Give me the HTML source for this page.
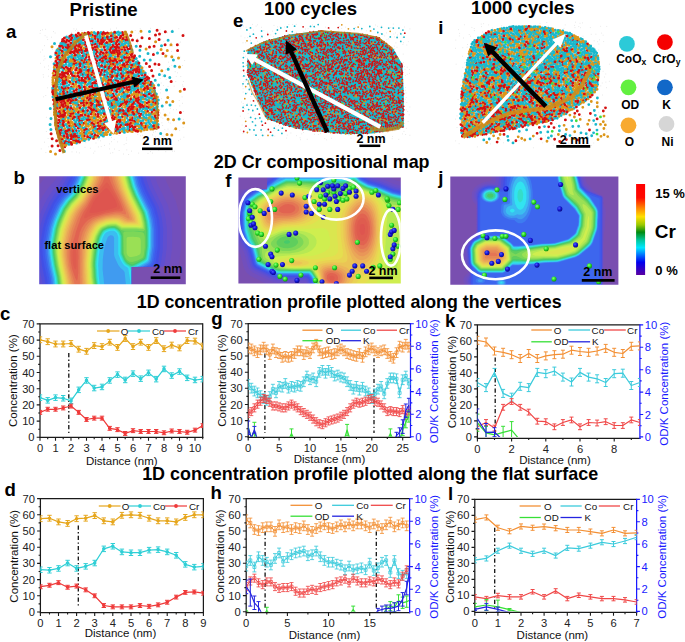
<!DOCTYPE html>
<html><head><meta charset="utf-8"><style>
*{margin:0;padding:0}
html,body{width:685px;height:642px;overflow:hidden;background:#fff}
svg{display:block}
text{font-family:"Liberation Sans",sans-serif}
.tk{font-size:11.2px;fill:#222}
.lg{font-size:9.8px;fill:#111}
.at{font-size:11.5px;fill:#111}
.tt{font-size:18.6px;font-weight:bold;fill:#000}
.t2{font-size:17.8px;font-weight:bold;fill:#000}
.pl{font-size:18.6px;font-weight:bold;fill:#000}
.sb{font-size:12.5px;font-weight:bold;fill:#000}
.lgd{font-size:12px;font-weight:bold;fill:#000}
.hl{font-size:11.2px;font-weight:bold;fill:#000}
.cb{font-size:13px;font-weight:bold;fill:#000}
.cb2{font-size:19px;font-weight:bold;fill:#000}
</style></head>
<body><svg width="685" height="642" viewBox="0 0 685 642">
<path d="M40 323.9H202.7M40 323.3V438M39.4 437.4H203.3" stroke="#1a1a1a" stroke-width="1.25" fill="none"/>
<path d="M202.7 323.3V438" stroke="#1a1a1a" stroke-width="1.25" fill="none"/>
<path d="M40 437.4v3.3M55.5 437.4v3.3M71 437.4v3.3M86.5 437.4v3.3M102 437.4v3.3M117.5 437.4v3.3M133 437.4v3.3M148.5 437.4v3.3M164 437.4v3.3M179.5 437.4v3.3M195 437.4v3.3M47.7 437.4v1.8M63.2 437.4v1.8M78.7 437.4v1.8M94.2 437.4v1.8M109.7 437.4v1.8M125.2 437.4v1.8M140.7 437.4v1.8M156.2 437.4v1.8M171.7 437.4v1.8M187.2 437.4v1.8M202.7 437.4v1.8M40 437.3h-3.3M40 421.1h-3.3M40 404.9h-3.3M40 388.7h-3.3M40 372.5h-3.3M40 356.3h-3.3M40 340.1h-3.3M40 323.9h-3.3M40 429.2h-1.8M40 413h-1.8M40 396.8h-1.8M40 380.6h-1.8M40 364.4h-1.8M40 348.2h-1.8M40 332h-1.8" stroke="#1a1a1a" stroke-width="1.1" fill="none"/>
<text x="40" y="451.7" text-anchor="middle" class="tk">0</text>
<text x="55.5" y="451.7" text-anchor="middle" class="tk">1</text>
<text x="71" y="451.7" text-anchor="middle" class="tk">2</text>
<text x="86.5" y="451.7" text-anchor="middle" class="tk">3</text>
<text x="102" y="451.7" text-anchor="middle" class="tk">4</text>
<text x="117.5" y="451.7" text-anchor="middle" class="tk">5</text>
<text x="133" y="451.7" text-anchor="middle" class="tk">6</text>
<text x="148.5" y="451.7" text-anchor="middle" class="tk">7</text>
<text x="164" y="451.7" text-anchor="middle" class="tk">8</text>
<text x="179.5" y="451.7" text-anchor="middle" class="tk">9</text>
<text x="195" y="451.7" text-anchor="middle" class="tk">10</text>
<text x="34.6" y="441.3" text-anchor="end" class="tk">0</text>
<text x="34.6" y="425.1" text-anchor="end" class="tk">10</text>
<text x="34.6" y="408.9" text-anchor="end" class="tk">20</text>
<text x="34.6" y="392.7" text-anchor="end" class="tk">30</text>
<text x="34.6" y="376.5" text-anchor="end" class="tk">40</text>
<text x="34.6" y="360.3" text-anchor="end" class="tk">50</text>
<text x="34.6" y="344.1" text-anchor="end" class="tk">60</text>
<text x="34.6" y="327.9" text-anchor="end" class="tk">70</text>
<clipPath id="cl723"><rect x="40" y="323.9" width="162.7" height="113.4"/></clipPath>
<path d="M68.8 353V433.5" stroke="#111" stroke-width="1.3" stroke-dasharray="4.2 2.4 1.3 2.4" fill="none"/>
<g clip-path="url(#cl723)">
<polyline points="40,339.8 47.7,341.7 55.5,344 63.2,344 71,343.5 78.7,349.2 86.5,351.3 94.2,345.6 102,346.6 109.7,342.2 117.5,347.4 125.2,338.5 133,346.6 140.7,342.2 148.5,347.4 156.2,340.6 164,348.7 171.7,345.1 179.5,347.9 187.2,340.6 195,341.1 202.7,346.1" fill="none" stroke="#e6a61c" stroke-width="1.2" stroke-linejoin="round"/>
<path d="M40 336.9V342.7M37.8 336.9h4.4M37.8 342.7h4.4M47.7 338.8V344.6M45.5 338.8h4.4M45.5 344.6h4.4M55.5 341.1V346.9M53.3 341.1h4.4M53.3 346.9h4.4M63.2 341.1V346.9M61 341.1h4.4M61 346.9h4.4M71 340.6V346.4M68.8 340.6h4.4M68.8 346.4h4.4M78.7 346.3V352.1M76.5 346.3h4.4M76.5 352.1h4.4M86.5 348.4V354.2M84.3 348.4h4.4M84.3 354.2h4.4M94.2 342.7V348.5M92 342.7h4.4M92 348.5h4.4M102 343.7V349.5M99.8 343.7h4.4M99.8 349.5h4.4M109.7 339.3V345.1M107.5 339.3h4.4M107.5 345.1h4.4M117.5 344.5V350.3M115.3 344.5h4.4M115.3 350.3h4.4M125.2 335.6V341.4M123 335.6h4.4M123 341.4h4.4M133 343.7V349.5M130.8 343.7h4.4M130.8 349.5h4.4M140.7 339.3V345.1M138.5 339.3h4.4M138.5 345.1h4.4M148.5 344.5V350.3M146.3 344.5h4.4M146.3 350.3h4.4M156.2 337.7V343.5M154 337.7h4.4M154 343.5h4.4M164 345.8V351.6M161.8 345.8h4.4M161.8 351.6h4.4M171.7 342.2V348M169.5 342.2h4.4M169.5 348h4.4M179.5 345V350.8M177.3 345h4.4M177.3 350.8h4.4M187.2 337.7V343.5M185 337.7h4.4M185 343.5h4.4M195 338.2V344M192.8 338.2h4.4M192.8 344h4.4M202.7 343.2V349M200.5 343.2h4.4M200.5 349h4.4" fill="none" stroke="#e6a61c" stroke-width="1.0"/>
<path d="M40 339.8h0M47.7 341.7h0M55.5 344h0M63.2 344h0M71 343.5h0M78.7 349.2h0M86.5 351.3h0M94.2 345.6h0M102 346.6h0M109.7 342.2h0M117.5 347.4h0M125.2 338.5h0M133 346.6h0M140.7 342.2h0M148.5 347.4h0M156.2 340.6h0M164 348.7h0M171.7 345.1h0M179.5 347.9h0M187.2 340.6h0M195 341.1h0M202.7 346.1h0" stroke="#e6a61c" stroke-width="3.6" stroke-linecap="round"/>
<polyline points="40,397.6 47.7,400.4 55.5,397.6 63.2,398.3 71,400.9 78.7,389.8 86.5,380.4 94.2,388.1 102,386.9 109.7,380.4 117.5,374.6 125.2,380 133,373.6 140.7,378.7 148.5,372.8 156.2,379.1 164,368.9 171.7,375.6 179.5,371.5 187.2,377.8 195,380 202.7,379.1" fill="none" stroke="#2fcfd6" stroke-width="1.2" stroke-linejoin="round"/>
<path d="M40 394.9V400.4M37.8 394.9h4.4M37.8 400.4h4.4M47.7 397.6V403.1M45.5 397.6h4.4M45.5 403.1h4.4M55.5 394.9V400.4M53.3 394.9h4.4M53.3 400.4h4.4M63.2 395.5V401M61 395.5h4.4M61 401h4.4M71 398.1V403.6M68.8 398.1h4.4M68.8 403.6h4.4M78.7 387.1V392.6M76.5 387.1h4.4M76.5 392.6h4.4M86.5 377.7V383.2M84.3 377.7h4.4M84.3 383.2h4.4M94.2 385.3V390.8M92 385.3h4.4M92 390.8h4.4M102 384.2V389.7M99.8 384.2h4.4M99.8 389.7h4.4M109.7 377.7V383.2M107.5 377.7h4.4M107.5 383.2h4.4M117.5 371.9V377.4M115.3 371.9h4.4M115.3 377.4h4.4M125.2 377.2V382.7M123 377.2h4.4M123 382.7h4.4M133 370.9V376.4M130.8 370.9h4.4M130.8 376.4h4.4M140.7 375.9V381.4M138.5 375.9h4.4M138.5 381.4h4.4M148.5 370.1V375.6M146.3 370.1h4.4M146.3 375.6h4.4M156.2 376.4V381.9M154 376.4h4.4M154 381.9h4.4M164 366.2V371.7M161.8 366.2h4.4M161.8 371.7h4.4M171.7 372.8V378.3M169.5 372.8h4.4M169.5 378.3h4.4M179.5 368.8V374.3M177.3 368.8h4.4M177.3 374.3h4.4M187.2 375.1V380.6M185 375.1h4.4M185 380.6h4.4M195 377.2V382.7M192.8 377.2h4.4M192.8 382.7h4.4M202.7 376.4V381.9M200.5 376.4h4.4M200.5 381.9h4.4" fill="none" stroke="#2fcfd6" stroke-width="1.0"/>
<path d="M40 397.6h0M47.7 400.4h0M55.5 397.6h0M63.2 398.3h0M71 400.9h0M78.7 389.8h0M86.5 380.4h0M94.2 388.1h0M102 386.9h0M109.7 380.4h0M117.5 374.6h0M125.2 380h0M133 373.6h0M140.7 378.7h0M148.5 372.8h0M156.2 379.1h0M164 368.9h0M171.7 375.6h0M179.5 371.5h0M187.2 377.8h0M195 380h0M202.7 379.1h0" stroke="#2fcfd6" stroke-width="3.6" stroke-linecap="round"/>
<polyline points="40,412.4 47.7,409.3 55.5,409.3 63.2,408 71,406 78.7,412.4 86.5,419.5 94.2,418.2 102,418.2 109.7,428.4 117.5,429.7 125.2,433.4 133,430.7 140.7,431.5 148.5,431.5 156.2,431.5 164,432.8 171.7,431 179.5,431.5 187.2,432.3 195,430.2 202.7,425.6" fill="none" stroke="#ef3a3a" stroke-width="1.2" stroke-linejoin="round"/>
<path d="M40 410.4V414.3M37.8 410.4h4.4M37.8 414.3h4.4M47.7 407.3V411.2M45.5 407.3h4.4M45.5 411.2h4.4M55.5 407.3V411.2M53.3 407.3h4.4M53.3 411.2h4.4M63.2 406V409.9M61 406h4.4M61 409.9h4.4M71 404.1V408M68.8 404.1h4.4M68.8 408h4.4M78.7 410.4V414.3M76.5 410.4h4.4M76.5 414.3h4.4M86.5 417.5V421.4M84.3 417.5h4.4M84.3 421.4h4.4M94.2 416.2V420.1M92 416.2h4.4M92 420.1h4.4M102 416.2V420.1M99.8 416.2h4.4M99.8 420.1h4.4M109.7 426.4V430.3M107.5 426.4h4.4M107.5 430.3h4.4M117.5 427.7V431.6M115.3 427.7h4.4M115.3 431.6h4.4M125.2 431.5V435.4M123 431.5h4.4M123 435.4h4.4M133 428.7V432.6M130.8 428.7h4.4M130.8 432.6h4.4M140.7 429.5V433.4M138.5 429.5h4.4M138.5 433.4h4.4M148.5 429.5V433.4M146.3 429.5h4.4M146.3 433.4h4.4M156.2 429.5V433.4M154 429.5h4.4M154 433.4h4.4M164 430.8V434.7M161.8 430.8h4.4M161.8 434.7h4.4M171.7 429V432.9M169.5 429h4.4M169.5 432.9h4.4M179.5 429.5V433.4M177.3 429.5h4.4M177.3 433.4h4.4M187.2 430.3V434.2M185 430.3h4.4M185 434.2h4.4M195 428.2V432.1M192.8 428.2h4.4M192.8 432.1h4.4M202.7 423.7V427.6M200.5 423.7h4.4M200.5 427.6h4.4" fill="none" stroke="#ef3a3a" stroke-width="1.0"/>
<path d="M40 412.4h0M47.7 409.3h0M55.5 409.3h0M63.2 408h0M71 406h0M78.7 412.4h0M86.5 419.5h0M94.2 418.2h0M102 418.2h0M109.7 428.4h0M117.5 429.7h0M125.2 433.4h0M133 430.7h0M140.7 431.5h0M148.5 431.5h0M156.2 431.5h0M164 432.8h0M171.7 431h0M179.5 431.5h0M187.2 432.3h0M195 430.2h0M202.7 425.6h0" stroke="#ef3a3a" stroke-width="3.6" stroke-linecap="round"/>
</g>
<path d="M97 331H119.5" stroke="#e6a61c" stroke-width="1.2"/><circle cx="108.2" cy="331" r="1.9" fill="#e6a61c"/>
<text x="120.7" y="334.6" class="lg">O</text>
<path d="M128 331H150" stroke="#2fcfd6" stroke-width="1.2"/><circle cx="139" cy="331" r="1.9" fill="#2fcfd6"/>
<text x="152" y="334.6" class="lg">Co</text>
<path d="M164 331H186" stroke="#ef3a3a" stroke-width="1.2"/><circle cx="175" cy="331" r="1.9" fill="#ef3a3a"/>
<text x="188" y="334.6" class="lg">Cr</text>
<path d="M40.4 498.6H203.4M40.4 498V613.2M39.8 612.6H204" stroke="#1a1a1a" stroke-width="1.25" fill="none"/>
<path d="M203.4 498V613.2" stroke="#1a1a1a" stroke-width="1.25" fill="none"/>
<path d="M40.4 612.6v3.3M58.5 612.6v3.3M76.6 612.6v3.3M94.7 612.6v3.3M112.8 612.6v3.3M131 612.6v3.3M149.1 612.6v3.3M167.2 612.6v3.3M185.3 612.6v3.3M203.4 612.6v3.3M49.5 612.6v1.8M67.6 612.6v1.8M85.7 612.6v1.8M103.8 612.6v1.8M121.9 612.6v1.8M140 612.6v1.8M158.1 612.6v1.8M176.2 612.6v1.8M194.3 612.6v1.8M40.4 612h-3.3M40.4 595.8h-3.3M40.4 579.6h-3.3M40.4 563.4h-3.3M40.4 547.2h-3.3M40.4 531h-3.3M40.4 514.8h-3.3M40.4 498.6h-3.3M40.4 603.9h-1.8M40.4 587.7h-1.8M40.4 571.5h-1.8M40.4 555.3h-1.8M40.4 539.1h-1.8M40.4 522.9h-1.8M40.4 506.7h-1.8" stroke="#1a1a1a" stroke-width="1.1" fill="none"/>
<text x="40.4" y="626.9" text-anchor="middle" class="tk">0</text>
<text x="58.5" y="626.9" text-anchor="middle" class="tk">1</text>
<text x="76.6" y="626.9" text-anchor="middle" class="tk">2</text>
<text x="94.7" y="626.9" text-anchor="middle" class="tk">3</text>
<text x="112.8" y="626.9" text-anchor="middle" class="tk">4</text>
<text x="131" y="626.9" text-anchor="middle" class="tk">5</text>
<text x="149.1" y="626.9" text-anchor="middle" class="tk">6</text>
<text x="167.2" y="626.9" text-anchor="middle" class="tk">7</text>
<text x="185.3" y="626.9" text-anchor="middle" class="tk">8</text>
<text x="203.4" y="626.9" text-anchor="middle" class="tk">9</text>
<text x="35" y="616" text-anchor="end" class="tk">0</text>
<text x="35" y="599.8" text-anchor="end" class="tk">10</text>
<text x="35" y="583.6" text-anchor="end" class="tk">20</text>
<text x="35" y="567.4" text-anchor="end" class="tk">30</text>
<text x="35" y="551.2" text-anchor="end" class="tk">40</text>
<text x="35" y="535" text-anchor="end" class="tk">50</text>
<text x="35" y="518.8" text-anchor="end" class="tk">60</text>
<text x="35" y="502.6" text-anchor="end" class="tk">70</text>
<clipPath id="cl902"><rect x="40.4" y="498.6" width="163" height="113.4"/></clipPath>
<path d="M78.3 525.5V607" stroke="#111" stroke-width="1.3" stroke-dasharray="4.2 2.4 1.3 2.4" fill="none"/>
<g clip-path="url(#cl902)">
<polyline points="40.4,518.7 49.5,518.2 58.5,521.9 67.6,523.4 76.6,518.7 85.7,518.2 94.7,515.6 103.8,520.8 112.8,521.9 121.9,515.3 131,514.8 140,515.3 149.1,518.2 158.1,520.8 167.2,520.8 176.2,521.9 185.3,517.4 194.3,514.8 203.4,514.8" fill="none" stroke="#e6a61c" stroke-width="1.2" stroke-linejoin="round"/>
<path d="M40.4 515.8V521.6M38.2 515.8h4.4M38.2 521.6h4.4M49.5 515.3V521.1M47.3 515.3h4.4M47.3 521.1h4.4M58.5 519V524.8M56.3 519h4.4M56.3 524.8h4.4M67.6 520.5V526.3M65.4 520.5h4.4M65.4 526.3h4.4M76.6 515.8V521.6M74.4 515.8h4.4M74.4 521.6h4.4M85.7 515.3V521.1M83.5 515.3h4.4M83.5 521.1h4.4M94.7 512.7V518.5M92.5 512.7h4.4M92.5 518.5h4.4M103.8 517.9V523.7M101.6 517.9h4.4M101.6 523.7h4.4M112.8 519V524.8M110.6 519h4.4M110.6 524.8h4.4M121.9 512.4V518.2M119.7 512.4h4.4M119.7 518.2h4.4M131 511.9V517.7M128.8 511.9h4.4M128.8 517.7h4.4M140 512.4V518.2M137.8 512.4h4.4M137.8 518.2h4.4M149.1 515.3V521.1M146.9 515.3h4.4M146.9 521.1h4.4M158.1 517.9V523.7M155.9 517.9h4.4M155.9 523.7h4.4M167.2 517.9V523.7M165 517.9h4.4M165 523.7h4.4M176.2 519V524.8M174 519h4.4M174 524.8h4.4M185.3 514.5V520.3M183.1 514.5h4.4M183.1 520.3h4.4M194.3 511.9V517.7M192.1 511.9h4.4M192.1 517.7h4.4M203.4 511.9V517.7M201.2 511.9h4.4M201.2 517.7h4.4" fill="none" stroke="#e6a61c" stroke-width="1.0"/>
<path d="M40.4 518.7h0M49.5 518.2h0M58.5 521.9h0M67.6 523.4h0M76.6 518.7h0M85.7 518.2h0M94.7 515.6h0M103.8 520.8h0M112.8 521.9h0M121.9 515.3h0M131 514.8h0M140 515.3h0M149.1 518.2h0M158.1 520.8h0M167.2 520.8h0M176.2 521.9h0M185.3 517.4h0M194.3 514.8h0M203.4 514.8h0" stroke="#e6a61c" stroke-width="3.6" stroke-linecap="round"/>
<polyline points="40.4,569.7 49.5,570.2 58.5,568.4 67.6,563.1 76.6,568.4 85.7,566.3 94.7,563.1 103.8,548.8 112.8,546.2 121.9,551.9 131,552.7 140,552.7 149.1,550.1 158.1,549.6 167.2,551.9 176.2,555.3 185.3,564.4 194.3,567.1 203.4,566.3" fill="none" stroke="#2fcfd6" stroke-width="1.2" stroke-linejoin="round"/>
<path d="M40.4 567V572.5M38.2 567h4.4M38.2 572.5h4.4M49.5 567.5V573M47.3 567.5h4.4M47.3 573h4.4M58.5 565.7V571.2M56.3 565.7h4.4M56.3 571.2h4.4M67.6 560.3V565.8M65.4 560.3h4.4M65.4 565.8h4.4M76.6 565.7V571.2M74.4 565.7h4.4M74.4 571.2h4.4M85.7 563.6V569.1M83.5 563.6h4.4M83.5 569.1h4.4M94.7 560.3V565.8M92.5 560.3h4.4M92.5 565.8h4.4M103.8 546.1V551.6M101.6 546.1h4.4M101.6 551.6h4.4M112.8 543.5V549M110.6 543.5h4.4M110.6 549h4.4M121.9 549.1V554.7M119.7 549.1h4.4M119.7 554.7h4.4M131 550V555.5M128.8 550h4.4M128.8 555.5h4.4M140 550V555.5M137.8 550h4.4M137.8 555.5h4.4M149.1 547.4V552.9M146.9 547.4h4.4M146.9 552.9h4.4M158.1 546.9V552.4M155.9 546.9h4.4M155.9 552.4h4.4M167.2 549.1V554.7M165 549.1h4.4M165 554.7h4.4M176.2 552.5V558.1M174 552.5h4.4M174 558.1h4.4M185.3 561.6V567.1M183.1 561.6h4.4M183.1 567.1h4.4M194.3 564.4V569.9M192.1 564.4h4.4M192.1 569.9h4.4M203.4 563.6V569.1M201.2 563.6h4.4M201.2 569.1h4.4" fill="none" stroke="#2fcfd6" stroke-width="1.0"/>
<path d="M40.4 569.7h0M49.5 570.2h0M58.5 568.4h0M67.6 563.1h0M76.6 568.4h0M85.7 566.3h0M94.7 563.1h0M103.8 548.8h0M112.8 546.2h0M121.9 551.9h0M131 552.7h0M140 552.7h0M149.1 550.1h0M158.1 549.6h0M167.2 551.9h0M176.2 555.3h0M185.3 564.4h0M194.3 567.1h0M203.4 566.3h0" stroke="#2fcfd6" stroke-width="3.6" stroke-linecap="round"/>
<polyline points="40.4,586.7 49.5,585.3 58.5,582.7 67.6,587.2 76.6,586.1 85.7,589.8 94.7,595.8 103.8,605.5 112.8,606.8 121.9,606.8 131,606.8 140,605.5 149.1,606.3 158.1,604.9 167.2,602.3 176.2,597.1 185.3,592.4 194.3,591.9 203.4,593.2" fill="none" stroke="#ef3a3a" stroke-width="1.2" stroke-linejoin="round"/>
<path d="M40.4 584.8V588.7M38.2 584.8h4.4M38.2 588.7h4.4M49.5 583.3V587.2M47.3 583.3h4.4M47.3 587.2h4.4M58.5 580.7V584.6M56.3 580.7h4.4M56.3 584.6h4.4M67.6 585.3V589.2M65.4 585.3h4.4M65.4 589.2h4.4M76.6 584.1V588M74.4 584.1h4.4M74.4 588h4.4M85.7 587.9V591.8M83.5 587.9h4.4M83.5 591.8h4.4M94.7 593.9V597.7M92.5 593.9h4.4M92.5 597.7h4.4M103.8 603.6V607.5M101.6 603.6h4.4M101.6 607.5h4.4M112.8 604.9V608.8M110.6 604.9h4.4M110.6 608.8h4.4M121.9 604.9V608.8M119.7 604.9h4.4M119.7 608.8h4.4M131 604.9V608.8M128.8 604.9h4.4M128.8 608.8h4.4M140 603.6V607.5M137.8 603.6h4.4M137.8 607.5h4.4M149.1 604.4V608.3M146.9 604.4h4.4M146.9 608.3h4.4M158.1 602.9V606.8M155.9 602.9h4.4M155.9 606.8h4.4M167.2 600.3V604.2M165 600.3h4.4M165 604.2h4.4M176.2 595.2V599M174 595.2h4.4M174 599h4.4M185.3 590.5V594.3M183.1 590.5h4.4M183.1 594.3h4.4M194.3 590V593.9M192.1 590h4.4M192.1 593.9h4.4M203.4 591.3V595.2M201.2 591.3h4.4M201.2 595.2h4.4" fill="none" stroke="#ef3a3a" stroke-width="1.0"/>
<path d="M40.4 586.7h0M49.5 585.3h0M58.5 582.7h0M67.6 587.2h0M76.6 586.1h0M85.7 589.8h0M94.7 595.8h0M103.8 605.5h0M112.8 606.8h0M121.9 606.8h0M131 606.8h0M140 605.5h0M149.1 606.3h0M158.1 604.9h0M167.2 602.3h0M176.2 597.1h0M185.3 592.4h0M194.3 591.9h0M203.4 593.2h0" stroke="#ef3a3a" stroke-width="3.6" stroke-linecap="round"/>
</g>
<path d="M98.8 506H120.6" stroke="#e6a61c" stroke-width="1.2"/><circle cx="109.7" cy="506" r="1.9" fill="#e6a61c"/>
<text x="121.8" y="509.6" class="lg">O</text>
<path d="M129 506H151" stroke="#2fcfd6" stroke-width="1.2"/><circle cx="140" cy="506" r="1.9" fill="#2fcfd6"/>
<text x="153" y="509.6" class="lg">Co</text>
<path d="M165 506H187" stroke="#ef3a3a" stroke-width="1.2"/><circle cx="176" cy="506" r="1.9" fill="#ef3a3a"/>
<text x="189" y="509.6" class="lg">Cr</text>
<path d="M248.2 323.7H410.5M248.2 323.1V437.9M247.6 437.3H411.1" stroke="#1a1a1a" stroke-width="1.25" fill="none"/>
<path d="M410.5 323.1V437.9" stroke="#1a1aff" stroke-width="1.25" fill="none"/>
<path d="M248.2 437.3v3.3M279.1 437.3v3.3M310 437.3v3.3M340.9 437.3v3.3M371.8 437.3v3.3M402.7 437.3v3.3M263.7 437.3v1.8M294.6 437.3v1.8M325.5 437.3v1.8M356.4 437.3v1.8M387.3 437.3v1.8M248.2 436.8h-3.3M248.2 420.6h-3.3M248.2 404.5h-3.3M248.2 388.3h-3.3M248.2 372.2h-3.3M248.2 356h-3.3M248.2 339.9h-3.3M248.2 323.7h-3.3M248.2 428.7h-1.8M248.2 412.6h-1.8M248.2 396.4h-1.8M248.2 380.2h-1.8M248.2 364.1h-1.8M248.2 347.9h-1.8M248.2 331.8h-1.8" stroke="#1a1a1a" stroke-width="1.1" fill="none"/>
<text x="248.2" y="451.6" text-anchor="middle" class="tk">0</text>
<text x="279.1" y="451.6" text-anchor="middle" class="tk">5</text>
<text x="310" y="451.6" text-anchor="middle" class="tk">10</text>
<text x="340.9" y="451.6" text-anchor="middle" class="tk">15</text>
<text x="371.8" y="451.6" text-anchor="middle" class="tk">20</text>
<text x="402.7" y="451.6" text-anchor="middle" class="tk">25</text>
<text x="242.8" y="440.8" text-anchor="end" class="tk">0</text>
<text x="242.8" y="424.6" text-anchor="end" class="tk">10</text>
<text x="242.8" y="408.5" text-anchor="end" class="tk">20</text>
<text x="242.8" y="392.3" text-anchor="end" class="tk">30</text>
<text x="242.8" y="376.2" text-anchor="end" class="tk">40</text>
<text x="242.8" y="360" text-anchor="end" class="tk">50</text>
<text x="242.8" y="343.9" text-anchor="end" class="tk">60</text>
<text x="242.8" y="327.7" text-anchor="end" class="tk">70</text>
<path d="M410.5 436.8h3.3M410.5 414.2h3.3M410.5 391.6h3.3M410.5 368.9h3.3M410.5 346.3h3.3M410.5 323.7h3.3M410.5 425.5h1.8M410.5 402.9h1.8M410.5 380.2h1.8M410.5 357.6h1.8M410.5 335h1.8" stroke="#1a1aff" stroke-width="1.1" fill="none"/>
<text x="415.3" y="440.8" class="tk" style="fill:#1a1aff">0</text>
<text x="415.3" y="418.2" class="tk" style="fill:#1a1aff">2</text>
<text x="415.3" y="395.6" class="tk" style="fill:#1a1aff">4</text>
<text x="415.3" y="372.9" class="tk" style="fill:#1a1aff">6</text>
<text x="415.3" y="350.3" class="tk" style="fill:#1a1aff">8</text>
<text x="415.3" y="327.7" class="tk" style="fill:#1a1aff">10</text>
<clipPath id="cl2805"><rect x="248.2" y="323.7" width="162.3" height="113.1"/></clipPath>
<path d="M264.9 353.6V433" stroke="#111" stroke-width="1.3" stroke-dasharray="4.2 2.4 1.3 2.4" fill="none"/>
<path d="M374 358.3V433" stroke="#111" stroke-width="1.3" stroke-dasharray="4.2 2.4 1.3 2.4" fill="none"/>
<g clip-path="url(#cl2805)">
<polyline points="248.2,347.9 251.3,348.9 254.4,350.8 257.5,352.6 260.6,349.9 263.7,347.1 266.7,349.9 269.8,354.6 272.9,348.9 276,352.6 279.1,353.6 282.2,357.3 285.3,356.3 288.4,357.3 291.5,356.3 294.6,353.6 297.6,350.8 300.7,350.8 303.8,354.6 306.9,351.8 310,353.6 313.1,347.9 316.2,344.2 319.3,350.8 322.4,353.6 325.5,352.6 328.5,351.8 331.6,354.6 334.7,353.6 337.8,350.8 340.9,348.9 344,350.8 347.1,353.6 350.2,354.6 353.3,355.5 356.4,356.3 359.4,353.6 362.5,357.3 365.6,351.8 368.7,349.9 371.8,347.9 374.9,350.8 378,352.6 381.1,350.8 384.2,349.9 387.3,353.6 390.4,356.3 393.4,358.3 396.5,352.6 399.6,346.2 402.7,347.1 405.8,344.2 408.9,347.1" fill="none" stroke="#f39035" stroke-width="1.0" stroke-linejoin="round"/>
<path d="M248.2 343.1V352.8M246.2 343.1h4M246.2 352.8h4M251.3 344.1V353.8M249.3 344.1h4M249.3 353.8h4M254.4 346V355.7M252.4 346h4M252.4 355.7h4M257.5 347.8V357.5M255.5 347.8h4M255.5 357.5h4M260.6 345V354.7M258.6 345h4M258.6 354.7h4M263.7 342.3V352M261.7 342.3h4M261.7 352h4M266.7 345V354.7M264.7 345h4M264.7 354.7h4M269.8 349.7V359.4M267.8 349.7h4M267.8 359.4h4M272.9 344.1V353.8M270.9 344.1h4M270.9 353.8h4M276 347.8V357.5M274 347.8h4M274 357.5h4M279.1 348.7V358.4M277.1 348.7h4M277.1 358.4h4M282.2 352.5V362.2M280.2 352.5h4M280.2 362.2h4M285.3 351.5V361.2M283.3 351.5h4M283.3 361.2h4M288.4 352.5V362.2M286.4 352.5h4M286.4 362.2h4M291.5 351.5V361.2M289.5 351.5h4M289.5 361.2h4M294.6 348.7V358.4M292.6 348.7h4M292.6 358.4h4M297.6 346V355.7M295.6 346h4M295.6 355.7h4M300.7 346V355.7M298.7 346h4M298.7 355.7h4M303.8 349.7V359.4M301.8 349.7h4M301.8 359.4h4M306.9 347V356.7M304.9 347h4M304.9 356.7h4M310 348.7V358.4M308 348.7h4M308 358.4h4M313.1 343.1V352.8M311.1 343.1h4M311.1 352.8h4M316.2 339.4V349.1M314.2 339.4h4M314.2 349.1h4M319.3 346V355.7M317.3 346h4M317.3 355.7h4M322.4 348.7V358.4M320.4 348.7h4M320.4 358.4h4M325.5 347.8V357.5M323.5 347.8h4M323.5 357.5h4M328.5 347V356.7M326.5 347h4M326.5 356.7h4M331.6 349.7V359.4M329.6 349.7h4M329.6 359.4h4M334.7 348.7V358.4M332.7 348.7h4M332.7 358.4h4M337.8 346V355.7M335.8 346h4M335.8 355.7h4M340.9 344.1V353.8M338.9 344.1h4M338.9 353.8h4M344 346V355.7M342 346h4M342 355.7h4M347.1 348.7V358.4M345.1 348.7h4M345.1 358.4h4M350.2 349.7V359.4M348.2 349.7h4M348.2 359.4h4M353.3 350.7V360.4M351.3 350.7h4M351.3 360.4h4M356.4 351.5V361.2M354.4 351.5h4M354.4 361.2h4M359.4 348.7V358.4M357.4 348.7h4M357.4 358.4h4M362.5 352.5V362.2M360.5 352.5h4M360.5 362.2h4M365.6 347V356.7M363.6 347h4M363.6 356.7h4M368.7 345V354.7M366.7 345h4M366.7 354.7h4M371.8 343.1V352.8M369.8 343.1h4M369.8 352.8h4M374.9 346V355.7M372.9 346h4M372.9 355.7h4M378 347.8V357.5M376 347.8h4M376 357.5h4M381.1 346V355.7M379.1 346h4M379.1 355.7h4M384.2 345V354.7M382.2 345h4M382.2 354.7h4M387.3 348.7V358.4M385.3 348.7h4M385.3 358.4h4M390.4 351.5V361.2M388.4 351.5h4M388.4 361.2h4M393.4 353.4V363.1M391.4 353.4h4M391.4 363.1h4M396.5 347.8V357.5M394.5 347.8h4M394.5 357.5h4M399.6 341.3V351M397.6 341.3h4M397.6 351h4M402.7 342.3V352M400.7 342.3h4M400.7 352h4M405.8 339.4V349.1M403.8 339.4h4M403.8 349.1h4M408.9 342.3V352M406.9 342.3h4M406.9 352h4" fill="none" stroke="#f39035" stroke-width="0.85"/>
<path d="M246.7 346.4h3v3h-3zM249.8 347.4h3v3h-3zM252.9 349.3h3v3h-3zM256 351.1h3v3h-3zM259.1 348.4h3v3h-3zM262.2 345.6h3v3h-3zM265.2 348.4h3v3h-3zM268.3 353.1h3v3h-3zM271.4 347.4h3v3h-3zM274.5 351.1h3v3h-3zM277.6 352.1h3v3h-3zM280.7 355.8h3v3h-3zM283.8 354.8h3v3h-3zM286.9 355.8h3v3h-3zM290 354.8h3v3h-3zM293.1 352.1h3v3h-3zM296.1 349.3h3v3h-3zM299.2 349.3h3v3h-3zM302.3 353.1h3v3h-3zM305.4 350.3h3v3h-3zM308.5 352.1h3v3h-3zM311.6 346.4h3v3h-3zM314.7 342.7h3v3h-3zM317.8 349.3h3v3h-3zM320.9 352.1h3v3h-3zM324 351.1h3v3h-3zM327 350.3h3v3h-3zM330.1 353.1h3v3h-3zM333.2 352.1h3v3h-3zM336.3 349.3h3v3h-3zM339.4 347.4h3v3h-3zM342.5 349.3h3v3h-3zM345.6 352.1h3v3h-3zM348.7 353.1h3v3h-3zM351.8 354h3v3h-3zM354.9 354.8h3v3h-3zM357.9 352.1h3v3h-3zM361 355.8h3v3h-3zM364.1 350.3h3v3h-3zM367.2 348.4h3v3h-3zM370.3 346.4h3v3h-3zM373.4 349.3h3v3h-3zM376.5 351.1h3v3h-3zM379.6 349.3h3v3h-3zM382.7 348.4h3v3h-3zM385.8 352.1h3v3h-3zM388.9 354.8h3v3h-3zM391.9 356.8h3v3h-3zM395 351.1h3v3h-3zM398.1 344.7h3v3h-3zM401.2 345.6h3v3h-3zM404.3 342.7h3v3h-3zM407.4 345.6h3v3h-3z" fill="none" stroke="#f39035" stroke-width="0.8"/>
<polyline points="248.2,384.5 251.3,388.2 254.4,391.1 257.5,392.9 260.6,395.6 263.7,398.5 266.7,400.3 269.8,396.6 272.9,389.1 276,392.9 279.1,386.4 282.2,387.2 285.3,383.5 288.4,388.2 291.5,386.4 294.6,387.2 297.6,385.4 300.7,386.4 303.8,381.7 306.9,376 310,379.8 313.1,378 316.2,381.7 319.3,372.3 322.4,370.4 325.5,373.3 328.5,370.4 331.6,372.3 334.7,376 337.8,375.1 340.9,377 344,378 347.1,381.7 350.2,385.4 353.3,389.1 356.4,386.4 359.4,390.1 362.5,387.2 365.6,391.1 368.7,392.9 371.8,398.5 374.9,393.8 378,389.1 381.1,386.4 384.2,393.8 387.3,383.5 390.4,378 393.4,378 396.5,378.8 399.6,392.9 402.7,379.8 405.8,376 408.9,383.5" fill="none" stroke="#3ccbdc" stroke-width="1.0" stroke-linejoin="round"/>
<path d="M248.2 379.6V389.3M246.2 379.6h4M246.2 389.3h4M251.3 383.3V393M249.3 383.3h4M249.3 393h4M254.4 386.2V395.9M252.4 386.2h4M252.4 395.9h4M257.5 388V397.7M255.5 388h4M255.5 397.7h4M260.6 390.8V400.4M258.6 390.8h4M258.6 400.4h4M263.7 393.7V403.4M261.7 393.7h4M261.7 403.4h4M266.7 395.4V405.1M264.7 395.4h4M264.7 405.1h4M269.8 391.7V401.4M267.8 391.7h4M267.8 401.4h4M272.9 384.3V394M270.9 384.3h4M270.9 394h4M276 388V397.7M274 388h4M274 397.7h4M279.1 381.5V391.2M277.1 381.5h4M277.1 391.2h4M282.2 382.4V392M280.2 382.4h4M280.2 392h4M285.3 378.6V388.3M283.3 378.6h4M283.3 388.3h4M288.4 383.3V393M286.4 383.3h4M286.4 393h4M291.5 381.5V391.2M289.5 381.5h4M289.5 391.2h4M294.6 382.4V392M292.6 382.4h4M292.6 392h4M297.6 380.6V390.3M295.6 380.6h4M295.6 390.3h4M300.7 381.5V391.2M298.7 381.5h4M298.7 391.2h4M303.8 376.9V386.6M301.8 376.9h4M301.8 386.6h4M306.9 371.2V380.9M304.9 371.2h4M304.9 380.9h4M310 374.9V384.6M308 374.9h4M308 384.6h4M313.1 373.1V382.8M311.1 373.1h4M311.1 382.8h4M316.2 376.9V386.6M314.2 376.9h4M314.2 386.6h4M319.3 367.5V377.2M317.3 367.5h4M317.3 377.2h4M322.4 365.5V375.2M320.4 365.5h4M320.4 375.2h4M325.5 368.5V378.1M323.5 368.5h4M323.5 378.1h4M328.5 365.5V375.2M326.5 365.5h4M326.5 375.2h4M331.6 367.5V377.2M329.6 367.5h4M329.6 377.2h4M334.7 371.2V380.9M332.7 371.2h4M332.7 380.9h4M337.8 370.2V379.9M335.8 370.2h4M335.8 379.9h4M340.9 372.2V381.9M338.9 372.2h4M338.9 381.9h4M344 373.1V382.8M342 373.1h4M342 382.8h4M347.1 376.9V386.6M345.1 376.9h4M345.1 386.6h4M350.2 380.6V390.3M348.2 380.6h4M348.2 390.3h4M353.3 384.3V394M351.3 384.3h4M351.3 394h4M356.4 381.5V391.2M354.4 381.5h4M354.4 391.2h4M359.4 385.3V395M357.4 385.3h4M357.4 395h4M362.5 382.4V392M360.5 382.4h4M360.5 392h4M365.6 386.2V395.9M363.6 386.2h4M363.6 395.9h4M368.7 388V397.7M366.7 388h4M366.7 397.7h4M371.8 393.7V403.4M369.8 393.7h4M369.8 403.4h4M374.9 389V398.7M372.9 389h4M372.9 398.7h4M378 384.3V394M376 384.3h4M376 394h4M381.1 381.5V391.2M379.1 381.5h4M379.1 391.2h4M384.2 389V398.7M382.2 389h4M382.2 398.7h4M387.3 378.6V388.3M385.3 378.6h4M385.3 388.3h4M390.4 373.1V382.8M388.4 373.1h4M388.4 382.8h4M393.4 373.1V382.8M391.4 373.1h4M391.4 382.8h4M396.5 373.9V383.6M394.5 373.9h4M394.5 383.6h4M399.6 388V397.7M397.6 388h4M397.6 397.7h4M402.7 374.9V384.6M400.7 374.9h4M400.7 384.6h4M405.8 371.2V380.9M403.8 371.2h4M403.8 380.9h4M408.9 378.6V388.3M406.9 378.6h4M406.9 388.3h4" fill="none" stroke="#3ccbdc" stroke-width="0.85"/>
<path d="M246.7 383h3v3h-3zM249.8 386.7h3v3h-3zM252.9 389.6h3v3h-3zM256 391.4h3v3h-3zM259.1 394.1h3v3h-3zM262.2 397h3v3h-3zM265.2 398.8h3v3h-3zM268.3 395.1h3v3h-3zM271.4 387.6h3v3h-3zM274.5 391.4h3v3h-3zM277.6 384.9h3v3h-3zM280.7 385.7h3v3h-3zM283.8 382h3v3h-3zM286.9 386.7h3v3h-3zM290 384.9h3v3h-3zM293.1 385.7h3v3h-3zM296.1 383.9h3v3h-3zM299.2 384.9h3v3h-3zM302.3 380.2h3v3h-3zM305.4 374.5h3v3h-3zM308.5 378.3h3v3h-3zM311.6 376.5h3v3h-3zM314.7 380.2h3v3h-3zM317.8 370.8h3v3h-3zM320.9 368.9h3v3h-3zM324 371.8h3v3h-3zM327 368.9h3v3h-3zM330.1 370.8h3v3h-3zM333.2 374.5h3v3h-3zM336.3 373.6h3v3h-3zM339.4 375.5h3v3h-3zM342.5 376.5h3v3h-3zM345.6 380.2h3v3h-3zM348.7 383.9h3v3h-3zM351.8 387.6h3v3h-3zM354.9 384.9h3v3h-3zM357.9 388.6h3v3h-3zM361 385.7h3v3h-3zM364.1 389.6h3v3h-3zM367.2 391.4h3v3h-3zM370.3 397h3v3h-3zM373.4 392.3h3v3h-3zM376.5 387.6h3v3h-3zM379.6 384.9h3v3h-3zM382.7 392.3h3v3h-3zM385.8 382h3v3h-3zM388.9 376.5h3v3h-3zM391.9 376.5h3v3h-3zM395 377.3h3v3h-3zM398.1 391.4h3v3h-3zM401.2 378.3h3v3h-3zM404.3 374.5h3v3h-3zM407.4 382h3v3h-3z" fill="none" stroke="#3ccbdc" stroke-width="0.8"/>
<polyline points="248.2,413.4 251.3,411.6 254.4,407.9 257.5,404.2 260.6,401.3 263.7,398.5 266.7,399.5 269.8,402.2 272.9,405.9 276,405.9 279.1,406.9 282.2,407.9 285.3,407.9 288.4,405.9 291.5,404.2 294.6,405.9 297.6,407.9 300.7,410.6 303.8,412.6 306.9,414.3 310,416.3 313.1,419 316.2,421.8 319.3,423.7 322.4,424.7 325.5,422.7 328.5,421 331.6,420 334.7,419 337.8,418.1 340.9,416.3 344,414.3 347.1,411.6 350.2,407.9 353.3,404.2 356.4,402.2 359.4,403.2 362.5,402.2 365.6,401.3 368.7,399.5 371.8,398.5 374.9,401.3 378,402.2 381.1,405 384.2,407.9 387.3,411.6 390.4,410.6 393.4,411.6 396.5,411.6 399.6,412.6 402.7,409.7 405.8,415.3 408.9,410.9" fill="none" stroke="#f04848" stroke-width="1.0" stroke-linejoin="round"/>
<path d="M248.2 409.3V417.4M246.2 409.3h4M246.2 417.4h4M251.3 407.6V415.6M249.3 407.6h4M249.3 415.6h4M254.4 403.8V411.9M252.4 403.8h4M252.4 411.9h4M257.5 400.1V408.2M255.5 400.1h4M255.5 408.2h4M260.6 397.2V405.3M258.6 397.2h4M258.6 405.3h4M263.7 394.5V402.5M261.7 394.5h4M261.7 402.5h4M266.7 395.4V403.5M264.7 395.4h4M264.7 403.5h4M269.8 398.2V406.3M267.8 398.2h4M267.8 406.3h4M272.9 401.9V410M270.9 401.9h4M270.9 410h4M276 401.9V410M274 401.9h4M274 410h4M279.1 402.9V410.9M277.1 402.9h4M277.1 410.9h4M282.2 403.8V411.9M280.2 403.8h4M280.2 411.9h4M285.3 403.8V411.9M283.3 403.8h4M283.3 411.9h4M288.4 401.9V410M286.4 401.9h4M286.4 410h4M291.5 400.1V408.2M289.5 400.1h4M289.5 408.2h4M294.6 401.9V410M292.6 401.9h4M292.6 410h4M297.6 403.8V411.9M295.6 403.8h4M295.6 411.9h4M300.7 406.6V414.7M298.7 406.6h4M298.7 414.7h4M303.8 408.5V416.6M301.8 408.5h4M301.8 416.6h4M306.9 410.3V418.4M304.9 410.3h4M304.9 418.4h4M310 412.2V420.3M308 412.2h4M308 420.3h4M313.1 415V423.1M311.1 415h4M311.1 423.1h4M316.2 417.7V425.8M314.2 417.7h4M314.2 425.8h4M319.3 419.7V427.8M317.3 419.7h4M317.3 427.8h4M322.4 420.6V428.7M320.4 420.6h4M320.4 428.7h4M325.5 418.7V426.8M323.5 418.7h4M323.5 426.8h4M328.5 416.9V425M326.5 416.9h4M326.5 425h4M331.6 416V424M329.6 416h4M329.6 424h4M334.7 415V423.1M332.7 415h4M332.7 423.1h4M337.8 414V422.1M335.8 414h4M335.8 422.1h4M340.9 412.2V420.3M338.9 412.2h4M338.9 420.3h4M344 410.3V418.4M342 410.3h4M342 418.4h4M347.1 407.6V415.6M345.1 407.6h4M345.1 415.6h4M350.2 403.8V411.9M348.2 403.8h4M348.2 411.9h4M353.3 400.1V408.2M351.3 400.1h4M351.3 408.2h4M356.4 398.2V406.3M354.4 398.2h4M354.4 406.3h4M359.4 399.2V407.2M357.4 399.2h4M357.4 407.2h4M362.5 398.2V406.3M360.5 398.2h4M360.5 406.3h4M365.6 397.2V405.3M363.6 397.2h4M363.6 405.3h4M368.7 395.4V403.5M366.7 395.4h4M366.7 403.5h4M371.8 394.5V402.5M369.8 394.5h4M369.8 402.5h4M374.9 397.2V405.3M372.9 397.2h4M372.9 405.3h4M378 398.2V406.3M376 398.2h4M376 406.3h4M381.1 400.9V409M379.1 400.9h4M379.1 409h4M384.2 403.8V411.9M382.2 403.8h4M382.2 411.9h4M387.3 407.6V415.6M385.3 407.6h4M385.3 415.6h4M390.4 406.6V414.7M388.4 406.6h4M388.4 414.7h4M393.4 407.6V415.6M391.4 407.6h4M391.4 415.6h4M396.5 407.6V415.6M394.5 407.6h4M394.5 415.6h4M399.6 408.5V416.6M397.6 408.5h4M397.6 416.6h4M402.7 405.6V413.7M400.7 405.6h4M400.7 413.7h4M405.8 411.3V419.4M403.8 411.3h4M403.8 419.4h4M408.9 406.9V415M406.9 406.9h4M406.9 415h4" fill="none" stroke="#f04848" stroke-width="0.85"/>
<path d="M246.7 411.9h3v3h-3zM249.8 410.1h3v3h-3zM252.9 406.4h3v3h-3zM256 402.7h3v3h-3zM259.1 399.8h3v3h-3zM262.2 397h3v3h-3zM265.2 398h3v3h-3zM268.3 400.7h3v3h-3zM271.4 404.4h3v3h-3zM274.5 404.4h3v3h-3zM277.6 405.4h3v3h-3zM280.7 406.4h3v3h-3zM283.8 406.4h3v3h-3zM286.9 404.4h3v3h-3zM290 402.7h3v3h-3zM293.1 404.4h3v3h-3zM296.1 406.4h3v3h-3zM299.2 409.1h3v3h-3zM302.3 411.1h3v3h-3zM305.4 412.8h3v3h-3zM308.5 414.8h3v3h-3zM311.6 417.5h3v3h-3zM314.7 420.3h3v3h-3zM317.8 422.2h3v3h-3zM320.9 423.2h3v3h-3zM324 421.2h3v3h-3zM327 419.5h3v3h-3zM330.1 418.5h3v3h-3zM333.2 417.5h3v3h-3zM336.3 416.6h3v3h-3zM339.4 414.8h3v3h-3zM342.5 412.8h3v3h-3zM345.6 410.1h3v3h-3zM348.7 406.4h3v3h-3zM351.8 402.7h3v3h-3zM354.9 400.7h3v3h-3zM357.9 401.7h3v3h-3zM361 400.7h3v3h-3zM364.1 399.8h3v3h-3zM367.2 398h3v3h-3zM370.3 397h3v3h-3zM373.4 399.8h3v3h-3zM376.5 400.7h3v3h-3zM379.6 403.5h3v3h-3zM382.7 406.4h3v3h-3zM385.8 410.1h3v3h-3zM388.9 409.1h3v3h-3zM391.9 410.1h3v3h-3zM395 410.1h3v3h-3zM398.1 411.1h3v3h-3zM401.2 408.2h3v3h-3zM404.3 413.8h3v3h-3zM407.4 409.4h3v3h-3z" fill="none" stroke="#f04848" stroke-width="0.8"/>
<polyline points="248.2,426.6 251.3,437.9 254.4,430.8 257.5,440.2 288.4,440.2 291.5,433.4 294.6,440.2 344,440.2 347.1,430 350.2,440.2 387.3,440.2 390.4,433.4 393.4,440.2 399.6,440.2 402.7,430 405.8,422.1 408.9,416.4" fill="none" stroke="#36e036" stroke-width="1.2" stroke-linejoin="round"/>
<path d="M254.4 422.3V439.3M252.4 422.3h4M252.4 439.3h4M291.5 428.9V437.9M289.5 428.9h4M289.5 437.9h4M347.1 424.4V435.7M345.1 424.4h4M345.1 435.7h4M390.4 428.9V437.9M388.4 428.9h4M388.4 437.9h4M402.7 424.4V435.7M400.7 424.4h4M400.7 435.7h4M405.8 416.4V427.8M403.8 416.4h4M403.8 427.8h4M408.9 410.8V422.1M406.9 410.8h4M406.9 422.1h4" fill="none" stroke="#36e036" stroke-width="1.0"/>
<polyline points="248.2,427.8 251.3,437.9 254.4,429.8 257.5,440.2 393.4,440.2 396.5,435.7 399.6,432.3 402.7,426.6 405.8,410.8 408.9,405.1" fill="none" stroke="#2424e0" stroke-width="1.2" stroke-linejoin="round"/>
<path d="M248.2 421V434.5M246.2 421h4M246.2 434.5h4M254.4 426.4V433.2M252.4 426.4h4M252.4 433.2h4M396.5 432.3V439.1M394.5 432.3h4M394.5 439.1h4M399.6 427.8V436.8M397.6 427.8h4M397.6 436.8h4M402.7 419.8V433.4M400.7 419.8h4M400.7 433.4h4M405.8 404V417.6M403.8 404h4M403.8 417.6h4M408.9 398.3V411.9M406.9 398.3h4M406.9 411.9h4" fill="none" stroke="#2424e0" stroke-width="1.0"/>
</g>
<path d="M302.4 330.2H322.5" stroke="#f39035" stroke-width="1.3"/>
<text x="325.7" y="333.8" class="lg">O</text>
<path d="M341 330.2H361" stroke="#3ccbdc" stroke-width="1.3"/>
<text x="363" y="333.8" class="lg">Co</text>
<path d="M376.7 330.2H397" stroke="#f04848" stroke-width="1.3"/>
<text x="399" y="333.8" class="lg">Cr</text>
<path d="M302.4 340.7H322.5" stroke="#36e036" stroke-width="1.3"/>
<text x="325.7" y="344.3" class="lg">OD</text>
<path d="M341 340.7H361" stroke="#2424e0" stroke-width="1.3"/>
<text x="363" y="344.3" class="lg">K</text>
<path d="M246.2 498.7H409.6M246.2 498.1V613.2M245.6 612.6H410.2" stroke="#1a1a1a" stroke-width="1.25" fill="none"/>
<path d="M409.6 498.1V613.2" stroke="#1a1aff" stroke-width="1.25" fill="none"/>
<path d="M246.2 612.6v3.3M287.4 612.6v3.3M328.5 612.6v3.3M369.7 612.6v3.3M266.8 612.6v1.8M307.9 612.6v1.8M349.1 612.6v1.8M390.3 612.6v1.8M246.2 611.8h-3.3M246.2 595.6h-3.3M246.2 579.5h-3.3M246.2 563.3h-3.3M246.2 547.2h-3.3M246.2 531h-3.3M246.2 514.9h-3.3M246.2 498.7h-3.3M246.2 603.7h-1.8M246.2 587.6h-1.8M246.2 571.4h-1.8M246.2 555.2h-1.8M246.2 539.1h-1.8M246.2 522.9h-1.8M246.2 506.8h-1.8" stroke="#1a1a1a" stroke-width="1.1" fill="none"/>
<text x="246.2" y="626.9" text-anchor="middle" class="tk">0</text>
<text x="287.4" y="626.9" text-anchor="middle" class="tk">5</text>
<text x="328.5" y="626.9" text-anchor="middle" class="tk">10</text>
<text x="369.7" y="626.9" text-anchor="middle" class="tk">15</text>
<text x="240.8" y="615.8" text-anchor="end" class="tk">0</text>
<text x="240.8" y="599.6" text-anchor="end" class="tk">10</text>
<text x="240.8" y="583.5" text-anchor="end" class="tk">20</text>
<text x="240.8" y="567.3" text-anchor="end" class="tk">30</text>
<text x="240.8" y="551.2" text-anchor="end" class="tk">40</text>
<text x="240.8" y="535" text-anchor="end" class="tk">50</text>
<text x="240.8" y="518.9" text-anchor="end" class="tk">60</text>
<text x="240.8" y="502.7" text-anchor="end" class="tk">70</text>
<path d="M409.6 611.8h3.3M409.6 589.2h3.3M409.6 566.6h3.3M409.6 543.9h3.3M409.6 521.3h3.3M409.6 498.7h3.3M409.6 600.5h1.8M409.6 577.9h1.8M409.6 555.2h1.8M409.6 532.6h1.8M409.6 510h1.8" stroke="#1a1aff" stroke-width="1.1" fill="none"/>
<text x="414.4" y="615.8" class="tk" style="fill:#1a1aff">0</text>
<text x="414.4" y="593.2" class="tk" style="fill:#1a1aff">2</text>
<text x="414.4" y="570.6" class="tk" style="fill:#1a1aff">4</text>
<text x="414.4" y="547.9" class="tk" style="fill:#1a1aff">6</text>
<text x="414.4" y="525.3" class="tk" style="fill:#1a1aff">8</text>
<text x="414.4" y="502.7" class="tk" style="fill:#1a1aff">10</text>
<clipPath id="cl2960"><rect x="246.2" y="498.7" width="163.4" height="113.1"/></clipPath>
<path d="M265.1 531.4V608" stroke="#111" stroke-width="1.3" stroke-dasharray="4.2 2.4 1.3 2.4" fill="none"/>
<path d="M376.3 531.4V608" stroke="#111" stroke-width="1.3" stroke-dasharray="4.2 2.4 1.3 2.4" fill="none"/>
<g clip-path="url(#cl2960)">
<polyline points="246.2,519.7 250.3,522.9 254.4,529.6 258.5,530.5 262.7,527.6 266.8,526.8 270.9,526.8 275,531.3 279.1,524.9 283.2,527.6 287.4,526.8 291.5,529.6 295.6,527.6 299.7,528.6 303.8,525.8 307.9,529.6 312.1,531.3 316.2,528.6 320.3,526.8 324.4,524.9 328.5,527.6 332.6,528.6 336.7,526.8 340.9,524.9 345,526.8 349.1,523.9 353.2,525.8 357.3,523.9 361.4,523.9 365.6,525.8 369.7,527.6 373.8,523.9 377.9,525.8 382,528.6 386.1,524.9 390.3,522.1 394.4,526.8 398.5,524.9 402.6,522.9 406.7,525.8" fill="none" stroke="#f39035" stroke-width="1.0" stroke-linejoin="round"/>
<path d="M246.2 514.9V524.6M244.2 514.9h4M244.2 524.6h4M250.3 518.1V527.8M248.3 518.1h4M248.3 527.8h4M254.4 524.7V534.4M252.4 524.7h4M252.4 534.4h4M258.5 525.7V535.4M256.5 525.7h4M256.5 535.4h4M262.7 522.8V532.5M260.7 522.8h4M260.7 532.5h4M266.8 522V531.7M264.8 522h4M264.8 531.7h4M270.9 522V531.7M268.9 522h4M268.9 531.7h4M275 526.5V536.2M273 526.5h4M273 536.2h4M279.1 520V529.7M277.1 520h4M277.1 529.7h4M283.2 522.8V532.5M281.2 522.8h4M281.2 532.5h4M287.4 522V531.7M285.4 522h4M285.4 531.7h4M291.5 524.7V534.4M289.5 524.7h4M289.5 534.4h4M295.6 522.8V532.5M293.6 522.8h4M293.6 532.5h4M299.7 523.7V533.4M297.7 523.7h4M297.7 533.4h4M303.8 521V530.7M301.8 521h4M301.8 530.7h4M307.9 524.7V534.4M305.9 524.7h4M305.9 534.4h4M312.1 526.5V536.2M310.1 526.5h4M310.1 536.2h4M316.2 523.7V533.4M314.2 523.7h4M314.2 533.4h4M320.3 522V531.7M318.3 522h4M318.3 531.7h4M324.4 520V529.7M322.4 520h4M322.4 529.7h4M328.5 522.8V532.5M326.5 522.8h4M326.5 532.5h4M332.6 523.7V533.4M330.6 523.7h4M330.6 533.4h4M336.7 522V531.7M334.7 522h4M334.7 531.7h4M340.9 520V529.7M338.9 520h4M338.9 529.7h4M345 522V531.7M343 522h4M343 531.7h4M349.1 519.1V528.8M347.1 519.1h4M347.1 528.8h4M353.2 521V530.7M351.2 521h4M351.2 530.7h4M357.3 519.1V528.8M355.3 519.1h4M355.3 528.8h4M361.4 519.1V528.8M359.4 519.1h4M359.4 528.8h4M365.6 521V530.7M363.6 521h4M363.6 530.7h4M369.7 522.8V532.5M367.7 522.8h4M367.7 532.5h4M373.8 519.1V528.8M371.8 519.1h4M371.8 528.8h4M377.9 521V530.7M375.9 521h4M375.9 530.7h4M382 523.7V533.4M380 523.7h4M380 533.4h4M386.1 520V529.7M384.1 520h4M384.1 529.7h4M390.3 517.3V527M388.3 517.3h4M388.3 527h4M394.4 522V531.7M392.4 522h4M392.4 531.7h4M398.5 520V529.7M396.5 520h4M396.5 529.7h4M402.6 518.1V527.8M400.6 518.1h4M400.6 527.8h4M406.7 521V530.7M404.7 521h4M404.7 530.7h4" fill="none" stroke="#f39035" stroke-width="0.85"/>
<path d="M244.7 518.2h3v3h-3zM248.8 521.4h3v3h-3zM252.9 528.1h3v3h-3zM257 529h3v3h-3zM261.2 526.1h3v3h-3zM265.3 525.3h3v3h-3zM269.4 525.3h3v3h-3zM273.5 529.8h3v3h-3zM277.6 523.4h3v3h-3zM281.7 526.1h3v3h-3zM285.9 525.3h3v3h-3zM290 528.1h3v3h-3zM294.1 526.1h3v3h-3zM298.2 527.1h3v3h-3zM302.3 524.3h3v3h-3zM306.4 528.1h3v3h-3zM310.6 529.8h3v3h-3zM314.7 527.1h3v3h-3zM318.8 525.3h3v3h-3zM322.9 523.4h3v3h-3zM327 526.1h3v3h-3zM331.1 527.1h3v3h-3zM335.2 525.3h3v3h-3zM339.4 523.4h3v3h-3zM343.5 525.3h3v3h-3zM347.6 522.4h3v3h-3zM351.7 524.3h3v3h-3zM355.8 522.4h3v3h-3zM359.9 522.4h3v3h-3zM364.1 524.3h3v3h-3zM368.2 526.1h3v3h-3zM372.3 522.4h3v3h-3zM376.4 524.3h3v3h-3zM380.5 527.1h3v3h-3zM384.6 523.4h3v3h-3zM388.8 520.6h3v3h-3zM392.9 525.3h3v3h-3zM397 523.4h3v3h-3zM401.1 521.4h3v3h-3zM405.2 524.3h3v3h-3z" fill="none" stroke="#f39035" stroke-width="0.8"/>
<polyline points="246.2,566.1 250.3,560.4 254.4,567 258.5,556.7 262.7,560.4 266.8,562.2 270.9,564.9 275,558.5 279.1,553 283.2,561.4 287.4,557.5 291.5,554.8 295.6,553 299.7,552 303.8,551 307.9,555.7 312.1,554.8 316.2,551 320.3,556.7 324.4,560.4 328.5,562.2 332.6,562.2 336.7,564.1 340.9,565.1 345,569.8 349.1,566.1 353.2,569.8 357.3,568.8 361.4,567.9 365.6,569.8 369.7,563.2 373.8,570.6 377.9,567.9 382,562.2 386.1,560.4 390.3,572.5 394.4,560.4 398.5,573.5 402.6,575.3 406.7,573.5" fill="none" stroke="#3ccbdc" stroke-width="1.0" stroke-linejoin="round"/>
<path d="M246.2 561.2V570.9M244.2 561.2h4M244.2 570.9h4M250.3 555.6V565.3M248.3 555.6h4M248.3 565.3h4M254.4 562.2V571.9M252.4 562.2h4M252.4 571.9h4M258.5 551.9V561.6M256.5 551.9h4M256.5 561.6h4M262.7 555.6V565.3M260.7 555.6h4M260.7 565.3h4M266.8 557.4V567M264.8 557.4h4M264.8 567h4M270.9 560.1V569.8M268.9 560.1h4M268.9 569.8h4M275 553.6V563.3M273 553.6h4M273 563.3h4M279.1 548.1V557.8M277.1 548.1h4M277.1 557.8h4M283.2 556.5V566.2M281.2 556.5h4M281.2 566.2h4M287.4 552.7V562.4M285.4 552.7h4M285.4 562.4h4M291.5 549.9V559.6M289.5 549.9h4M289.5 559.6h4M295.6 548.1V557.8M293.6 548.1h4M293.6 557.8h4M299.7 547.2V556.9M297.7 547.2h4M297.7 556.9h4M303.8 546.2V555.9M301.8 546.2h4M301.8 555.9h4M307.9 550.9V560.6M305.9 550.9h4M305.9 560.6h4M312.1 549.9V559.6M310.1 549.9h4M310.1 559.6h4M316.2 546.2V555.9M314.2 546.2h4M314.2 555.9h4M320.3 551.9V561.6M318.3 551.9h4M318.3 561.6h4M324.4 555.6V565.3M322.4 555.6h4M322.4 565.3h4M328.5 557.4V567M326.5 557.4h4M326.5 567h4M332.6 557.4V567M330.6 557.4h4M330.6 567h4M336.7 559.3V569M334.7 559.3h4M334.7 569h4M340.9 560.3V570M338.9 560.3h4M338.9 570h4M345 564.9V574.6M343 564.9h4M343 574.6h4M349.1 561.2V570.9M347.1 561.2h4M347.1 570.9h4M353.2 564.9V574.6M351.2 564.9h4M351.2 574.6h4M357.3 564V573.7M355.3 564h4M355.3 573.7h4M361.4 563V572.7M359.4 563h4M359.4 572.7h4M365.6 564.9V574.6M363.6 564.9h4M363.6 574.6h4M369.7 558.3V568M367.7 558.3h4M367.7 568h4M373.8 565.8V575.4M371.8 565.8h4M371.8 575.4h4M377.9 563V572.7M375.9 563h4M375.9 572.7h4M382 557.4V567M380 557.4h4M380 567h4M386.1 555.6V565.3M384.1 555.6h4M384.1 565.3h4M390.3 567.7V577.4M388.3 567.7h4M388.3 577.4h4M394.4 555.6V565.3M392.4 555.6h4M392.4 565.3h4M398.5 568.7V578.4M396.5 568.7h4M396.5 578.4h4M402.6 570.4V580.1M400.6 570.4h4M400.6 580.1h4M406.7 568.7V578.4M404.7 568.7h4M404.7 578.4h4" fill="none" stroke="#3ccbdc" stroke-width="0.85"/>
<path d="M244.7 564.6h3v3h-3zM248.8 558.9h3v3h-3zM252.9 565.5h3v3h-3zM257 555.2h3v3h-3zM261.2 558.9h3v3h-3zM265.3 560.7h3v3h-3zM269.4 563.4h3v3h-3zM273.5 557h3v3h-3zM277.6 551.5h3v3h-3zM281.7 559.9h3v3h-3zM285.9 556h3v3h-3zM290 553.3h3v3h-3zM294.1 551.5h3v3h-3zM298.2 550.5h3v3h-3zM302.3 549.5h3v3h-3zM306.4 554.2h3v3h-3zM310.6 553.3h3v3h-3zM314.7 549.5h3v3h-3zM318.8 555.2h3v3h-3zM322.9 558.9h3v3h-3zM327 560.7h3v3h-3zM331.1 560.7h3v3h-3zM335.2 562.6h3v3h-3zM339.4 563.6h3v3h-3zM343.5 568.3h3v3h-3zM347.6 564.6h3v3h-3zM351.7 568.3h3v3h-3zM355.8 567.3h3v3h-3zM359.9 566.4h3v3h-3zM364.1 568.3h3v3h-3zM368.2 561.7h3v3h-3zM372.3 569.1h3v3h-3zM376.4 566.4h3v3h-3zM380.5 560.7h3v3h-3zM384.6 558.9h3v3h-3zM388.8 571h3v3h-3zM392.9 558.9h3v3h-3zM397 572h3v3h-3zM401.1 573.8h3v3h-3zM405.2 572h3v3h-3z" fill="none" stroke="#3ccbdc" stroke-width="0.8"/>
<polyline points="246.2,586.6 250.3,580.9 254.4,578.2 258.5,582.9 262.7,584.7 266.8,581.9 270.9,581.9 275,586.6 279.1,588.4 283.2,587.6 287.4,587.6 291.5,586.6 295.6,591.3 299.7,593.1 303.8,593.1 307.9,590.3 312.1,589.3 316.2,590.3 320.3,587.6 324.4,586.6 328.5,585.6 332.6,584.7 336.7,581.9 340.9,580.9 345,579.2 349.1,582.9 353.2,578.2 357.3,580.9 361.4,582.9 365.6,582.9 369.7,580.9 373.8,581.9 377.9,579.2 382,580 386.1,582.9 390.3,584.7 394.4,581.9 398.5,583.8 402.6,576.3 406.7,569.8" fill="none" stroke="#f04848" stroke-width="1.0" stroke-linejoin="round"/>
<path d="M246.2 582.6V590.6M244.2 582.6h4M244.2 590.6h4M250.3 576.9V585M248.3 576.9h4M248.3 585h4M254.4 574.2V582.2M252.4 574.2h4M252.4 582.2h4M258.5 578.8V586.9M256.5 578.8h4M256.5 586.9h4M262.7 580.6V588.7M260.7 580.6h4M260.7 588.7h4M266.8 577.9V585.9M264.8 577.9h4M264.8 585.9h4M270.9 577.9V585.9M268.9 577.9h4M268.9 585.9h4M275 582.6V590.6M273 582.6h4M273 590.6h4M279.1 584.3V592.4M277.1 584.3h4M277.1 592.4h4M283.2 583.5V591.6M281.2 583.5h4M281.2 591.6h4M287.4 583.5V591.6M285.4 583.5h4M285.4 591.6h4M291.5 582.6V590.6M289.5 582.6h4M289.5 590.6h4M295.6 587.2V595.3M293.6 587.2h4M293.6 595.3h4M299.7 589V597.1M297.7 589h4M297.7 597.1h4M303.8 589V597.1M301.8 589h4M301.8 597.1h4M307.9 586.3V594.4M305.9 586.3h4M305.9 594.4h4M312.1 585.3V593.4M310.1 585.3h4M310.1 593.4h4M316.2 586.3V594.4M314.2 586.3h4M314.2 594.4h4M320.3 583.5V591.6M318.3 583.5h4M318.3 591.6h4M324.4 582.6V590.6M322.4 582.6h4M322.4 590.6h4M328.5 581.6V589.7M326.5 581.6h4M326.5 589.7h4M332.6 580.6V588.7M330.6 580.6h4M330.6 588.7h4M336.7 577.9V585.9M334.7 577.9h4M334.7 585.9h4M340.9 576.9V585M338.9 576.9h4M338.9 585h4M345 575.1V583.2M343 575.1h4M343 583.2h4M349.1 578.8V586.9M347.1 578.8h4M347.1 586.9h4M353.2 574.2V582.2M351.2 574.2h4M351.2 582.2h4M357.3 576.9V585M355.3 576.9h4M355.3 585h4M361.4 578.8V586.9M359.4 578.8h4M359.4 586.9h4M365.6 578.8V586.9M363.6 578.8h4M363.6 586.9h4M369.7 576.9V585M367.7 576.9h4M367.7 585h4M373.8 577.9V585.9M371.8 577.9h4M371.8 585.9h4M377.9 575.1V583.2M375.9 575.1h4M375.9 583.2h4M382 575.9V584M380 575.9h4M380 584h4M386.1 578.8V586.9M384.1 578.8h4M384.1 586.9h4M390.3 580.6V588.7M388.3 580.6h4M388.3 588.7h4M394.4 577.9V585.9M392.4 577.9h4M392.4 585.9h4M398.5 579.8V587.9M396.5 579.8h4M396.5 587.9h4M402.6 572.2V580.3M400.6 572.2h4M400.6 580.3h4M406.7 565.8V573.8M404.7 565.8h4M404.7 573.8h4" fill="none" stroke="#f04848" stroke-width="0.85"/>
<path d="M244.7 585.1h3v3h-3zM248.8 579.4h3v3h-3zM252.9 576.7h3v3h-3zM257 581.4h3v3h-3zM261.2 583.2h3v3h-3zM265.3 580.4h3v3h-3zM269.4 580.4h3v3h-3zM273.5 585.1h3v3h-3zM277.6 586.9h3v3h-3zM281.7 586.1h3v3h-3zM285.9 586.1h3v3h-3zM290 585.1h3v3h-3zM294.1 589.8h3v3h-3zM298.2 591.6h3v3h-3zM302.3 591.6h3v3h-3zM306.4 588.8h3v3h-3zM310.6 587.8h3v3h-3zM314.7 588.8h3v3h-3zM318.8 586.1h3v3h-3zM322.9 585.1h3v3h-3zM327 584.1h3v3h-3zM331.1 583.2h3v3h-3zM335.2 580.4h3v3h-3zM339.4 579.4h3v3h-3zM343.5 577.7h3v3h-3zM347.6 581.4h3v3h-3zM351.7 576.7h3v3h-3zM355.8 579.4h3v3h-3zM359.9 581.4h3v3h-3zM364.1 581.4h3v3h-3zM368.2 579.4h3v3h-3zM372.3 580.4h3v3h-3zM376.4 577.7h3v3h-3zM380.5 578.5h3v3h-3zM384.6 581.4h3v3h-3zM388.8 583.2h3v3h-3zM392.9 580.4h3v3h-3zM397 582.3h3v3h-3zM401.1 574.8h3v3h-3zM405.2 568.3h3v3h-3z" fill="none" stroke="#f04848" stroke-width="0.8"/>
<polyline points="246.2,609.5 250.3,615.2 262.7,615.2 266.8,610.7 270.9,615.2 349.1,615.2 353.2,609.5 357.3,615.2 382,615.2 386.1,609.5 390.3,606.1 394.4,607.3 398.5,600.5 402.6,602.8 406.7,601.6 409.2,600.5" fill="none" stroke="#36e036" stroke-width="1.2" stroke-linejoin="round"/>
<path d="M266.8 607.3V614.1M264.8 607.3h4M264.8 614.1h4M353.2 606.1V612.9M351.2 606.1h4M351.2 612.9h4M386.1 606.1V612.9M384.1 606.1h4M384.1 612.9h4M390.3 601.6V610.7M388.3 601.6h4M388.3 610.7h4M394.4 602.8V611.8M392.4 602.8h4M392.4 611.8h4M398.5 594.8V606.1M396.5 594.8h4M396.5 606.1h4M402.6 597.1V608.4M400.6 597.1h4M400.6 608.4h4M406.7 596V607.3M404.7 596h4M404.7 607.3h4" fill="none" stroke="#36e036" stroke-width="1.0"/>
<polyline points="246.2,586.9 250.3,592.6 254.4,602.8 258.5,607.3 262.7,615.2 373.8,615.2 377.9,610.7 382,609.5 386.1,608.4 390.3,608.4 394.4,607.3 398.5,606.1 402.6,599.4 406.7,588 409.2,573.3" fill="none" stroke="#2424e0" stroke-width="1.2" stroke-linejoin="round"/>
<path d="M246.2 580.1V593.7M244.2 580.1h4M244.2 593.7h4M250.3 579V606.1M248.3 579h4M248.3 606.1h4M254.4 596V609.5M252.4 596h4M252.4 609.5h4M258.5 601.6V612.9M256.5 601.6h4M256.5 612.9h4M377.9 608.4V612.9M375.9 608.4h4M375.9 612.9h4M382 606.1V612.9M380 606.1h4M380 612.9h4M386.1 605V611.8M384.1 605h4M384.1 611.8h4M390.3 605V611.8M388.3 605h4M388.3 611.8h4M394.4 602.8V611.8M392.4 602.8h4M392.4 611.8h4M398.5 601.6V610.7M396.5 601.6h4M396.5 610.7h4M402.6 592.6V606.1M400.6 592.6h4M400.6 606.1h4M406.7 581.3V594.8M404.7 581.3h4M404.7 594.8h4M409.2 566.6V580.1M407.2 566.6h4M407.2 580.1h4" fill="none" stroke="#2424e0" stroke-width="1.0"/>
</g>
<path d="M290.5 505.3H312.4" stroke="#f39035" stroke-width="1.3"/>
<text x="314.7" y="508.9" class="lg">O</text>
<path d="M332.1 505.3H354" stroke="#3ccbdc" stroke-width="1.3"/>
<text x="356.2" y="508.9" class="lg">Co</text>
<path d="M370.8 505.3H392.7" stroke="#f04848" stroke-width="1.3"/>
<text x="395.4" y="508.9" class="lg">Cr</text>
<path d="M290.5 516.2H312.4" stroke="#36e036" stroke-width="1.3"/>
<text x="314.7" y="519.8" class="lg">OD</text>
<path d="M332.1 516.2H354" stroke="#2424e0" stroke-width="1.3"/>
<text x="356.2" y="519.8" class="lg">K</text>
<path d="M477.4 324.9H639.9M477.4 324.3V438.9M476.8 438.3H640.5" stroke="#1a1a1a" stroke-width="1.25" fill="none"/>
<path d="M639.9 324.3V438.9" stroke="#1a1aff" stroke-width="1.25" fill="none"/>
<path d="M477.4 438.3v3.3M511.6 438.3v3.3M545.8 438.3v3.3M580 438.3v3.3M614.2 438.3v3.3M494.5 438.3v1.8M528.7 438.3v1.8M562.9 438.3v1.8M597.1 438.3v1.8M631.3 438.3v1.8M477.4 436.9h-3.3M477.4 420.9h-3.3M477.4 404.9h-3.3M477.4 388.9h-3.3M477.4 372.9h-3.3M477.4 356.9h-3.3M477.4 340.9h-3.3M477.4 324.9h-3.3M477.4 428.9h-1.8M477.4 412.9h-1.8M477.4 396.9h-1.8M477.4 380.9h-1.8M477.4 364.9h-1.8M477.4 348.9h-1.8M477.4 332.9h-1.8" stroke="#1a1a1a" stroke-width="1.1" fill="none"/>
<text x="477.4" y="452.6" text-anchor="middle" class="tk">0</text>
<text x="511.6" y="452.6" text-anchor="middle" class="tk">2</text>
<text x="545.8" y="452.6" text-anchor="middle" class="tk">4</text>
<text x="580" y="452.6" text-anchor="middle" class="tk">6</text>
<text x="614.2" y="452.6" text-anchor="middle" class="tk">8</text>
<text x="472" y="440.9" text-anchor="end" class="tk">0</text>
<text x="472" y="424.9" text-anchor="end" class="tk">10</text>
<text x="472" y="408.9" text-anchor="end" class="tk">20</text>
<text x="472" y="392.9" text-anchor="end" class="tk">30</text>
<text x="472" y="376.9" text-anchor="end" class="tk">40</text>
<text x="472" y="360.9" text-anchor="end" class="tk">50</text>
<text x="472" y="344.9" text-anchor="end" class="tk">60</text>
<text x="472" y="328.9" text-anchor="end" class="tk">70</text>
<path d="M639.9 436.9h3.3M639.9 414.5h3.3M639.9 392.1h3.3M639.9 369.7h3.3M639.9 347.3h3.3M639.9 324.9h3.3M639.9 425.7h1.8M639.9 403.3h1.8M639.9 380.9h1.8M639.9 358.5h1.8M639.9 336.1h1.8" stroke="#1a1aff" stroke-width="1.1" fill="none"/>
<text x="644.7" y="440.9" class="tk" style="fill:#1a1aff">0</text>
<text x="644.7" y="418.5" class="tk" style="fill:#1a1aff">2</text>
<text x="644.7" y="396.1" class="tk" style="fill:#1a1aff">4</text>
<text x="644.7" y="373.7" class="tk" style="fill:#1a1aff">6</text>
<text x="644.7" y="351.3" class="tk" style="fill:#1a1aff">8</text>
<text x="644.7" y="328.9" class="tk" style="fill:#1a1aff">10</text>
<clipPath id="cl5098"><rect x="477.4" y="324.9" width="162.5" height="112"/></clipPath>
<path d="M495.2 357.6V434" stroke="#111" stroke-width="1.3" stroke-dasharray="4.2 2.4 1.3 2.4" fill="none"/>
<g clip-path="url(#cl5098)">
<polyline points="477.4,340.3 486,342 494.5,351 503.1,352.3 511.6,354.7 520.2,358.5 528.7,353.5 537.3,358.5 545.8,355.9 554.4,354.7 562.9,354.2 571.5,350.2 580,351.5 588.6,352.3 597.1,351 605.7,348.4 614.2,352.3 622.8,353.5 631.3,346.3 639.9,345.9" fill="none" stroke="#f39035" stroke-width="1.2" stroke-linejoin="round"/>
<path d="M477.4 336.3V344.3M475.4 336.3h4M475.4 344.3h4M486 338V346M484 338h4M484 346h4M494.5 347V355M492.5 347h4M492.5 355h4M503.1 348.3V356.3M501.1 348.3h4M501.1 356.3h4M511.6 350.7V358.7M509.6 350.7h4M509.6 358.7h4M520.2 354.5V362.5M518.2 354.5h4M518.2 362.5h4M528.7 349.5V357.5M526.7 349.5h4M526.7 357.5h4M537.3 354.5V362.5M535.3 354.5h4M535.3 362.5h4M545.8 351.9V359.9M543.8 351.9h4M543.8 359.9h4M554.4 350.7V358.7M552.4 350.7h4M552.4 358.7h4M562.9 350.2V358.2M560.9 350.2h4M560.9 358.2h4M571.5 346.2V354.2M569.5 346.2h4M569.5 354.2h4M580 347.5V355.5M578 347.5h4M578 355.5h4M588.6 348.3V356.3M586.6 348.3h4M586.6 356.3h4M597.1 347V355M595.1 347h4M595.1 355h4M605.7 344.4V352.4M603.7 344.4h4M603.7 352.4h4M614.2 348.3V356.3M612.2 348.3h4M612.2 356.3h4M622.8 349.5V357.5M620.8 349.5h4M620.8 357.5h4M631.3 342.3V350.3M629.3 342.3h4M629.3 350.3h4M639.9 341.9V349.9M637.9 341.9h4M637.9 349.9h4" fill="none" stroke="#f39035" stroke-width="1.0"/>
<polyline points="477.4,382.5 486,387.6 494.5,372.4 503.1,393.4 511.6,397.2 520.2,386.3 528.7,387.6 537.3,372.4 545.8,373.7 554.4,371.1 562.9,377.1 571.5,382 580,372.4 588.6,377.1 597.1,378.8 605.7,382.5 614.2,373.7 622.8,373.2 631.3,385.5 639.9,382.5" fill="none" stroke="#3ccbdc" stroke-width="1.2" stroke-linejoin="round"/>
<path d="M477.4 378.5V386.5M475.4 378.5h4M475.4 386.5h4M486 383.6V391.6M484 383.6h4M484 391.6h4M494.5 368.4V376.4M492.5 368.4h4M492.5 376.4h4M503.1 389.4V397.4M501.1 389.4h4M501.1 397.4h4M511.6 393.2V401.2M509.6 393.2h4M509.6 401.2h4M520.2 382.3V390.3M518.2 382.3h4M518.2 390.3h4M528.7 383.6V391.6M526.7 383.6h4M526.7 391.6h4M537.3 368.4V376.4M535.3 368.4h4M535.3 376.4h4M545.8 369.7V377.7M543.8 369.7h4M543.8 377.7h4M554.4 367.1V375.1M552.4 367.1h4M552.4 375.1h4M562.9 373.1V381.1M560.9 373.1h4M560.9 381.1h4M571.5 378V386M569.5 378h4M569.5 386h4M580 368.4V376.4M578 368.4h4M578 376.4h4M588.6 373.1V381.1M586.6 373.1h4M586.6 381.1h4M597.1 374.8V382.8M595.1 374.8h4M595.1 382.8h4M605.7 378.5V386.5M603.7 378.5h4M603.7 386.5h4M614.2 369.7V377.7M612.2 369.7h4M612.2 377.7h4M622.8 369.2V377.2M620.8 369.2h4M620.8 377.2h4M631.3 381.5V389.5M629.3 381.5h4M629.3 389.5h4M639.9 378.5V386.5M637.9 378.5h4M637.9 386.5h4" fill="none" stroke="#3ccbdc" stroke-width="1.0"/>
<polyline points="477.4,426.8 486,422.5 494.5,428.1 503.1,407.3 511.6,401.5 520.2,407.3 528.7,412.1 537.3,421.2 545.8,421.7 554.4,426.8 562.9,422.5 571.5,419.9 580,426.8 588.6,422.5 597.1,423 605.7,421.7 614.2,425.5 622.8,425.5 631.3,419.9 639.9,422.5" fill="none" stroke="#f04848" stroke-width="1.2" stroke-linejoin="round"/>
<path d="M477.4 423.9V429.7M475.4 423.9h4M475.4 429.7h4M486 419.6V425.4M484 419.6h4M484 425.4h4M494.5 425.2V431M492.5 425.2h4M492.5 431h4M503.1 404.4V410.2M501.1 404.4h4M501.1 410.2h4M511.6 398.7V404.4M509.6 398.7h4M509.6 404.4h4M520.2 404.4V410.2M518.2 404.4h4M518.2 410.2h4M528.7 409.2V415M526.7 409.2h4M526.7 415h4M537.3 418.3V424.1M535.3 418.3h4M535.3 424.1h4M545.8 418.8V424.6M543.8 418.8h4M543.8 424.6h4M554.4 423.9V429.7M552.4 423.9h4M552.4 429.7h4M562.9 419.6V425.4M560.9 419.6h4M560.9 425.4h4M571.5 417.1V422.8M569.5 417.1h4M569.5 422.8h4M580 423.9V429.7M578 423.9h4M578 429.7h4M588.6 419.6V425.4M586.6 419.6h4M586.6 425.4h4M597.1 420.1V425.9M595.1 420.1h4M595.1 425.9h4M605.7 418.8V424.6M603.7 418.8h4M603.7 424.6h4M614.2 422.7V428.4M612.2 422.7h4M612.2 428.4h4M622.8 422.7V428.4M620.8 422.7h4M620.8 428.4h4M631.3 417.1V422.8M629.3 417.1h4M629.3 422.8h4M639.9 419.6V425.4M637.9 419.6h4M637.9 425.4h4" fill="none" stroke="#f04848" stroke-width="1.0"/>
<polyline points="477.4,422.7 486,432.8 494.5,434.8 503.1,432.4 511.6,430.2 520.2,440.3" fill="none" stroke="#36e036" stroke-width="1.2" stroke-linejoin="round"/>
<path d="M477.4 414.1V431.3M475.4 414.1h4M475.4 431.3h4M486 426.4V439.1M484 426.4h4M484 439.1h4M503.1 426.3V438.6M501.1 426.3h4M501.1 438.6h4M511.6 421.6V438.8M509.6 421.6h4M509.6 438.8h4" fill="none" stroke="#36e036" stroke-width="1.0"/>
<polyline points="477.4,418.6 486,432.4 494.5,432.2 503.1,440.3" fill="none" stroke="#2424e0" stroke-width="1.2" stroke-linejoin="round"/>
<path d="M477.4 408.9V428.4M475.4 408.9h4M475.4 428.4h4M486 423.5V441.4M484 423.5h4M484 441.4h4M494.5 427.7V436.7M492.5 427.7h4M492.5 436.7h4" fill="none" stroke="#2424e0" stroke-width="1.0"/>
</g>
<path d="M531.3 330H551.8" stroke="#f39035" stroke-width="1.3"/>
<text x="553.8" y="333.6" class="lg">O</text>
<path d="M568.4 330H590.1" stroke="#3ccbdc" stroke-width="1.3"/>
<text x="591.6" y="333.6" class="lg">Co</text>
<path d="M604.1 330H625.8" stroke="#f04848" stroke-width="1.3"/>
<text x="627.1" y="333.6" class="lg">Cr</text>
<path d="M531.3 341.8H551.8" stroke="#36e036" stroke-width="1.3"/>
<text x="553.8" y="345.4" class="lg">OD</text>
<path d="M568.4 341.8H590.1" stroke="#2424e0" stroke-width="1.3"/>
<text x="592.1" y="345.4" class="lg">K</text>
<path d="M474.8 499.4H636.6M474.8 498.8V613M474.2 612.4H637.2" stroke="#1a1a1a" stroke-width="1.25" fill="none"/>
<path d="M636.6 498.8V613" stroke="#1a1aff" stroke-width="1.25" fill="none"/>
<path d="M474.8 612.4v3.3M497.9 612.4v3.3M521 612.4v3.3M544.1 612.4v3.3M567.3 612.4v3.3M590.4 612.4v3.3M613.5 612.4v3.3M636.6 612.4v3.3M486.4 612.4v1.8M509.5 612.4v1.8M532.6 612.4v1.8M555.7 612.4v1.8M578.8 612.4v1.8M601.9 612.4v1.8M625 612.4v1.8M474.8 611.4h-3.3M474.8 595.4h-3.3M474.8 579.4h-3.3M474.8 563.4h-3.3M474.8 547.4h-3.3M474.8 531.4h-3.3M474.8 515.4h-3.3M474.8 499.4h-3.3M474.8 603.4h-1.8M474.8 587.4h-1.8M474.8 571.4h-1.8M474.8 555.4h-1.8M474.8 539.4h-1.8M474.8 523.4h-1.8M474.8 507.4h-1.8" stroke="#1a1a1a" stroke-width="1.1" fill="none"/>
<text x="474.8" y="626.7" text-anchor="middle" class="tk">0</text>
<text x="497.9" y="626.7" text-anchor="middle" class="tk">1</text>
<text x="521" y="626.7" text-anchor="middle" class="tk">2</text>
<text x="544.1" y="626.7" text-anchor="middle" class="tk">3</text>
<text x="567.3" y="626.7" text-anchor="middle" class="tk">4</text>
<text x="590.4" y="626.7" text-anchor="middle" class="tk">5</text>
<text x="613.5" y="626.7" text-anchor="middle" class="tk">6</text>
<text x="636.6" y="626.7" text-anchor="middle" class="tk">7</text>
<text x="469.4" y="615.4" text-anchor="end" class="tk">0</text>
<text x="469.4" y="599.4" text-anchor="end" class="tk">10</text>
<text x="469.4" y="583.4" text-anchor="end" class="tk">20</text>
<text x="469.4" y="567.4" text-anchor="end" class="tk">30</text>
<text x="469.4" y="551.4" text-anchor="end" class="tk">40</text>
<text x="469.4" y="535.4" text-anchor="end" class="tk">50</text>
<text x="469.4" y="519.4" text-anchor="end" class="tk">60</text>
<text x="469.4" y="503.4" text-anchor="end" class="tk">70</text>
<path d="M636.6 611.4h3.3M636.6 589h3.3M636.6 566.6h3.3M636.6 544.2h3.3M636.6 521.8h3.3M636.6 499.4h3.3M636.6 600.2h1.8M636.6 577.8h1.8M636.6 555.4h1.8M636.6 533h1.8M636.6 510.6h1.8" stroke="#1a1aff" stroke-width="1.1" fill="none"/>
<text x="641.4" y="615.4" class="tk" style="fill:#1a1aff">0</text>
<text x="641.4" y="593" class="tk" style="fill:#1a1aff">2</text>
<text x="641.4" y="570.6" class="tk" style="fill:#1a1aff">4</text>
<text x="641.4" y="548.2" class="tk" style="fill:#1a1aff">6</text>
<text x="641.4" y="525.8" class="tk" style="fill:#1a1aff">8</text>
<text x="641.4" y="503.4" class="tk" style="fill:#1a1aff">10</text>
<clipPath id="cl5247"><rect x="474.8" y="499.4" width="161.8" height="112"/></clipPath>
<path d="M494.7 527.7V608" stroke="#111" stroke-width="1.3" stroke-dasharray="4.2 2.4 1.3 2.4" fill="none"/>
<g clip-path="url(#cl5247)">
<polyline points="474.8,519.7 486.4,517.5 497.9,527.7 509.5,531.2 521,526.4 532.6,527.7 544.1,526.6 555.7,528.2 567.3,530 578.8,530 590.4,531.6 601.9,533.3 613.5,530 625,533.3 636.6,532.8" fill="none" stroke="#f39035" stroke-width="1.2" stroke-linejoin="round"/>
<path d="M474.8 517.2V522.3M472.8 517.2h4M472.8 522.3h4M486.4 514.9V520M484.4 514.9h4M484.4 520h4M497.9 525.2V530.3M495.9 525.2h4M495.9 530.3h4M509.5 528.7V533.8M507.5 528.7h4M507.5 533.8h4M521 523.9V529M519 523.9h4M519 529h4M532.6 525.2V530.3M530.6 525.2h4M530.6 530.3h4M544.1 524V529.2M542.1 524h4M542.1 529.2h4M555.7 525.6V530.8M553.7 525.6h4M553.7 530.8h4M567.3 527.4V532.5M565.3 527.4h4M565.3 532.5h4M578.8 527.4V532.5M576.8 527.4h4M576.8 532.5h4M590.4 529V534.1M588.4 529h4M588.4 534.1h4M601.9 530.8V535.9M599.9 530.8h4M599.9 535.9h4M613.5 527.4V532.5M611.5 527.4h4M611.5 532.5h4M625 530.8V535.9M623 530.8h4M623 535.9h4M636.6 530.3V535.4M634.6 530.3h4M634.6 535.4h4" fill="none" stroke="#f39035" stroke-width="1.0"/>
<polyline points="474.8,560.2 486.4,558.4 497.9,550.8 509.5,545.6 521,550.8 532.6,553.8 544.1,550.8 555.7,555.6 567.3,547.9 578.8,548.7 590.4,545.6 601.9,542.3 613.5,544 625,541 636.6,537.2" fill="none" stroke="#3ccbdc" stroke-width="1.2" stroke-linejoin="round"/>
<path d="M474.8 557.6V562.8M472.8 557.6h4M472.8 562.8h4M486.4 555.9V561M484.4 555.9h4M484.4 561h4M497.9 548.2V553.3M495.9 548.2h4M495.9 553.3h4M509.5 543.1V548.2M507.5 543.1h4M507.5 548.2h4M521 548.2V553.3M519 548.2h4M519 553.3h4M532.6 551.2V556.4M530.6 551.2h4M530.6 556.4h4M544.1 548.2V553.3M542.1 548.2h4M542.1 553.3h4M555.7 553V558.1M553.7 553h4M553.7 558.1h4M567.3 545.3V550.4M565.3 545.3h4M565.3 550.4h4M578.8 546.1V551.2M576.8 546.1h4M576.8 551.2h4M590.4 543.1V548.2M588.4 543.1h4M588.4 548.2h4M601.9 539.7V544.8M599.9 539.7h4M599.9 544.8h4M613.5 541.5V546.6M611.5 541.5h4M611.5 546.6h4M625 538.4V543.6M623 538.4h4M623 543.6h4M636.6 534.6V539.7M634.6 534.6h4M634.6 539.7h4" fill="none" stroke="#3ccbdc" stroke-width="1.0"/>
<polyline points="474.8,596.8 486.4,598.6 497.9,595.6 509.5,596.8 521,596.8 532.6,591.7 544.1,596.8 555.7,590.9 567.3,598.6 578.8,595.2 590.4,596.8 601.9,598.6 613.5,598.6 625,599.9 636.6,602" fill="none" stroke="#f04848" stroke-width="1.2" stroke-linejoin="round"/>
<path d="M474.8 594.6V599.1M472.8 594.6h4M472.8 599.1h4M486.4 596.4V600.8M484.4 596.4h4M484.4 600.8h4M497.9 593.3V597.8M495.9 593.3h4M495.9 597.8h4M509.5 594.6V599.1M507.5 594.6h4M507.5 599.1h4M521 594.6V599.1M519 594.6h4M519 599.1h4M532.6 589.5V594M530.6 589.5h4M530.6 594h4M544.1 594.6V599.1M542.1 594.6h4M542.1 599.1h4M555.7 588.7V593.2M553.7 588.7h4M553.7 593.2h4M567.3 596.4V600.8M565.3 596.4h4M565.3 600.8h4M578.8 593V597.5M576.8 593h4M576.8 597.5h4M590.4 594.6V599.1M588.4 594.6h4M588.4 599.1h4M601.9 596.4V600.8M599.9 596.4h4M599.9 600.8h4M613.5 596.4V600.8M611.5 596.4h4M611.5 600.8h4M625 597.6V602.1M623 597.6h4M623 602.1h4M636.6 599.7V604.2M634.6 599.7h4M634.6 604.2h4" fill="none" stroke="#f04848" stroke-width="1.0"/>
<polyline points="474.8,606.8 486.4,605 497.9,606.8 509.5,609.6 521,612.5" fill="none" stroke="#36e036" stroke-width="1.2" stroke-linejoin="round"/>
<path d="M474.8 603.4V610.2M472.8 603.4h4M472.8 610.2h4M486.4 599.4V610.6M484.4 599.4h4M484.4 610.6h4M497.9 600.1V613.5M495.9 600.1h4M495.9 613.5h4M509.5 608.5V610.7M507.5 608.5h4M507.5 610.7h4" fill="none" stroke="#36e036" stroke-width="1.0"/>
<polyline points="474.8,609.4 486.4,606.8 497.9,609.4 509.5,612.5" fill="none" stroke="#2424e0" stroke-width="1.2" stroke-linejoin="round"/>
<path d="M474.8 608.3V610.5M472.8 608.3h4M472.8 610.5h4M486.4 603.4V610.2M484.4 603.4h4M484.4 610.2h4M497.9 607.1V611.6M495.9 607.1h4M495.9 611.6h4" fill="none" stroke="#2424e0" stroke-width="1.0"/>
</g>
<path d="M519.6 506H540.8" stroke="#f39035" stroke-width="1.3"/>
<text x="544.1" y="509.6" class="lg">O</text>
<path d="M560.5 506H581.7" stroke="#3ccbdc" stroke-width="1.3"/>
<text x="584.6" y="509.6" class="lg">Co</text>
<path d="M598.8 506H620" stroke="#f04848" stroke-width="1.3"/>
<text x="623.1" y="509.6" class="lg">Cr</text>
<path d="M519.6 517.5H540.8" stroke="#36e036" stroke-width="1.3"/>
<text x="544.1" y="521.1" class="lg">OD</text>
<path d="M560.5 517.5H581.7" stroke="#2424e0" stroke-width="1.3"/>
<text x="584.6" y="521.1" class="lg">K</text>
<text transform="translate(17.2 380.6) rotate(-90)" text-anchor="middle" class="at">Concentration (%)</text>
<text transform="translate(18 556.3) rotate(-90)" text-anchor="middle" class="at">Concentration (%)</text>
<text transform="translate(226 380.4) rotate(-90)" text-anchor="middle" class="at">Concentration (%)</text>
<text transform="translate(224 555.8) rotate(-90)" text-anchor="middle" class="at">Concentration (%)</text>
<text transform="translate(456 381.9) rotate(-90)" text-anchor="middle" class="at">Concentration (%)</text>
<text transform="translate(454 556.7) rotate(-90)" text-anchor="middle" class="at">Concentration (%)</text>
<text transform="translate(438.2 381.2) rotate(-90)" text-anchor="middle" class="at" style="fill:#1a1aff">OD/K Concentration (%)</text>
<text transform="translate(437.5 556.8) rotate(-90)" text-anchor="middle" class="at" style="fill:#1a1aff">OD/K Concentration (%)</text>
<text transform="translate(667.5 383.7) rotate(-90)" text-anchor="middle" class="at" style="fill:#1a1aff">OD/K Concentration (%)</text>
<text transform="translate(665.5 556.7) rotate(-90)" text-anchor="middle" class="at" style="fill:#1a1aff">OD/K Concentration (%)</text>
<text x="121.8" y="465" text-anchor="middle" class="at">Distance (nm)</text>
<text x="329.5" y="462.7" text-anchor="middle" class="at">Distance (nm)</text>
<text x="555" y="463.8" text-anchor="middle" class="at">Distance (nm)</text>
<text x="120.5" y="637.3" text-anchor="middle" class="at">Distance (nm)</text>
<text x="324.5" y="639.2" text-anchor="middle" class="at">Distance (nm)</text>
<text x="552.4" y="639.2" text-anchor="middle" class="at">Distance (nm)</text>
<text x="103.6" y="15.8" text-anchor="middle" class="tt">Pristine</text>
<text x="310.6" y="14.7" text-anchor="middle" class="tt">100 cycles</text>
<text x="522.8" y="13.7" text-anchor="middle" class="tt">1000 cycles</text>
<text x="321.7" y="167.8" text-anchor="middle" class="tt" style="font-size:17.9px">2D Cr compositional map</text>
<text x="349.2" y="308.2" text-anchor="middle" class="t2">1D concentration profile plotted along the vertices</text>
<text x="370.2" y="479.8" text-anchor="middle" class="t2" style="font-size:17.93px">1D concentration profile plotted along the flat surface</text>
<text x="5.9" y="38" class="pl">a</text>
<text x="233" y="27.4" class="pl">e</text>
<text x="438.3" y="34.3" class="pl">i</text>
<text x="13.6" y="184.1" class="pl">b</text>
<text x="225.3" y="186.5" class="pl">f</text>
<text x="438.3" y="183.5" class="pl">j</text>
<text x="0" y="319.8" class="pl">c</text>
<text x="211.3" y="324.9" class="pl">g</text>
<text x="444.9" y="326.6" class="pl">k</text>
<text x="4.6" y="495.5" class="pl">d</text>
<text x="210.5" y="498.5" class="pl">h</text>
<text x="447.9" y="499.8" class="pl">l</text>
<defs><radialGradient id="gB" cx="0.38" cy="0.35" r="0.65"><stop offset="0" stop-color="#4a5cff"/><stop offset="0.55" stop-color="#1414d8"/><stop offset="1" stop-color="#0a0a8a"/></radialGradient>
<radialGradient id="gG" cx="0.38" cy="0.35" r="0.65"><stop offset="0" stop-color="#8cff7a"/><stop offset="0.55" stop-color="#28e028"/><stop offset="1" stop-color="#149014"/></radialGradient>
<linearGradient id="cbar" x1="0" y1="0" x2="0" y2="1">
<stop offset="0" stop-color="#ff0000"/><stop offset="0.15" stop-color="#ff0a00"/><stop offset="0.26" stop-color="#ff8000"/><stop offset="0.36" stop-color="#ffe000"/>
<stop offset="0.45" stop-color="#98c800"/><stop offset="0.53" stop-color="#008a10"/><stop offset="0.62" stop-color="#00c8a0"/><stop offset="0.70" stop-color="#00e8ff"/>
<stop offset="0.78" stop-color="#0070ff"/><stop offset="0.86" stop-color="#0000f0"/><stop offset="1" stop-color="#5a00a0"/></linearGradient></defs>
<clipPath id="hb"><rect x="39.2" y="176.2" width="146.6" height="108.0"/></clipPath>
<filter id="hbf" x="-5%" y="-5%" width="110%" height="110%"><feGaussianBlur stdDeviation="0.55"/></filter>
<g clip-path="url(#hb)"><g filter="url(#hbf)">
<rect x="35.2" y="172.2" width="154.6" height="116.0" fill="#7950b0"/>
<path fill-rule="evenodd" fill="#7250bc" d="M35.3 189.6L35.3 288.1L131.1 288.1L131.1 266.8L131.3 266.6L178.3 266.6L178.6 266.3L181.1 248.8L181.1 227.3L179.8 216.3L175.8 200.8L166.6 182.3L163.6 174.3L163.3 172.3L49.1 172.3L47.8 175.1L42.3 180.8L37.6 187.6Z"/>
<path fill-rule="evenodd" fill="#6a50c7" d="M35.3 210.1L35.3 288.1L131.1 288.1L131.1 266.8L131.3 266.6L169.1 266.6L170.3 261.3L172.1 248.3L172.1 227.8L171.1 218.8L170.3 214.8L167.6 204.6L157.8 184.8L155.1 177.6L154.1 172.3L59.1 172.3L58.6 174.6L55.1 180.6L49.1 186.8L42.6 196.1L40.3 200.3L36.6 208.8Z"/>
<path fill-rule="evenodd" fill="#5e50d1" d="M64.6 172.3L64.6 173.6L63.6 176.3L59.3 183.8L52.8 190.6L47.1 198.8L42.8 207.6L39.6 215.6L36.1 227.3L35.3 228.3L35.3 270.8L36.3 272.3L37.8 278.1L38.8 284.8L38.8 288.1L131.1 288.1L131.1 266.8L131.3 266.6L163.6 266.6L164.8 262.3L166.8 247.6L166.8 228.6L165.8 219.3L163.3 208.6L162.3 205.6L153.1 187.1L149.8 178.3L148.8 174.1L148.8 172.3Z"/>
<path fill-rule="evenodd" fill="#5150db" d="M68.6 172.3L68.3 174.3L67.3 177.1L62.3 186.1L55.8 192.8L49.8 201.6L43.6 215.6L40.6 225.1L38.3 237.1L37.1 247.3L37.1 252.1L39.6 269.1L42.1 280.6L42.8 288.1L131.1 288.1L131.1 266.8L131.3 266.6L159.6 266.6L160.3 264.8L161.3 260.6L162.8 250.1L163.1 228.6L161.6 217.1L158.6 206.3L149.8 189.1L147.1 182.1L145.3 175.8L145.1 172.3Z"/>
<path fill-rule="evenodd" fill="#4350e5" d="M71.6 172.3L71.3 174.6L70.1 178.1L65.1 187.3L58.3 194.3L52.6 202.6L48.3 211.6L45.8 217.8L43.3 226.1L40.8 240.3L40.1 247.1L40.1 252.6L42.1 266.6L44.8 279.3L45.6 285.3L45.6 288.1L131.1 288.1L131.1 266.8L131.3 266.6L156.1 266.6L157.6 263.8L158.1 262.1L160.1 248.6L160.1 227.3L158.8 218.1L155.8 207.3L147.3 190.6L144.1 182.3L142.6 176.8L142.1 172.3Z"/>
<path fill-rule="evenodd" fill="#3f59eb" d="M73.8 172.3L73.8 174.6L72.3 178.8L66.6 189.3L59.6 196.6L54.3 204.3L48.1 218.6L45.6 226.8L43.3 239.6L42.3 250.6L42.6 250.8L42.8 256.3L44.6 267.1L47.1 278.3L48.1 288.1L131.1 288.1L131.1 266.8L131.3 266.6L152.8 266.6L154.6 264.6L155.8 261.3L157.8 246.8L157.8 229.3L156.6 218.8L153.6 208.1L145.1 191.3L141.8 183.1L139.8 175.3L139.8 172.3Z"/>
<path fill-rule="evenodd" fill="#3d66ee" d="M75.8 172.3L75.8 174.8L74.6 178.6L72.6 183.1L69.3 188.8L67.1 191.8L61.6 197.3L56.1 205.3L49.8 219.6L47.6 227.1L45.3 239.8L44.3 250.3L44.6 250.6L44.8 256.1L46.6 266.8L49.1 278.1L50.1 288.1L131.1 288.1L131.1 266.8L131.3 266.6L149.6 266.6L151.1 265.6L152.3 264.3L153.6 261.8L155.8 246.6L155.8 229.6L154.6 219.1L151.8 209.1L143.1 191.8L140.3 184.8L138.1 176.8L137.8 172.3Z"/>
<path fill-rule="evenodd" fill="#3d7cf0" d="M77.6 172.3L77.6 175.1L75.3 181.3L70.3 190.6L62.6 198.8L58.1 205.3L53.8 214.3L51.3 220.6L49.3 227.3L47.1 239.8L46.1 250.6L46.8 257.8L48.1 265.3L50.8 278.1L51.8 288.1L131.1 288.1L131.1 266.8L131.3 266.6L146.1 266.6L149.8 264.3L151.1 263.1L152.1 260.8L154.1 246.8L154.1 229.3L152.8 219.3L150.3 210.1L142.1 193.8L138.6 185.1L136.1 175.8L136.1 172.3Z"/>
<path fill-rule="evenodd" fill="#3f9bf0" d="M79.1 172.3L78.8 176.6L75.1 185.3L70.6 192.8L64.6 198.8L59.6 205.8L55.1 215.3L53.1 220.3L50.8 227.6L48.3 242.3L47.8 246.8L47.8 253.1L49.8 266.3L52.3 277.6L53.3 288.1L131.1 288.1L131.1 266.8L131.3 266.6L143.1 266.6L148.6 263.3L149.8 262.1L150.6 260.3L152.6 245.8L152.6 230.3L151.3 219.6L148.6 209.8L140.1 193.1L136.8 184.8L134.6 176.1L134.6 172.3Z"/>
<path fill-rule="evenodd" fill="#3abef0" d="M80.6 172.3L80.3 176.3L78.1 182.3L76.3 185.8L72.1 193.1L65.1 200.3L59.6 208.6L54.3 220.8L52.1 228.3L50.1 239.3L49.1 247.8L49.1 251.8L51.3 267.1L53.8 278.6L54.8 288.1L104.6 288.1L102.6 269.3L102.8 259.3L103.8 251.1L105.1 244.6L107.6 237.6L108.6 236.3L110.3 235.3L112.6 235.6L113.6 236.6L114.1 238.3L114.1 255.1L114.8 257.6L118.3 265.1L120.6 268.1L123.8 270.8L124.6 272.3L126.3 288.1L131.1 288.1L131.1 266.8L131.3 266.6L140.1 266.6L147.6 262.3L148.6 261.3L149.3 259.6L151.1 247.8L151.1 228.1L149.8 219.1L147.8 211.6L138.6 193.1L135.6 185.3L133.3 176.8L133.1 172.3Z"/>
<path fill-rule="evenodd" fill="#30e3f0" d="M81.6 172.3L81.3 177.1L77.3 186.3L73.3 193.3L66.3 200.6L61.3 207.8L55.6 220.8L53.3 228.1L50.8 242.6L50.3 247.1L50.3 253.1L52.3 266.1L54.8 277.6L55.8 288.1L100.3 288.1L98.8 276.8L98.3 266.3L98.1 266.1L98.8 256.1L100.3 245.8L102.8 237.6L104.6 234.1L106.1 232.6L108.1 231.6L110.8 230.8L113.6 230.8L115.1 231.6L117.1 233.6L118.3 237.1L118.3 254.1L120.6 260.1L122.6 263.6L124.8 266.1L127.1 267.3L128.3 268.6L131.1 286.6L131.1 266.8L131.3 266.6L137.6 266.6L145.8 262.1L147.6 260.6L148.3 258.6L150.1 246.1L150.1 230.1L149.3 222.8L148.3 217.8L146.6 211.6L138.8 196.3L134.8 186.6L132.1 176.3L132.1 172.3Z"/>
<path fill-rule="evenodd" fill="#35ddc9" d="M131.1 172.3L82.6 172.3L82.3 177.1L78.8 185.6L74.1 193.8L66.6 201.8L62.3 208.1L57.8 217.8L54.3 228.1L52.3 238.6L51.1 250.3L51.3 250.6L51.6 255.6L53.3 266.3L55.8 277.8L56.8 288.1L98.8 288.1L97.3 276.3L96.8 265.3L96.6 265.1L97.6 254.1L98.6 247.3L100.8 238.8L102.8 234.3L105.1 231.6L109.1 229.8L114.3 229.6L116.1 230.6L118.3 232.8L119.6 235.8L119.8 237.6L119.8 254.1L120.1 255.1L123.3 262.1L125.1 264.3L128.3 266.3L129.8 267.8L131.1 271.1L131.1 266.8L131.3 266.6L135.3 266.6L143.8 262.1L146.8 259.8L147.3 258.6L149.1 246.3L149.1 229.6L148.1 221.3L145.6 211.8L136.8 194.3L133.6 186.1L131.3 177.8Z"/>
<path fill-rule="evenodd" fill="#3cd49d" d="M130.1 172.3L83.6 172.3L83.3 176.8L80.1 185.1L74.6 194.6L68.3 201.1L63.1 208.6L57.3 221.6L54.8 230.1L52.8 241.6L52.6 245.8L52.1 248.1L52.1 251.6L54.1 265.6L56.6 277.1L57.6 284.8L57.6 288.1L97.8 288.1L96.3 276.3L96.1 269.1L95.8 268.8L95.8 261.6L97.8 245.8L100.3 237.3L102.6 232.8L103.8 231.3L105.3 230.3L108.3 229.1L111.1 228.6L114.1 228.6L117.3 230.3L119.3 232.6L120.6 235.8L120.6 238.3L120.8 238.6L120.8 253.8L123.6 260.6L126.3 264.1L131.1 267.1L131.3 266.6L133.3 266.6L144.8 260.3L146.1 259.1L146.6 257.6L148.1 247.1L148.1 228.8L147.1 220.8L144.8 212.3L136.1 194.8L132.8 186.6L130.3 177.3Z"/>
<path fill-rule="evenodd" fill="#46ca6b" d="M129.3 172.3L84.3 172.3L84.1 177.6L81.8 183.3L79.8 187.3L75.3 195.1L68.8 201.8L64.1 208.6L60.1 217.1L57.8 222.8L56.1 228.6L53.6 242.8L53.1 247.3L53.1 253.1L54.8 264.8L57.6 277.8L58.6 288.1L96.8 288.1L96.6 284.1L95.6 277.8L95.1 267.3L94.8 267.1L95.1 260.1L96.8 246.3L99.6 236.8L101.6 232.8L103.3 230.6L107.3 228.6L110.6 227.8L114.6 227.8L117.8 229.6L119.8 231.6L121.6 236.1L121.6 252.8L121.8 254.1L124.1 259.6L125.3 261.6L127.3 263.6L131.3 265.8L132.3 265.8L138.3 263.1L143.6 260.1L145.1 258.8L145.8 256.6L147.3 245.6L147.3 231.1L146.3 221.8L144.1 212.8L135.6 195.8L132.1 187.1L129.3 176.8Z"/>
<path fill-rule="evenodd" fill="#5fce5d" d="M128.3 172.3L85.3 172.3L85.1 177.3L82.3 184.3L75.8 195.8L69.3 202.6L64.8 209.1L61.8 215.3L58.6 223.3L56.8 229.3L54.8 240.1L53.8 248.6L53.8 251.6L55.8 265.6L58.3 277.1L59.3 285.1L59.3 288.1L95.8 288.1L95.8 285.3L94.6 276.8L94.3 269.6L94.1 269.3L94.1 261.3L95.8 246.8L98.3 237.6L101.3 231.6L102.6 230.1L104.1 229.1L107.6 227.6L112.6 226.8L115.1 227.1L117.6 228.3L121.1 231.6L122.1 234.1L122.6 236.6L122.6 253.1L125.3 259.8L127.3 262.3L131.1 264.3L132.8 264.3L140.3 260.8L144.1 258.3L144.8 256.6L146.3 245.6L146.1 226.8L145.6 222.6L143.8 215.1L142.6 211.6L135.6 197.8L131.3 187.6L128.6 177.8Z"/>
<path fill-rule="evenodd" fill="#7cd759" d="M124.6 231.6L123.3 232.8L123.8 253.3L125.3 257.3L126.8 259.8L129.3 261.8L132.3 262.1L137.6 260.6L142.3 258.1L143.1 257.3L143.8 255.3L144.8 247.3L144.8 237.1L144.3 234.6L143.6 233.1L142.3 232.3L133.6 231.3ZM127.6 172.3L86.1 172.3L86.1 176.8L83.1 184.8L76.3 196.6L70.1 203.1L65.6 209.6L59.8 222.6L57.8 229.1L55.6 241.3L55.3 245.3L54.8 247.6L54.8 252.8L56.6 264.8L59.1 276.3L60.1 283.6L60.3 288.1L95.1 288.1L93.8 278.3L93.3 267.6L93.1 267.3L93.1 262.3L94.1 252.3L95.3 244.6L97.8 236.3L100.6 231.1L102.8 228.8L108.1 226.6L111.6 226.1L114.8 226.1L116.8 226.8L121.3 230.1L124.1 230.8L137.8 230.8L140.6 231.3L143.1 231.3L143.8 231.1L145.1 229.6L144.8 223.8L142.8 214.8L141.6 211.6L133.6 195.6L130.1 186.8L127.6 177.3Z"/>
<path fill-rule="evenodd" fill="#9ae055" d="M127.6 237.1L126.6 238.3L126.6 253.1L127.6 255.6L129.6 257.1L131.8 257.1L136.6 256.1L139.8 254.6L140.6 253.3L140.8 251.6L140.8 241.1L140.3 238.6L139.3 237.6L136.8 237.1L134.1 237.1L133.8 236.8ZM126.6 172.3L87.1 172.3L86.8 177.8L83.8 185.3L77.1 197.1L70.8 203.6L66.3 210.1L62.8 217.6L58.8 228.8L56.8 239.1L55.6 250.1L57.1 262.3L60.1 277.1L61.1 284.6L61.1 288.1L94.1 288.1L92.8 277.6L92.3 266.3L92.1 266.1L93.1 253.1L94.6 243.6L96.8 236.3L99.1 231.8L101.3 228.8L103.8 227.3L108.6 225.6L115.6 225.3L117.3 226.1L121.6 228.8L136.6 228.8L139.6 229.3L143.6 229.1L144.1 228.1L144.1 225.6L143.6 221.8L142.1 215.6L140.1 210.6L132.6 195.6L129.3 187.3L126.8 178.3Z"/>
<path fill-rule="evenodd" fill="#b7e952" d="M125.6 172.3L88.1 172.3L87.8 177.8L84.8 185.3L77.8 197.6L71.8 203.8L66.6 211.6L61.6 223.3L59.6 229.8L57.3 242.3L56.6 248.6L56.6 251.8L58.3 264.6L60.8 276.1L62.1 285.3L62.1 288.1L93.1 288.1L93.1 285.8L91.8 276.8L91.6 268.8L91.3 268.6L91.3 261.6L92.3 251.3L93.6 243.8L95.8 236.3L99.1 230.1L100.8 228.1L102.8 226.8L107.1 225.1L112.1 224.3L115.1 224.3L116.8 224.8L121.8 227.8L136.6 227.8L141.6 228.3L142.8 227.6L143.1 226.8L142.8 223.3L141.1 215.6L140.3 213.3L131.8 196.1L128.3 187.3L125.8 178.1Z"/>
<path fill-rule="evenodd" fill="#cfee50" d="M124.6 172.3L89.1 172.3L88.8 177.8L86.1 184.8L84.1 188.8L78.6 198.1L71.8 205.3L67.8 211.3L64.8 217.8L60.8 228.8L59.1 237.3L57.6 248.3L57.8 254.8L59.3 265.1L61.8 276.6L63.1 285.8L63.1 288.1L92.1 288.1L92.1 285.8L90.8 276.6L90.6 268.1L90.3 267.8L90.3 262.1L90.6 261.8L91.3 251.6L92.8 242.6L95.1 235.6L98.1 229.8L100.6 227.1L106.6 224.3L110.8 223.6L116.1 223.6L122.1 226.8L138.8 227.1L139.1 227.3L141.6 226.8L141.8 223.3L140.1 215.6L138.3 211.3L131.3 197.3L127.6 188.1L124.8 178.1Z"/>
<path fill-rule="evenodd" fill="#dae650" d="M123.6 172.3L90.1 172.3L90.1 175.8L89.6 178.8L85.6 188.1L79.6 198.3L73.1 205.3L68.6 212.1L63.3 224.3L61.8 229.1L59.8 238.8L58.6 248.1L58.6 252.8L60.3 265.3L63.1 278.6L64.1 288.1L91.1 288.1L90.6 281.6L90.1 279.3L89.6 267.6L89.3 267.3L89.3 262.3L90.6 249.6L91.6 243.6L94.1 235.3L97.1 229.6L99.1 227.1L100.8 225.8L106.1 223.6L111.8 222.6L116.8 222.8L123.3 226.1L139.8 226.1L140.6 225.6L140.8 224.8L140.6 222.1L138.6 214.3L130.1 196.8L125.6 185.1L123.8 178.3Z"/>
<path fill-rule="evenodd" fill="#e5de50" d="M122.6 172.3L91.1 172.3L90.8 178.3L86.8 187.8L80.6 198.6L73.8 206.1L69.1 213.3L64.6 224.1L63.1 228.6L60.8 239.3L59.6 248.3L59.6 252.6L60.6 260.8L63.8 277.1L65.1 285.8L65.1 288.1L90.1 288.1L88.8 276.8L88.8 272.3L88.3 267.3L88.3 262.3L89.8 247.6L91.1 241.1L93.3 234.3L96.3 228.8L99.1 225.8L101.8 224.3L107.1 222.3L112.8 221.6L116.8 221.8L123.3 225.1L138.6 225.1L139.6 224.1L139.6 222.6L137.8 215.3L129.1 197.1L124.6 185.3L122.6 177.3Z"/>
<path fill-rule="evenodd" fill="#e9d252" d="M121.3 172.3L92.3 172.3L91.8 178.8L87.6 188.6L81.1 199.6L74.6 206.8L70.1 213.8L65.6 224.6L63.8 230.1L62.1 238.6L60.6 249.1L60.8 255.1L61.6 259.1L61.6 260.8L65.6 281.6L66.1 288.1L88.8 288.1L88.8 285.6L87.8 277.8L87.6 268.3L87.3 268.1L87.3 261.8L88.8 246.8L90.1 240.6L92.3 233.8L96.1 227.3L98.1 225.3L101.1 223.6L106.3 221.6L113.6 220.6L117.1 220.8L123.6 224.1L125.1 224.3L135.8 224.3L137.3 224.1L138.1 223.6L138.1 221.1L136.3 214.6L128.8 199.1L123.6 185.8L121.6 178.3Z"/>
<path fill-rule="evenodd" fill="#ebc455" d="M120.1 172.3L93.3 172.3L93.1 178.8L89.1 188.1L81.8 200.3L75.1 208.1L70.6 215.6L67.1 224.1L65.1 230.1L63.1 239.6L61.8 247.8L61.8 254.3L63.3 265.6L66.3 279.6L67.3 288.1L87.8 288.1L86.8 279.6L86.6 270.1L86.3 269.8L86.3 260.8L87.8 245.6L89.1 239.6L91.3 233.1L94.8 227.1L97.6 224.3L100.3 222.8L106.3 220.6L113.8 219.6L117.6 219.8L120.3 220.8L122.6 222.3L125.1 223.3L135.1 223.3L136.3 222.8L136.8 222.1L136.1 217.6L134.8 214.1L128.6 201.1L123.6 189.3L120.6 179.3Z"/>
<path fill-rule="evenodd" fill="#ecb558" d="M118.8 172.3L94.8 172.3L94.3 179.1L89.8 189.1L82.8 200.8L75.8 209.1L72.1 215.3L66.6 229.6L64.1 241.1L62.8 249.6L63.1 255.6L64.1 263.6L65.3 270.3L66.8 276.1L68.3 284.6L68.6 288.1L86.3 288.1L86.3 285.1L85.6 279.3L85.6 274.6L85.3 274.3L85.3 267.3L85.1 267.1L85.1 262.8L85.3 262.6L86.1 249.3L87.1 242.3L89.8 233.3L94.1 226.1L96.3 223.8L99.3 222.1L106.1 219.6L113.1 218.6L118.3 218.8L124.8 222.1L128.1 222.6L133.8 222.3L134.6 222.1L135.3 221.1L134.8 217.8L134.1 215.6L127.1 200.6L121.8 188.1L119.1 178.6Z"/>
<path fill-rule="evenodd" fill="#eaa658" d="M117.3 172.3L96.1 172.3L96.1 177.6L95.6 179.8L91.1 189.3L85.6 198.1L84.1 201.1L76.6 210.3L74.6 213.6L71.1 221.3L67.3 232.3L65.3 241.6L64.1 249.6L64.1 253.1L65.1 262.8L69.3 282.8L69.8 288.1L85.1 288.1L84.6 280.1L84.3 279.8L84.3 273.1L84.1 272.8L84.1 259.8L84.3 259.6L85.1 246.6L86.1 240.3L87.8 234.6L89.6 230.6L92.6 225.8L95.3 223.1L98.8 221.1L105.8 218.6L112.1 217.6L119.3 217.8L125.8 221.1L127.8 221.6L131.3 221.6L132.6 221.3L133.6 220.6L133.6 218.8L132.1 214.3L120.8 189.1L117.8 179.3Z"/>
<path fill-rule="evenodd" fill="#e99658" d="M115.8 172.3L97.8 172.3L97.6 178.1L96.3 182.1L92.6 189.3L88.3 195.8L85.3 201.3L78.8 209.6L75.6 214.8L70.8 226.3L68.6 233.8L65.6 248.6L65.6 256.1L66.6 264.8L70.6 281.8L71.3 286.1L71.3 288.1L83.6 288.1L83.3 283.1L83.1 282.8L83.1 278.1L82.8 277.8L82.8 259.6L83.1 259.3L83.3 249.8L83.6 249.6L83.8 244.6L84.6 240.1L86.6 233.3L88.3 229.6L91.3 225.1L94.1 222.3L98.1 220.1L105.3 217.6L111.1 216.6L118.8 216.3L122.1 217.3L127.8 220.3L130.8 220.3L131.8 219.6L131.8 218.1L130.6 214.6L119.3 189.1L116.3 179.8L115.8 176.8Z"/>
<path fill-rule="evenodd" fill="#e68656" d="M114.1 172.3L99.6 172.3L99.6 176.8L98.6 181.1L94.8 188.3L89.1 197.1L85.8 203.1L79.8 210.8L76.6 216.6L72.6 226.8L70.6 233.1L70.6 234.1L68.3 242.3L67.1 248.6L66.8 254.1L68.1 265.8L72.6 283.6L73.1 288.1L81.8 288.1L81.6 277.6L81.3 277.3L81.6 275.3L81.3 262.8L81.6 262.6L81.8 249.1L82.1 248.8L82.3 243.1L82.8 239.8L84.8 232.8L86.6 229.1L89.6 224.6L92.6 221.6L97.1 219.1L105.3 216.3L115.1 214.8L118.6 214.8L122.1 215.6L128.3 218.6L129.1 218.6L129.6 218.1L128.6 214.1L125.3 205.8L116.8 186.8L114.3 179.1Z"/>
<path fill-rule="evenodd" fill="#e47554" d="M111.8 172.3L101.8 172.3L101.6 177.8L100.6 181.3L96.6 188.6L90.6 197.3L86.6 204.6L80.8 212.6L77.6 219.3L72.8 232.8L68.6 249.8L68.6 257.8L69.8 267.1L73.8 280.8L75.1 286.1L75.1 288.1L79.8 288.1L80.1 255.1L80.3 254.8L80.1 250.1L80.3 249.8L80.6 241.1L81.3 237.1L82.8 232.1L85.8 226.3L88.1 223.3L92.1 219.8L95.6 218.1L103.3 215.6L115.6 213.3L120.1 213.3L125.1 214.6L125.8 214.3L126.1 213.8L125.8 212.1L123.8 206.3L119.1 195.3L115.8 189.1L112.8 181.3L111.8 176.6Z"/>
<path fill-rule="evenodd" fill="#e16451" d="M109.1 172.3L104.6 172.3L104.6 175.3L104.1 178.6L103.3 181.1L102.1 183.6L96.6 191.8L92.1 197.8L87.1 206.8L83.3 212.3L80.1 219.3L80.1 220.1L76.3 230.6L74.6 237.1L72.6 242.6L70.6 249.8L70.3 251.8L70.6 261.3L72.1 269.1L75.1 277.8L76.6 280.6L77.1 280.6L77.6 279.1L78.3 272.3L78.3 259.6L78.6 259.3L78.3 248.8L78.1 248.6L78.3 239.3L79.8 232.6L82.1 227.3L85.1 223.1L87.8 220.3L92.8 217.3L105.3 213.6L116.3 211.6L121.3 211.6L122.8 210.8L122.8 209.1L120.3 202.3L113.3 188.3L110.6 182.1L109.3 177.8Z"/>
<path fill-rule="evenodd" fill="#df5b50" d="M74.8 247.6L73.6 249.1L72.8 251.8L72.6 259.3L73.1 263.6L73.8 266.6L75.1 269.3L75.6 269.3L76.1 268.6L76.3 266.6L76.3 254.6L75.6 249.1ZM107.1 182.6L105.6 183.3L92.8 199.8L84.8 214.8L84.3 216.3L84.3 218.3L85.6 218.3L88.8 216.6L93.1 215.1L100.1 213.6L104.8 212.1L118.6 209.3L119.8 208.6L119.8 206.3L116.3 197.8L108.6 184.3Z"/>
<path fill-rule="evenodd" fill="#de5450" d="M107.3 188.8L105.8 188.6L103.6 190.3L98.1 196.1L95.3 199.6L93.3 202.8L89.6 211.3L89.6 212.3L90.1 212.8L93.1 212.8L97.8 212.1L104.1 210.3L107.3 209.8L115.1 207.6L116.8 206.3L116.8 204.6L114.3 198.6L110.1 192.1Z"/>
</g></g>
<text x="56.3" y="192.7" class="hl">vertices</text>
<text x="44.4" y="248.5" class="hl">flat surface</text>
<text x="167.8" y="273" text-anchor="middle" class="sb">2 nm</text>
<path d="M150.7 277.7H180.3" stroke="#000" stroke-width="2.6"/>
<clipPath id="hf"><rect x="238.4" y="177.4" width="162.4" height="106.1"/></clipPath>
<filter id="hff" x="-5%" y="-5%" width="110%" height="110%"><feGaussianBlur stdDeviation="0.55"/></filter>
<g clip-path="url(#hf)"><g filter="url(#hff)">
<rect x="234.4" y="173.4" width="170.4" height="114.1" fill="#7950b0"/>
<path fill-rule="evenodd" fill="#7250bc" d="M234.5 194.5L234.5 245.5L235.8 246.8L240.3 254.0L243.8 267.3L245.5 271.0L247.0 273.0L250.3 275.8L265.3 283.3L271.0 285.5L274.0 287.3L404.5 287.3L404.5 182.0L402.0 182.0L396.0 180.5L384.8 175.8L380.8 174.5L379.8 173.5L267.0 173.5L267.0 189.5L266.8 189.8L238.5 189.8Z"/>
<path fill-rule="evenodd" fill="#6a50c7" d="M239.3 195.5L237.8 199.3L235.8 206.5L234.5 208.3L234.5 231.5L235.8 233.8L238.5 243.0L239.8 245.5L244.0 252.0L248.0 266.8L249.8 269.8L253.0 272.5L267.0 279.5L273.8 282.3L276.3 282.8L303.5 282.8L305.0 284.0L305.8 286.0L305.8 287.3L404.5 287.3L404.5 186.3L400.8 186.0L393.5 184.0L383.5 179.8L371.8 176.3L369.0 174.8L368.0 173.5L269.5 173.5L267.0 176.0L267.0 189.5L266.8 189.8L245.3 189.8L242.5 191.8L240.3 194.0Z"/>
<path fill-rule="evenodd" fill="#5e50d1" d="M241.5 196.5L240.0 200.3L237.0 211.0L237.5 231.0L240.8 242.0L242.0 244.5L246.3 251.0L250.3 265.8L251.5 268.0L254.0 270.3L268.0 277.3L274.0 279.8L276.0 280.3L304.8 280.3L305.5 280.5L306.8 281.8L308.0 285.0L308.3 287.3L404.5 287.3L404.5 188.8L400.8 188.5L394.8 187.0L381.3 181.5L370.3 178.3L364.5 175.0L363.5 174.0L363.5 173.5L273.5 173.5L271.8 175.5L267.0 179.0L267.0 189.5L266.8 189.8L249.3 189.8L244.3 193.5Z"/>
<path fill-rule="evenodd" fill="#5150db" d="M242.8 197.8L238.8 211.0L239.3 230.8L242.5 241.8L247.8 250.0L252.3 266.0L255.3 269.0L268.3 275.5L276.0 278.5L305.3 278.5L306.3 278.8L307.8 280.0L309.0 282.3L310.0 285.8L310.0 287.3L404.5 287.3L404.5 190.5L400.8 190.3L393.8 188.5L381.0 183.3L369.3 179.8L362.8 176.0L361.8 175.0L361.0 173.5L276.3 173.5L276.3 174.0L275.0 175.3L267.0 181.3L267.0 189.5L266.8 189.8L252.3 189.8L244.3 195.8Z"/>
<path fill-rule="evenodd" fill="#4350e5" d="M244.5 197.5L242.8 201.8L240.0 212.0L240.5 230.0L243.8 241.3L248.8 249.0L249.5 250.8L253.0 264.3L254.3 266.5L255.8 267.8L268.8 274.3L274.8 276.8L276.8 277.3L306.5 277.3L307.5 277.8L309.3 279.8L310.5 282.5L311.5 287.3L404.5 287.3L404.5 191.8L401.3 191.8L394.0 190.0L380.5 184.5L368.8 181.0L362.5 177.5L360.0 175.0L359.3 173.5L278.8 173.5L277.3 175.3L267.0 183.0L267.0 189.5L266.8 189.8L254.8 189.8L246.0 196.0Z"/>
<path fill-rule="evenodd" fill="#3f59eb" d="M244.8 199.3L241.3 211.0L241.8 231.0L244.8 240.8L249.3 247.8L250.5 250.3L254.3 264.5L256.3 266.8L269.3 273.3L276.0 276.0L305.3 276.0L307.3 276.3L308.8 277.3L311.3 281.3L312.5 285.8L312.5 287.3L404.5 287.3L404.5 193.0L400.8 192.8L393.5 191.0L380.8 185.8L367.8 181.8L361.0 177.8L358.8 175.3L357.8 173.5L280.5 173.5L280.5 174.0L279.5 175.0L269.5 182.3L267.0 184.5L267.0 189.5L266.8 189.8L257.3 189.8L253.5 191.8L245.8 197.8Z"/>
<path fill-rule="evenodd" fill="#3d66ee" d="M246.0 199.0L244.5 203.0L242.0 212.3L242.5 229.8L245.8 240.8L251.0 249.0L255.0 263.8L255.5 264.8L257.3 266.3L269.3 272.3L275.3 274.8L277.3 275.3L307.5 275.3L308.3 275.5L309.8 277.0L311.8 280.0L313.3 284.8L313.5 287.3L404.5 287.3L404.5 193.8L401.0 193.8L392.8 191.8L380.8 186.8L368.3 183.0L360.8 178.8L357.5 175.3L356.5 173.5L282.3 173.5L280.5 175.5L269.8 183.3L267.0 185.8L267.0 189.5L266.8 189.8L259.5 189.8L253.8 192.8L247.8 197.3Z"/>
<path fill-rule="evenodd" fill="#3d7cf0" d="M246.5 199.8L243.3 210.3L242.8 213.3L243.5 230.8L246.0 239.3L252.0 249.3L255.8 263.5L258.0 265.8L269.0 271.3L276.3 274.3L278.0 274.5L308.3 274.5L310.3 276.3L312.8 280.3L314.3 285.5L314.3 287.3L404.5 287.3L404.5 194.5L400.5 194.5L392.5 192.5L380.5 187.5L368.0 183.8L360.0 179.3L357.5 176.3L354.5 173.5L284.5 173.5L276.8 179.0L267.0 186.8L267.0 189.5L266.8 189.8L261.3 189.8L258.0 191.3L253.8 193.8L247.8 198.3Z"/>
<path fill-rule="evenodd" fill="#3f9bf0" d="M404.5 195.3L400.5 195.3L392.5 193.3L379.8 188.0L368.0 184.5L359.8 180.0L356.0 175.8L353.8 174.8L348.0 175.0L345.5 175.5L336.5 175.5L346.3 175.8L347.0 176.5L347.0 177.0L345.3 177.8L285.8 177.5L283.3 178.0L283.0 177.3L284.3 176.0L286.5 175.5L332.0 175.5L284.0 175.5L277.3 179.8L269.3 185.8L267.0 187.8L266.8 189.8L263.3 189.8L256.3 193.0L249.0 198.3L247.3 200.0L246.3 202.5L243.5 212.8L243.8 224.8L244.0 225.0L244.3 230.8L247.0 239.8L252.5 248.5L256.0 262.0L256.8 263.8L257.8 264.8L270.8 271.3L277.5 273.8L308.5 273.8L310.8 275.8L313.0 279.0L314.8 284.5L315.0 287.3L404.5 287.3Z"/>
<path fill-rule="evenodd" fill="#3abef0" d="M404.5 196.0L401.0 196.0L391.8 193.8L380.5 189.0L368.0 185.3L359.0 180.3L355.0 176.0L354.3 175.8L351.5 176.0L347.5 178.3L344.8 178.8L285.5 178.5L277.8 181.5L274.8 183.0L267.5 188.3L266.8 189.8L265.0 189.8L256.0 194.0L249.5 198.8L247.8 200.5L244.3 212.3L244.5 225.5L244.8 225.8L245.0 231.0L247.8 239.8L253.3 248.5L256.5 261.3L257.3 263.3L258.3 264.3L271.3 270.8L277.0 273.0L307.8 273.0L309.0 273.3L311.0 275.0L314.0 279.8L315.5 285.0L315.8 287.3L404.5 287.3Z"/>
<path fill-rule="evenodd" fill="#30e3f0" d="M404.5 196.5L400.0 196.5L392.0 194.5L380.0 189.5L367.0 185.5L359.0 181.0L355.0 177.0L353.0 176.8L348.5 178.8L345.3 179.5L285.5 179.3L274.8 184.5L270.0 187.5L267.5 189.5L257.0 194.3L250.0 199.3L248.5 200.8L247.3 204.0L245.0 212.0L245.3 226.0L245.8 231.0L248.3 239.0L253.8 248.0L257.8 262.8L258.8 263.8L270.0 269.5L277.8 272.5L308.8 272.5L309.5 272.8L310.8 273.8L312.3 275.8L314.5 279.5L316.0 284.8L316.3 287.3L404.5 287.3Z"/>
<path fill-rule="evenodd" fill="#35ddc9" d="M404.5 197.3L400.3 197.3L392.0 195.3L379.5 190.0L367.3 186.3L359.3 182.0L355.3 178.3L354.0 177.8L352.3 178.0L346.0 180.3L342.3 180.3L342.0 180.5L327.0 180.5L326.8 180.3L317.3 180.3L317.0 180.0L291.8 180.0L291.5 179.8L285.5 180.0L274.8 185.5L267.0 190.8L257.3 195.0L249.3 201.0L248.3 203.3L245.8 212.0L246.3 229.3L249.0 238.8L254.5 247.8L257.8 260.8L258.5 262.5L259.3 263.3L270.5 269.0L277.3 271.8L309.0 272.0L309.8 272.3L311.3 273.5L314.8 278.8L316.5 284.5L316.8 287.3L404.5 287.3Z"/>
<path fill-rule="evenodd" fill="#3cd49d" d="M404.5 198.0L400.0 198.0L391.5 196.0L379.5 190.8L366.8 186.8L358.8 182.5L356.0 180.0L353.8 178.8L351.8 179.0L345.8 181.3L337.5 181.5L337.3 181.8L320.8 181.3L320.5 181.0L312.8 181.0L312.5 180.8L290.8 180.8L290.5 180.5L285.8 180.8L276.3 185.5L267.3 191.5L257.5 195.8L251.3 200.3L250.0 201.5L248.8 204.5L246.5 213.0L247.5 229.5L250.3 238.8L255.3 247.0L258.5 260.5L259.0 261.8L260.0 262.8L272.3 269.0L278.3 271.3L309.5 271.5L310.3 271.8L311.8 273.3L315.0 278.0L317.0 284.5L317.3 287.3L404.5 287.3Z"/>
<path fill-rule="evenodd" fill="#46ca6b" d="M404.5 199.0L399.0 198.8L390.0 196.5L378.0 191.0L366.8 187.5L358.5 183.3L355.0 180.5L353.3 179.8L350.8 180.3L347.8 181.8L345.3 182.5L338.3 183.3L333.0 183.3L332.8 183.0L329.3 183.0L326.0 182.5L314.3 182.0L314.0 181.8L286.3 181.5L278.3 185.3L274.8 187.3L268.3 191.8L258.3 196.3L252.0 200.8L250.8 202.0L249.8 204.3L247.8 212.0L247.8 216.3L248.3 218.8L248.3 222.0L249.0 226.8L249.0 229.0L251.5 238.0L256.3 246.5L259.3 259.8L260.5 262.0L273.0 268.5L278.0 270.5L292.8 270.8L293.0 271.0L310.0 271.0L311.5 272.0L315.8 278.5L317.5 284.3L317.8 287.3L404.5 287.3Z"/>
<path fill-rule="evenodd" fill="#5fce5d" d="M404.5 200.0L400.0 200.0L389.5 197.5L378.3 192.0L365.5 187.8L353.0 181.0L351.0 181.3L345.0 184.3L337.5 186.0L334.0 186.0L324.3 184.0L315.5 183.0L306.0 182.8L305.8 182.5L287.8 182.3L286.3 182.5L282.5 184.0L276.8 187.0L269.3 192.0L257.8 197.5L252.3 201.8L251.3 203.0L249.0 211.5L248.8 214.3L249.5 217.8L249.8 221.5L251.0 229.5L252.0 232.3L253.3 237.8L257.8 246.8L260.3 259.5L262.0 261.8L271.3 266.8L277.3 269.5L280.8 270.0L309.3 270.3L310.5 270.5L312.3 272.0L316.0 277.8L318.0 284.3L318.3 287.3L404.5 287.3ZM284.0 241.8L285.3 240.5L288.3 240.3L290.0 241.5L290.0 242.3L288.5 243.5L286.0 243.8L284.8 243.3L284.0 242.5Z"/>
<path fill-rule="evenodd" fill="#7cd759" d="M404.5 201.0L401.0 201.0L400.8 201.3L398.3 201.0L389.8 199.0L377.3 192.5L365.3 188.5L359.0 185.3L352.8 182.5L351.5 182.5L350.3 183.0L341.3 190.0L339.3 191.3L336.8 192.0L334.8 192.0L332.8 191.5L324.8 186.8L317.3 184.8L307.3 183.8L288.8 183.3L285.0 184.0L279.5 186.5L274.5 189.3L269.5 192.8L259.0 197.8L253.5 202.0L252.0 204.0L250.3 211.8L250.3 215.0L251.0 217.8L252.8 228.5L253.8 231.3L254.5 235.0L259.3 245.8L260.0 251.8L261.5 259.3L263.5 261.3L277.0 268.5L280.5 269.3L288.3 269.5L288.5 269.8L310.0 269.8L312.0 270.8L313.0 272.0L316.8 278.3L318.8 285.3L318.8 287.3L404.5 287.3ZM276.5 242.0L277.3 240.5L279.8 238.3L281.8 237.3L285.3 236.3L290.3 236.3L293.3 237.0L295.8 238.3L297.5 240.0L298.0 241.3L298.0 242.5L297.5 243.8L295.3 246.0L292.0 247.5L287.8 248.3L283.3 248.0L279.0 246.5L276.8 244.3Z"/>
<path fill-rule="evenodd" fill="#9ae055" d="M253.5 203.8L252.8 205.5L252.0 209.3L251.8 215.0L252.5 217.3L254.8 228.5L256.8 234.8L261.8 244.5L262.0 252.5L263.0 258.8L264.3 260.0L275.0 266.5L279.0 268.3L286.3 269.0L290.5 269.0L290.8 269.3L309.5 269.0L311.8 269.8L313.3 271.3L317.0 277.5L319.3 285.0L319.3 287.3L404.5 287.3L404.5 202.5L399.5 202.8L394.3 202.0L390.3 201.0L377.3 193.5L365.5 189.5L357.5 185.8L352.8 184.5L350.3 185.3L348.5 187.0L346.5 190.0L342.8 193.5L340.3 195.0L336.8 196.0L333.5 196.0L330.0 195.0L327.0 193.3L320.8 188.5L315.5 186.5L305.0 185.0L295.8 184.8L295.5 184.5L287.5 184.5L281.3 186.8L276.3 189.3L269.8 193.5L260.8 197.8L257.8 199.8ZM303.5 241.5L303.3 243.5L302.5 245.0L300.0 247.5L295.5 249.8L289.3 251.0L282.8 251.0L277.3 249.8L273.5 247.8L271.8 246.0L271.0 244.5L271.0 243.0L271.5 241.8L274.3 238.8L276.8 237.0L280.3 235.3L285.0 234.0L287.5 234.0L287.8 233.8L292.0 234.0L297.8 235.5L300.5 237.0L302.5 239.0Z"/>
<path fill-rule="evenodd" fill="#b7e952" d="M254.5 204.5L253.5 208.5L253.3 214.3L256.3 227.3L259.5 235.0L261.0 237.0L263.5 239.0L265.0 239.5L267.8 239.3L278.3 234.0L282.8 232.5L285.5 232.0L293.0 232.0L299.8 233.3L303.8 234.8L305.8 236.0L307.8 238.0L308.8 239.8L309.0 243.3L308.3 245.3L307.0 247.0L303.8 249.8L298.3 252.0L289.3 253.5L279.0 253.5L275.8 253.0L269.0 251.0L267.5 251.0L266.5 251.5L265.5 252.8L265.0 254.5L265.3 257.5L272.5 263.5L276.3 266.0L279.8 267.5L288.3 268.5L292.8 268.5L293.0 268.8L310.8 268.5L311.5 268.8L313.8 270.8L317.5 277.3L319.8 284.8L320.0 287.3L404.5 287.3L404.5 204.5L402.0 204.5L399.8 205.0L394.3 205.0L391.5 204.5L387.5 202.3L383.8 199.0L378.3 195.3L372.3 192.5L365.0 190.3L357.0 187.0L353.3 187.0L351.5 187.8L349.8 189.5L347.5 192.8L345.3 195.0L341.5 197.5L337.3 199.0L333.0 199.3L329.8 198.5L326.5 197.0L317.0 190.0L312.0 188.0L304.0 186.5L298.5 186.3L298.3 186.0L292.5 186.0L292.3 185.8L286.8 186.0L280.0 188.5L275.5 190.8L269.8 194.5L260.5 199.0L256.0 202.8Z"/>
<path fill-rule="evenodd" fill="#cfee50" d="M256.0 205.0L255.0 208.5L255.0 215.0L256.3 221.0L258.0 227.3L260.3 232.0L263.5 235.3L265.5 236.0L268.5 236.0L272.5 234.8L279.3 231.8L285.5 230.3L295.5 230.3L304.5 231.5L310.0 233.3L313.3 235.3L314.8 236.8L316.0 238.8L316.5 240.3L316.5 243.3L315.3 246.5L311.8 250.3L307.8 252.5L303.5 253.8L299.3 254.5L279.8 256.3L276.5 256.8L273.8 257.8L273.0 258.8L273.0 260.0L273.5 261.3L277.8 265.5L281.0 266.8L290.3 268.0L311.3 267.8L312.3 268.3L313.8 269.5L317.8 276.5L320.3 284.5L320.5 287.3L404.5 287.3L404.5 208.0L402.5 208.5L401.3 209.3L399.8 210.8L398.8 213.0L398.8 219.3L399.3 222.3L399.8 233.5L400.0 233.8L400.0 243.5L399.8 243.8L399.8 248.8L399.5 249.0L399.3 254.5L397.5 265.3L395.5 272.3L393.5 276.5L391.3 279.0L390.3 279.5L389.0 279.5L387.3 278.0L386.3 276.0L385.3 272.3L384.8 268.0L384.8 254.5L385.0 254.3L385.3 245.3L385.5 245.0L386.3 229.3L386.5 229.0L386.5 225.5L387.3 217.8L387.3 209.8L386.3 206.0L384.3 202.5L380.5 198.5L376.8 195.8L370.8 193.0L364.8 191.3L359.8 189.3L357.8 188.8L355.5 188.8L353.3 189.8L345.8 197.5L342.5 199.8L339.8 201.3L337.0 202.3L333.0 202.8L329.3 202.0L326.5 200.8L323.0 198.5L316.8 193.5L311.0 190.3L306.0 188.8L301.8 188.0L293.3 187.5L293.0 187.3L288.3 187.3L283.3 188.5L275.8 191.8L270.3 195.3L263.5 198.5L260.3 200.5Z"/>
<path fill-rule="evenodd" fill="#dae650" d="M258.3 204.5L257.0 206.8L256.5 209.8L256.5 214.3L258.0 222.0L259.8 227.3L261.3 230.0L263.0 232.0L265.8 233.5L267.3 233.8L270.0 233.5L272.8 232.8L281.0 229.5L286.5 228.5L311.8 228.8L312.0 228.5L317.8 228.5L318.0 228.3L324.5 228.3L326.8 229.5L328.5 232.3L330.0 238.5L330.0 245.0L328.8 248.3L325.8 251.0L319.3 254.0L313.0 255.8L308.0 256.3L301.0 256.3L300.8 256.5L292.8 256.8L288.3 257.3L280.8 258.8L278.8 259.8L277.8 261.0L277.8 262.8L278.8 264.3L281.8 265.8L289.5 267.3L300.3 267.5L307.8 266.8L311.3 266.8L312.5 267.3L314.3 268.8L317.8 275.0L320.8 284.3L321.3 287.3L376.0 287.3L376.0 286.3L377.0 283.5L379.3 273.3L381.3 260.8L383.0 245.3L383.5 235.3L383.8 235.0L383.8 230.0L384.0 229.8L384.0 212.3L383.3 207.3L382.5 204.8L380.5 201.3L376.5 197.3L371.5 194.5L365.8 192.5L359.5 190.8L356.5 190.8L353.8 192.3L345.8 200.3L338.5 205.5L334.5 207.5L330.8 207.8L328.0 206.5L325.5 204.8L314.8 195.5L308.8 192.0L304.3 190.5L300.8 189.8L295.0 189.0L289.3 188.8L283.0 190.0L275.3 193.3L271.8 195.5L262.8 200.3L261.0 201.5Z"/>
<path fill-rule="evenodd" fill="#e5de50" d="M378.5 202.0L375.8 198.8L370.5 195.5L362.5 193.0L357.8 192.8L356.3 193.3L352.5 196.3L341.3 207.8L338.5 212.3L337.0 218.0L336.8 232.8L338.0 244.8L338.0 251.3L337.5 252.8L335.5 255.0L332.5 256.3L316.3 259.3L310.5 259.3L304.3 258.3L299.3 258.3L299.0 258.0L290.8 258.5L286.8 259.3L282.8 260.8L281.5 262.0L281.5 263.3L282.5 264.3L285.3 265.5L292.5 266.8L300.5 266.8L309.3 265.5L311.8 265.5L313.0 266.0L315.3 268.3L318.8 275.8L320.3 281.5L321.3 283.8L322.0 287.3L360.8 287.3L363.0 284.8L367.0 281.8L370.5 278.3L373.0 274.8L376.0 268.5L378.8 259.0L380.3 251.0L381.5 240.5L381.8 233.5L382.0 233.3L382.0 216.8L381.0 208.5L380.0 205.0ZM320.8 206.0L318.3 202.5L312.8 197.3L308.5 194.5L304.5 192.8L298.8 191.3L292.8 190.5L287.8 190.5L283.8 191.3L278.5 193.0L266.3 199.5L262.0 202.5L260.3 204.5L258.5 207.8L258.3 215.8L259.5 222.0L260.5 225.0L262.3 228.3L263.5 229.8L266.0 231.3L270.8 231.5L282.5 227.5L288.8 226.8L295.3 226.8L295.5 226.5L302.5 226.3L307.3 225.5L312.8 223.8L317.3 221.0L321.0 216.8L321.8 215.3L322.5 212.3L322.3 209.5Z"/>
<path fill-rule="evenodd" fill="#e9d252" d="M285.5 262.8L285.8 263.5L287.5 264.8L291.5 265.8L294.0 265.8L294.3 266.0L301.3 265.8L305.3 265.0L308.0 264.0L309.0 263.0L308.3 261.8L306.8 261.0L301.3 259.8L291.3 260.0L287.0 261.3ZM371.0 197.5L367.8 196.0L362.8 194.8L359.0 194.8L356.8 195.5L353.8 197.8L349.0 202.5L344.3 208.8L342.3 213.3L341.5 216.3L340.5 224.5L340.8 236.8L343.0 252.3L342.8 255.8L342.0 257.3L341.0 258.3L337.8 259.5L327.0 260.3L319.3 261.8L316.5 262.8L315.3 264.0L317.3 270.5L319.8 276.8L320.0 278.5L322.8 287.3L353.3 287.3L353.5 286.3L358.5 280.3L363.0 276.0L367.3 273.0L370.8 269.5L373.3 265.8L376.3 258.8L378.5 249.8L380.3 235.5L380.5 223.3L380.3 223.0L380.3 218.3L379.5 211.8L377.8 205.3L375.5 201.3L373.3 199.0ZM316.5 206.0L314.8 203.0L311.0 199.0L307.5 196.5L302.8 194.3L297.0 192.8L290.0 192.0L282.8 193.0L276.5 195.3L266.3 201.0L262.5 204.3L260.5 207.5L259.8 210.8L259.8 215.5L260.8 221.0L261.8 224.0L263.5 227.0L265.0 228.5L268.3 229.8L272.8 229.3L280.3 226.5L283.5 225.8L297.8 224.8L304.3 223.5L309.8 221.3L312.0 219.8L315.0 216.8L316.3 214.8L317.3 211.8L317.3 208.5Z"/>
<path fill-rule="evenodd" fill="#ebc455" d="M290.5 263.5L291.8 264.3L294.0 264.8L298.3 264.8L301.5 264.0L302.5 263.0L301.8 262.3L299.5 261.5L295.3 261.3L291.5 262.0L290.5 262.8ZM370.0 199.0L367.5 197.8L363.5 196.8L360.5 196.8L358.5 197.3L354.8 199.5L350.8 203.5L347.5 208.0L345.0 213.8L344.0 218.0L343.3 224.0L343.5 237.5L345.3 247.8L347.3 255.8L347.5 258.0L347.0 260.8L345.8 262.0L343.3 262.8L333.5 262.5L333.3 262.3L327.8 262.5L321.8 263.8L320.5 264.3L318.8 265.8L318.3 267.0L318.5 270.5L320.0 275.0L321.0 279.8L322.5 283.5L323.5 287.3L348.8 287.3L349.0 286.5L352.3 282.3L354.5 277.8L355.3 275.5L356.8 273.0L358.8 271.3L365.3 268.3L367.5 266.8L370.5 263.8L372.3 261.3L374.8 256.0L376.3 251.3L377.5 245.5L378.8 235.5L379.0 225.0L378.8 224.8L378.8 220.3L378.3 215.5L377.3 210.3L376.3 207.0L375.3 204.8L373.3 201.8ZM313.0 206.0L311.0 202.5L308.0 199.5L305.5 197.8L302.0 196.0L299.0 195.0L292.3 193.8L287.0 193.8L280.0 195.3L273.5 198.3L268.8 201.0L265.8 203.3L263.5 205.8L261.8 209.5L261.3 212.8L261.5 217.3L262.3 220.8L264.0 224.8L266.0 226.8L268.3 227.8L271.8 227.8L279.8 225.0L283.0 224.3L295.5 223.3L301.5 222.0L306.8 219.8L309.3 218.0L311.8 215.3L313.0 213.0L313.5 211.3L313.5 207.8Z"/>
<path fill-rule="evenodd" fill="#ecb558" d="M321.0 267.0L320.0 269.0L320.0 272.0L321.8 280.0L324.0 285.3L324.5 287.3L345.5 287.3L346.3 285.8L347.5 284.5L349.3 281.8L350.8 277.0L350.8 273.5L350.0 271.0L349.3 269.8L346.5 267.5L340.0 265.3L332.5 264.3L326.0 264.8L322.8 265.8ZM364.3 199.0L360.8 199.0L357.0 200.5L355.3 201.8L351.5 205.8L349.5 208.8L348.0 212.0L346.5 217.0L345.5 223.8L345.3 230.0L345.5 230.3L345.8 237.5L346.8 243.5L349.8 253.5L352.8 260.0L354.0 261.8L355.8 263.3L359.3 264.5L361.5 264.5L365.5 263.3L367.8 261.8L369.8 259.8L371.5 257.3L373.5 253.3L375.3 248.0L376.3 243.5L377.3 236.0L377.3 232.5L377.5 232.3L377.3 220.8L376.0 212.8L374.5 208.0L373.0 205.0L370.5 202.0L367.0 199.8ZM309.8 205.5L308.3 203.0L305.5 200.3L303.3 198.8L298.0 196.5L291.3 195.3L285.3 195.5L280.8 196.5L277.5 197.8L271.0 201.3L268.3 203.3L265.5 206.0L264.0 208.5L263.0 212.3L263.0 216.5L263.8 220.3L265.3 223.3L267.0 225.0L268.8 225.8L272.5 225.8L278.3 223.8L282.5 222.8L294.3 221.8L299.8 220.5L304.3 218.5L305.8 217.5L308.8 214.5L309.8 212.8L310.5 210.0L310.5 208.3Z"/>
<path fill-rule="evenodd" fill="#eaa658" d="M322.0 269.3L321.5 270.5L321.5 274.8L322.3 279.0L323.3 282.0L325.8 287.3L342.5 287.3L342.8 286.5L346.0 282.8L347.5 279.0L347.8 277.3L347.5 274.8L346.8 272.8L345.5 271.0L343.0 269.0L337.5 266.8L330.3 266.0L325.0 267.0L323.5 267.8ZM363.0 201.3L359.0 202.0L356.5 203.5L353.5 206.5L351.8 209.0L350.0 212.5L349.0 215.5L348.0 219.8L347.3 226.5L347.3 232.3L348.0 239.3L349.3 244.8L350.5 248.5L352.3 252.5L354.5 256.0L357.0 258.5L358.8 259.5L360.5 260.0L362.8 260.0L365.3 259.3L366.5 258.5L369.0 256.3L371.3 253.0L372.8 249.8L374.8 243.0L376.0 233.8L375.8 221.0L374.8 215.0L373.5 210.8L371.3 206.3L368.8 203.5L366.3 202.0ZM307.0 205.8L305.3 203.0L302.8 200.8L300.3 199.3L296.3 197.8L290.0 196.8L285.5 197.0L281.8 197.8L278.3 199.0L273.5 201.5L270.3 203.8L267.3 206.8L265.8 209.3L264.8 213.0L265.0 218.0L266.5 221.5L268.0 223.0L270.0 223.8L273.8 223.5L278.3 222.0L283.3 221.0L291.5 220.5L296.8 219.5L301.8 217.5L304.5 215.5L306.0 213.8L307.5 210.5L307.5 207.3Z"/>
<path fill-rule="evenodd" fill="#e99658" d="M324.8 269.3L323.5 270.5L322.8 272.3L322.8 277.0L323.8 281.0L325.3 284.0L327.3 286.8L327.3 287.3L339.3 287.3L343.0 283.5L344.5 281.0L345.3 277.3L344.8 274.8L344.0 273.3L341.3 270.5L337.8 268.8L333.3 267.8L327.8 268.0ZM361.3 204.0L359.5 204.5L357.0 206.0L354.3 209.0L351.8 213.5L350.5 217.3L349.5 222.0L349.0 231.3L349.3 231.5L349.5 236.8L350.8 242.8L352.3 247.0L354.0 250.5L355.3 252.3L358.5 255.3L360.3 256.0L362.8 256.3L364.0 256.0L366.8 254.5L368.8 252.5L371.3 248.3L372.5 245.0L373.8 240.0L374.5 234.8L374.8 227.3L374.5 227.0L374.3 221.0L373.5 217.0L372.3 212.8L370.8 209.5L368.8 206.8L367.0 205.3L364.0 204.0ZM304.3 205.8L303.5 204.5L301.0 202.0L297.5 200.0L294.5 199.0L291.8 198.5L285.8 198.5L281.3 199.5L273.8 203.3L271.5 205.0L269.0 207.8L267.0 212.0L266.8 215.8L267.3 218.0L268.3 219.8L270.5 221.3L274.0 221.3L280.0 219.8L290.5 219.0L295.5 218.0L299.8 216.3L301.3 215.3L303.5 213.0L304.8 210.3L304.8 207.3Z"/>
<path fill-rule="evenodd" fill="#e68656" d="M327.3 270.0L325.0 271.5L324.0 273.5L323.8 276.8L324.5 280.3L325.8 282.8L327.3 284.8L329.8 286.5L330.3 287.3L335.0 287.3L336.5 286.0L339.0 284.8L341.5 282.3L342.8 279.5L342.5 275.5L341.8 274.0L339.5 271.8L336.8 270.3L334.0 269.5L329.0 269.5ZM362.0 206.8L360.0 207.3L357.5 208.8L355.5 211.0L353.5 214.5L352.3 218.0L351.3 222.5L350.8 227.3L350.8 231.5L351.3 236.3L352.3 241.0L355.0 247.5L356.0 249.0L359.0 251.8L360.8 252.5L363.8 252.5L366.5 251.0L367.8 249.8L370.8 244.5L372.8 236.8L373.3 231.8L373.3 226.5L372.3 219.0L370.0 212.5L367.8 209.3L366.3 208.0L364.3 207.0ZM301.5 206.0L300.5 204.5L298.5 202.8L294.3 200.8L290.0 200.0L287.3 200.0L282.0 201.0L277.5 203.0L274.3 205.3L272.0 207.5L270.8 209.3L269.8 211.5L269.5 215.5L270.3 217.0L271.3 218.0L272.8 218.5L275.5 218.5L280.3 217.8L288.8 217.5L294.3 216.5L297.8 215.0L300.8 212.5L302.0 210.0L302.0 207.5Z"/>
<path fill-rule="evenodd" fill="#e47554" d="M327.8 271.8L326.0 273.3L325.3 275.0L325.3 278.8L326.3 281.3L327.5 283.0L329.0 284.3L330.8 285.0L334.3 285.0L336.8 284.0L338.5 282.8L340.0 280.8L340.5 279.3L340.5 276.8L339.3 274.3L337.5 272.8L334.0 271.3L330.5 271.0ZM361.5 210.0L358.8 211.3L356.8 213.3L355.0 216.3L353.0 223.0L352.5 227.5L352.5 231.3L353.5 238.3L354.8 242.0L356.3 245.0L359.8 248.5L361.0 249.0L363.5 249.0L365.5 248.0L367.5 246.0L370.0 241.0L371.5 234.0L371.8 227.8L371.0 221.3L368.8 214.8L367.3 212.5L365.3 210.8L363.3 210.0ZM299.0 207.5L298.5 206.3L297.0 204.5L293.3 202.5L291.0 202.0L284.5 202.3L280.8 203.5L277.3 205.8L274.5 208.8L273.5 211.0L273.5 213.3L274.8 214.8L277.5 215.5L287.3 215.8L291.3 215.3L294.5 214.3L297.3 212.5L298.8 210.5Z"/>
<path fill-rule="evenodd" fill="#e16451" d="M328.5 273.8L327.0 275.5L326.8 278.5L327.8 280.8L329.3 282.3L332.0 283.3L334.0 283.0L335.8 282.3L337.5 280.5L338.0 279.3L338.0 277.0L337.3 275.5L336.3 274.5L334.5 273.5L332.8 273.0L330.5 273.0ZM361.8 213.5L359.5 214.5L357.8 216.3L355.8 220.3L354.5 226.0L354.5 232.8L355.5 237.8L357.8 242.5L359.0 244.0L360.5 245.0L363.5 245.3L366.3 243.3L368.3 239.8L369.8 233.8L370.0 227.0L369.3 222.0L367.3 217.0L366.0 215.3L364.8 214.3L363.0 213.5ZM295.5 208.3L294.5 206.3L292.3 204.8L288.5 204.0L285.8 204.3L284.0 204.8L280.3 207.0L279.0 208.8L278.8 210.5L279.5 211.8L281.5 212.8L283.8 213.3L289.5 213.3L291.5 212.8L293.5 211.8L295.0 210.3Z"/>
<path fill-rule="evenodd" fill="#df5b50" d="M329.8 276.5L329.3 277.8L329.8 279.3L330.5 280.0L332.5 280.5L334.3 279.5L334.8 278.0L334.0 276.5L332.5 275.8L331.0 275.8ZM361.5 217.8L360.5 218.3L359.0 219.8L357.8 222.0L356.8 225.8L356.5 230.8L357.3 235.3L358.5 238.3L360.5 240.5L361.5 241.0L363.0 241.0L365.0 239.8L366.8 236.8L367.8 233.0L368.0 227.8L367.3 223.5L365.8 220.0L363.8 218.0Z"/>
<path fill-rule="evenodd" fill="#de5450" d="M361.8 224.0L360.5 225.3L360.0 226.5L359.8 231.3L360.8 233.8L361.8 234.8L362.8 234.8L363.8 234.0L364.5 232.5L365.0 228.8L364.8 227.0L363.8 224.8L362.8 224.0Z"/>
</g></g>
<clipPath id="cf"><rect x="238.4" y="177.4" width="162.4" height="106.1"/></clipPath><g clip-path="url(#cf)">
<circle cx="252.3" cy="204.2" r="2.55" fill="url(#gG)"/><circle cx="255" cy="206.8" r="2.55" fill="url(#gG)"/><circle cx="249.7" cy="213.4" r="2.55" fill="url(#gG)"/><circle cx="248.4" cy="218.6" r="2.55" fill="url(#gG)"/><circle cx="251" cy="222.5" r="2.55" fill="url(#gG)"/><circle cx="260.2" cy="210.7" r="2.55" fill="url(#gG)"/><circle cx="257.6" cy="233.1" r="2.55" fill="url(#gG)"/><circle cx="261.5" cy="234.4" r="2.55" fill="url(#gG)"/><circle cx="333.8" cy="180" r="2.55" fill="url(#gG)"/><circle cx="316.7" cy="187.1" r="2.55" fill="url(#gG)"/><circle cx="320.6" cy="196.3" r="2.55" fill="url(#gG)"/><circle cx="327.7" cy="192.3" r="2.55" fill="url(#gG)"/><circle cx="349.5" cy="188.4" r="2.55" fill="url(#gG)"/><circle cx="314.1" cy="201.5" r="2.55" fill="url(#gG)"/><circle cx="324.6" cy="198.9" r="2.55" fill="url(#gG)"/><circle cx="333.8" cy="192.3" r="2.55" fill="url(#gG)"/><circle cx="345.6" cy="193.6" r="2.55" fill="url(#gG)"/><circle cx="339" cy="198.9" r="2.55" fill="url(#gG)"/><circle cx="343" cy="200.2" r="2.55" fill="url(#gG)"/><circle cx="346.9" cy="198.9" r="2.55" fill="url(#gG)"/><circle cx="353.5" cy="187.1" r="2.55" fill="url(#gG)"/><circle cx="319.3" cy="209.4" r="2.55" fill="url(#gG)"/><circle cx="329.8" cy="209.4" r="2.55" fill="url(#gG)"/><circle cx="387.6" cy="200.2" r="2.55" fill="url(#gG)"/><circle cx="389" cy="205.5" r="2.55" fill="url(#gG)"/><circle cx="391.6" cy="225.2" r="2.55" fill="url(#gG)"/><circle cx="395.5" cy="239.6" r="2.55" fill="url(#gG)"/><circle cx="398.2" cy="246.2" r="2.55" fill="url(#gG)"/><circle cx="392.9" cy="254.1" r="2.55" fill="url(#gG)"/><circle cx="390.3" cy="259.3" r="2.55" fill="url(#gG)"/><circle cx="398.2" cy="209.4" r="2.55" fill="url(#gG)"/><circle cx="399.5" cy="202.8" r="2.55" fill="url(#gG)"/><circle cx="297" cy="177.9" r="2.55" fill="url(#gG)"/><circle cx="299.6" cy="183.1" r="2.55" fill="url(#gG)"/><circle cx="272" cy="188.9" r="2.55" fill="url(#gG)"/><circle cx="304.9" cy="197.6" r="2.55" fill="url(#gG)"/><circle cx="270.7" cy="201.5" r="2.55" fill="url(#gG)"/><circle cx="274.7" cy="209.4" r="2.55" fill="url(#gG)"/><circle cx="277.3" cy="250.1" r="2.55" fill="url(#gG)"/><circle cx="258.9" cy="259.3" r="2.55" fill="url(#gG)"/><circle cx="291.7" cy="260.6" r="2.55" fill="url(#gG)"/><circle cx="276" cy="265.1" r="2.55" fill="url(#gG)"/><circle cx="279.9" cy="276.4" r="2.55" fill="url(#gG)"/><circle cx="285.2" cy="279" r="2.55" fill="url(#gG)"/><circle cx="300.9" cy="275.1" r="2.55" fill="url(#gG)"/><circle cx="315.4" cy="267.7" r="2.55" fill="url(#gG)"/><circle cx="315.4" cy="280.4" r="2.55" fill="url(#gG)"/><circle cx="334.6" cy="267.7" r="2.55" fill="url(#gG)"/><circle cx="357.4" cy="242.3" r="2.55" fill="url(#gG)"/><circle cx="371.9" cy="192.3" r="2.55" fill="url(#gG)"/><circle cx="375.8" cy="190.5" r="2.55" fill="url(#gG)"/><circle cx="387.1" cy="198.9" r="2.55" fill="url(#gG)"/><circle cx="358.2" cy="276.4" r="2.55" fill="url(#gG)"/><circle cx="373.2" cy="267.2" r="2.55" fill="url(#gG)"/><circle cx="379.8" cy="265.9" r="2.55" fill="url(#gG)"/>
<circle cx="247.9" cy="202.8" r="2.55" fill="url(#gB)"/><circle cx="249.7" cy="210.7" r="2.55" fill="url(#gB)"/><circle cx="252.3" cy="217.3" r="2.55" fill="url(#gB)"/><circle cx="251" cy="225.2" r="2.55" fill="url(#gB)"/><circle cx="255" cy="227.8" r="2.55" fill="url(#gB)"/><circle cx="253.6" cy="223.9" r="2.55" fill="url(#gB)"/><circle cx="264.2" cy="213.4" r="2.55" fill="url(#gB)"/><circle cx="269.4" cy="209.4" r="2.55" fill="url(#gB)"/><circle cx="320.6" cy="182.6" r="2.55" fill="url(#gB)"/><circle cx="316.7" cy="189.7" r="2.55" fill="url(#gB)"/><circle cx="323.3" cy="189.7" r="2.55" fill="url(#gB)"/><circle cx="327.7" cy="186.3" r="2.55" fill="url(#gB)"/><circle cx="333.8" cy="188.9" r="2.55" fill="url(#gB)"/><circle cx="325.9" cy="195" r="2.55" fill="url(#gB)"/><circle cx="345.6" cy="185.8" r="2.55" fill="url(#gB)"/><circle cx="349.5" cy="192.3" r="2.55" fill="url(#gB)"/><circle cx="332.5" cy="185.8" r="2.55" fill="url(#gB)"/><circle cx="337.7" cy="185.8" r="2.55" fill="url(#gB)"/><circle cx="343" cy="188.4" r="2.55" fill="url(#gB)"/><circle cx="340.4" cy="193.6" r="2.55" fill="url(#gB)"/><circle cx="335.1" cy="196.3" r="2.55" fill="url(#gB)"/><circle cx="329.8" cy="198.9" r="2.55" fill="url(#gB)"/><circle cx="336.4" cy="201.5" r="2.55" fill="url(#gB)"/><circle cx="319.3" cy="204.2" r="2.55" fill="url(#gB)"/><circle cx="324.6" cy="204.2" r="2.55" fill="url(#gB)"/><circle cx="356.1" cy="191" r="2.55" fill="url(#gB)"/><circle cx="356.1" cy="196.3" r="2.55" fill="url(#gB)"/><circle cx="337.7" cy="209.4" r="2.55" fill="url(#gB)"/><circle cx="308.8" cy="196.3" r="2.55" fill="url(#gB)"/><circle cx="306.2" cy="212" r="2.55" fill="url(#gB)"/><circle cx="311.5" cy="213.4" r="2.55" fill="url(#gB)"/><circle cx="323.3" cy="217.3" r="2.55" fill="url(#gB)"/><circle cx="392.9" cy="209.4" r="2.55" fill="url(#gB)"/><circle cx="390.3" cy="234.4" r="2.55" fill="url(#gB)"/><circle cx="391.6" cy="231.7" r="2.55" fill="url(#gB)"/><circle cx="394.2" cy="230.4" r="2.55" fill="url(#gB)"/><circle cx="392.9" cy="248.8" r="2.55" fill="url(#gB)"/><circle cx="390.3" cy="256.7" r="2.55" fill="url(#gB)"/><circle cx="394.2" cy="244.9" r="2.55" fill="url(#gB)"/><circle cx="281.2" cy="193.1" r="2.55" fill="url(#gB)"/><circle cx="292.3" cy="195" r="2.55" fill="url(#gB)"/><circle cx="306.2" cy="206.3" r="2.55" fill="url(#gB)"/><circle cx="289.1" cy="234.4" r="2.55" fill="url(#gB)"/><circle cx="295.7" cy="233.1" r="2.55" fill="url(#gB)"/><circle cx="265.5" cy="246.2" r="2.55" fill="url(#gB)"/><circle cx="270.7" cy="254.1" r="2.55" fill="url(#gB)"/><circle cx="272" cy="256.7" r="2.55" fill="url(#gB)"/><circle cx="268.1" cy="264.6" r="2.55" fill="url(#gB)"/><circle cx="272" cy="271.2" r="2.55" fill="url(#gB)"/><circle cx="273.4" cy="272.5" r="2.55" fill="url(#gB)"/><circle cx="282.5" cy="264.6" r="2.55" fill="url(#gB)"/><circle cx="297" cy="280.4" r="2.55" fill="url(#gB)"/><circle cx="322" cy="281.7" r="2.55" fill="url(#gB)"/><circle cx="336.4" cy="283.5" r="2.55" fill="url(#gB)"/><circle cx="354.8" cy="265.9" r="2.55" fill="url(#gB)"/><circle cx="362.7" cy="265.9" r="2.55" fill="url(#gB)"/><circle cx="352.2" cy="271.2" r="2.55" fill="url(#gB)"/><circle cx="349.5" cy="275.1" r="2.55" fill="url(#gB)"/><circle cx="366.6" cy="271.2" r="2.55" fill="url(#gB)"/><circle cx="378.4" cy="195" r="2.55" fill="url(#gB)"/>
<g fill="none" stroke="#fff" stroke-width="2.6">
<ellipse cx="255.3" cy="218" rx="16.7" ry="28.9"/>
<ellipse cx="336.4" cy="198.6" rx="27.2" ry="21"/>
<ellipse cx="391" cy="237.6" rx="10" ry="28"/>
</g></g>
<text x="383" y="275" text-anchor="middle" class="sb">2 nm</text>
<path d="M369.3 277.9H393" stroke="#000" stroke-width="2.6"/>
<clipPath id="hj"><rect x="450.3" y="176.6" width="168.1" height="108.2"/></clipPath>
<filter id="hjf" x="-5%" y="-5%" width="110%" height="110%"><feGaussianBlur stdDeviation="0.55"/></filter>
<g clip-path="url(#hj)"><g filter="url(#hjf)">
<rect x="446.3" y="172.6" width="176.1" height="116.2" fill="#7950b0"/>
<path fill-rule="evenodd" fill="#7250bc" d="M474.2 188.2L471.9 192.5L471.7 197.7L473.2 201.5L475.4 204.2L476.2 206.2L476.2 231.2L475.2 233.2L471.7 235.0L468.4 237.7L465.2 243.2L463.7 247.7L463.7 253.5L463.9 253.7L463.9 257.7L464.7 265.0L466.2 268.5L468.4 271.2L468.7 272.5L465.2 275.7L464.2 277.2L463.4 279.2L463.4 282.0L465.2 285.5L468.2 288.5L603.7 288.5L603.7 236.7L603.9 236.5L603.9 233.7L604.9 229.0L605.4 217.2L605.7 217.0L605.7 211.2L605.2 208.5L603.9 204.7L603.7 198.0L603.2 196.5L601.9 195.2L599.2 194.2L594.9 191.7L586.7 183.2L584.2 174.2L584.2 172.7L491.9 172.7L491.2 180.0L490.4 181.2L486.4 181.7L481.7 183.0L477.4 185.2Z"/>
<path fill-rule="evenodd" fill="#6a50c7" d="M476.2 189.5L474.4 192.7L474.2 197.5L476.7 203.5L476.7 207.7L476.9 208.0L476.7 233.7L476.4 234.5L475.4 235.5L471.7 237.5L469.7 239.5L466.4 245.5L465.7 248.5L465.9 256.7L466.7 264.5L469.7 270.5L469.7 273.7L469.2 275.0L466.7 278.2L466.2 281.2L466.9 283.5L469.4 286.7L469.7 288.5L602.9 288.5L602.9 241.5L603.2 241.2L603.2 227.0L603.4 226.7L603.4 208.5L603.2 208.2L602.9 197.2L601.9 196.0L593.4 192.5L590.9 191.0L584.7 184.7L581.9 175.5L581.7 172.7L496.9 172.7L496.2 176.2L495.7 181.5L494.9 183.5L493.9 183.7L493.7 183.5L487.7 183.5L484.2 184.2L480.2 186.0L478.7 187.0Z"/>
<path fill-rule="evenodd" fill="#5e50d1" d="M477.9 189.7L476.2 192.7L475.7 195.2L475.9 197.7L476.7 199.5L477.2 202.2L477.2 234.5L476.9 235.5L475.7 236.7L473.4 237.7L470.4 240.5L467.7 245.7L466.9 248.2L467.7 263.2L468.4 265.7L469.9 268.2L470.2 269.5L470.2 274.7L469.7 276.7L468.2 280.0L468.4 282.2L469.9 285.2L470.2 288.5L602.7 288.5L602.7 198.2L602.4 197.2L601.2 196.0L593.2 193.0L588.7 190.7L583.4 185.5L580.4 175.2L580.4 172.7L500.2 172.7L498.9 179.2L498.4 184.7L497.7 185.7L496.4 185.7L492.4 184.7L486.4 185.0L481.7 186.7L479.4 188.2Z"/>
<path fill-rule="evenodd" fill="#5150db" d="M478.7 190.7L477.2 194.0L477.2 199.0L477.7 202.7L477.7 234.2L477.4 236.0L476.2 237.5L473.2 239.0L470.7 241.5L468.2 246.7L467.7 250.0L468.7 263.7L470.2 267.0L470.7 269.7L470.4 277.2L469.7 280.5L470.4 284.0L470.7 288.5L602.2 288.5L602.2 217.2L602.4 217.0L602.2 197.7L601.2 196.5L596.4 194.7L587.7 191.0L582.7 186.2L579.4 175.5L579.4 172.7L502.9 172.7L501.4 179.7L500.7 187.0L499.9 188.0L498.9 188.0L497.7 187.2L493.9 186.0L488.2 185.7L484.2 186.7L481.7 188.0Z"/>
<path fill-rule="evenodd" fill="#4350e5" d="M480.4 190.2L478.7 193.0L477.9 196.5L477.9 236.5L476.9 237.7L473.7 239.5L471.2 241.7L470.4 244.0L468.9 246.7L468.4 248.7L469.2 262.7L469.7 264.7L470.9 267.2L470.9 278.5L470.7 278.7L470.9 288.5L601.9 288.5L601.9 198.7L601.2 197.0L586.4 191.0L581.7 186.2L578.7 175.7L578.4 172.7L504.7 172.7L504.2 178.0L502.9 184.7L502.7 188.0L501.9 188.7L498.9 189.0L494.4 187.0L489.2 186.5L484.7 187.5L482.7 188.5Z"/>
<path fill-rule="evenodd" fill="#3f59eb" d="M480.4 191.7L479.4 193.7L479.2 196.2L478.4 198.0L478.4 237.0L477.2 238.2L473.9 240.0L471.7 242.0L470.9 244.2L469.4 247.0L468.9 249.2L469.7 262.2L470.2 264.5L471.4 266.7L471.4 288.5L601.4 288.5L601.4 199.2L601.2 198.0L600.2 197.0L586.4 191.7L581.4 187.0L580.4 184.5L577.9 175.2L577.9 172.7L505.4 172.7L504.7 188.0L503.7 189.2L502.4 189.7L498.7 189.7L494.2 187.7L489.4 187.2L484.9 188.2L482.7 189.5Z"/>
<path fill-rule="evenodd" fill="#3d66ee" d="M481.7 191.5L480.2 194.5L480.2 197.0L479.9 197.2L480.2 199.7L480.2 235.2L479.7 236.5L478.2 238.2L474.7 240.0L472.4 242.0L469.9 247.0L469.4 249.0L470.2 262.5L470.7 264.5L472.4 267.5L473.2 269.7L473.2 279.5L472.9 279.7L473.2 288.5L599.7 288.5L599.7 224.7L599.9 224.5L599.7 199.0L599.4 198.5L591.4 195.5L585.7 192.0L580.9 187.2L579.9 184.7L577.4 175.5L577.4 172.7L507.2 172.7L507.2 179.0L506.9 179.2L506.7 186.2L506.2 189.2L505.2 190.7L502.9 191.5L500.7 191.5L498.4 190.7L494.2 188.5L491.7 188.0L488.9 188.0L485.7 188.7L483.7 189.7Z"/>
<path fill-rule="evenodd" fill="#3d7cf0" d="M496.4 281.7L496.7 284.0L497.7 285.0L500.2 286.0L503.4 285.7L504.9 285.0L506.2 283.5L505.9 281.2L504.9 280.2L502.4 279.2L499.2 279.5L497.7 280.2ZM475.7 280.2L475.7 281.0L476.4 282.2L479.2 283.5L482.4 283.2L484.2 282.2L484.9 281.0L484.9 280.2L484.2 279.0L481.4 277.7L478.2 278.0L476.4 279.0ZM481.2 194.0L480.9 195.5L481.2 197.2L482.4 199.5L483.4 200.5L486.2 202.0L489.7 202.7L493.7 202.2L496.4 201.0L498.9 198.5L499.7 196.2L499.4 194.0L498.2 191.7L495.9 190.0L492.2 188.7L488.4 188.7L485.7 189.5L483.9 190.5L481.9 192.5ZM576.9 172.7L557.4 172.7L557.4 179.0L562.2 196.0L563.7 198.5L574.2 209.0L578.4 215.5L578.7 217.2L578.4 217.5L578.4 221.7L577.9 225.5L575.2 233.0L573.7 234.5L568.4 238.7L554.9 242.7L550.2 243.2L540.7 243.5L531.4 244.7L518.7 245.5L518.4 245.7L513.9 245.5L511.2 242.7L504.2 237.5L500.9 235.7L499.9 235.5L484.7 235.5L483.7 235.7L474.7 240.5L472.4 242.7L470.2 247.5L469.9 252.7L470.2 253.0L470.4 261.0L470.9 264.0L472.2 266.2L477.9 272.0L480.9 273.2L502.4 273.2L505.4 272.0L511.7 266.0L512.7 265.5L523.4 265.2L523.7 265.0L533.7 264.5L545.7 263.0L558.2 262.5L575.7 257.5L580.2 255.0L589.2 247.5L591.4 245.2L592.9 242.7L597.4 230.0L597.9 226.7L597.9 222.5L598.4 217.7L598.4 211.0L597.2 207.7L589.7 196.5L580.4 187.5L576.9 175.5ZM512.9 172.7L510.9 177.2L508.7 185.5L507.9 192.0L508.2 201.2L506.9 202.5L504.4 202.7L502.9 203.5L501.4 205.0L500.9 212.2L502.7 215.7L504.9 217.7L509.2 219.5L514.2 220.0L516.7 222.2L518.7 223.2L521.9 223.2L524.9 221.5L527.4 218.5L529.7 214.0L530.9 210.2L531.9 205.7L532.7 199.2L532.7 192.0L531.9 185.5L530.9 181.0L527.7 172.7Z"/>
<path fill-rule="evenodd" fill="#3f9bf0" d="M497.4 282.0L497.7 283.7L498.4 284.5L500.2 285.2L503.2 285.0L504.2 284.5L505.2 283.2L504.9 281.5L504.2 280.7L502.4 280.0L499.4 280.2L498.4 280.7ZM477.9 280.2L478.2 281.5L479.2 282.0L481.4 282.0L482.4 281.5L482.7 281.0L482.4 279.7L481.4 279.2L479.2 279.2L478.2 279.7ZM482.7 192.7L481.9 194.5L482.2 197.5L482.7 198.5L484.4 200.2L486.9 201.5L491.2 202.0L494.4 201.2L496.2 200.2L497.9 198.5L498.7 196.7L498.7 194.5L497.9 192.7L496.2 191.0L493.7 189.7L491.2 189.2L486.9 189.7L484.4 191.0ZM576.4 172.7L557.9 172.7L557.9 178.7L562.7 195.7L564.4 198.5L574.9 209.0L578.9 215.2L579.2 217.7L578.9 218.0L578.9 222.2L578.4 225.7L577.9 226.5L575.7 233.2L573.9 235.0L569.7 238.5L567.9 239.5L555.2 243.2L550.7 243.7L540.9 244.0L529.4 245.5L519.4 246.0L519.2 246.2L514.2 246.2L513.2 245.7L510.7 243.0L503.7 237.7L500.9 236.2L499.7 236.0L484.9 236.0L483.7 236.2L474.7 241.0L472.9 242.7L470.7 247.2L470.2 249.5L470.7 259.7L471.2 263.5L472.2 265.5L478.4 271.7L479.9 272.5L481.2 272.7L502.2 272.7L504.9 271.7L512.2 265.0L518.7 265.0L522.7 264.5L526.4 264.5L526.7 264.2L535.7 263.7L544.9 262.5L557.9 262.0L574.7 257.2L578.9 255.2L588.9 247.0L590.9 245.0L592.4 242.5L596.9 229.7L597.4 226.2L597.7 217.5L597.9 217.2L597.9 211.2L596.7 208.0L589.9 197.7L579.9 187.5L576.4 175.2ZM516.9 172.7L514.7 175.5L513.2 178.0L510.9 184.5L510.2 188.5L509.9 194.2L509.7 194.5L510.2 202.7L509.2 203.7L507.9 204.2L505.2 204.5L503.7 205.5L503.2 212.0L504.4 214.5L505.9 216.0L508.2 217.2L511.2 218.0L516.4 217.7L518.4 219.0L521.2 219.2L523.4 218.2L525.9 215.7L527.4 213.2L528.9 209.5L530.7 200.7L530.7 197.0L530.9 196.7L530.7 190.5L528.9 181.7L527.4 178.0L525.9 175.5L523.7 172.7Z"/>
<path fill-rule="evenodd" fill="#3abef0" d="M498.4 282.2L498.7 283.5L500.4 284.5L502.9 284.2L504.2 283.0L503.9 281.7L502.2 280.7L499.7 281.0ZM483.2 193.5L482.7 196.2L483.7 198.5L485.7 200.2L488.7 201.2L491.9 201.2L494.9 200.2L496.9 198.5L497.9 196.2L497.7 194.0L496.9 192.7L494.9 191.0L491.9 190.0L488.7 190.0L486.2 190.7L484.9 191.5ZM521.4 176.5L518.4 176.7L515.9 179.0L514.2 182.0L512.9 185.5L512.2 189.0L511.7 194.0L511.7 197.2L512.4 204.7L511.4 205.5L509.7 205.7L507.4 207.0L506.4 208.2L505.7 210.2L505.9 212.0L506.9 213.7L509.7 215.5L513.9 215.7L517.4 214.2L519.2 214.7L522.2 214.5L524.7 212.2L525.7 210.7L527.7 205.7L528.4 202.2L528.9 197.2L528.7 190.7L527.9 186.5L525.7 180.5L522.9 177.2ZM575.9 172.7L558.4 172.7L558.4 179.0L563.2 195.7L564.4 197.7L575.2 208.5L579.4 215.2L579.7 217.2L579.4 217.5L579.4 221.2L578.9 225.5L576.4 232.7L574.9 234.7L569.4 239.2L567.9 240.0L554.7 243.7L542.4 244.2L528.9 246.0L519.7 246.5L519.4 246.7L513.9 246.7L513.4 246.5L510.7 243.5L503.7 238.2L500.2 236.5L484.4 236.5L474.9 241.2L472.9 243.5L471.2 247.0L470.7 248.5L471.4 263.0L472.4 265.2L478.4 271.2L480.7 272.2L502.7 272.2L504.9 271.2L511.4 265.0L512.9 264.2L517.7 264.5L522.2 264.0L526.4 264.0L526.7 263.7L533.7 263.5L543.2 262.2L556.4 261.7L560.2 261.0L575.7 256.5L578.2 255.2L587.7 247.5L590.9 244.2L592.2 242.0L596.4 229.7L596.9 226.7L597.2 218.7L597.4 218.5L597.4 211.2L596.2 208.0L589.7 198.2L579.4 187.7L576.2 176.0Z"/>
<path fill-rule="evenodd" fill="#30e3f0" d="M500.2 282.2L500.4 283.2L501.4 283.5L502.4 283.0L502.2 282.0L501.2 281.7ZM511.7 208.7L510.2 209.7L509.9 211.0L510.7 212.0L511.7 212.5L512.9 212.5L514.4 211.5L514.7 210.2L513.9 209.2L512.9 208.7ZM485.2 192.2L483.9 193.7L483.7 196.7L485.2 199.0L487.4 200.2L489.7 200.7L492.4 200.5L495.4 199.0L496.7 197.5L496.9 196.7L496.7 193.7L495.4 192.2L493.2 191.0L489.7 190.5L487.4 191.0ZM519.7 181.5L517.4 183.0L515.2 187.2L514.2 192.0L514.2 199.2L515.2 204.0L516.7 207.2L518.2 209.0L519.7 209.7L520.9 209.7L523.2 208.2L525.4 204.0L526.4 199.2L526.4 192.0L525.4 187.2L523.9 184.0L522.4 182.2L520.9 181.5ZM575.7 172.7L558.7 172.7L558.9 179.0L563.2 194.5L564.4 197.0L575.7 208.2L579.9 215.2L579.4 225.5L576.4 233.7L574.7 235.5L568.4 240.2L555.2 244.0L550.9 244.5L541.7 244.7L532.9 246.0L517.2 247.2L516.9 247.5L513.4 247.2L510.9 244.2L502.9 238.2L500.4 237.0L498.7 236.7L484.2 237.0L474.9 241.7L473.4 243.5L471.4 247.5L470.9 250.0L471.4 259.2L471.9 263.2L472.9 265.2L478.4 270.7L480.4 271.7L482.2 272.0L501.2 272.0L502.9 271.7L504.9 270.7L511.7 264.2L513.2 263.5L531.2 263.2L543.9 261.7L557.4 261.2L574.4 256.5L578.9 254.2L588.2 246.5L590.2 244.5L591.7 242.0L596.2 229.0L596.7 224.7L596.9 216.0L597.2 215.7L596.9 211.0L595.9 208.5L588.9 198.2L578.9 188.2L575.7 176.0Z"/>
<path fill-rule="evenodd" fill="#35ddc9" d="M484.9 193.7L484.4 195.0L484.4 196.2L484.9 197.5L486.4 199.0L489.2 200.0L491.4 200.0L494.2 199.0L495.7 197.5L496.2 196.2L496.2 195.0L495.7 193.7L494.2 192.2L491.4 191.2L489.2 191.2L486.4 192.2ZM519.9 189.0L518.4 190.5L517.7 192.5L517.4 197.2L518.4 200.7L519.4 202.0L520.7 202.2L522.2 200.7L522.9 198.7L523.2 194.0L522.2 190.5L521.2 189.2ZM575.2 172.7L559.2 172.7L559.4 179.0L564.2 195.5L564.9 196.7L576.2 207.7L580.4 215.0L580.7 217.2L580.2 220.0L579.9 225.5L577.2 233.5L575.2 235.7L568.9 240.5L554.9 244.5L540.9 245.2L526.7 247.2L524.2 247.2L518.4 248.2L513.7 248.2L513.2 248.0L510.2 244.2L502.2 238.2L499.4 237.2L485.2 237.2L484.2 237.5L475.4 242.0L473.7 244.0L471.9 247.5L471.4 249.2L471.9 260.0L472.4 263.2L473.2 264.7L478.9 270.5L481.4 271.5L501.9 271.5L504.4 270.5L511.4 263.7L513.2 262.5L529.9 262.7L544.2 261.2L554.7 261.0L558.9 260.5L575.4 255.7L578.9 253.7L587.2 246.7L590.2 243.7L591.2 242.0L595.7 229.0L596.2 224.7L596.7 212.7L595.4 208.7L588.2 198.5L584.4 195.2L578.2 188.5L575.2 176.2Z"/>
<path fill-rule="evenodd" fill="#3cd49d" d="M485.4 194.7L485.4 196.5L486.2 197.7L489.2 199.2L492.4 199.0L494.2 198.0L495.2 196.5L495.2 194.7L494.4 193.5L491.4 192.0L488.2 192.2L486.4 193.2ZM574.4 172.7L559.9 172.7L559.9 178.5L563.9 193.0L564.9 195.5L576.7 207.2L581.2 215.0L580.9 222.5L580.4 226.0L577.4 234.2L575.2 236.5L569.2 241.0L554.4 245.0L541.2 245.7L516.9 249.2L514.7 249.2L512.7 248.7L511.9 248.0L510.9 245.7L509.9 244.7L500.9 238.2L498.4 237.7L484.4 238.0L475.9 242.2L474.4 243.7L472.4 247.7L471.9 250.2L472.4 259.0L472.9 263.0L473.7 264.5L479.2 270.0L480.7 270.7L482.4 271.0L500.9 271.0L502.7 270.7L504.2 270.0L512.2 262.2L513.4 261.5L532.4 262.0L543.7 260.7L554.7 260.5L558.9 260.0L575.4 255.2L578.2 253.7L586.9 246.2L589.4 243.7L590.9 241.0L594.9 229.5L595.4 226.2L595.9 211.7L594.7 208.7L588.4 200.0L577.9 189.5L577.2 188.0L576.9 185.7L574.7 176.7Z"/>
<path fill-rule="evenodd" fill="#46ca6b" d="M487.2 195.0L487.4 196.7L489.2 197.7L492.2 197.5L493.4 196.2L493.2 194.5L491.4 193.5L488.4 193.7ZM573.9 172.7L560.4 172.7L560.4 177.2L563.9 190.5L565.9 195.7L576.4 205.7L579.4 210.2L581.9 215.0L581.2 225.7L577.9 234.7L575.9 236.7L571.2 240.5L569.4 241.5L558.4 244.2L555.7 245.2L541.7 246.2L515.9 250.2L513.4 250.0L512.2 249.5L511.4 248.7L510.7 246.5L508.9 244.7L501.9 239.5L499.7 238.5L484.9 238.5L476.4 242.7L474.9 244.2L473.2 247.5L472.7 249.0L473.2 260.5L473.7 263.2L474.7 264.7L478.9 269.0L481.2 270.2L502.2 270.2L504.4 269.0L512.4 261.0L513.4 260.5L515.9 260.5L516.2 260.7L519.2 260.5L525.4 261.2L533.2 261.2L544.9 260.0L557.2 259.7L575.2 254.7L578.2 253.0L585.9 246.2L589.2 243.0L589.9 241.7L594.4 228.7L594.9 224.7L595.2 215.5L595.4 215.2L595.2 211.5L593.9 208.7L587.7 200.2L578.9 191.7L576.9 189.2L573.7 174.7Z"/>
<path fill-rule="evenodd" fill="#5fce5d" d="M573.2 172.7L561.2 172.7L561.2 177.7L563.4 186.2L566.2 194.7L569.4 198.2L572.4 200.7L577.7 206.0L582.7 215.0L581.9 225.7L579.2 233.7L578.4 235.2L576.7 237.0L570.9 241.5L569.4 242.2L554.9 246.0L542.9 246.7L539.2 247.5L537.4 247.5L529.2 249.0L524.4 249.5L516.9 251.2L514.2 251.2L511.7 250.5L510.9 249.7L509.9 246.5L500.7 239.5L499.9 239.2L484.7 239.2L476.4 243.5L475.2 245.0L473.4 248.7L473.7 257.5L473.9 257.7L473.9 261.2L474.7 263.7L479.9 269.0L480.9 269.5L502.4 269.5L503.4 269.0L511.4 261.2L512.9 259.2L518.9 259.2L520.4 259.7L526.9 260.5L534.2 260.5L543.2 259.5L557.9 259.0L569.9 255.7L575.9 253.7L578.4 252.0L587.2 244.2L588.7 242.5L589.7 240.5L593.7 229.0L594.2 225.2L594.7 212.7L593.7 209.7L586.9 200.5L580.4 194.5L576.2 189.5L574.4 180.7L573.2 176.2Z"/>
<path fill-rule="evenodd" fill="#7cd759" d="M572.4 172.7L561.9 172.7L561.9 177.7L564.4 187.0L566.9 194.5L568.4 196.2L575.9 202.7L578.4 205.5L583.4 214.7L582.7 225.7L579.4 235.0L577.2 237.5L572.4 241.2L569.2 243.0L554.2 246.7L542.2 247.5L525.4 250.2L521.2 251.5L515.9 254.2L515.2 254.2L511.2 252.0L510.2 250.2L510.2 249.0L509.4 247.0L500.2 240.0L499.2 239.7L485.4 239.7L484.4 240.0L477.2 243.7L475.9 245.0L474.2 248.5L473.9 251.7L474.2 252.0L474.4 260.0L475.2 263.2L480.4 268.5L481.7 269.0L501.7 269.0L502.9 268.5L510.9 260.7L511.4 259.7L511.7 257.5L512.7 256.5L513.9 256.0L516.2 256.0L521.9 258.5L527.9 259.7L534.4 259.7L543.9 258.7L557.2 258.5L574.9 253.5L577.7 251.7L584.7 245.5L588.2 242.0L592.9 229.0L593.4 225.2L593.9 212.7L592.7 209.5L587.2 202.2L577.9 193.2L575.9 190.7L575.2 189.2L574.4 184.2L572.4 176.2Z"/>
<path fill-rule="evenodd" fill="#9ae055" d="M476.4 245.5L474.7 249.2L475.4 262.2L476.2 263.5L480.2 267.5L481.4 268.2L501.9 268.2L503.2 267.5L509.9 261.0L510.7 259.7L510.4 254.2L508.9 247.5L500.2 240.7L499.4 240.5L485.2 240.5L477.7 244.2ZM571.4 172.7L562.7 172.7L562.7 176.7L564.2 183.0L567.7 193.7L568.9 195.2L575.4 200.2L579.4 204.5L584.2 213.7L584.4 214.7L584.2 215.0L584.2 218.5L583.4 226.2L579.9 236.0L575.7 239.7L571.2 243.0L569.9 243.5L558.2 246.2L555.2 247.2L542.2 248.2L531.7 250.0L525.7 251.5L522.7 253.2L521.9 254.5L522.7 256.2L524.4 257.5L529.2 258.7L536.7 258.7L543.7 258.0L557.4 257.7L560.7 257.0L574.9 252.7L577.2 251.2L585.7 243.5L587.4 241.5L592.2 228.5L592.7 224.2L592.9 212.2L591.7 209.7L588.2 205.2L583.9 200.7L581.7 199.2L577.9 195.5L574.9 191.5L574.2 189.7L573.4 184.2L571.7 177.0Z"/>
<path fill-rule="evenodd" fill="#b7e952" d="M477.4 245.2L475.2 250.0L475.9 261.5L476.4 262.7L481.4 267.5L482.2 267.7L501.2 267.7L502.4 267.2L509.9 259.7L509.7 255.0L508.9 251.2L508.9 249.5L508.4 248.0L507.2 246.7L499.7 241.2L498.7 241.0L485.9 241.0ZM590.9 211.0L586.2 205.7L583.9 204.2L583.2 204.0L582.7 204.2L582.4 204.7L582.7 206.5L583.9 210.2L585.7 213.7L584.7 226.2L580.7 237.0L573.7 242.5L570.4 244.2L564.2 245.5L555.2 248.0L543.4 249.0L531.9 251.2L528.7 252.2L527.4 253.0L526.2 254.5L526.7 255.7L528.2 256.7L531.2 257.5L539.4 257.5L544.2 257.0L545.7 257.2L557.2 257.0L568.7 254.0L575.4 251.5L586.4 241.0L591.2 227.2L591.4 220.0L591.7 219.7L591.7 212.7ZM563.9 172.7L564.2 178.2L568.7 192.0L569.9 193.7L572.2 195.0L573.4 195.2L573.9 194.2L572.7 191.2L572.2 185.2L570.4 177.0L570.4 172.7Z"/>
<path fill-rule="evenodd" fill="#cfee50" d="M477.7 246.0L475.9 249.5L476.7 261.7L481.9 267.0L501.4 267.0L509.2 259.7L509.4 258.5L507.9 248.5L506.4 247.0L499.2 241.7L485.4 241.7L479.4 244.7ZM588.7 215.7L587.9 217.2L587.9 218.5L587.4 219.7L586.7 227.2L582.7 237.7L580.9 239.5L575.2 243.2L571.4 245.2L561.9 247.0L555.2 249.0L546.9 249.7L540.2 251.0L534.2 252.7L532.4 254.0L532.4 254.7L535.2 255.7L556.9 256.0L566.9 253.5L574.4 250.7L577.4 248.0L584.9 239.5L588.9 227.5L589.2 218.0ZM566.2 172.7L566.4 177.5L568.2 181.0L568.4 180.5L567.9 176.5L568.2 172.7Z"/>
<path fill-rule="evenodd" fill="#dae650" d="M573.9 247.5L573.7 247.2L568.9 247.2L561.4 248.5L555.9 250.2L553.2 250.5L547.4 251.7L546.4 252.2L545.9 253.2L547.2 253.7L552.2 254.5L558.7 254.2L568.9 251.2L573.2 249.0ZM478.4 246.2L476.7 249.5L477.2 260.5L477.7 262.0L482.2 266.2L483.4 266.5L499.9 266.5L501.2 266.2L508.4 259.5L508.7 258.0L507.2 248.7L505.9 247.5L498.9 242.5L497.4 242.2L485.4 242.5Z"/>
<path fill-rule="evenodd" fill="#e5de50" d="M477.4 250.0L478.2 261.2L482.4 265.5L500.9 265.5L504.9 262.0L507.7 259.0L507.7 256.5L506.4 249.2L504.9 247.7L498.7 243.2L485.9 243.2L479.2 246.7Z"/>
<path fill-rule="evenodd" fill="#e9d252" d="M478.4 249.7L478.4 255.0L478.7 255.2L478.9 260.5L479.4 261.5L482.2 264.2L483.2 264.7L500.2 264.7L501.2 264.2L506.4 259.2L506.9 258.0L505.7 249.7L499.4 244.7L497.9 244.0L486.4 244.0L479.7 247.5Z"/>
<path fill-rule="evenodd" fill="#ebc455" d="M479.7 249.2L479.4 255.2L479.9 260.2L480.7 261.5L483.4 263.7L499.9 263.7L501.2 263.0L505.7 258.5L505.9 257.2L504.7 250.0L497.9 245.0L486.4 245.0L481.4 247.5Z"/>
<path fill-rule="evenodd" fill="#ecb558" d="M480.4 250.2L480.4 255.0L480.9 260.0L482.9 262.2L483.9 262.7L499.4 262.7L500.4 262.2L504.7 258.0L504.7 255.7L503.9 251.0L502.2 249.2L497.4 246.0L486.7 246.0L481.4 248.7Z"/>
<path fill-rule="evenodd" fill="#eaa658" d="M481.7 250.5L481.4 253.2L481.7 253.5L481.9 259.2L484.2 261.5L485.4 261.7L497.9 261.7L499.7 261.2L503.4 257.7L503.2 253.0L502.4 251.0L497.4 247.2L495.9 247.0L486.7 247.2L482.4 249.5Z"/>
<path fill-rule="evenodd" fill="#e99658" d="M482.9 251.2L483.2 258.5L483.9 259.7L484.9 260.2L498.4 260.2L499.4 259.7L502.2 256.7L501.9 253.7L501.2 251.7L496.7 248.5L487.4 248.5L483.4 250.5Z"/>
<path fill-rule="evenodd" fill="#e68656" d="M484.7 252.2L484.9 257.7L485.7 258.5L497.9 258.5L500.2 256.5L500.2 254.0L499.7 252.7L496.2 250.2L487.7 250.2L485.2 251.5Z"/>
<path fill-rule="evenodd" fill="#e47554" d="M487.2 253.7L487.2 254.7L487.9 256.0L496.9 256.0L497.4 255.5L497.4 254.2L495.4 252.7L488.2 252.7Z"/>
</g></g>
<clipPath id="cj"><rect x="450.3" y="176.6" width="168.1" height="108.2"/></clipPath><g clip-path="url(#cj)">
<circle cx="497" cy="189.7" r="2.55" fill="url(#gG)"/><circle cx="504.9" cy="199.4" r="2.55" fill="url(#gG)"/><circle cx="533.8" cy="202.1" r="2.55" fill="url(#gG)"/><circle cx="537.5" cy="206.8" r="2.55" fill="url(#gG)"/><circle cx="523.8" cy="234.4" r="2.55" fill="url(#gG)"/><circle cx="546.2" cy="248.8" r="2.55" fill="url(#gG)"/><circle cx="483.1" cy="235.7" r="2.55" fill="url(#gG)"/><circle cx="494.9" cy="238.3" r="2.55" fill="url(#gG)"/><circle cx="502.3" cy="236.2" r="2.55" fill="url(#gG)"/><circle cx="506" cy="236.2" r="2.55" fill="url(#gG)"/><circle cx="589.5" cy="265.9" r="2.55" fill="url(#gG)"/><circle cx="554" cy="279" r="2.55" fill="url(#gG)"/><circle cx="484.4" cy="275.1" r="2.55" fill="url(#gG)"/><circle cx="598.7" cy="281.7" r="2.55" fill="url(#gG)"/>
<circle cx="506" cy="188.9" r="2.55" fill="url(#gB)"/><circle cx="560.6" cy="184.5" r="2.55" fill="url(#gB)"/><circle cx="559.8" cy="208.9" r="2.55" fill="url(#gB)"/><circle cx="530.4" cy="240.4" r="2.55" fill="url(#gB)"/><circle cx="487" cy="237.8" r="2.55" fill="url(#gB)"/><circle cx="487" cy="252.8" r="2.55" fill="url(#gB)"/><circle cx="501.5" cy="254.6" r="2.55" fill="url(#gB)"/><circle cx="491.8" cy="263.3" r="2.55" fill="url(#gB)"/><circle cx="498.3" cy="261.4" r="2.55" fill="url(#gB)"/><circle cx="507.5" cy="269.1" r="2.55" fill="url(#gB)"/><circle cx="537" cy="265.1" r="2.55" fill="url(#gB)"/><circle cx="575.6" cy="244.9" r="2.55" fill="url(#gB)"/>
<ellipse cx="495.6" cy="254.8" rx="33.6" ry="24.4" fill="none" stroke="#fff" stroke-width="2.6"/>
</g>
<text x="597.8" y="276.1" text-anchor="middle" class="sb">2 nm</text>
<path d="M581.8 280.4H614.6" stroke="#000" stroke-width="2.6"/>
<rect x="636.1" y="184" width="9" height="91" fill="url(#cbar)"/>
<text x="655.2" y="197.8" class="cb">15 %</text>
<text x="654.7" y="237.7" class="cb2">Cr</text>
<text x="655.3" y="275.3" class="cb">0 %</text>
<path d="M59.5 135.6h0M150.7 60.4h0M111.8 85.1h0M134.5 128.2h0M53.6 31.6h0M161.2 83h0M150.5 28.3h0M104.6 119.6h0M73.2 148h0M170.7 31.9h0M43.7 96.8h0M176.2 76.4h0M71.4 81.6h0M44.2 56.2h0M103.5 91h0M73.8 57.3h0M71.7 86.4h0M82 30.7h0M161.4 98.7h0M133.1 51.6h0M183.9 137.2h0M57.5 70.3h0M144.6 118.3h0M175.8 81.6h0M160.4 113.1h0M84 102.6h0M168 135.5h0M113.3 102.8h0M45 58.8h0M155.6 80.6h0M65.1 97.7h0M141.9 113.7h0M94.3 83.7h0M113.7 126.9h0M115.5 77.9h0M111 31.8h0M46.3 117.3h0M182.6 103.3h0M97.1 49.6h0M112.8 152.7h0M151.7 96.5h0M164.7 57.5h0M114.5 149h0M123.8 86.3h0M79 97.6h0M178.8 28.7h0M153.6 132.2h0M168.5 122h0M157.3 93.9h0M121.4 82.1h0M48.1 138.5h0M122.6 53.4h0M113.2 89.6h0M91.7 72h0M118.1 107.2h0M128.8 86.2h0M65.7 102.2h0M164.8 129.4h0M155.6 131.7h0M77 134.9h0M137.6 38.6h0M42.4 29.8h0M55.9 107.3h0M89.9 36.8h0M63.1 95h0M64.4 62.7h0M143.2 85.7h0M86.7 88.2h0M43.4 77.1h0M101 51.9h0M55.8 142.3h0M114 54.6h0M127.8 131.8h0M61.2 119.3h0M63.2 117.5h0M138.3 97.2h0M72 151.9h0M72.4 110.4h0M97.3 101.1h0M86.6 108.1h0M48.5 65.9h0M180.3 139.2h0M84.4 137h0M85 147.3h0M147.9 80.9h0M76.6 29.1h0M167.4 32.8h0M158.8 150.2h0M122.7 49.8h0M165.8 151.7h0M142.1 92.6h0M94.8 72.1h0M69.8 113.6h0M102.8 52.7h0M55.1 112.6h0M82.9 91.5h0M87.2 138.7h0M69.1 69.6h0M183.1 127.4h0M89.2 55.1h0M137.8 134.4h0M175.2 71.7h0M167.9 115.3h0M110.3 153.2h0M74 120.1h0M52.3 49.6h0M172.1 55h0M150.1 104.2h0M162 74.7h0M89.3 65h0M165.8 104.7h0M178.4 140.7h0M59.6 98h0M55.1 33h0M50.6 138h0M89.4 106.1h0M153.4 76h0M122.8 56.4h0M51.9 61.9h0M169.2 99.7h0M174.1 86.1h0M80.2 128h0M160 29.6h0M56.7 140.4h0M183.3 81.5h0M56.8 49.3h0M75 122.5h0M94.9 151.2h0M171.8 65.3h0M76.7 88.6h0M54.5 110.8h0M45.7 29.3h0M182.5 65.5h0M126.5 85.1h0M85.4 36h0M172.4 151.2h0M180.6 42.1h0M71.2 106.5h0M182.1 96.9h0M139.8 112.1h0M84.6 59.3h0M182.6 84.9h0M134.5 109.7h0M84.5 69.6h0M85.9 135.6h0M169.6 66.5h0M88.5 97.1h0M124 103.7h0M75.5 30.6h0M75.3 37.2h0M119.9 37h0M50.9 108.7h0M82.2 128.6h0M111.5 137.6h0M62.4 91.7h0M155.3 37.8h0M177.6 50h0M152.6 153.1h0M159.1 68.6h0M55.5 93.3h0M169.6 46h0M85.8 142.7h0M156.6 143.2h0M161.9 122.8h0M140 50.6h0M102.7 48.1h0M143.6 112.8h0M179.7 130.6h0M119.6 96.8h0M163.4 85.6h0M97.4 71h0M77.4 31.1h0M133.7 80.9h0M122.7 35.9h0M91.5 45.6h0M58.1 60.9h0M160.2 78.5h0M98.2 105.8h0M73.9 28.9h0M116.7 91.6h0M134.1 83.7h0M139.5 120.9h0M74.6 90.9h0M109.4 56.6h0M99.8 99.2h0M171.5 144.5h0M79.9 110.1h0M47 37.1h0M114.2 139.4h0M63.1 125.3h0M168 67.6h0M140.4 135.8h0M93.9 117.1h0M146.8 103.5h0M164.2 141.9h0M179.2 100.5h0M65.6 59.8h0M71.6 100.3h0M149.9 34.6h0M138.8 119.1h0M90.5 93.4h0M63.9 120.7h0M45.9 152.6h0M157.2 107.8h0M78.8 143.9h0M179.1 45.7h0M152.5 134.9h0M135.7 117h0M104.5 145.4h0M180.8 76.6h0M156.4 83h0M63.9 69.3h0M58.3 143.4h0M179.1 43.1h0M127.1 79.8h0M57.1 65.5h0M40.6 52.1h0M103.6 30.7h0M131 104.9h0M161.1 54.2h0M81.3 96.9h0M79.6 102.4h0M76.4 114.8h0M151.5 100.5h0M95.6 64.1h0M55.7 130.6h0M57.1 122.9h0M119.1 150.5h0M150.4 151.6h0M59.8 91.5h0M123 67.5h0M112.9 73.3h0M116.6 28.1h0M104.1 85.1h0M84.2 78.7h0M153.5 114.8h0M111.4 110.3h0M94.7 53.9h0M40.6 63.3h0M126.7 140h0M160.3 92.9h0M183.1 86.6h0M148 153.4h0M84.3 49.6h0M129.9 95.4h0M92.1 28.4h0M96.4 82.1h0M98.8 137.4h0M124.7 121.2h0M170.2 123.1h0M111.4 122.7h0M132.9 110.4h0M131.3 79.7h0M131.2 108.5h0M175.9 127.4h0M162.7 125.5h0M158.2 104.9h0M90.7 61.6h0M142.7 139h0M118.9 47.3h0M160.8 89.5h0M107.7 33.8h0M114 122.6h0M101.3 73.1h0M135.2 30.5h0M140.1 79h0M139.9 104.8h0M70.3 54.4h0M168.5 62.2h0M50.9 133.5h0M115.9 74.8h0M64.4 110.9h0M143.4 131.5h0M79.1 105.4h0M73.7 99.3h0M65 128.3h0M165.7 69.9h0M142.5 135.2h0M44.4 142.2h0M130.3 68.2h0M102.6 124.7h0M153.9 52.1h0M130.8 49h0M172.4 120.5h0M127.9 61.3h0M116.4 45.6h0M92.4 123.4h0M144.2 66.8h0M55.4 78.4h0M111.4 40.7h0M67.1 35h0M71.4 32.4h0M179.8 105.9h0M89.7 134.4h0M57.1 116h0M111.8 76h0M64.4 57.4h0M158.9 86.7h0M124.1 54.9h0M143.7 69.9h0M126.1 143.5h0M184.2 33.9h0M155.6 136.9h0M86.3 76.7h0M124.1 144.7h0M98 139.8h0M150 47.3h0M172.5 29.9h0M61.1 112.4h0M48.3 76.2h0M58.8 86.8h0M161.8 143.1h0M45.1 35.7h0M161.9 33.4h0M79.7 42.9h0M132.4 122.6h0M136.1 77.5h0M131.5 151.1h0M133 58.9h0M48.7 146.8h0M125.6 72.4h0M127.8 99.2h0M115.7 35.7h0M91.2 80.4h0M68.9 139.8h0M101.5 112.1h0M143.5 122.4h0M76.5 152h0M61.9 144.7h0M163.9 136.2h0M47.7 39.6h0M93.7 153.1h0M45.8 95.5h0M104.3 44.3h0M97.3 117.9h0M116.1 39.5h0M146.2 67.8h0M58.9 128.9h0M84 82h0M75.6 98.8h0M87.9 71h0M153.6 149.4h0M124.7 41.3h0M183.3 119.4h0M161 117.1h0M117.7 141.9h0M160.6 65h0M62.8 75h0M90.1 101h0M46.3 131.5h0M134.4 67.8h0M83.3 72.8h0M87.2 123.1h0M112.7 94.8h0M50 152.4h0M109.6 143.9h0M174.5 151.2h0M158.3 145.5h0M173.7 129.8h0M59.5 94.5h0M123.5 154h0M153.7 117.3h0M148.3 73.9h0M176.6 109.7h0M98.4 87h0M64.3 46.8h0M139.7 99.5h0M171.5 51.4h0M99.6 120.5h0M119.1 61.7h0M55.5 61.2h0M131.7 94.8h0M51.4 37.2h0M163.3 109.7h0M65.1 137.5h0M43.2 74.7h0M162.9 118.2h0M81.1 141.2h0M126.7 137.9h0M169.5 82h0M177 129.4h0M184.7 60.6h0M69.2 122.8h0M151.7 93.3h0M110.6 79.3h0M168 129.1h0M124.8 33.1h0M67.5 66h0M140.2 28.7h0M122.9 98h0M116.2 96.8h0M99.2 108h0M84.6 66.3h0M63.6 108.9h0M184.2 121.5h0M122.1 74.8h0M98.3 146.9h0M169.8 113h0M162.7 76.7h0M107.3 129.1h0M109.8 70.7h0M106.1 42.8h0M42.6 49.9h0M77.7 137h0M125.5 64.5h0M140.2 83.1h0M152.7 89.7h0M143.7 90.4h0M180.9 119h0M53.2 44.4h0M180.1 57.1h0M43.8 60.2h0M109.6 148.9h0M97.9 119.9h0M161 39.3h0M128.7 154.5h0M90.3 148.2h0M137.4 43.1h0M78.5 63.4h0M109.6 128.7h0M96.5 112.9h0M171.2 42.8h0M163.8 41.4h0M96 143h0M69.2 94.1h0M100.4 140.8h0M111.4 141.7h0M119 55.3h0M150.2 70.8h0M110.5 29.1h0M183.4 111.5h0M162.1 57h0M79.8 117.7h0M99.7 44.5h0M68.3 99.2h0M126.8 149.9h0M117.3 105.3h0M61.6 80.6h0M78.7 55.2h0M93.3 87.8h0M66.3 139.7h0M140.7 95.9h0M48.4 69.4h0M140.1 109.9h0M157.7 141.2h0M85.7 90.7h0M87.9 44.2h0M60.3 60.6h0M52.8 96.4h0M141.9 99.5h0M139.3 56.7h0M40.6 30.5h0M84.3 106.2h0M52.3 56.5h0M138.7 153.1h0M115.2 30.9h0M76.4 125.8h0M138.8 33.2h0M51.2 120.1h0M55 68.3h0M79.1 34.3h0M44.5 45.7h0M138.5 62.8h0M114.7 68.9h0M177.6 72.8h0M162.3 105h0M166.2 79.5h0M138.5 106.8h0M116.5 99.7h0M117.7 78h0M170.3 108.4h0M119.6 34.9h0M113.7 50.2h0M119.2 59.8h0M79.3 95.3h0M108.6 79.2h0M55 75.4h0M134.9 97.1h0M119 135.2h0M144.9 114.9h0M44.4 67.1h0M138.9 47.8h0M172.5 46h0M167.5 55.5h0M162 135.7h0M88.6 140.9h0M63.2 135.8h0M57.1 104.3h0M79.1 112.7h0M155.9 104.7h0M41.2 148.9h0M173.4 109.7h0M95 99.4h0M168 86.4h0M153 104h0M101.2 146.6h0M47.7 87.8h0M40.1 33.3h0M56.1 45.7h0M79.3 152.9h0" stroke="#e2e2e2" stroke-width="1.0" stroke-linecap="round"/>
<path d="M98.6 75.5h0M70.3 77.7h0M65.3 55.3h0M82.8 37h0M110.8 98.3h0M116.9 58.9h0M82.8 61.1h0M57.7 73.6h0M122.7 67.1h0M82.2 33.6h0M71 59.1h0M121.8 42.1h0M147.1 127.5h0M128.2 122.3h0M99.8 41.6h0M138.2 86.5h0M74.5 100.8h0M125.3 107.2h0M89.3 132.6h0M128 92.1h0M117 88.1h0M152.9 128.9h0M106.4 81.4h0M61.1 118.3h0M104.2 36.3h0M91.8 53.3h0M61.2 140.5h0M146.2 83h0M101.2 119.2h0M146.3 120.3h0M79.4 110.8h0M88.5 80.8h0M102.3 36.4h0M138.6 106.5h0M56.2 113.4h0M79.9 117.5h0M136.3 67.1h0M91.5 46.3h0M72.2 116.5h0M108.6 78h0M93.6 120.7h0M111.4 109.1h0M144.8 102.3h0M154.9 124.6h0M102.5 125.6h0M81.7 140.3h0M76 84.2h0M66.6 101.6h0M109.2 33.6h0M78.8 53.8h0M78.3 70.5h0M57.9 80.7h0M103.3 58.9h0M58.4 108.7h0M56.1 70.2h0M119.7 89.9h0M65.3 57.2h0M135.3 65h0M145.6 113.2h0M61.3 125.7h0M92.2 117.2h0M62.7 143.9h0M137.1 125.6h0M103.5 102.8h0M58 49h0M85.9 116.3h0M151.2 121.2h0M87.3 134.5h0M68.8 102.6h0M113.6 133.1h0M153.5 97.2h0M106.8 50.1h0M75.8 77.1h0M111.5 114.3h0M84.3 107.2h0M129.6 64.7h0M95.5 120.7h0M113.9 104.5h0M141 31.3h0M131.8 31.9h0M172.8 101.4h0M167.8 97.4h0M55.5 154h0" stroke="#dc961a" stroke-width="3.0" stroke-linecap="round"/>
<path d="M148.9 107.6h0M68.3 47h0M119.2 43.9h0M94.3 136.6h0M63.9 68.6h0M104.5 74.9h0M126.3 104.3h0M73.6 140.3h0M110.6 63.9h0M57.1 65.1h0M127.9 49.3h0M76.7 68h0M78.2 116.4h0M117.9 67.6h0M101.1 94.2h0M126.4 36.9h0M120.3 82.4h0M84.6 44.3h0M137.1 111.6h0M57.3 67.4h0M107.7 93.6h0M120 121.8h0M94.9 88.5h0M117.4 127.2h0M137 109.2h0M88.9 100h0M86.1 92.4h0M60.2 122.1h0M65.5 132.9h0M71.5 97.5h0M61.6 77.5h0M76.1 130.4h0M78.8 86.1h0M78.5 137.5h0M63.2 84.3h0M115.2 85.1h0M130.9 123h0M103.4 41.4h0M141.8 104.7h0M98.7 82.9h0M92.4 35.3h0M104.6 91.4h0M141.1 114.3h0M54 104.2h0M138.6 75.9h0M103.1 85h0M116.2 130.7h0M73 109.4h0M128.3 75.6h0M97 66.1h0M68.3 71.2h0M102 43.8h0M70.4 52.9h0M62.7 82.4h0M130.1 48.6h0M112.9 75.7h0M90.8 48.3h0M62.4 138.9h0M114.3 99.5h0M83.5 100h0M68.8 40.9h0M158 115h0M95.3 114.5h0M78.4 105h0M134.6 55.7h0M95.2 38.5h0M127.5 115.4h0M121.2 73.4h0M94.8 47.1h0M97.3 129.3h0M66.1 76.9h0M96.6 68.3h0M89.5 86.8h0M61.3 105.2h0M68.5 141.8h0M129.7 101.6h0M111.5 39.1h0M121.1 70h0M145.8 126h0M108.4 82.9h0M87.2 50.8h0M85.2 114.4h0M139.5 103.4h0M69.5 125.8h0M119.5 54.6h0M111.4 103.2h0M91.7 110.1h0M98 90.9h0M147.6 111.2h0M124.1 88.1h0M88.4 71.9h0M147.3 76.9h0M114.3 124.8h0M62.2 100.3h0M55.7 122.8h0M131.2 67.8h0M113.1 44.9h0M62.1 45.6h0M123.3 103h0M63.7 101.2h0M76.5 45.3h0M58.6 98.2h0M81.5 59.9h0M144.6 127.5h0M106.9 61.8h0M99.8 59.8h0M154.6 128.1h0M84.6 67h0M129.8 80.5h0M151.1 82.2h0M60.3 94h0M126.5 61.9h0M101.4 39.8h0M112.2 97h0M100.2 126h0M129.4 106.7h0M59.2 77h0M57.3 115.4h0M92.1 111.9h0M110.5 74.5h0M73 118.8h0M117.8 53.8h0M84.2 91.2h0M52.9 90h0M114.5 58.5h0M107.9 128.7h0M149.4 38.4h0M149.5 47h0M155.5 35.1h0M180.4 112.6h0M146.3 63.4h0M52.1 146h0" stroke="#d41010" stroke-width="3.0" stroke-linecap="round"/>
<path d="M112.1 73.3h0M155.3 107.8h0M122.7 71.6h0M73.8 126.4h0M61.9 127.6h0M66.2 96.6h0M81.9 87.5h0M140.7 97.1h0M66.3 138.6h0M123 45.8h0M154.5 90.6h0M149.7 123.8h0M99.5 53h0M126.6 109.4h0M74.3 39.5h0M125.8 97.3h0M136.2 58.5h0M86.7 66.9h0M109.7 54.5h0M151.9 109.8h0M133.3 68.5h0M63.8 141.3h0M137.2 63.9h0M83.2 51.1h0M142.8 108.8h0M75.8 43.1h0M75.2 128.7h0M82 63.5h0M121.4 96.5h0M81.5 138.2h0M59.3 127.1h0M73.4 48.2h0M125.1 115.5h0M104.2 69.3h0M154.8 92.4h0M102.4 123.7h0M77.2 106.6h0M131.5 114.7h0M68.8 135.4h0M66.5 37.1h0M107.6 66.9h0M105.5 84h0M110.3 101.2h0M117.4 102.8h0M70.7 65.7h0M136.3 75.5h0M139.3 80.6h0M105 101.1h0M104.7 64.7h0M125 54.2h0M140.3 66.6h0M66.1 94.7h0M118.3 32.1h0M63.5 52.8h0M75.4 37.4h0M103.4 136.1h0M97.1 44h0M114.8 120.3h0M141.1 87.2h0M150.8 114.3h0M53 96.8h0M78.9 122.6h0M103.1 99.2h0M131.1 89.1h0M133.3 110.3h0M141 99.3h0M72.1 55.2h0M72.9 132.8h0M105.5 93.2h0M126.2 42.6h0M125.9 51.3h0M93.9 49.8h0M124.3 93.6h0M70.6 128h0M67 126.6h0M80.9 58.1h0M119.8 42.1h0M70.6 45.3h0M83.7 117.3h0M104.8 60.1h0M54.5 69.2h0M61.1 67.9h0M71.6 63.1h0M146.9 94.7h0M110.2 76.5h0M87.1 85h0M108.3 118.4h0M109.7 95.6h0M66.6 85.9h0M105.2 109.5h0M79.7 51.7h0M83.5 119.5h0M133.8 76.5h0M115.7 128.7h0M151.7 86.1h0M72.3 64.8h0M107.8 113.1h0M151.8 127h0M92.5 125h0M141.3 79.6h0M125.6 68.2h0M66.5 81.2h0M73.8 138.4h0M128.9 73.6h0M168.2 69.3h0M170 104.9h0M148 53.6h0M157.5 53h0M50.9 129.6h0" stroke="#1ab8cc" stroke-width="3.0" stroke-linecap="round"/>
<path d="M93.1 128.3h0M73.3 124.6h0M80.9 105.7h0M136.9 129.3h0M85.9 138.9h0M101.4 132.1h0M78.9 35.7h0M86 87.5h0M115.3 123h0M99.7 117.6h0M62 93.5h0M85.1 102.6h0M110 46.5h0M134.1 84.5h0M111.4 33.1h0M124.7 34h0M129.7 82.3h0M130.5 131.1h0M97.7 48.4h0M54.5 83.2h0M125.4 76.3h0M65.6 120.9h0M93.3 66h0M138 95h0M91.9 126.9h0M67.8 54.4h0M95.9 118.9h0M106.6 39.1h0M75.6 94.8h0M72.4 128.9h0M94.3 97.9h0M90.8 92.3h0M144.4 119h0M145.3 110.5h0M150.2 116.6h0M105.9 102.8h0M133.4 66.4h0M142 117.9h0M61.4 53h0M65.6 52.1h0M155.6 126.4h0M92.2 98.1h0M88.8 102.5h0M73.1 114.8h0M93.4 74.5h0M97 103.3h0M109.4 89.9h0M155.8 119.1h0M65 118.8h0M111.4 62.3h0M73.9 62.3h0M156.2 111.1h0M147 129.4h0M131.1 60.1h0M68.2 80.5h0M158.2 110.2h0M75.1 112.7h0M62.2 96.5h0M137.4 92.9h0M78 97.1h0M68.1 120.3h0M100.5 92.4h0M96.2 117h0M84.3 98.2h0M90.5 124.6h0M111.7 130.2h0M136.8 80.5h0M100.2 133.7h0M119.6 56.6h0M64.1 137.9h0M75.7 104.8h0M134.2 98.2h0M56.4 83.1h0M54.4 112.3h0M81.4 126.2h0M147.6 125.8h0M82 69.1h0M74.3 84.8h0M165.1 115h0M173.6 119.8h0M167 134.5h0M171.8 56.8h0M50.6 151.6h0" stroke="#dc961a" stroke-width="3.0" stroke-linecap="round"/>
<path d="M139 82.9h0M113.7 96h0M119.6 60.4h0M151.6 95.8h0M56.8 100h0M125 66.3h0M132.2 117.7h0M94.3 56.3h0M85.4 42h0M153.5 125.7h0M119 47.6h0M74.6 50.9h0M105.2 33.5h0M70.5 103.1h0M111.8 105.4h0M94.9 44.1h0M59.6 100.4h0M125.1 101.9h0M56.2 120.7h0M77 92.5h0M61.8 87.5h0M85.5 94.1h0M91.5 50h0M112.9 115.5h0M64.9 143.3h0M89.9 40.7h0M126.8 46.9h0M115.7 126.8h0M117 45h0M101.6 108.6h0M75.7 70.1h0M98.2 39.3h0M112.5 47h0M101.6 41.6h0M121.6 49.3h0M91.3 105.6h0M152 112.3h0M79.3 93.2h0M68.4 88h0M122.4 32.5h0M71.5 86.9h0M60.2 49.8h0M101.9 70.3h0M67.8 68.5h0M129.4 124.5h0M98 78.9h0M112 82h0M84.3 136h0M54.6 101.8h0M93.3 94.8h0M106.1 58.5h0M138.6 100.1h0M90 137.8h0M107.2 85.4h0M88.4 92.7h0M109.6 66.4h0M77.8 40.6h0M95.6 83.6h0M91.9 85.8h0M84.8 33.2h0M119.6 132.4h0M91.6 134.1h0M117.7 73.9h0M131.7 78.2h0M119.6 106h0M98 116.2h0M101.8 100.8h0M116.9 125.1h0M100.3 54.6h0M53.8 75.7h0M132 56.8h0M65.9 79.4h0M112.7 111.2h0M132.4 120.2h0M126.7 57.5h0M129.3 95.4h0M120 37.8h0M127.3 64.6h0M75 47.2h0M125.4 124.5h0M132.4 80.2h0M139.3 92.3h0M123 86.2h0M66.2 66.9h0M115.4 117.2h0M136.1 72.1h0M115 69.7h0M56.2 72.3h0M75.2 124h0M85 59.5h0M124.2 99.7h0M135.2 69.6h0M89.5 96.2h0M84 133h0M103.3 129.8h0M76 34.9h0M84.3 62.4h0M120.7 125.1h0M82.8 55.9h0M58.9 136.8h0M94.6 72.8h0M62.8 124h0M63.5 122.3h0M132.1 53.4h0M79.8 95.9h0M128.5 77.4h0M155.5 98.6h0M98.6 71h0M62.3 41.6h0M137.3 68.7h0M141.8 125.5h0M153.3 102.1h0M67.4 92.2h0M80.2 115.3h0M85.4 51h0M65.9 61.8h0M126.9 89.7h0M132.6 108.4h0M146.7 106.7h0M118.1 114.6h0M113.8 118.7h0M97.3 34.5h0M154.9 117.4h0M97.8 41.3h0M65.1 131.1h0M72.9 99.7h0M151.6 70.4h0M158.9 64.4h0M140.4 46.3h0M177.6 50.6h0M165.1 44.7h0M56.6 140.8h0" stroke="#d41010" stroke-width="3.0" stroke-linecap="round"/>
<path d="M85.8 133.6h0M101.4 86.4h0M114.5 91.3h0M68.6 97.5h0M115.3 103.1h0M148.5 85h0M66.6 83.1h0M105.6 87.2h0M79.1 59h0M73.1 72.4h0M87.2 78.5h0M70.9 88.6h0M111.5 124.2h0M87.9 123.7h0M117.9 97.6h0M99.9 102.6h0M126.8 82.4h0M103.5 132.9h0M145.1 93.2h0M110.2 134.4h0M150.9 125.2h0M96.5 126.1h0M139.8 109h0M98.7 137.1h0M93.6 61.7h0M82.8 128.1h0M87 60.2h0M85.3 47.4h0M101.4 135.1h0M118 131.2h0M118.6 34.7h0M127 117.9h0M128.8 85.1h0M67.7 61.7h0M109.4 114.8h0M104.9 111.6h0M150.9 93.1h0M95.1 85.6h0M126 85.2h0M73.6 98h0M104.1 72.2h0M79.2 91.4h0M103.1 55.6h0M117.1 86h0M107.3 69.3h0M145.3 98.9h0M99.8 38.1h0M141.7 93.2h0M132.7 86h0M69.6 92.8h0M60 96h0M86 107.8h0M102.5 62.8h0M91.6 80h0M79.8 83.3h0M76.5 143.1h0M65.9 64.3h0M108.5 73.2h0M120.8 45.9h0M122.4 58.5h0M52.7 88h0M96.7 92.8h0M115.5 101h0M99.8 36.3h0M113 36.4h0M60.8 43.4h0M68.8 65.5h0M104.7 121.8h0M113.7 62.5h0M93.1 130.6h0M123.6 73.4h0M84.4 140.5h0M147.3 96.5h0M135.9 122.8h0M110.2 112h0M122.8 101.2h0M72.7 102.3h0M102.9 110.2h0M96.8 70.3h0M81.9 82.5h0M139.3 128.4h0M59.7 48h0M149.1 92.2h0M142.3 129.1h0M135.8 62.4h0M81.5 73.2h0M141.1 71.8h0M133.5 64.3h0M59 51.6h0M55.8 54.6h0M90.8 83.9h0M88.7 129.7h0M129.1 71h0M100.5 129.6h0M80.9 37h0M138.9 64.9h0M72.1 46.9h0M125.8 72.4h0M68.8 113.2h0M60.9 65.6h0M89.8 68.5h0M64.3 43.1h0M80.8 135.3h0M64.5 45.6h0M159.4 74.6h0M172.3 31.4h0M169.8 77.5h0M158.5 85h0M50.5 56.8h0" stroke="#1ab8cc" stroke-width="3.0" stroke-linecap="round"/>
<path d="M119.8 91.9h0M134.5 115.5h0M120.8 76.7h0M135.2 103.8h0M106.3 46h0M113.3 33.7h0M85.9 118.6h0M98.9 106.1h0M111.4 84.3h0M145.2 108.2h0M90.2 82h0M77.3 133.2h0M131 87.2h0M59.4 86.9h0M143.6 112.3h0M68.4 132h0M62.9 60h0M68.1 59.9h0M54.9 97.8h0M158.1 124.5h0M120.6 101.9h0M140.3 78h0M69.6 63.5h0M75.6 121.9h0M59 62.1h0M85.6 110.4h0M140 124.9h0M78.5 114.2h0M152.4 83.7h0M93.2 89.7h0M102.3 74.6h0M58.7 129.3h0M139.8 118.1h0M107.8 60.1h0M89.6 121.4h0M123.5 96.1h0M114.7 113.9h0M109.8 110.2h0M88.5 83.4h0M82.8 96.1h0M141.3 127.6h0M129 66.4h0M99.9 110.4h0M90.2 135.4h0M138.1 88.5h0M63.5 130.3h0M153.5 108.4h0M128.2 40.9h0M69.8 56.4h0M94.4 133h0M106.1 129.6h0M124.6 60.1h0M79.1 89.3h0M123.8 83.6h0M99.5 33.9h0M142.8 120.5h0M57.5 106h0M68.8 95.2h0M119.1 75.1h0M72.9 40.6h0M77.4 100.6h0M142.9 78.3h0M61.1 89.9h0M107.1 110.9h0M63 70.6h0M140.2 121.3h0M130.8 92.8h0M118.4 72.1h0M102.9 67.3h0M122.4 89h0M65.4 93h0M77.2 60h0M58 93.7h0M150.1 109.3h0M100.8 62h0M85 127.5h0M127.3 106h0M112.6 100.4h0M95 65.2h0M62.2 135.8h0M99 131.5h0M88.8 139.2h0M54.1 63.8h0M146.9 108.8h0M78.7 139.5h0M128.8 103.4h0M89.5 52.7h0M134.2 59.5h0M81.5 40.6h0M94.2 32.6h0M77.6 79.4h0M78.9 67.5h0M61.4 120.8h0M94.6 99.8h0M88.2 118.2h0M108.1 44.2h0M101 32.4h0M72.8 134.8h0M99.5 86.4h0M119.4 103.5h0M102.3 106.8h0M102.8 112.5h0M112.8 88.2h0M64.6 90.1h0M144.2 60h0M139.9 50.3h0M161.5 45.7h0M162.2 105.9h0M51 118.6h0" stroke="#1ab8cc" stroke-width="3.0" stroke-linecap="round"/>
<path d="M99.2 94.6h0M73.3 104.2h0M155.1 120.8h0M103.1 81.3h0M121.8 54.6h0M145.2 91.3h0M151.2 119.2h0M131.1 97.5h0M92.8 107.6h0M86.4 100.4h0M138.9 126.6h0M115.6 64h0M109.5 120.9h0M82.6 124.8h0M76.6 86.9h0M54.9 91.1h0M67.9 115.1h0M134.7 100.8h0M70.6 119.1h0M136.9 78.7h0M124.6 120.1h0M111.5 132.6h0M76 138.5h0M67.1 112.6h0M113.1 126.2h0M82.6 134.1h0M57.4 53.7h0M97.4 94.8h0M126.5 60.1h0M125.7 70.2h0M144.9 104.7h0M70.4 123.6h0M64.7 128.6h0M119 94.5h0M110.4 118.9h0M96.4 107.7h0M98.5 92.7h0M116.6 109.4h0M82.2 45.4h0M92.4 37.3h0M122.3 107.4h0M62.6 64.2h0M85.8 105h0M96.7 98h0M130.7 104.7h0M88.1 88.8h0M108.9 42.3h0M125.1 32.1h0M106.7 134.4h0M63.5 57.2h0M113.1 113h0M104.8 54.5h0M83.1 112.9h0M65 107h0M87.7 95.4h0M123.2 126.4h0M73.5 56.3h0M132.3 131.6h0M152.3 88.4h0M121.8 80.3h0M136.4 107.1h0M81.1 129.2h0M82.3 136.2h0M126.3 99.4h0M133.9 94.1h0M85.4 80h0M74.7 142.4h0M148.8 100.1h0M127.8 98.2h0M141 131h0M140.8 94.8h0M86.9 113.3h0M106.9 65h0M92.5 91.3h0M115.9 104.8h0M63.4 108.9h0M53 84.6h0M121.9 47.4h0M146.1 48.9h0M165.8 56.1h0M183.7 123.1h0M180.2 91.2h0" stroke="#dc961a" stroke-width="3.0" stroke-linecap="round"/>
<path d="M92.4 44.6h0M115.1 46.9h0M128.4 61.4h0M86.1 49.3h0M145 81h0M98.3 113.7h0M54.1 71.1h0M157.4 117.9h0M63.4 91.5h0M78.4 127.9h0M125.1 40h0M113.5 128.8h0M112.1 117.7h0M118 82.8h0M115.5 60.3h0M91.9 72.3h0M111.9 77.3h0M57 96.1h0M143.4 106.5h0M73.1 136.6h0M92.5 103.7h0M81.3 70.9h0M117.3 121.7h0M68 51.7h0M91.3 113.9h0M118.3 39.9h0M78.1 72.9h0M129.3 89.8h0M112.2 53.3h0M59 55.6h0M96.3 63.2h0M79.2 77.3h0M129.2 129.8h0M155.1 115.4h0M67.1 136.6h0M62.5 66.7h0M61.2 142.6h0M74.3 76h0M89 38.4h0M67.5 48.8h0M53.7 86.3h0M122.4 77.6h0M126.7 87.6h0M138.6 113.2h0M55 65.4h0M64.3 81.3h0M120.9 36.2h0M113.1 94.1h0M59.7 46.1h0M129.8 126.8h0M104.9 95.7h0M116.6 52.4h0M87.3 97.7h0M74.6 134h0M145.2 96.1h0M94.5 126.7h0M96.6 100.4h0M56.5 86.5h0M78.6 46.5h0M110.4 52.1h0M72.7 83.8h0M90.6 108.5h0M117.8 80.9h0M134.5 96.4h0M79.7 107.7h0M123.3 92.1h0M118.2 119.9h0M115.6 80h0M115.1 66.5h0M137.3 84.6h0M141.9 75.1h0M76.6 50.5h0M98.1 32.4h0M107.7 108.7h0M72.5 52.1h0M79.1 120.3h0M70.8 68.2h0M60 113.5h0M56.1 81.2h0M105.3 70.9h0M109.5 61.6h0M135.7 130.7h0M69.4 48.9h0M56.3 128.8h0M96 53.5h0M115.8 43.4h0M70.9 134.5h0M134.6 121.2h0M99.8 43.5h0M147.3 79.5h0M111.4 41.6h0M93.5 138.3h0M115.9 48.6h0M129.3 59.5h0M93.4 70.2h0M121.8 60.6h0M153.2 99.3h0M88.3 34.4h0M154.2 110h0M147.2 102.9h0M66 47.2h0M97.5 135.7h0M117.1 47.2h0M62.4 74.8h0M119.6 52.5h0M62.7 114.4h0M113.1 60.8h0M115.9 97.5h0M66.1 42.3h0M64.1 73.2h0M109 68.5h0M121.9 83.3h0M78.1 118.2h0M76.9 135.9h0M76.4 63.2h0M71.6 35.1h0M76.1 140.7h0M63.1 104.4h0M86.4 128.9h0M70.1 50.8h0M81.6 80.3h0M64.7 146.7h0M73.4 58.7h0M66 72.4h0M86.6 62.4h0M83.3 102.4h0M154.1 46.2h0M159.1 39.4h0M177.3 44.8h0M130.7 35.5h0M165.3 31.8h0M58.1 145.8h0" stroke="#d41010" stroke-width="3.0" stroke-linecap="round"/>
<path d="M150.7 129h0M131.6 76.2h0M124.4 36.9h0M144.2 122.9h0M113.5 131h0M105.6 132.5h0M129.5 54.1h0M122.3 131.2h0M100.2 77h0M103.8 77.5h0M152.6 106.3h0M103.1 93.7h0M114.9 110.5h0M55.5 124.8h0M96 77h0M128.3 79.4h0M99.5 100.1h0M124.5 122h0M109.3 130h0M52.9 80h0M99.5 96.9h0M100.9 114.8h0M134.4 91.9h0M54.3 67.3h0M54.3 95.5h0M66.7 89.6h0M157.6 121h0M116.5 118.9h0M83.6 138.6h0M101.3 98.3h0M102.6 120.8h0M136 94.1h0M72.7 142.4h0M58.8 103h0M62.3 112.2h0M95.5 130.5h0M130.1 111.2h0M130.7 73.9h0M110.9 126.3h0M63 146h0M139.3 130.3h0M70.2 61h0M67.5 123.7h0M114.9 75.4h0M70.8 83.3h0M143.3 99.1h0M152.9 114h0M107.8 132.1h0M157.4 97.1h0M116.8 95.9h0M152.3 91.6h0M130.3 117.6h0M108.9 92.2h0M126.7 74.4h0M98.2 120h0M109.6 116.6h0M99.9 49.9h0M65.8 116.9h0M103.6 45.5h0M58 69.5h0M91.9 96.2h0M108.3 57.8h0M89.2 36.5h0M56 58.3h0M110.8 92.5h0M146.4 89.7h0M126.7 34.7h0M107.2 124.9h0M68 77.4h0M135.8 117.1h0M98.5 98.4h0M132.5 58.8h0M105.2 79.8h0M72.2 61.1h0M77.8 48.7h0M153.1 104.2h0M106.2 119.2h0M94 116.1h0M178.5 58.1h0M167.3 50.6h0M171 44.7h0M161.1 49.5h0" stroke="#dc961a" stroke-width="3.0" stroke-linecap="round"/>
<path d="M149.2 94.1h0M60.4 59.9h0M92.6 87.7h0M136.3 98.5h0M73.4 45.3h0M102.4 128.1h0M126.8 53.1h0M85.1 89.5h0M59.1 116.5h0M149 101.9h0M81.2 102.9h0M66.9 39.9h0M114.9 38h0M142.6 83h0M98.5 125.4h0M54.7 109.3h0M70.9 113.6h0M80.8 47.6h0M71.3 73.4h0M82.1 52.8h0M58.9 120.1h0M69.7 81.7h0M82 115.2h0M94.2 77.3h0M123.4 81.4h0M84.2 123h0M117.9 56.2h0M84.4 130.3h0M155.6 96.3h0M106.1 117.3h0M96.9 60.7h0M60 135.2h0M89.3 59.6h0M69.4 99.2h0M122.7 75.7h0M63.1 120.2h0M63.7 125.6h0M104.9 50h0M87.6 136.7h0M136 86.2h0M94 124.1h0M86.9 37h0M133.1 61.1h0M62.5 55.4h0M144.3 83.8h0M91.9 61.2h0M66 59.7h0M139.5 116.3h0M131.6 106.4h0M107.4 76.5h0M137.8 90.3h0M64.2 99.3h0M95.1 135h0M87.3 120.1h0M124.3 47.3h0M119 50.6h0M64.5 115.1h0M106.1 55.8h0M56.1 118.6h0M89.1 56.5h0M100.5 121.3h0M57.9 59h0M86.8 38.9h0M67.1 108.6h0M57.4 132.5h0M70.8 142.4h0M100.4 105.2h0M60.1 74.5h0M74 64.1h0M65.2 87.7h0M99 69.2h0M84.3 86.7h0M76.3 81.7h0M79.2 80.5h0M65.9 105.2h0M55.5 89.4h0M79.7 124.5h0M145 78.3h0M118.6 111.4h0M86.3 54.5h0M87.7 110.6h0M139.5 69.4h0M72.8 96h0M63.5 88.6h0M154.4 88.1h0M133.5 102.4h0M108.5 39h0M65.8 141.6h0M82.8 74.8h0M133.5 106.7h0M91.3 75h0M122.6 65.1h0M75.1 136.2h0M130.6 99.3h0M72.1 37.4h0M71.1 93.9h0M74.6 93.1h0M101.7 83h0M60.6 62.8h0M62.3 51.1h0M104.6 124h0M96.4 105.5h0M104.5 39.8h0M131.3 55h0M80.1 69.5h0M55.7 84.7h0M68.1 138.3h0M122.8 34.8h0M77.2 36.5h0M86.7 46.1h0M113.5 41.2h0M111 48.2h0M108.6 80.2h0M78.3 112.3h0M112.5 69.2h0M86.9 103h0M77.5 52.3h0M81.5 120.5h0M86.7 70.8h0M143.6 95.2h0M79.9 72.1h0M72.7 113h0M90.3 98.7h0M156.7 101.2h0M89.7 119.3h0M55.9 52.8h0M137.2 40.8h0M142 37.7h0M153 75.9h0M155 64.1h0M52.2 138.8h0" stroke="#d41010" stroke-width="3.0" stroke-linecap="round"/>
<path d="M70.8 106.2h0M123.2 124.2h0M85.6 64.1h0M89.5 64.2h0M127.5 126.6h0M120.1 99.3h0M97.7 86.7h0M157.3 106.5h0M95.6 33.8h0M144.1 76.6h0M74.3 120.1h0M121.9 90.9h0M148.5 119.7h0M146.5 115.1h0M148.5 122h0M89.9 111.7h0M81.3 100.8h0M80 55.4h0M59.2 71h0M64.2 49.6h0M137.7 117.4h0M61.7 132.6h0M68.3 57.6h0M80.1 41.9h0M74.6 131.7h0M128.6 100.1h0M108.5 52.6h0M71.9 57.2h0M147.3 91.9h0M110.2 106.6h0M141.4 69.8h0M106.7 78.3h0M79.9 61.8h0M78.7 43h0M123 62.5h0M111.1 67.9h0M147 99.8h0M94.3 118h0M110.4 44.6h0M130.2 62.6h0M95.6 41.4h0M76.3 65.2h0M118.7 123.9h0M59.1 64h0M56.5 92.6h0M90.6 35.2h0M118.5 117h0M68.9 140h0M99.3 81.1h0M58.7 78.7h0M142.4 81.1h0M81.9 89.9h0M97.4 36.8h0M85.9 69.2h0M128.2 51.6h0M75.4 97.4h0M107.6 48.5h0M120.4 33.1h0M109.2 37.2h0M122.4 128.7h0M69 38.1h0M83.8 53.6h0M104.9 44.1h0M108.1 46.8h0M81.5 85.2h0M145.2 72.9h0M127.3 112.6h0M71.8 91.9h0M116.9 70.1h0M137.8 123.7h0M136.5 119.9h0M128.6 45.6h0M56.9 50.5h0M109.6 56.5h0M72.3 80.2h0M64.1 86.2h0M63.7 133.5h0M149.3 127.2h0M100.3 66.9h0M73 42.6h0M98.7 88.5h0M109.3 87h0M124.2 130h0M128.4 120.2h0M156.3 94.1h0M59 82.1h0M63.2 118.4h0M100.5 107h0M83.3 76.6h0M96.1 57.4h0M56.9 104.4h0M123.9 97.9h0M117.8 100.7h0M123.5 40.8h0M113.6 39.4h0M95.4 109.5h0M142.7 97h0M93.4 54.4h0M59.4 88.7h0M59.5 57.3h0M132.8 88h0M66.1 50.1h0M156.7 109.1h0M94.5 107.2h0M149.5 31.5h0M164.7 75.8h0M173.4 60.1h0M179.1 119.1h0M64.3 151.3h0" stroke="#1ab8cc" stroke-width="3.0" stroke-linecap="round"/>
<path d="M88.6 114.1h0M69 144.3h0M127.5 68.8h0M73.5 81.6h0M150.2 90.1h0M119.7 129.8h0M118.8 108.8h0M118 104.7h0M68 128.2h0M60.2 124.1h0M124.4 132.2h0M87.5 52.8h0M90.8 100.8h0M121.6 109h0M57.5 84.5h0M78.8 130.9h0M109.5 103.7h0M78.3 56.7h0M106.8 74.5h0M121.9 122.7h0M119.7 63.1h0M82.3 67.2h0M125.4 111.5h0M75.9 78.9h0M148.7 80.9h0M74.1 110.8h0M136.4 114.6h0M111.5 55.6h0M98 58h0M81.6 122.4h0M92.2 136.7h0M80.3 39.1h0M123.3 56h0M85.6 74.7h0M95.8 90.8h0M157.8 103.4h0M152.2 117.1h0M135 124.3h0M158.3 100.1h0M92 67.9h0M54.4 106.3h0M116.4 32.7h0M93.2 42.8h0M122.4 51.7h0M117.5 64.6h0M138 73.7h0M151.4 98.3h0M115.1 56.7h0M73.3 88.7h0M101 78.6h0M137.5 61.6h0M133.2 99.8h0M117.5 78.3h0M87.9 44h0M83.4 92.8h0M100.9 112.9h0M113.8 43.1h0M90.6 70.7h0M79.6 98h0M86.4 35.2h0M146.2 123.6h0M89.9 43.4h0M60.3 91.7h0M115.4 78h0M142.9 85.9h0M139.1 111.2h0M129.4 114.8h0M116.2 94.1h0M113.3 80.4h0M140.6 84.2h0M95.3 96.1h0M81.5 109.8h0M66.8 143.2h0M93.2 39.8h0M120.2 84.5h0M130.9 70h0M98.7 65.2h0M121.5 112h0M123.9 78.6h0M153.9 118.8h0M91.4 39.2h0M69.8 90.4h0M103.1 87.2h0M113.1 49.1h0M126.4 122.2h0M78.1 82.2h0M83 65.3h0M78.4 38.3h0M94.5 101.7h0M151.2 104.4h0M58.2 113.3h0M98.4 111.7h0M127.1 94.5h0M77 55.3h0M143.9 117h0M122.2 44h0M76.4 39.2h0M101.1 81.2h0M106.7 95.2h0M125.3 95.1h0M121.5 56.9h0M116.8 111.2h0M83.7 82.7h0M59.4 53.4h0M155.2 80.3h0M168.1 40.2h0M139.7 56.3h0M160.7 133.5h0M54.5 43.6h0" stroke="#1ab8cc" stroke-width="3.0" stroke-linecap="round"/>
<path d="M120.5 87.3h0M127.7 72.2h0M57.3 56.8h0M88.2 74.5h0M129.2 57.4h0M116.9 61.9h0M105.9 98.3h0M55.8 74.8h0M120.4 120h0M100.9 72.6h0M74.8 60.5h0M83.7 105.2h0M132.8 73.2h0M76.3 125.7h0M95.7 49.7h0M98.1 122.8h0M96.4 111.1h0M120 127.1h0M132.5 104.3h0M86.1 57.3h0M124.2 64h0M131.8 65h0M57.9 125.9h0M56.5 107.9h0M64.4 38.1h0M137.2 70.6h0M74 91.1h0M88.2 32.5h0M70.9 39.4h0M107.4 32.9h0M68.6 122.2h0M130.6 72h0M110.2 58.5h0M78.8 50.1h0M148 88.6h0M107.5 122.8h0M85.4 78h0M64.2 135.9h0M75.6 48.9h0M77.8 75.8h0M138.2 66.9h0M137.6 131.2h0M121.4 104.6h0M72.7 130.8h0M77.9 141.3h0M80 65.8h0M74.3 52.7h0M109.8 40.4h0M72.5 75.5h0M116.8 91.5h0M112.5 120.7h0M116.8 50.4h0M63.4 76.9h0M56.1 111.2h0M126.9 101.7h0M119.4 69.4h0M143.7 89.5h0M79.6 142.1h0M145.1 74.9h0M132 125.7h0M101.6 58h0M102 88.8h0M109.8 49.8h0M83.4 39.7h0M100.2 74.4h0M91.9 122.7h0M70.3 116h0M122.3 116.4h0M88.7 107.2h0M61 129.9h0M76.5 89.6h0M57.3 76.5h0M81.4 94.8h0M113.4 84.3h0M106.5 52.6h0M60 107.5h0M97.1 51.5h0M112.9 51.1h0M111.2 35.7h0M135 126.9h0M117.5 129.1h0M128.4 108.4h0M107.3 115.3h0M60.1 138.8h0M136.5 82.4h0M136.3 91.5h0M137.8 102.3h0M153.7 94.7h0M103.5 32.5h0M105.1 66.7h0M95 59.2h0M111.3 60.1h0M125.2 80.3h0M124.6 57.6h0M81.1 91.6h0M103.7 108.1h0M113.1 64.3h0M133 127.6h0M127 39.4h0M116.2 89.8h0M138.2 97.7h0M127.7 96.2h0M70.4 71.3h0M145.1 87.8h0M133.3 70.5h0M64.8 113.1h0M103 38.2h0M62.7 80h0M71.6 144.2h0M89.7 50.2h0M133.9 57.4h0M125.6 113.8h0M127.3 124.6h0M78.4 33.3h0M97.1 46.4h0M53.2 93.9h0M96.8 88.5h0M63.8 94.1h0M92.8 48.2h0M76 99.5h0M121.1 68h0M79.9 87.6h0M63.3 116.5h0M118.8 88.4h0M58.3 134.4h0M90 33.3h0M171.2 81.4h0M183 35.4h0M153.4 54.5h0M163 53.6h0M59.9 150.4h0" stroke="#d41010" stroke-width="3.0" stroke-linecap="round"/>
<path d="M129.3 112.9h0M90.3 128.9h0M115.6 53.9h0M105.5 125.6h0M108.1 97.1h0M109.5 70.4h0M109.9 81.9h0M71.6 69.8h0M101.8 90.6h0M95.8 122.9h0M96 137.3h0M122.3 119.8h0M91.2 132.2h0M61.4 109.7h0M70.2 111.4h0M106.4 90.7h0M111.5 86.3h0M98.2 109.6h0M85.2 96.4h0M68.1 105h0M61.8 58.2h0M89.3 46.1h0M85 84.1h0M90.2 117.6h0M93.9 68.3h0M88.7 54.7h0M133 122.9h0M124.8 117.6h0M144.4 129.8h0M154.9 104.6h0M84.8 36.8h0M77.6 95h0M143.7 125.9h0M127.6 131.5h0M76.5 110.6h0M116.2 106.6h0M127.5 55.2h0M126.2 130.2h0M135.1 112.3h0M90 73h0M53.2 73.3h0M92 58.1h0M91.5 65.4h0M88.6 61.8h0M151.1 101.6h0M124.1 104.9h0M72.3 122.6h0M77.3 108.7h0M73.9 107.6h0M73.4 68h0M66 70.4h0M114.6 108.3h0M88.6 66.8h0M77.9 61.9h0M111.6 65.8h0M110.7 128.2h0M71.6 126.1h0M55.4 116.8h0M88.2 41.5h0M125.4 45.2h0M148.9 112.9h0M124.1 52.6h0M150.7 107.2h0M103.1 79.2h0M100 123.7h0M92.6 100.8h0M66.1 99.3h0M107.4 35.1h0M153.8 85.6h0M74.1 79.6h0M88.7 105.1h0M54.4 114.4h0M121.6 40.2h0M86 123.8h0M137.6 121.8h0M136.5 96.3h0M148.6 117.9h0M60.8 137h0M155.6 41.7h0M166.5 102.2h0M175.7 128.7h0M168.1 119.3h0" stroke="#dc961a" stroke-width="3.0" stroke-linecap="round"/>
<path d="M128.5 43.5h0M94.5 105.2h0M100.1 89.9h0M82.8 108.4h0M81.3 43.3h0M142.8 102.3h0M60.4 80.5h0M80.6 75.1h0M115 83.1h0M70.7 130.9h0M124.1 69.3h0M97.8 84.9h0M83.1 57.9h0M96.1 74.5h0M98.9 63h0M142.5 73h0M119.7 113h0M60.7 84.2h0M94.4 52.1h0M77.2 103.2h0M65.2 109.6h0M152.9 122.6h0M105.2 62.5h0M94.5 79.9h0M149.4 97.7h0M146.2 117.7h0M72.7 78.2h0M98.2 73.2h0M68.4 117.7h0M137.2 105.4h0M124.4 128h0M107.1 120.8h0M114.3 106.3h0M140.7 73.6h0M86.8 131.4h0M75.4 57.7h0M135.5 88.6h0M85.1 112.2h0M120.3 117.6h0M78.9 135.7h0M69.6 109.4h0M73.5 35.7h0M84.1 73.2h0M134.6 118.6h0M124.5 43.4h0M105.8 107.4h0M134.5 74.7h0M107.7 104.8h0M75.1 102.8h0M95.4 128.6h0M68.9 85h0M91 89.2h0M61.4 98.4h0M76.4 117.3h0M143.1 114.7h0M154.8 100.5h0M108.4 63.9h0M83.8 70.2h0M66.3 45h0M120.1 78.9h0M79.6 126.4h0M81.7 118.7h0M101.9 49.7h0M131.6 129.2h0M111.5 95.3h0M115.4 72.9h0M65.7 124.5h0M62.6 43.7h0M100.2 84.4h0M140.6 101.3h0M104.9 105.2h0M92.3 78.1h0M134 89.7h0M76 114.3h0M114.7 88.6h0M133.5 78.5h0M77.3 119.9h0M141.7 111.3h0M155.2 122.7h0M64.4 96.1h0M104.9 38h0M113 122.8h0M77.7 124.4h0M131.5 101.8h0M108 102.6h0M99.1 46.3h0M106.7 72h0M131.3 91h0M78.2 64.2h0M127.7 128.7h0M149 114.9h0M140.7 82.2h0M89.9 76.3h0M83.3 42.9h0M63.9 65.5h0M100.2 56.8h0M112.8 107.6h0M105.5 76.6h0M131.9 49.9h0M103.9 88.9h0M70.8 95.7h0M113.9 71.3h0M84.8 55.5h0M174.9 66.3h0M150.2 59.9h0M136.2 46.3h0M166.6 90.1h0M50.1 124.6h0M50.3 108.5h0" stroke="#1ab8cc" stroke-width="3.0" stroke-linecap="round"/>
<path d="M121.8 94h0M86 125.8h0M107.8 54.8h0M59.2 104.9h0M74.6 41.4h0M73.7 66.1h0M114.1 86.9h0M75.5 73.2h0M68.6 75.3h0M93.3 114.1h0M103.1 116.8h0M103.1 104.8h0M85.6 121.7h0M79 101.6h0M130.9 51.7h0M80.4 133.3h0M120.1 65.5h0M92.1 119.7h0M140.8 89.2h0M82.2 131h0M125.9 91.2h0M109.4 123.6h0M88.4 126.3h0M113.7 101.9h0M106.9 127h0M73.7 86.6h0M132 94.8h0M96.7 132h0M135 109h0M70.8 121.5h0M105.3 115.5h0M116.6 133.2h0M148.8 104.8h0M101.1 46.6h0M155.2 113.3h0M113.2 54.9h0M116.5 115.7h0M93.9 112h0M127 66.4h0M91.6 32.5h0M87.7 64.2h0M121.9 114.5h0M115.1 35.4h0M57.7 89.9h0M142 91h0M81 112h0M65.9 145.3h0M122.3 99.2h0M145.3 85.7h0M98.3 133.3h0M89.5 90.2h0M86.6 72.6h0M102.5 96.8h0M119 58.7h0M82.1 98.6h0M83.6 48.3h0M67.8 110.9h0M150.2 87.8h0M112.2 58.3h0M66.8 103.5h0M115.3 40h0M54.8 77.4h0M116.4 113.4h0M142 67.8h0M104.6 134.6h0M72 111.3h0M110.9 88.2h0M95.2 94.3h0M75.2 109.1h0M130.7 84.2h0M70 132.8h0M138.3 120h0M143.3 71.2h0M64.1 78.8h0M52.9 77.5h0M148.2 82.7h0M52.9 82.3h0M110.3 72.5h0M171.8 134.9h0M179.5 67.1h0M161.8 70.7h0M52 46.8h0" stroke="#dc961a" stroke-width="3.0" stroke-linecap="round"/>
<path d="M88.1 48.5h0M101.6 65.5h0M71.2 49.1h0M69.5 69.5h0M55.9 61.3h0M116.6 37.3h0M83.6 80.6h0M116.5 99.4h0M71.2 136.6h0M102.5 34h0M62.8 47.6h0M94.6 92.3h0M99.4 128.2h0M114.1 68.2h0M67.6 73.6h0M108 99.5h0M141.4 123.2h0M63.9 111.1h0M61.4 102.5h0M59.4 111.6h0M133.8 129.5h0M70.8 43h0M89.4 78.7h0M155.9 102.9h0M88.4 70.1h0M93.6 109.8h0M132.6 112.2h0M61.1 115.9h0M92 41.1h0M56.5 79.3h0M67 134.3h0M123.3 110.4h0M97.4 56.1h0M102.5 60.9h0M63.8 61.6h0M91.8 55.5h0M67.9 106.9h0M92.7 83.3h0M63.3 106.5h0M62.2 72.4h0M64.1 41h0M96.6 80.6h0M59.1 131.3h0M106.6 42.4h0M104.2 47.3h0M64.4 75.2h0M109.1 85.1h0M75.2 55.1h0M110.6 79.7h0M103.3 53h0M71.2 100.8h0M122.9 38.6h0M157.8 112.6h0M104.5 119.8h0M130.3 120.1h0M107.3 37.1h0M133.8 113.9h0M136.5 100.4h0M59.1 67.1h0M87.6 76.5h0M74.4 116.9h0M90.1 94.4h0M150.4 84.4h0M116.9 75.9h0M126.3 78.4h0M81.9 78.2h0M57.8 122.9h0M94.3 82.4h0M134.9 81.3h0M91.5 63h0M158.2 127.3h0M69.1 129.8h0M112 71.4h0M67 130.8h0M68 100.4h0M71.3 138.7h0M80.5 34.9h0M101.1 52.1h0M140.6 107.1h0M90.9 102.9h0M123.8 113.5h0M85.5 81.9h0M88.4 116h0M111.9 90.1h0M148.8 78.2h0M138.9 63h0M104.3 113.8h0M60 133.3h0M81.4 50.1h0M69.8 36.2h0M52.6 92.1h0M98.2 101.7h0M57.2 63.3h0M64.8 103h0M116.9 41.5h0M131 109.3h0M107.8 88.2h0M132.5 83.2h0M114.7 50.6h0M114.2 52.5h0M53.5 99.8h0M95 36.2h0M68.1 44.7h0M147.3 86.5h0M104.5 127.6h0M138.9 72h0M130.7 46.3h0M70.2 47.1h0M79.5 44.8h0M70.9 108.1h0M114.6 32.3h0M129.2 87.1h0M104.1 57.2h0M120.3 110.3h0M128.3 110.8h0M57 102h0M62.7 39.5h0M124.7 49.7h0M64.8 83.3h0M109 126.5h0M80 63.8h0M83.1 110.7h0M98.7 104.4h0M93 64h0M140 105.3h0M159.5 33.9h0M132.5 40h0M157.1 30.3h0M184.4 89.3h0M149.6 66.6h0M51.1 133.8h0" stroke="#d41010" stroke-width="3.0" stroke-linecap="round"/>
<path d="M87 33L76 42L65 55L58 70L55.5 90L55 110L56 126L59.5 140L64 153" fill="none" stroke="#b8841a" stroke-width="3" stroke-opacity="0.92"/>
<path d="M125.5 31L129.5 41L133 53" fill="none" stroke="#b8841a" stroke-width="2" stroke-opacity="0.85"/>
<path d="M154 90L157 100L157.5 115L156.5 130" fill="none" stroke="#b8841a" stroke-width="2" stroke-opacity="0.8"/>
<path d="M84.2 36L108.4 122L104.2 123.2L113.7 134L116.2 119.8L112 121L87.8 35Z" fill="#fff"/>
<path d="M55.9 101.2L133.3 84L134.1 87.7L143.9 79.6L131.6 76.4L132.4 80.1L55.1 97.2Z" fill="#000"/>
<text x="157.2" y="145" text-anchor="middle" class="sb">2 nm</text>
<path d="M142 148.8H172.5" stroke="#000" stroke-width="2.6"/>
<path d="M402.5 133.9h0M249.6 33.8h0M382 109.4h0M353.9 59.7h0M343 94.4h0M338.8 42.4h0M313.2 69.6h0M362.9 139.4h0M401.4 87.1h0M315.6 55.1h0M246.1 27.2h0M319 60.9h0M304.6 127.4h0M329.4 89h0M280.1 26.8h0M295.3 39.9h0M326.7 139.8h0M354.7 45.1h0M391.9 116.4h0M364.8 129.2h0M369.7 115.6h0M300.1 137.8h0M403.5 42.7h0M368.2 107h0M318.4 85.5h0M323.3 131.3h0M325.1 120.5h0M300.2 126.4h0M392.9 77.5h0M336.5 130.8h0M363 80.4h0M277.7 61.7h0M358.9 43.3h0M394.3 55.1h0M394.9 59.9h0M402.8 105.9h0M325.7 84.1h0M350.7 92.2h0M293 48.1h0M327 132.4h0M346 32.7h0M379.5 108.2h0M394.3 46.2h0M366.6 30.8h0M351 55.7h0M278.5 125.6h0M258.1 84.6h0M385.2 52.4h0M275.8 126.1h0M311.9 107.2h0M245.4 66h0M269.2 102h0M254.1 134.7h0M244.3 108.6h0M243.6 53.7h0M378.3 42.2h0M271.2 104.2h0M305.5 29h0M408.3 41.6h0M246.2 63.9h0M344.6 110.1h0M259.2 63.1h0M245.2 76h0M370.2 109.8h0M393.3 111.7h0M386.6 105.8h0M320.4 50.2h0M257.3 75.9h0M388.7 38.8h0M339.4 69.6h0M327.5 40.7h0M403.2 54.1h0M343 72.7h0M243.1 88.7h0M263.9 30.6h0M245.7 42.7h0M256.3 97.7h0M398.8 139.4h0M279.5 75.6h0M282.6 92.6h0M346.1 116.8h0M360.6 53.8h0M311.9 85h0M240.8 28.1h0M309.5 36.9h0M363 51.9h0M257 45.1h0M279.4 49.2h0M328.5 77.9h0M292.7 98.4h0M276.1 129.2h0M403.7 108.6h0M313.7 83.3h0M338.8 29.9h0M270.8 34.9h0M376.5 66.5h0M328.3 130.9h0M343.8 57.6h0M407.2 67.2h0M243.2 103.5h0M257.2 59.5h0M382.9 102h0M242.7 76.4h0M309.8 80.4h0M275.4 92.3h0M252.5 57h0M303.4 132.5h0M253 111.6h0M272.7 90.3h0M306.6 77.7h0M368.1 69.8h0M260.7 38.1h0M253.7 122.6h0M349 135.3h0M357.8 26.9h0M352.1 114.2h0M300.8 77h0M375.8 55.2h0M402.3 117.3h0M398.4 121h0M290.4 50.9h0M323.1 54.1h0M312.7 102.8h0M396.2 92h0M379 35.1h0M300.5 139.7h0M264.9 72.3h0M392.2 138.7h0M350.2 38.9h0M354 103h0M259.1 86.7h0M401.5 111.7h0M256.3 83.9h0M359.5 70.9h0M409.2 114.8h0M337.5 40.8h0M315 27.4h0M341.2 126.3h0M270.7 83.2h0M322 71h0M360.8 132.7h0M359.9 78.8h0M403.5 62.4h0M366.8 100.4h0M369.5 122.8h0M278.2 96.1h0M308.5 101.4h0M406.1 97.6h0M361 126.5h0M350.5 118.7h0M242.9 133.4h0M364 94.3h0M393.9 126.6h0M257.1 118.6h0M370.4 47.1h0M366.5 92h0M272.6 117.3h0M263.4 95h0M313.8 53.4h0M336.2 78.2h0M274.8 136.1h0M252.4 24.4h0M322.5 121.1h0M351.9 111.5h0M322.5 102.3h0M296.9 55h0M325.5 27.2h0M269.5 111h0M373.3 70.9h0M354.7 115.3h0M386.9 39.6h0M267.6 68.3h0M319 58.2h0M404.4 66.5h0M331.5 68.4h0M315.3 125h0M322.2 86.5h0M395.5 32.9h0M380.1 59.3h0M349.9 116.3h0M351.1 69.6h0M382.9 34.8h0M347.7 69.4h0M330.2 122.7h0M375.6 96.9h0M292.4 51h0M317.8 50.9h0M287.2 135.1h0M259 119h0M304.5 66.3h0M294.1 33h0M317.8 43.3h0M315.1 57.9h0M392.1 130.9h0M315.1 98.2h0M398 61.8h0M256.9 51.6h0M272.2 102.7h0M375.2 51h0M377.5 97.4h0M308 119.5h0M298.2 125.9h0M397.4 82.3h0M357.3 134.1h0M366.2 111.1h0M387.8 132.5h0M368.1 137.6h0M289.6 96.2h0M354 66.6h0M307.2 44.3h0M402.8 65.1h0M321 127.7h0M271.7 135.4h0M261.6 27.3h0M299.6 65.7h0M396 126.5h0M369.5 74.6h0M332.3 51.5h0M381.7 69.2h0M288.4 98h0M265.6 60.7h0M397.5 35h0M264.2 47.7h0M282.7 72.8h0M282.5 63.8h0M281.9 51.9h0M343.8 63h0M303.4 113.1h0M250.5 40.7h0M384.6 73.9h0M372.4 39.4h0M297.5 113.1h0M343.8 69.8h0M409.5 69.5h0M320.5 95.9h0M293.9 121.2h0M341.6 92.2h0M331.6 138.3h0M408.1 121.5h0M317.3 71.8h0M329.2 29.4h0M258.4 139.4h0M261.8 132.7h0M355.6 130.2h0M253.1 59.5h0M375.6 25h0M258 64.7h0M269.4 41h0M353.9 34.7h0M405.2 99.3h0M248.5 128.3h0M281.1 79.8h0M335 40.1h0M325.4 31h0M273.9 130.6h0M379.7 84.7h0M355.9 125.6h0M263.8 81.1h0M262.4 37.5h0M258.4 48.6h0M249 49h0M304.5 96.2h0M386 128.9h0M362 82.8h0M395.9 42.9h0M346.6 48.4h0M304.1 58.5h0M313.2 73.6h0M307.7 116.5h0M378 89.2h0M320.4 57h0M370.1 138.5h0M278.9 105.6h0M358.8 100.4h0M245.2 88h0M274.3 46.5h0M338.6 98.8h0M248.1 113.6h0M379.9 120.9h0M341.7 28.4h0M273.3 36.6h0M348.1 87.1h0M406.3 128.3h0M275.5 119.6h0M359.2 56.2h0M393.4 90h0M310.2 72.2h0M362.5 76.8h0M352.1 38.2h0M394.8 48.9h0M296.6 86.4h0M306.7 85h0M397 47.3h0M371.3 104.4h0M373.7 75.9h0M317.3 64.1h0M320.5 53.5h0M272.4 79.2h0M337.5 59.9h0M269 94.2h0M386.2 49.8h0M344.7 100.4h0M390.4 103.1h0M382.3 58.7h0M242.1 125h0M273.6 60.3h0M294.2 53.7h0M363.1 63.8h0M314.9 72.6h0M381.7 26.1h0M338.6 39.3h0M265.6 94.4h0M303.9 31.5h0M340 130.1h0M349.7 81.5h0M376.1 130.2h0M265.7 58.7h0M404 131.4h0M274.5 105.6h0M388.6 92.6h0M359.4 84.8h0M250.5 101.2h0M306.5 74.6h0M405 69.4h0M320.7 68.1h0M276.6 50h0M330.5 118.8h0M354.7 30.2h0M327.5 35.7h0M373 91.4h0M359.8 109.2h0M277.6 26.9h0M321.4 39h0M331.4 95.4h0M349.9 133.3h0M257.4 88.7h0M254.7 101.7h0M314.4 40.3h0M292.8 100.6h0M320.4 133.6h0M300.4 63.4h0M396.8 94.3h0M258.2 115h0M301.8 133.9h0M348.1 117.4h0M392.3 83.1h0M404.4 27h0M297.9 121.2h0M241.4 102h0M409.9 107h0M386.6 32.9h0M374.4 42.9h0M247.6 92.8h0M404.3 119.9h0M393.7 28.7h0M281.9 115.4h0M392.1 70.7h0M394.6 36.9h0M341.5 31.8h0M279.7 46h0M241.1 71h0M325 56.6h0M350.8 30.1h0M328 85.2h0M308.5 130.1h0M261.5 73.5h0M318.2 67.2h0M405.5 90.3h0M327.8 75h0M314.4 134.3h0M375.9 99.1h0M267.6 93h0M261.7 64.7h0M243.9 105.8h0M336.9 53h0M315.2 77.9h0M311.9 55.3h0M277.3 111.1h0M401.9 119.3h0M345.7 27.2h0M291.4 121.4h0M405.4 87.6h0M336.7 103.6h0M282 106.6h0M302.1 122.3h0M318.5 101h0M334.5 86h0M318.3 134.5h0M368.3 72.7h0M325.9 128.2h0M403 37.6h0M341.7 96.4h0M344.8 112.8h0M358.3 66.1h0M375.7 64.5h0M265 101.1h0M350.4 71.4h0M324.8 138.6h0M377.4 71.2h0M308.8 99h0M373.2 128h0M308.1 28.7h0M317.3 37.3h0M400.2 66h0M342.9 109h0M270.4 120.7h0M342 70.7h0M396.2 75.6h0M256.1 26.1h0M245.2 81.2h0M361.4 29.9h0M296.1 79.5h0M392.6 136.6h0M388.8 98.1h0M337.8 49.9h0M344.1 43.2h0M336.6 108.2h0M325.6 90.5h0M281.1 122.1h0M406.8 45h0M281.2 118.1h0M362.7 50.1h0M339.6 51.6h0M386.7 92.1h0M326.8 42.7h0M301.5 44.9h0M344.6 115.8h0M359.6 24.2h0M254.3 114.3h0M291.8 90.2h0M402.9 44.4h0M376.8 126h0M322.2 32.7h0M377.3 85.1h0M375.8 57.2h0M244.6 127.3h0M275.4 72.4h0M261.4 92.1h0M318.9 47h0M349.7 122.6h0M266.4 131h0M244.9 37.8h0M325.8 130.9h0M405.7 134.5h0M344.4 64.8h0M273.3 88.2h0M243.5 26h0M348.6 107.4h0M386.4 111.4h0M263.3 109.6h0M406.8 102.5h0M321.7 58.2h0M250.8 96.5h0M379.5 128.1h0M299.9 122.1h0M336.3 126h0M331.1 34.4h0M398.1 90.3h0M372.4 50.7h0M296.9 34.5h0M271.7 74.7h0M381.7 62.8h0M397.3 99.8h0M298.6 45.4h0M402.5 100.2h0M247.3 103.4h0M304.3 72.8h0M370.1 49.9h0M285.6 86.7h0M393.8 34h0M381.8 107.6h0M345.6 106.3h0M331.3 60.4h0M325.4 51.6h0M298.5 69.7h0M335.8 110.6h0M284 88.3h0M297.4 50.3h0M263.8 135.3h0M312.5 24.9h0M381.8 46h0M240.3 116.2h0M304.6 60.4h0M266.3 55.1h0M285.3 53.8h0M279.6 84h0M378.3 59.8h0M383.2 112.9h0M338 85.1h0M318.2 34.4h0M382.5 82.2h0M319.9 98.1h0M266.8 49.4h0M407.2 74.3h0M267.6 32.2h0M378.4 40.4h0M327.6 109.5h0M355.5 49.5h0M373.8 28.9h0M335.5 128.1h0M332.9 59.1h0M380.1 82.2h0M283.4 56.3h0M284.5 27h0M373.1 46.6h0M295.1 57.9h0M248.1 66.6h0M405.6 75.6h0M248.1 61.2h0M311 50.2h0M305.1 103.1h0M262.9 104.5h0M290.4 100.2h0M269.5 115.6h0M311.3 120.6h0M243.6 66.5h0M369 79.2h0M399.9 129.2h0M344.2 92.4h0M257.5 24.8h0M274.9 107.6h0M390.8 27.5h0M243.1 92h0M398 128.3h0M258.1 101h0M354.1 100.3h0M390.7 128.8h0M361.8 87.1h0M245.6 56.1h0M276.7 101.5h0M393.3 24.1h0M402.5 91.6h0M274.9 39.3h0M373.9 52.9h0M257.9 81.1h0M271.8 48.8h0M288.2 33.8h0M351.1 57.9h0M371.8 135.5h0M409.9 28.9h0M292.8 34.4h0M320.7 100.3h0M403.8 96.4h0M409.4 73.4h0M349.6 35.5h0M331.1 99h0M262.5 77.5h0M343.2 79.7h0M265.7 46.1h0M303.7 99.6h0M313.6 47.3h0M297.4 59.8h0M263.4 92.3h0M240.3 130h0M247.7 37.4h0M289.9 115.6h0M399.2 112.1h0M275.1 121.4h0M366.4 44.1h0M394.8 130.6h0M380.8 33.4h0M331.3 55.1h0M371.4 117.6h0M370.8 59h0M365.2 34h0M355.7 27.5h0M241 36.1h0M351 138.1h0M339.7 121.6h0M296.4 32.3h0M391.8 56.4h0M268.6 46.5h0M384.8 139.2h0M286.4 96.3h0M388.4 67.7h0M385.6 75.4h0M322.7 100.1h0M294.3 118.3h0M318.1 73.8h0M363.4 101.3h0M329.7 70.8h0M260.2 57.4h0M367.5 126.6h0M407.7 111.5h0M389.6 119.8h0M268 104.1h0M287 105.2h0M263.1 98.3h0M380.2 129.9h0M283.2 112.7h0M299.2 33.7h0M313.6 88h0M384.7 35.9h0M288.9 24.5h0M275.5 54.9h0M379.4 132.9h0M276.6 79.9h0M329 80.9h0M246.5 71.3h0M381.2 43.8h0M264.7 87.3h0M261.1 45.7h0M296.8 114.8h0M406 93h0M249.2 117.7h0M272.5 31.1h0M371.4 80.4h0M342.8 105.8h0M341 72.3h0M294.7 85.5h0M281.8 54.4h0M377.8 63.7h0M319.1 115.1h0M296.2 24.4h0M384.2 110.9h0M344.1 125.2h0M287.8 112h0M243 42.8h0M349.7 49.1h0M401.2 34.7h0M392.1 65.1h0M396.4 63.3h0M290.9 133h0M379.9 53.7h0M371.4 54.6h0M336.2 84.2h0M340 88.4h0M307.2 139.3h0M306.9 112.9h0M356 33.4h0M310.3 76.4h0M383.7 55h0M395.8 118.4h0M243.4 81.7h0M330.6 97.2h0M390.9 47.4h0M381.6 54.4h0M244.5 118.3h0M282.1 101.1h0M303.8 55.4h0M285 124.5h0M271.3 115h0M358.3 127h0M339.7 26.5h0M257.4 71.8h0M260.1 60h0M286.7 138.1h0M404 102.1h0M252 76.5h0M360.1 118.5h0M395.5 73.5h0M280.3 127.2h0M396.3 97.6h0M298.2 117.5h0M400.2 32.8h0M291.3 80.4h0M371.6 63.3h0M399.9 76.9h0M244.8 72.9h0M330.1 45.2h0M328.4 57h0M262.6 56h0M349 103.2h0M355.9 84.7h0M385.1 135.6h0M339.2 74.1h0M332 116.9h0M292.5 93.8h0M280.1 91h0M242.5 85.9h0M322.5 125.2h0M274 25.4h0M334 63.9h0M307.2 93.5h0M295 91.6h0M347.1 103.5h0M339.3 78h0M377.6 26.3h0M253.3 30h0M285.5 35.2h0M358.4 47.3h0M263.4 88.9h0M302.3 108.1h0M276.7 104.1h0M300.9 56.5h0M325.7 87.1h0M332.7 62.1h0M281.4 120.1h0M281.3 71.5h0M292.7 24.4h0M325.1 96.8h0M409.9 135.3h0M296.4 135.7h0M257.7 41.3h0M330.1 103.2h0M319.1 104.8h0M374 100.9h0M406.2 109.8h0M340.9 111.3h0M373.9 72.8h0" stroke="#e2e2e2" stroke-width="0.9" stroke-linecap="round"/>
<path d="M247.4 49.8L264.8 40.9L289.6 34.6L321.9 30.4L359.1 33.6L379 37.4L393.8 49.8L402.5 64.7L403.8 94.4L403.8 126.7L399.6 128.5L372.3 133.4L348.2 134.2L327.3 132.6L300 129.3L289.6 126.7L267.3 119.3L257.4 99.4L247.4 74.6Z" fill="#1ab8cc"/>
<path d="M319.1 47.8h0M286.7 92.2h0M357 109.6h0M323.4 62.4h0M276.3 113.2h0M288.1 68.8h0M296.6 65.7h0M302 105.7h0M317 58.7h0M349.2 94.7h0M298 115.2h0M264.2 50.8h0M364.5 91.1h0M354.8 49.3h0M358.5 126.7h0M256 69h0M341.8 63.8h0M317.2 126h0M264.8 78.6h0M357 87.2h0M311 34.7h0M391.9 69.1h0M336 70.4h0M326 79h0M285.3 103.2h0M277 79.5h0M264.5 86h0M324.5 42.8h0M304 120.4h0M305 35.3h0M267.5 42.5h0M335 114.2h0M341.1 123.6h0M354.6 96.4h0M282.6 85.8h0M370.8 36.5h0M293.6 38.2h0M327.1 115.9h0M297 86h0M356.5 96.7h0M273 48.1h0M344.9 99h0M298.1 51.1h0M285 67.4h0M343.9 33.8h0M358.4 40.5h0M250.8 81.5h0M281 78.9h0M272.8 73.1h0M279.6 106.7h0M295.6 58.4h0M317.1 73.8h0M401.2 84.1h0M393.6 93.5h0M313.3 123h0M339.3 118h0M259.5 89.9h0M327.7 73h0M331.5 70.7h0M370.6 72.1h0M259.9 86h0M396.3 96.8h0M320.4 46.9h0M315.9 59.4h0M309.7 69.6h0M304.3 70.3h0M362 37.4h0M379.4 119.9h0M319.2 113.5h0M302.8 54.8h0M312.2 54.8h0M359.3 111.4h0M298.1 101.7h0M311.5 117.8h0M358.6 63.5h0M349.7 46.9h0M324.4 73.5h0M389.4 97.4h0M328.3 110.5h0M273.2 64.8h0M346.8 46.1h0M364.9 61.8h0M329.4 113.4h0M370.6 60h0M299.4 42.8h0M334.1 128.8h0M379.8 122h0M368.1 86.3h0M385.2 120.4h0M392.7 119.9h0M297.1 42.8h0M384.3 91h0M327.9 86.3h0M288.9 88.8h0M275.6 69.8h0M362.1 52.8h0M390.5 72h0M252.4 86.6h0M320.8 33.4h0M348.4 28.8h0M245.7 121.3h0" stroke="#dc961a" stroke-width="1.8" stroke-linecap="round"/>
<path d="M375.4 48.3h0M366.2 55.4h0M375.5 95.5h0M325.7 104.5h0M396.4 94.1h0M385.4 108.8h0M303.8 105h0M260.5 79.5h0M402.3 112.1h0M333 125h0M370.8 113h0M361.4 100.1h0M386.2 116.5h0M318.1 114h0M351.5 42.5h0M371.7 88.6h0M401.2 94.6h0M371.6 71.7h0M362.2 106h0M396.2 61.3h0M291.8 85.7h0M329.1 46.9h0M287.9 36.7h0M305.3 84.7h0M334.2 42h0M394.3 67.1h0M390.2 106h0M373.8 114.4h0M291.7 106.2h0M321.4 54.6h0M257.1 88.2h0M360.3 120.5h0M307.8 77.6h0M387.2 59h0M273.9 66.3h0M355.9 128.5h0M287 64h0M342.8 115.7h0M324.8 109.2h0M274 60.8h0M342.3 44.4h0M286.5 113.2h0M349.8 130.5h0M370.1 87.5h0M328.4 37.5h0M352.8 115.6h0M393.6 64.9h0M287.5 73.4h0M340.6 105.5h0M398.1 108.6h0M377 96.8h0M402.4 121.4h0M273.8 94h0M278.6 41.1h0M347.2 98.6h0M376.4 81.5h0M304.9 107.8h0M284.2 55.7h0M366.7 78.8h0M369.5 126.5h0M385.2 88h0M257.7 98.2h0M253.7 88.2h0M283.1 96.1h0M370.2 58.7h0M293.6 89.8h0M374.2 96.4h0M308.2 84.2h0M328.1 38.5h0M299.6 103.7h0M295.4 81.7h0M267.4 93.7h0M382.1 86.9h0M297.9 78.5h0M322.8 75.3h0M278 75.6h0M322 37h0M257.1 90h0M325.3 127.6h0M314 72.3h0M377.5 84.5h0M310.6 127.6h0M398.5 79.7h0M328.9 126.2h0M343.7 66.8h0M265.4 115h0M355.8 39.8h0M344 89.9h0M362.1 116.1h0M331 60.1h0M396.1 89.1h0M282.4 73.4h0M273.6 84.3h0M263.5 94.1h0M309.9 77.6h0M401.7 99.1h0M338.7 60.6h0M336.5 57.6h0M278.8 54.7h0M335.9 113.2h0M332.9 123.7h0M337.3 76.8h0M370.3 97h0M248.5 64.7h0M282.3 66.3h0M289.6 62.9h0M371 40.8h0M372 105.6h0M357.8 113.4h0M276.1 58.4h0M402.4 88.3h0M345.2 83.2h0M301 55.6h0M264.7 107.3h0M274.4 90.9h0M335.9 67.2h0M328.1 105h0M286.7 83.9h0M388.7 63.2h0M353.3 60.9h0M306.6 114.6h0M292.1 42.6h0M400 96.9h0M312.4 41.2h0M347.3 103.7h0M302 72h0M381.6 130.4h0M305.2 128.7h0M344.7 58.3h0M307.3 109.6h0M373.3 116.8h0M261.3 90.8h0M321.8 90.8h0M294.1 47.3h0M283.4 41.5h0M305 82.7h0M362.4 118.8h0M302.5 44.4h0M282.3 98.1h0M282.5 52.8h0M295.4 52.6h0M360.4 91.6h0M339.4 115.9h0M268.8 83.5h0M277.5 61.7h0M333.9 97.3h0M279.4 120.9h0M348 88.1h0M293.1 59.1h0M381.5 97.2h0M290.6 97.3h0M288.5 117.4h0M315.1 71.6h0M341.5 93h0M252.6 63.1h0M262.3 79.1h0M313.7 114.7h0M315 53h0M301 79.5h0M260.1 51.8h0M332 78.9h0M399.5 61.6h0M297.7 57.2h0M336.1 94h0M387.3 52h0M325.5 92.6h0M349.8 49.2h0M303.3 48.2h0M334.6 79.2h0M262.4 57.5h0M275.4 84.8h0M280 78.1h0M328.7 59.6h0M340.2 35h0M321 47.8h0M356.2 69h0M396.9 76.5h0M383.4 61.7h0M344.3 94.4h0M384 50.8h0M317.9 82.7h0M284.9 49.3h0M349 70.8h0M347.9 76.7h0M330.2 71.5h0M302 125.7h0M363 129.6h0M315.7 44.8h0M328.1 119.3h0M312.1 59.7h0M261.6 31h0M294.6 26.2h0M246.9 29.9h0M275.6 33.6h0M318.2 24.6h0M388.7 28.1h0M262.6 135.4h0M251.4 105.1h0M255.4 118.6h0M243.1 62.8h0M243.9 75.9h0M246.5 79.6h0M243.1 107.4h0" stroke="#1ab8cc" stroke-width="1.8" stroke-linecap="round"/>
<path d="M363.3 125.3h0M251.1 73.3h0M253.6 55.2h0M284.9 101.8h0M340.3 109h0M317.4 62.5h0M303.3 95.6h0M295.2 123.4h0M332.7 46.8h0M287.1 81.8h0M333 106.3h0M323.1 106.1h0M310.7 93.6h0M358.5 74h0M403 101.5h0M386.2 93.1h0M318.8 88.2h0M367.5 70.6h0M338.2 97.3h0M289.7 50.5h0M375.8 66.7h0M267.5 85.6h0M364.5 105.6h0M273.4 76.6h0M352.3 93.4h0M284.3 75.3h0M349.6 45.7h0M329.1 116.8h0M308.9 49.1h0M343 101.1h0M305.9 86h0M398.3 113.5h0M271.4 84.8h0M334.7 65h0M289.3 118.2h0M353.8 63.4h0M286.2 42.3h0M345.5 55.1h0M315 106.6h0M399.2 78.2h0M338.1 79.9h0M298 65.9h0M311.4 56.5h0M301.3 118h0M307.3 126.9h0M281.3 87.5h0M265.6 44.7h0M350.8 40h0M265.4 46.9h0M394.2 96.3h0M383.4 118h0M314 129.3h0M312.3 53h0M375.5 94.3h0M344.2 123.4h0M296.1 79.5h0M328 83.4h0M257.5 75.3h0M402.3 74h0M400 84.4h0M401.5 63.7h0M385.9 89.7h0M263.2 47.1h0M305.1 125.6h0M399.9 65.7h0M256.6 91.2h0M371 55h0M382.4 116h0M321.8 83.1h0M272.1 110.4h0M268.6 104h0M357.7 95.4h0M361 38.5h0M336.7 62.4h0M330.9 37.6h0M380.5 108.5h0M313.3 35.5h0M315.3 115.1h0M360.6 60.9h0M384.5 64.7h0M345.5 112.5h0M296.4 34.4h0M360.6 104.5h0M258 68.8h0M330.6 104.1h0M323.6 59h0M374.5 67.6h0M376.2 106.7h0M358.2 34.8h0M390 62.2h0M330.2 101.9h0M343.6 38.5h0M398.2 102.6h0M310.2 51.7h0M349.5 52.4h0M372.6 107.3h0M289.8 59.5h0M267.1 57.9h0M265.7 103.6h0M373 37h0M341 118.4h0M329.9 94.9h0M337.1 42.5h0M357.8 48.3h0M392.7 94.9h0M399.8 72.5h0M399.2 92.7h0M283.5 53.3h0M304.2 49.4h0M350.4 87.6h0M262.1 68.9h0M343.3 92.1h0M365.7 43.7h0M328.8 90.4h0M356.5 118.6h0M336.2 45.4h0M311.6 82h0M402.5 113.8h0M371.2 64.1h0M258 80.4h0M335.1 116.6h0M327.4 56.8h0M323.4 45.1h0M376.5 83.4h0M373 121.3h0M390.2 122.4h0M354.5 42.7h0M279.8 103.3h0M252.4 72h0M269.9 40.9h0M319 72.1h0M268.3 117.5h0M371.3 126.6h0M343.1 68.3h0M352.9 110.5h0M255.4 71.4h0M326.6 53.8h0M267.8 51.9h0M299.2 75.9h0M381 81h0M361 107.2h0M296.1 83.5h0M333.6 108.2h0M389.4 67.8h0M250.2 64.9h0M361.1 87.9h0M319 64.1h0M264.7 77.5h0M359.3 80.4h0M389.7 80.1h0M315.3 105.4h0M295.2 55.3h0M402.8 98.9h0M378.8 65h0M325.5 46.7h0M387.8 125.8h0M262.5 71.3h0M396.8 56.9h0M319.1 85h0M360 78.1h0M346.8 114.3h0M369.7 43.6h0M308.1 45.3h0M365.2 125.1h0M402 65.1h0M275.4 59.7h0M387.1 72.1h0M310.7 99.1h0M283.4 121.2h0M384.9 55.4h0M323.9 76.2h0M307.2 95.1h0M398 64.6h0M349.1 34.9h0M377.8 104.3h0M341.9 111.9h0M373.9 78.9h0M351.6 62.1h0M383.3 112.1h0M297.9 60.8h0M365.3 133.2h0M390.1 88h0M356.1 106h0M289.1 84.1h0M305.3 50.3h0M358.7 108.9h0M327.7 95h0M383.9 103.3h0M316.9 83.9h0M375.9 89.1h0M397.7 78.4h0M357.5 37.8h0M391.4 52h0M326.7 51.7h0M400.2 102.5h0M371.6 75.9h0M341.1 110.5h0M267 78.8h0M310.7 120.8h0M400.6 115.7h0M344 86.8h0M347.9 100.7h0M363.5 69.6h0M254.3 68.6h0M274.9 92.6h0M346.4 42.7h0M274.1 88.4h0M255.6 64.8h0M346.5 40.5h0M321.5 118.1h0M369.8 92.1h0M372.6 63.2h0M310.8 52.5h0M378.8 75h0M299 67.9h0M358.5 124.6h0M255.8 83.2h0M292.6 65.8h0M284.3 44.8h0M363.4 67.6h0M353.7 95.7h0M370.2 46.9h0M364.7 78.8h0M392.8 109.4h0M318.9 106.8h0M388.9 61.6h0M316 99.7h0M321.6 39.4h0M274.8 68.3h0M291 120.9h0M302.1 48.3h0M290.8 75.7h0M332.6 42.7h0M323.5 129.8h0M333.3 35.2h0M301.1 91h0M388.9 118.7h0M260.3 46.1h0M291.1 80h0M297.6 120.5h0M358.8 79.4h0M355.3 130.2h0M352.6 131.7h0M361.2 79.4h0M380.3 103.1h0M299.6 90.4h0M289.8 87.8h0M285.6 37.1h0M312.5 92.2h0M280.6 48.2h0M288.3 72.3h0M372.2 52.6h0M286.5 60h0M369.2 113.6h0M297.1 96h0M376.3 109.9h0M325.2 83.9h0M293.4 108.8h0M368.2 78.7h0M283.7 93.3h0M322 120.4h0M278 95.3h0M327.3 103.7h0M269.3 81.2h0M387.8 53.6h0M378.7 70.6h0M308.5 53.3h0M394.2 58.6h0M376.8 103.9h0M362.9 93.9h0M299 124.9h0M348.5 99.3h0M317.6 34.2h0M323.4 109.2h0M328 66.5h0M324.8 35.2h0M338.8 56.1h0M291.7 77.6h0M342.9 73.5h0M325.1 66.5h0M327 64.5h0M263.7 58.1h0M312.4 105.8h0M367 58.4h0M303.3 43.5h0M313.6 78.7h0M252.2 58h0M329.5 111.3h0M333.3 39.2h0M296.7 78.6h0M331.9 69.2h0M380.1 92.4h0M304.3 123.2h0M306.4 58.8h0M299.9 114.2h0M360.1 45.7h0M342.6 108.6h0M345.5 96.4h0M336.6 33.7h0M280.7 82.7h0M339.4 52h0M313.1 100.5h0M287.5 120.5h0M319.2 37.8h0M294.4 57.2h0M301.3 104.7h0M392.9 88.5h0M296.5 107.4h0M292.9 61.1h0M315.5 76.1h0M332 106.8h0M351.1 100.1h0M331.8 103.5h0M365.1 59.2h0M335.2 43.4h0M277.3 100.8h0M358.9 43.9h0M290.8 70.4h0M304.2 94.5h0M275.2 61.2h0M287.6 112.1h0M248.8 76.8h0M331.7 50.4h0M378.3 120.8h0M391.2 60.9h0M353.1 64.5h0M297.1 39.1h0M381.5 120.3h0M276.8 75h0M288.4 52.8h0M293.1 105.4h0M317.3 71.6h0M311.1 119.5h0M390 98.6h0M322.9 56.7h0M361.3 63.8h0M276.9 95.6h0M392.5 93h0M342.4 80h0M359.6 62.3h0M305.4 95.2h0M295.5 65.2h0M295.8 89.4h0M324.2 86.7h0M284.1 102.5h0M301.4 61.1h0M311.5 66.2h0M391.1 54.6h0M379.2 63.3h0M348.5 114.4h0M285.8 82.5h0M346.7 97.5h0M340.4 93.4h0M319.1 39.1h0M332.3 71.7h0M258.5 54.9h0M381.3 54h0M341.5 97.6h0M320.4 128.4h0M347 83.3h0M355.1 57.4h0M270 49.5h0M308.3 64.5h0M360.2 129h0M381.2 117.2h0M341.5 100.1h0M384.4 110.7h0M357.5 77.2h0M366.1 99.8h0M275.5 43.2h0M349.4 102.2h0M392.5 124.2h0M270.7 42.5h0M274.4 101.3h0M286.1 75.9h0M373.4 38.2h0M340.7 38.3h0M281.1 65.3h0M294 122.1h0M254.8 88.3h0M402.3 79.8h0M328.2 49.2h0M272.3 54.1h0M270.4 98.1h0M248.4 53.7h0M341.9 106.8h0M367.8 72.5h0M293.3 97.3h0M363 121.4h0M350.7 113.6h0M291.2 65.7h0M354.1 66.8h0M299.6 64.9h0M265.8 112.4h0M335.8 126.7h0M351.4 120.7h0M381.9 60.3h0M292.9 92.3h0M369.9 79.3h0M323.1 42.9h0M381.8 73.3h0M358.8 103.2h0M315 70.4h0M370.3 122.6h0M364.5 40.5h0M365.3 109.5h0M391.5 87.7h0M312 114.6h0M344.3 106.4h0M359.9 59h0M295.2 48.2h0M300.6 86.1h0M395.1 119.1h0M269.5 95.1h0M330.8 48.8h0M338 57.4h0M355.2 77.5h0M381.7 41.2h0M391.5 126h0M279.1 67.8h0M395.4 116h0M371.4 125.3h0M274.2 120.1h0M362.5 71.4h0M263.7 85h0M347.9 64.9h0M306.9 60h0M268.8 114.3h0M332.7 36.3h0M347.6 123.2h0M379.3 37.8h0M358.5 59.3h0M302.4 34.7h0M351.9 85.6h0M389.8 104.6h0M325.9 99.4h0M309.3 57.8h0M375.6 97.6h0M345.9 121.9h0M389 120h0M373.4 127.2h0M341 88.6h0M331.9 60.9h0M356.3 44.1h0M380.4 71.5h0M341 42h0M301.2 103.1h0M355.8 101.5h0M311.1 100.3h0M313.9 104.8h0M320.1 103.5h0M283.3 59.1h0M384.9 49.3h0M346.7 129h0M315.8 35.3h0M281.2 94.7h0M303.5 40.1h0M387.8 87.3h0M345.9 52.2h0M298.5 91h0M396.6 109.4h0M323.3 49.4h0M353.5 37.8h0M367.3 53.4h0M354.4 133.3h0M348.6 118.6h0M367 41.1h0M253.4 85h0M299.4 83.1h0M377.3 87.7h0M265.4 105.8h0M286.6 72.1h0M355.5 75.1h0M344.5 65h0M365.8 39.7h0M331.9 52.7h0M367.1 35.1h0M335.9 124.5h0M334.4 92.1h0M359.3 60.6h0M304.1 114.9h0M368.8 41.8h0M258.6 52.9h0M320.7 35.6h0M390.6 47.4h0M401.1 92.1h0M321.6 58.9h0M271.5 111.2h0M371.3 120.7h0M378 125.8h0M315.4 97.4h0M370.7 91h0M268.4 69.3h0M284.7 100.7h0M307.3 97h0M384.9 54.3h0M365.8 88.6h0M347.7 129.5h0M299 104.8h0M338.9 78.9h0M355.2 44.6h0M278.6 114.9h0M314.9 131h0M351.8 74.3h0M327.4 43h0M362.7 77.9h0M334.9 90.9h0M336.4 91.6h0M382.2 62.2h0M298.2 86.9h0M342.2 59.2h0M325.1 97.8h0M257.6 47.7h0M285.8 111.9h0M386 65.7h0M269.7 111.2h0M303.9 46.4h0M368.7 39.4h0M354.8 37.2h0M376.6 115.2h0M294.8 42.1h0M355.1 87h0M345.3 123.7h0M383 49.2h0M365.3 113.2h0M309 93h0M341.1 102.9h0M322.9 31.2h0M264.3 105.8h0M377.6 38.1h0M367.3 131.2h0M294.9 125h0M385.7 95.6h0M353 112.9h0M249.6 61.2h0M363 58.6h0M306.2 64.8h0M303 123.3h0M320.5 38.1h0M306.1 37.3h0M368.7 117.2h0M271.5 112.5h0M255.6 72.9h0M364.4 54.7h0M288.5 42.3h0M363.9 71.1h0M339.2 48.8h0M282.4 76.1h0M399.2 71.5h0M389.7 129.4h0M350.8 66.5h0M351.1 129.1h0M345.7 59.9h0M274.5 105.4h0M388.9 87.8h0M386.8 86.1h0M286.4 31h0M259.3 114.2h0M243.6 70.5h0" stroke="#d41010" stroke-width="1.8" stroke-linecap="round"/>
<path d="M252.3 66.7h0M289.6 121.7h0M376.5 119.4h0M367.1 105.8h0M356.6 125.2h0M356 132.1h0M355.9 62.7h0M257.1 64.9h0M341.7 32.9h0M251.6 63.8h0M326.9 71.2h0M361.5 120.7h0M296.1 119.7h0M351.7 92h0M380.8 86.4h0M388.5 72.9h0M272.9 83h0" stroke="#3fe03f" stroke-width="1.8" stroke-linecap="round"/>
<path d="M328.8 33.8h0M360.3 102.6h0M317.8 81.2h0M367.8 77.4h0M270.8 90.5h0M331.8 36.9h0M312.5 128.3h0M279.7 113.7h0M311.9 63.1h0M277.4 90h0M330.6 122.7h0M347 53.9h0M277.6 51.3h0M291.6 108.5h0M319.3 96.8h0M326.8 100.4h0M258.9 54h0M374.4 94.8h0M312.8 120.8h0M357.4 86h0M345 46.3h0M322.7 68.9h0M329.8 56.7h0M337 95h0M320.7 108.1h0M280.8 54.8h0M350.4 74.6h0M270.8 44.7h0M292.8 50.4h0M310 33.9h0M322.7 85.8h0M346.9 99.7h0M297.7 106.1h0M303.2 73.4h0M382.6 94.2h0M351.7 51h0M274.9 78.5h0M322.9 38.4h0M308.9 106.3h0M346 95h0M312.6 95.7h0M300.5 43.4h0M269.2 108.3h0M281.4 71.1h0M329.2 106.2h0M341.3 76.5h0M391.8 81.7h0M258.2 84.9h0M264 76.2h0M266.4 52.9h0M278.8 111.5h0M262.1 65.6h0M356.7 63.6h0M329.2 57.6h0M379.5 78.4h0M300.7 72h0M303.1 92.3h0M309.4 66h0M298.6 120.8h0M298.4 83.7h0M393.4 51.6h0M310.8 122.5h0M403.3 126h0M313.7 90.1h0M384 95.6h0M281.5 121.7h0M300.2 105.5h0M334.1 89.4h0M314 70.9h0M302 97.1h0M366.2 77.3h0M337.9 75.6h0M402.7 122.8h0M369.2 94.8h0M284.5 121.4h0M291.5 83.8h0M293.7 37.1h0M360.9 50.7h0M310.6 81h0M309 56h0M284.7 117h0M288.7 125.2h0M353.9 114.1h0M351.9 76.8h0M293.5 126.7h0M340.5 79.6h0M346.5 125.2h0M326.7 47.6h0M356.8 83.8h0M377.3 45h0M394.3 125h0M380.4 89.1h0M399.5 120.9h0M339.1 110.6h0M274.6 70.2h0M364.5 124h0M389.5 78.6h0M269.4 51h0M392 108h0M341.3 125.7h0M324.7 59h0M259.8 76.5h0M399.5 89.6h0M342.6 34.9h0M345.4 114.5h0M326.1 43.2h0M331.9 118.6h0M362.2 66.2h0M325.1 75.1h0M354.3 90.8h0M282.7 72h0M314.4 67h0M387.8 113.6h0M350.2 95.8h0M314 48.8h0M375.9 101.4h0M256.5 47.9h0M307.4 111.1h0M260.8 53.3h0M291.9 60.4h0M360.6 125h0M262.2 85h0M338.6 86.3h0M380.8 50.8h0M314.2 88h0M365.7 80.9h0M373.1 75.6h0M352.1 83.4h0M277.9 77.4h0M355.7 100.1h0M354.8 83.4h0M325.5 106.4h0M350.9 49.2h0M274.8 85.7h0M369.5 123.5h0M341.1 133.4h0M376.9 42.4h0M343.8 57.7h0M345.5 48.2h0M368.8 119.4h0M347.1 127.9h0M323.3 95.2h0M325.3 124.1h0M301.8 94.8h0M397.9 88.9h0M258.7 70.4h0M342.3 36.4h0M271.3 63h0M260.3 77.9h0M315.5 87.4h0M295.5 92.9h0M289 46.9h0M387.8 122.3h0M318.2 43.9h0M331.4 131.1h0M332.1 74.1h0M333.2 111.9h0M380.1 93.7h0M326.6 128.3h0M292.2 94.7h0M337.2 41.4h0M289 97.5h0M366.2 87.2h0M273.2 40.5h0M381.8 112.5h0M361.5 95.1h0M371.1 84.9h0M337.4 102.9h0M312.2 64.2h0M248 66.9h0M287.7 116.7h0M255.9 55.4h0M377.4 59.7h0M280.7 80.4h0M280.8 51.1h0M363.7 119.2h0M371.5 119h0M284 98.5h0M318 61.6h0M359.2 101.8h0M264.1 68.3h0M378.7 48.9h0M274.9 53.4h0M365.8 102.1h0M270.7 87.3h0M329.5 78.9h0M279.3 104.2h0M343.5 54.4h0M392.3 128.1h0M317.9 57.9h0M400.8 33.8h0M251.3 43.1h0M292.3 31.7h0M397.1 37.5h0M261.9 36.4h0M377.8 32.5h0M250.7 117.4h0M245.8 93.6h0M255.5 125.4h0M261.1 129.9h0M254 130h0M257.4 109h0M248 83.8h0" stroke="#1ab8cc" stroke-width="1.8" stroke-linecap="round"/>
<path d="M395.9 65h0M325 55.8h0M298.2 77.2h0M382.6 105.1h0M398.3 128.6h0M280 79.2h0M281.1 39.7h0M387.1 83h0M327.9 54.5h0M384.9 129.4h0M336.7 131.4h0M252.9 83.6h0M266.6 41.2h0M275.4 80h0M394.2 127.9h0M391.9 100.7h0M271.4 85.9h0" stroke="#3fe03f" stroke-width="1.8" stroke-linecap="round"/>
<path d="M368.5 49.7h0M293.7 112.9h0M277.7 110.3h0M288.9 51.7h0M263.8 73.3h0M379.3 55.2h0M268.2 80.3h0M281.4 81.4h0M382 48.3h0M319.1 120h0M307.6 79h0M259.8 82.2h0M352.9 122.8h0M310.2 101.4h0M317 55.1h0M328.6 85h0M384.3 106.9h0M381.2 111.3h0M289.4 95.9h0M299.1 60h0M308.2 92.2h0M346.6 118.8h0M317.1 68.4h0M272.2 68.4h0M314 109.8h0M393.7 111.5h0M318 79.2h0M380.6 39.7h0M247.4 65.3h0M394.1 122.8h0M258.3 95h0M328.6 109.2h0M399.8 83h0M292.7 86.6h0M299.3 108h0M272.6 44.5h0M322.5 73h0M364.5 103.6h0M265.3 71.6h0M380.9 84.5h0M351.9 55.2h0M289.9 49.3h0M353.7 107.6h0M318.1 70.3h0M310.8 74.1h0M345 77.1h0M388.1 65.2h0M283.2 90.3h0M390.6 86.1h0M395.2 110.2h0M315.7 130h0M399.6 69.8h0M310.9 53.9h0M304.8 99.9h0M341.4 90.1h0M339 113.9h0M358.9 50.9h0M297.4 67.2h0M303.1 78.5h0M333.6 65.7h0M304.9 112.7h0M275.9 107.7h0M378.4 80.4h0M325.9 67.2h0M315 100.6h0M282 89.1h0M383.1 108.4h0M369.8 116.4h0M277.1 67.2h0M262.1 43.1h0M332.2 101.3h0M370.7 132h0M360.9 130.5h0M379.7 114.9h0M277.6 97.5h0M355.5 59.8h0M276.6 45h0M340.4 85.7h0M289.5 78.2h0M279.3 101.1h0M267.8 103.2h0M298.4 81.1h0M325.4 59.9h0M394.8 56h0M347.8 70.1h0M307.7 85.4h0M277.5 57h0M319.8 125.7h0M356.2 104.6h0M367.8 113.7h0M304.4 81.7h0M324.3 128.7h0M266.7 62.1h0M289.7 34.9h0M321.7 130.6h0M374.6 52.7h0M339.1 53h0M349.6 66h0M258.3 65.6h0M247 40.8h0M268 135.4h0" stroke="#dc961a" stroke-width="1.8" stroke-linecap="round"/>
<path d="M330.3 45.8h0M270.6 110.4h0M366 85.7h0M315.9 85.8h0M266 70.2h0M343.8 61.2h0M301.6 98.4h0M279.9 37.9h0M286.9 57.9h0M322 49.3h0M398.5 109.7h0M329.1 69.8h0M327 76.9h0M333.4 60.1h0M320.3 42.9h0M388.4 92.9h0M398.3 72.5h0M346.2 36.5h0M324.9 76.9h0M349.6 98.7h0M332.8 94.2h0M305.5 120.8h0M287.3 85.6h0M319.8 44.7h0M360.6 83.2h0M402.9 111.1h0M321.8 85h0M331.3 109.8h0M386 63.7h0M359.1 128.4h0M343.3 78h0M323.7 92.5h0M392.4 54.8h0M345.5 67.4h0M280.8 119.8h0M279.6 72h0M272.5 104.4h0M337.3 36.5h0M311.3 47.8h0M337 63.7h0M357.9 81.7h0M388.5 115h0M332.1 40.4h0M299.7 87.3h0M258.2 100.8h0M302.1 100.5h0M310.6 67.3h0M280 56.7h0M380.2 79.2h0M251 59.1h0M380.4 88h0M293.6 48.9h0M282.7 104h0M377.2 121.1h0M379.2 82.9h0M326.3 87.1h0M374 86.4h0M250.2 75.8h0M289.7 38.4h0M364.4 94.3h0M321.6 30.8h0M263.6 110.6h0M364.2 63.5h0M309.3 128.3h0M295.9 126h0M318 75h0M374.5 105.9h0M290.7 78.8h0M327.7 70h0M375.9 125.7h0M261.9 77.9h0M316.7 57.4h0M297 80.9h0M300.2 70.5h0M336.8 111h0M314.6 68.1h0M377.1 89.1h0M254.6 77.4h0M359.8 106.7h0M308.9 88.9h0M271.2 60h0M295.1 69.6h0M284.4 112.3h0M285.5 48.1h0M350.7 50.7h0M300.2 115.8h0M328.6 60.8h0M371.9 111h0M310.5 113h0M293.1 117h0M366.4 82.7h0M336 73.9h0M315.1 41h0M359 83.3h0M293.1 100.4h0M317.4 130.9h0M362.6 89.8h0M275.1 71.6h0M395.6 57.5h0M350.4 58h0M367 73.9h0M382.6 97.5h0M272.8 60.7h0M380 126.5h0M383.6 84.8h0M398.2 93.6h0M288.5 93.7h0M304.2 102.5h0M373.4 104.5h0M294.4 104.8h0M325.1 52.7h0M287.6 78.8h0M387.8 112.3h0M370.8 51.5h0M322.2 35.6h0M392.7 61.5h0M365.5 79.5h0M287.7 44.1h0M365.6 60.5h0M380 128.4h0M306.2 66.2h0M387.8 108.9h0M360.7 43.1h0M344.6 50.5h0M392 122.2h0M275.1 41.6h0M315.9 101.9h0M372.5 65h0M378.4 99.9h0M333.2 126.3h0M284.1 37.9h0M264.7 79.8h0M334.3 74.7h0M339.9 132.9h0M259 62.9h0M327.1 39.8h0M372.8 47.5h0M274.6 98h0M332.2 56.5h0M320.1 48.8h0M363.4 77.1h0M379.9 131.8h0M392.1 98.3h0M348.1 75.4h0M347.6 82.4h0M318.7 111h0M377.1 65.4h0M376.3 39h0M326.8 123.9h0M356 70.9h0M350.3 82.5h0M350.8 59.9h0M339.2 62.1h0M357.9 105.4h0M353 85.8h0M365.7 73h0M326.4 35.3h0M351.3 86.5h0M338.5 59.3h0M323.1 117.5h0M363.3 42.7h0M259.9 98.4h0M343.3 126.4h0M368.9 64.2h0M351.9 75.4h0M380.6 60.3h0M396.8 121.9h0M381.4 47.2h0M337.6 121.3h0M272.4 87.2h0M399.6 103.5h0M316.8 32.8h0M254.3 53.7h0M284.8 50.4h0M286.2 116.9h0M344.6 110h0M306.7 47.2h0M292.9 121.8h0M335.6 41.7h0M365.5 92.2h0M369.3 129h0M397.4 124.9h0M354.7 118.2h0M376.4 87h0M385.3 74.5h0M318 67.1h0M281.9 57.1h0M370.2 84h0M285.3 53.4h0M307.8 76.1h0M376.2 69.6h0M291 61.4h0M333.1 61.8h0M366.7 45.5h0M344.6 32.7h0M315.8 64.9h0M375.1 53.7h0M326.7 108.9h0M368.5 66.7h0M248 55.8h0M271.8 69.7h0M401.2 125.8h0M334.3 112h0M331.3 117.4h0M391.7 106.7h0M368.2 58.5h0M331.3 93.9h0M271.2 76.8h0M281.9 118.3h0M268 59.4h0M318 128.5h0M328.2 97.8h0M340.1 91.2h0M392.2 67.4h0M320.1 115.6h0M352.7 52.4h0M338.9 126.2h0M385.7 118.3h0M393.9 116.7h0M274.7 118h0M255.8 94.1h0M353.2 55.7h0M325.5 57.6h0M384.7 82h0M331.1 68.4h0M270.2 61.3h0M320.8 98.9h0M331.3 82.9h0M365.1 82.2h0M320.2 41.9h0M353.5 41.2h0M288.8 37.4h0M297.7 126.4h0M298.5 48.5h0M347.4 115.7h0M370.1 89.9h0M324.5 44.5h0M291.6 118.9h0M280.2 93h0M312.4 85.2h0M373.3 48.7h0M373.3 124.7h0M258.8 73.5h0M321.1 64.4h0M333.1 87.4h0M375.7 77.2h0M362.1 97.1h0M291.6 101.2h0M344.4 116.6h0M288.2 59h0M311.6 112.8h0M365.7 52.6h0M374.7 47.4h0M271 119.1h0M282.7 37.2h0M361.9 77.1h0M271.1 79.5h0M336.4 79.4h0M326.2 94.3h0M322.1 34h0M299.5 110.7h0M369.4 65.6h0M274.3 72.4h0M401.8 106.9h0M304.8 122.1h0M337.1 97.7h0M271.8 120.2h0M292.1 109.8h0M389.5 126.9h0M262.2 53.4h0M347.5 91.9h0M374.3 88.5h0M274.7 114.1h0M325 69.3h0M270.5 104.6h0M345.5 34.4h0M328 65.3h0M350.8 89.7h0M344.5 59.6h0M327.8 32.8h0M321.2 65.6h0M299 127.9h0M349.9 129.2h0M308.2 66.4h0M263 55.8h0M343.1 118.7h0M378.5 122.5h0M320.2 45.8h0M292.3 113.8h0M333.8 50.9h0M323 70.7h0M294.7 97.3h0M400 110.7h0M282.3 78h0M356.7 130.8h0M261.8 62.3h0M282.9 64.3h0M388.3 116.3h0M329.6 50h0M374.3 76.5h0M326.4 97.9h0M308.1 39.7h0M350.7 52.9h0M334.3 95.2h0M393.2 53.4h0M370.9 86.4h0M305.1 90.2h0M345.2 53.1h0M296.6 61.1h0M390.1 49.5h0M310.4 45.9h0M359.9 93.2h0M389.5 83.1h0M399.1 106.7h0M343.6 70.4h0M283.6 78.9h0M390 116.9h0M337.4 81.5h0M331.3 34.3h0M368.2 92.9h0M330.4 36.3h0M366.7 93.9h0M279 40h0M342 74.6h0M278.8 119.4h0M272 114h0M355.5 81.2h0M363.8 132.1h0M319.5 122.9h0M387.2 124h0M392.8 58h0M380.6 98.5h0M340.7 43.5h0M267.9 102.1h0M309.5 70.9h0M284.5 57.2h0M333.9 93.5h0M282.4 46h0M305.4 113.7h0M308.7 86.4h0M348 93.7h0M332.1 65.9h0M315.9 92.6h0M348.9 127.8h0M366.9 127.3h0M357.8 67.7h0M388.2 117.9h0M363.9 65.1h0M326.7 125.9h0M272.9 99.7h0M396.6 78.6h0M365.1 87.8h0M302.4 38.5h0M344.8 60.7h0M328.9 35.8h0M304.2 92.1h0M266 96.3h0M285.6 64.7h0M393.1 80.8h0M259.5 87.6h0M320.3 60.6h0M280.9 52.8h0M355.4 108.3h0M297.8 34.4h0M288.7 121.2h0M324.5 49.6h0M260.6 99.8h0M344.4 108h0M300.2 39.8h0M324.9 82h0M364.9 118.5h0M311.7 75.9h0M386.8 109.8h0M361.9 104.2h0M270.9 93.4h0M338.4 101.5h0M333.3 67h0M281.8 61.5h0M267.1 100.5h0M394.7 92.3h0M369.7 69.9h0M320.5 97.4h0M316.5 82.4h0M316.9 117h0M396.5 72.7h0M315.4 119.6h0M387.5 56.1h0M320 84.4h0M280.2 66.8h0M307.5 93.5h0M253.9 87h0M342.7 46.2h0M314.2 59.1h0M377.8 43.8h0M359.9 109.8h0M268.2 56.6h0M399.1 83.9h0M387.3 77.4h0M348.7 42.5h0M277.3 108.3h0M371.4 98.7h0M302.2 64.6h0M309.8 54.3h0M312.7 70.9h0M387.3 74.9h0M335.5 36.5h0M338.2 117.5h0M301.5 122.1h0M301.2 109.7h0M383.3 126.7h0M296.8 115.2h0M302 108.4h0M379.4 99.1h0M322.6 58.4h0M337.1 92.6h0M281.9 105.7h0M354.4 47.8h0M344.7 101.3h0M326.6 82.7h0M307 35.9h0M395.5 83.2h0M266.6 49.4h0M394.7 112.3h0M300 112.3h0M341.3 87.2h0M250.3 66.5h0M350.3 69.5h0M277.4 82.8h0M350.7 92.4h0M319.3 112.3h0M379.2 44.5h0M359.5 122.6h0M316.8 129.2h0M373.5 80.9h0M346.3 84.2h0M344.1 42.9h0M360.4 35h0M377.8 53.7h0M276.2 55.5h0M309.9 63.7h0M274.3 62.6h0M247.7 70.2h0M401.4 86.5h0M340.5 74.3h0M340.9 77.8h0M396.5 102.9h0M358.1 71.6h0M403.1 118.3h0M311.7 57.6h0M321.4 46.7h0M382.2 131.4h0M271.6 98.9h0M382.8 42.3h0M388.6 74.3h0M334.4 80.9h0M260.9 76.8h0M333.4 54.8h0M349.9 59h0M308.3 34.6h0M299.3 56.5h0M377.2 102.5h0M392 63.7h0M366.6 48.9h0M391.7 66.2h0M299.2 58.1h0M280.6 43.3h0M340.3 98.8h0M377 61.4h0M309.7 32.2h0M366.4 69.9h0M284.8 36h0M281.6 50.2h0M261 87.8h0M297.3 40.5h0M328.8 74.9h0M399.1 64.7h0M296.4 116.5h0M310 79.9h0M318.8 55.4h0M386.4 58.1h0M385.9 78.8h0M277.3 116.7h0M300.7 119.7h0M377.3 52.1h0M381.7 95h0M314.1 63.5h0M309 105h0M280.6 76.6h0M387.5 105h0M306.1 127.9h0M306.4 99.9h0M259.1 68.5h0M380.6 56.1h0M316.2 93.7h0M376 117.3h0M388 60.1h0M335 110.4h0M297.3 74.7h0M255 89.9h0M374.5 61.2h0M296.1 102.8h0M303.4 84.2h0M324.7 105.2h0M280.4 49.7h0M270.6 89.1h0M356.9 133.1h0M271.9 40h0M275.7 57h0M330.9 96.1h0M311.2 87.2h0M289.5 74.5h0M304.8 65.9h0M401.2 69.1h0M275.3 110.4h0M335.6 108.1h0M349.9 33.2h0M344.5 80.7h0M348.5 51h0M393.1 117.5h0M396.8 85.7h0M374.8 63.6h0M278.5 92.7h0M322.7 98.6h0M302.8 41.2h0M278.7 109.5h0M266.1 102.2h0M350.4 62.8h0M291.8 41.1h0M364.2 75.4h0M277.4 62.9h0M306.2 74.5h0M331.8 49.3h0M316.4 78.6h0M353 101h0M271.8 62h0M314.4 81.3h0M256.7 71.7h0M283 111.8h0M395.9 111.4h0M388.5 96.4h0M362.9 127.7h0M348.6 117h0M299.8 126.1h0M359 113.6h0M334.6 47h0M276.2 96.7h0M399.8 125.9h0M273.4 53.5h0M367.1 116.3h0M362.2 102.6h0M371.4 57.3h0M320.8 114.6h0M385.7 122h0M357.2 74.8h0M345.9 128.2h0M360.3 54h0M404.8 33.2h0M246 126.1h0M286 130.7h0" stroke="#d41010" stroke-width="1.8" stroke-linecap="round"/>
<path d="M344.5 79.3h0M352.8 96.9h0M364.2 96.6h0M354 62h0M382.6 125h0M370.9 121.8h0M366.4 103.4h0M385.5 80.5h0M360 127.2h0M353.7 108.7h0M382.2 67.9h0M368.5 115.3h0M378.9 53.9h0M359.9 90.3h0M258.1 59.6h0M301.1 74.2h0M261.3 58.1h0M334.4 67.8h0M267.6 50.4h0M398.2 62.5h0M339.8 77.9h0M399.4 95.3h0M342.3 55.3h0M363.8 111.9h0M358.5 41.8h0M368.9 88.7h0M389.8 59.4h0M396 114h0M329.7 129.5h0M344.2 111.8h0M359.9 116.1h0M367.5 50.2h0M309.3 67.2h0M393.6 71.3h0M269.4 43.8h0M339.1 94.3h0M352.4 40.9h0M347.1 49.3h0M331.4 45.6h0M289.6 109.2h0M384.9 59h0M278 113.7h0M335.1 54.9h0M262.7 99h0M291.7 93.7h0M249.3 53.2h0M283.3 60.4h0M349.2 74.1h0M325.5 118.7h0M336.3 65.3h0M384.8 47.4h0M360.9 58.2h0M329.1 87.1h0M320.9 82.3h0M397.9 66.5h0M299 98.4h0M386.1 104.4h0M397.7 114.9h0M295.9 97.5h0M355.4 125.3h0M273.9 86.6h0M314.4 97.7h0M355.2 127.5h0M391.2 95.5h0M304.5 64.7h0M320.5 92.8h0M276.9 69.9h0M386.4 84.8h0M340.4 53.1h0M335.7 83h0M332.9 98.6h0M355.5 119.4h0M275.1 112.1h0M251.2 62h0M343.9 49.1h0M261.3 44.4h0M328.8 93.9h0M316.3 106.3h0M315 36.1h0M305.9 56.4h0M271.9 118.3h0M321.5 121.3h0M268.1 108.9h0M346.6 76.6h0M346.8 33.1h0M260.1 43.7h0M322 115h0M313.9 92.1h0M392.9 74.6h0M384.6 71h0M336.8 48.5h0M308.2 108.6h0M342.2 37.6h0M332.2 127.5h0M319.2 99h0M264.7 59.9h0M384.4 124.6h0M375.6 40.3h0M330.6 128.4h0M371.7 104.3h0M333.7 104.9h0M379.2 89.3h0M329.2 48.4h0M400.5 116.9h0M282.8 116.7h0M298.4 112.3h0M374.5 37.2h0M377.6 76.1h0M270.7 69.4h0M287.8 109.4h0M320 127.3h0M292.9 79.9h0M349.6 84.3h0M397.9 81.3h0M343.6 47.5h0M271.4 74.3h0M259.1 96h0M307.1 124.9h0M370 121.1h0M279.5 44.3h0M327.1 46.1h0M366.9 84.2h0M339.8 58.1h0M326 121.7h0M268.8 67.7h0M394.7 79.5h0M297.7 71.3h0M377.3 116.9h0M369.4 101.2h0M251.8 84.6h0M311.5 78.6h0M293.1 57.7h0M331.2 44h0M323.8 80.9h0M305.5 47.9h0M341.2 131.5h0M401.3 89.6h0M313.3 99.2h0M347.8 62.3h0M274.8 107.6h0M269.1 62.8h0M267.6 53.2h0M284.3 43.2h0M385.3 61h0M267.6 60.5h0M301.8 68.5h0M378.8 130.2h0M267.1 97.7h0M361.6 90.9h0M342.6 88.8h0M376.2 73.2h0M267 116.3h0M362.9 104.7h0M323.9 131.2h0M325.5 36.1h0M276.2 60.5h0M379.1 58.6h0M303 96.8h0M313 83.4h0M345 120.7h0M334 69.7h0M270.7 70.8h0M292.2 82.1h0M254.6 83.2h0M284.3 58.8h0M305 96.6h0M349.3 68.3h0M397.2 59.3h0M303.8 90.9h0M381 44.6h0M275 106.5h0M368 96.2h0M294.2 58.9h0M354.1 121h0M371 116.5h0M353 84.4h0M271.2 116.5h0M303.7 74.8h0M382.3 43.9h0M274.3 50.5h0M340.1 89.5h0M292.1 124.6h0M308.2 122.5h0M278.1 38.3h0M356.3 49.1h0M259.3 58.6h0M305.2 115.4h0M331.3 41.6h0M358 100.7h0M316.6 80.3h0M280.8 28h0M361.8 28.6h0M398.9 28.1h0M287.3 27h0M354.1 28.6h0M250 36.3h0M255.4 105.6h0M256 135.2h0M252.5 121.8h0M249.3 89.5h0M244.3 51.2h0M251.8 94.1h0M249.7 129.7h0" stroke="#1ab8cc" stroke-width="1.8" stroke-linecap="round"/>
<path d="M389.1 52.5h0M294.2 45h0M299.6 34.5h0M310.7 103.3h0M285.4 113h0M391.5 117.4h0M269.5 58.2h0M304 109.3h0M384 43.1h0M350.7 127.4h0M369.8 61.4h0M383 66.4h0M355.5 88.1h0M273.8 116.9h0M356.5 122h0M361 96.2h0M350.2 55.5h0M363.3 60.9h0M379.4 113.4h0M317.9 72.7h0M321.5 126.1h0M265.3 100.6h0M398.8 116.7h0M306 97.5h0M358.4 53.8h0M291.2 48.4h0M274.7 74.9h0M271 65h0M248.8 60.1h0M387.4 64.3h0M377.9 119.7h0M294 55.8h0M356.5 53.3h0M324.3 91.3h0M382.6 88.4h0M385.3 83.9h0M369.6 104.8h0M352.8 117.8h0M380.4 49h0M298.1 123.1h0M283 43.8h0M294.8 64.3h0M299.6 109.5h0M362.8 96h0M323.5 51.7h0M388.9 75.4h0M320.8 87.4h0M402.1 66.7h0M337 71h0M321.3 123.6h0M370.4 124.5h0M338.5 105.2h0M373.3 61.3h0M352.3 124h0M398.4 90.1h0M252.3 76.6h0M370 76h0M263.6 42.5h0M292.6 70.3h0M372.5 79.5h0M326.2 101.3h0M337.5 99.4h0M382.1 118.3h0M261 50h0M306.7 77.5h0M391.1 75.4h0M367 91.2h0M268.9 66.6h0M314.9 104.4h0M326 132.1h0M324.4 93.9h0M320.6 52.6h0M360.7 122.2h0M288.2 102.9h0M250.7 48.5h0M355.5 92.8h0M257 85.9h0M304 57.8h0M303.3 101.1h0M275.1 55.6h0M332.2 125.6h0M285.7 125.2h0M260.6 68.3h0M386.8 70.9h0M292 37.1h0M325.4 102.2h0M394.7 63h0M379.1 73.6h0M297.6 92.1h0M262.1 100.5h0M287.2 39.7h0M342.7 42.6h0M396.2 84.6h0M310.5 90.7h0M363.2 133.3h0M332.9 63h0M345 92.6h0M299.8 38.7h0M283.3 91.5h0M264.8 70h0M364.5 122.2h0M355.1 64.6h0M307.4 71.8h0M291.9 57.2h0M315.4 96.2h0M361.9 127.1h0M258.8 56.9h0M251.6 50.6h0M323.2 53.5h0M276.9 81.7h0M317 119.1h0M390.4 125.1h0M286.4 123.8h0M361.3 56.7h0M349 106.8h0M307.1 37.9h0M313.9 86.4h0M338.7 34.6h0M339.3 97.1h0M389.7 81.5h0M292.8 44.5h0M290.6 54.8h0M390.1 113.4h0M285.5 86.6h0M383.7 68.3h0M279.4 99.6h0M349.9 132.8h0M303.5 80h0M381.6 77.5h0M337.9 68.5h0M385.4 111.4h0M399.9 100.4h0M360.1 99.5h0M267.9 62.7h0M279.9 109.4h0M372.8 110.4h0M301.2 96h0M352.1 37.3h0M339.3 71.1h0M350.1 35.9h0M285.9 96.6h0M278.1 43.4h0M357.6 68.9h0M376.7 53.3h0M288.6 101.6h0M280.2 117.2h0M361.8 35.2h0M313.3 82.1h0M307.1 51.8h0M348.4 78.3h0M323.6 57.6h0M384.9 69h0M320.1 78.3h0M353.3 39.7h0M286.8 118.8h0M392.7 72.5h0M262.6 104.1h0M324.7 95.3h0M248.8 50.2h0M293 81.1h0M381.1 109.9h0M373.6 82.7h0M346.9 56.2h0M342.1 86.2h0M303.3 127.2h0M350.5 79.8h0M398.8 98.8h0M296.5 122.5h0M390.6 97.6h0M319.6 91.5h0M350.4 123.2h0M355.1 94.1h0M365.6 117.5h0M313.7 121.4h0M307 121.5h0M299.1 85.8h0M382.9 45h0M271.9 94.4h0M373.9 44.8h0M373.4 129h0M390.5 99.8h0M303.6 66.7h0M320.8 101.1h0M359.3 95.8h0M351.3 38.4h0M373.3 112.7h0M347.2 133.2h0M332.5 97.6h0M290.5 58.6h0M254.5 85.9h0M370.6 102.4h0M321.2 105.8h0M337.3 47.5h0M401.1 74.6h0M268.7 45h0M361.6 72.4h0M372 55.9h0M303.1 68.3h0M271.7 88.3h0M287 99.8h0M267 66.7h0M260.8 89.3h0M369.2 48.4h0M388.9 107.1h0M269.7 106.6h0M402.5 92.4h0M339 123.4h0M349.5 64.1h0M376.7 128.4h0M395.8 56.1h0M363.4 72.1h0M354.3 124.1h0M276.2 67.7h0M303.8 41.4h0M331.9 32h0M322.3 107.2h0M288.1 82.9h0M283.9 39.1h0M348.7 124.2h0M286 107.9h0M335.6 106.8h0M349 90.9h0M388.5 83.9h0M259.7 57.6h0M326.5 120.2h0M363 54h0M283.3 107.9h0M306.3 103.3h0M276.1 51.8h0M351.2 105.6h0M383.8 53.6h0M366.2 132.3h0M265.8 42.9h0M390.6 56.9h0M296.5 68.2h0M378.1 113.6h0M306 76.5h0M255.5 45.7h0M386 107.1h0M365.8 96.9h0M400.8 67.1h0M339.8 80.8h0M329.3 68.7h0M317.5 91.4h0M283 99.8h0M252.2 73.1h0M254 61.1h0M290.7 89.4h0M345.9 44.6h0M357.5 60.3h0M370.6 37.6h0M297.5 104.7h0M289.9 104.7h0M316.8 44.7h0M285.6 92.6h0M371.6 92.3h0M314.4 38.1h0M302.2 53.6h0M332 38.9h0M362.4 64.7h0M382 109.3h0M288.3 108h0M371.2 96h0M392.3 78.2h0M386.4 87.9h0M314.1 108.2h0M371.2 74.4h0M333.2 103.8h0M339.7 73.6h0M334.1 44.8h0M308.4 82h0M375.5 79.1h0M384.6 97.1h0M381.9 123.1h0M295 39.6h0M364.4 60.3h0M288.7 77.4h0M268.4 47.8h0M273 81.3h0M303 71.5h0M266.8 113.6h0M340.2 87.8h0M337 108h0M333.4 77.7h0M353.3 125.6h0M364.5 43.5h0M319.5 59.9h0M326.4 84h0M338.7 111.8h0M306.5 39h0M290.8 44.5h0M361.8 74.8h0M260 93h0M298.2 43.4h0M332.3 104.9h0M273.9 47.3h0M301.7 43.6h0M360.3 48.3h0M325.6 38.2h0M391.1 76.5h0M287.6 48.8h0M299.7 120.2h0M319.2 86.5h0M385.8 125.5h0M395.2 128.3h0M259.3 84.9h0M300.9 36.5h0M283.6 84.6h0M256.4 51.3h0M276.4 116.3h0M360.9 67.9h0M280.3 68.1h0M327.9 125.3h0M265.3 99.2h0M351 118.3h0M310.5 61.8h0M276.9 87.8h0M281.3 47.1h0M375.3 90.6h0M379.6 69.8h0M301 48.4h0M379.8 106h0M320.5 31.2h0M266.7 74.1h0M320.1 56.4h0M269.9 103.3h0M376.7 58.4h0M368.9 81.5h0M255.5 78.3h0M376.2 75.7h0M355.4 36.3h0M312.7 110.2h0M393.6 105.5h0M248.9 71.8h0M302.8 124.8h0M363.3 113.3h0M305.5 75.5h0M260.6 48.5h0M377.3 105.8h0M317.1 93.1h0M324.5 125.7h0M373.1 105.8h0M399.3 102h0M325.7 125.1h0M328 68.1h0M267.5 75.5h0M364.8 50.6h0M397.4 127.5h0M333.1 100.1h0M272.4 101.2h0M254.2 70.9h0M351.6 47.9h0M322 103.2h0M336.1 72.5h0M264.3 89.7h0M399.2 75.6h0M285.4 66.3h0M347.7 44.8h0M390.2 95.9h0M366.2 120h0M288.8 100.4h0M262.5 52.1h0M319.8 110h0M251.6 77.5h0M323.3 33.5h0M251.9 79h0M316.5 72.7h0M319.1 58.7h0M349.2 79.9h0M383.5 76.1h0M332.4 107.9h0M317.6 111.9h0M330.2 64.4h0M375.1 64.8h0M286 68.9h0M320.2 94.6h0M330.5 84.7h0M301.9 37.3h0M386.8 128.8h0M381.5 42.3h0M373 44h0M286.5 62.4h0M342.7 66.4h0M341.8 57.2h0M379 117.8h0M329.2 83.8h0M272.1 43.4h0M322.5 81.8h0M269.8 74.6h0M352.8 57.9h0M307.3 33.9h0M371.6 41.8h0M311.4 46.6h0M328.6 101.4h0M260.4 83.1h0M361.4 109.4h0M394 114.4h0M313.2 69.6h0M402.5 120.2h0M267.1 44.3h0M399.9 123h0M319.5 79.6h0M369 80.2h0M357.2 107.3h0M311.3 107.4h0M363.7 109.2h0M352.3 39h0M297.9 121.6h0M324.4 116h0M315.3 112.3h0M357.9 130.5h0M272.4 70.7h0M267.8 112.3h0M390.7 63.1h0M377.9 71.9h0M317.2 43h0M285.6 45.9h0M253.3 79h0M375 42.2h0M341.1 127.8h0M336.1 77.9h0M345.9 37.7h0M297.1 63.9h0M329 71.1h0M328.6 131.6h0M345.9 69.3h0M313.3 125.5h0M313.1 107.1h0M286.7 106.2h0M345.2 36.4h0M395.4 66.7h0M249.9 73.7h0M273.7 114.7h0M309.1 99.6h0M360.5 98h0M388.3 68.8h0M377.9 73.4h0M332.9 116.5h0M335.2 50.6h0M266.7 80.6h0M293.3 41.2h0M281.7 116.1h0M335.8 68.6h0M321.1 50.1h0M260.5 71.3h0M281.3 91.6h0M316.1 103.9h0M309.3 68.4h0M271.7 108.8h0M379.4 90.8h0M302.7 129.5h0M366.4 67h0M377.4 48h0M337.3 105.9h0M333.1 128.1h0M323.8 107.3h0M393.5 126.1h0M326.3 55.5h0M383.7 115.4h0M367.8 129.5h0M328.1 58h0M334.1 38.1h0M378.7 94h0M315.9 95.1h0M274.5 96.2h0M325.7 32.1h0M331.5 102.3h0M350.8 73.5h0M318.2 52.7h0M283.4 117.9h0M349.7 77.7h0M340.3 95.2h0M325.7 90.6h0M394.6 61.2h0M330.9 101.1h0M354 122.7h0M339 38.7h0M376.9 80.6h0M322.7 127.7h0M247.5 72.2h0M259.5 47.4h0M370 63.8h0M299.8 35.7h0M314.3 44.3h0M390.9 119.4h0M383.6 64.1h0M338.2 122.5h0M293.9 125.5h0M270.1 54.7h0M356.7 124.2h0M291.8 64.7h0M313.4 31.6h0M325.6 65.1h0M374.7 131.5h0M347.8 73.1h0M267.1 65.7h0M251.9 82.7h0M394.2 68.8h0M301.4 73.1h0M388.1 91.2h0M275.9 89.5h0M364.3 49.7h0M336.1 44.3h0M401.6 100.8h0M343.1 132.6h0M310.8 126.3h0M346.8 59.2h0M368 73.6h0M330.4 69.2h0M343.8 125.4h0M278.6 78.6h0M393.3 57.1h0M387.9 100.5h0M348 120.9h0M347.6 112h0M311.3 95.1h0M269.9 109.1h0M345.7 64.5h0M401.3 73.4h0M258.2 79.2h0M346.2 82h0M293.2 75.2h0M360.4 40.8h0M389.2 91.7h0M282.8 106.9h0M369.4 77.6h0M391.3 77.6h0M397.1 63.3h0M261.5 95.2h0M355.8 120.7h0M347.9 67.2h0M387.2 45.5h0M318.5 45.5h0M285.5 91.2h0M257.3 55.1h0M386 81.8h0M330.9 80.4h0M346.9 90h0M345.2 105.6h0M335 73.2h0M356.8 36.6h0M336.7 120.2h0M308.7 111.4h0M401.9 118.6h0M305 54h0M389.7 93.2h0M349.5 53.5h0M279.1 73.5h0M372.2 62.2h0M295.7 45.9h0M399.7 76.9h0M343.6 98.9h0M271.3 80.6h0M370 81.9h0M379.7 76.7h0M303.1 26.8h0M256.2 37.8h0M262.4 125.2h0M243.1 111h0" stroke="#d41010" stroke-width="1.8" stroke-linecap="round"/>
<path d="M395.9 77.8h0M332.8 88.6h0M279.1 60.2h0M276.3 118.3h0M304.4 36.6h0M255.2 60h0M373.3 55.8h0M353.2 73.3h0M293.1 114.4h0M313.6 58.1h0M287.3 93.8h0M330.7 132.6h0M274 39.5h0M278.8 97.1h0M283.2 62.6h0M362.8 56.8h0M337.8 64.4h0M358.1 47h0M346.2 120.2h0M268.9 119.1h0M394.4 84.2h0M347.3 52.3h0M396.9 113h0M389 45.9h0M295.4 43.2h0M264.7 111.2h0M345.8 73h0M388.6 71.4h0M359.4 88.1h0M297.8 64.9h0M261.1 74.7h0M291 53.1h0M308 42.7h0M267.9 55.3h0M279.3 69.9h0M354.1 36.2h0M369.2 98h0M301.8 63.2h0M249.4 67h0M358.2 57h0M332.8 112.9h0M345.9 126.4h0M355.8 50.8h0M367.6 43.2h0M313.5 55.9h0M353.8 58.5h0M321.9 117h0M319.2 130.9h0M302.2 70h0M288.6 92h0M395.5 81.3h0M303.4 89.1h0M339.4 92.2h0M308.9 109.5h0M290.7 51.9h0M382.8 56.9h0M272.8 95.9h0M308.3 62.7h0M282.9 49.6h0M336.4 109.5h0M349.4 76.3h0M350.7 124.4h0M387.6 80.3h0M315.3 63.6h0M365.9 83.7h0M355.3 121.7h0M346 86.3h0M294.4 127.6h0M393.1 83.5h0M387.3 63.1h0M335.7 103h0M341.3 104h0M374.4 57.4h0M270.9 48.8h0M262.6 108.9h0M388.3 128.5h0M373.9 130.1h0M352 45.4h0M348.8 54.5h0M337.6 55.5h0M363.3 103.6h0M400 93.6h0M374.7 128.3h0M334.1 84.6h0M293.1 93.6h0M312.3 98.6h0M345.5 76h0M398.3 73.8h0M264.8 75.2h0M373.3 111.5h0M274.7 94.8h0M299.9 117.2h0M363.7 115.3h0M263.4 80.6h0M361.9 110.8h0M368.3 91.8h0M381.7 58.6h0M378.7 110.3h0M394.8 101.3h0M370.6 30.9h0M245.7 86.6h0" stroke="#dc961a" stroke-width="1.8" stroke-linecap="round"/>
<path d="M311.8 73.8h0M279.6 95.5h0M362.5 101.3h0M300 122.2h0M343.8 36h0M318.2 77.1h0M316.5 88.9h0M347.4 105.7h0M325.7 34.2h0M309.8 117.7h0M342.2 103.1h0M376.2 130h0M266.8 76.7h0M385.9 102.7h0M250.2 69.1h0M323.3 35.3h0" stroke="#3fe03f" stroke-width="1.8" stroke-linecap="round"/>
<path d="M327.7 87.4h0M331.7 90.8h0M327.8 88.6h0M374.9 103.2h0M266.1 59.4h0M308.8 113.8h0M265.6 66.1h0M376.4 127.1h0M368.7 54.7h0M402.4 104.1h0M290.7 101.9h0M258.8 44.9h0M301.4 66.5h0M382.2 71.5h0M312.8 124.5h0M386.6 108.1h0M382 79h0M293.4 63.6h0M308.5 129h0M350.9 134h0M311.3 43.3h0M265.7 48.1h0M282.9 94.4h0M390.9 58h0M391.4 49h0M321.9 32.7h0M371.1 82.9h0M388.9 86.2h0M331.8 129.2h0M343.3 110.8h0M370.6 104.3h0M254.7 79.2h0M377.9 97.6h0M365.8 75.3h0M302.4 113.8h0M401.6 75.8h0M362.7 83.8h0M289.6 117h0M296.7 44.9h0M297.1 117.9h0M364.1 46h0M333 109.3h0M374.9 110h0M315.9 117.6h0M290 90.3h0M353.1 43.4h0M300.9 99.7h0M286.6 52.1h0M317.4 123h0M252.4 53.2h0M336 60.4h0M266.7 46.5h0M372.3 99.7h0M286.1 98.4h0M364.6 116.2h0M290.3 81.8h0M338.4 49.8h0M268.5 95.7h0M323.8 46.2h0M256.4 95.3h0M371.8 131h0M367.8 111.1h0M380.3 46.5h0M366.3 112.5h0M319.5 117.6h0M278.7 81.2h0M372.4 109h0M389.6 55.8h0M394 75.3h0M393 104.5h0M374.6 123.3h0M330.8 73.3h0M342.3 77.3h0M280.8 57.3h0M267.8 119.4h0M387.9 57.8h0M375.6 57.3h0M308.6 47.1h0M351.4 34h0M318.8 89.3h0M359.3 115.2h0M287.9 75.9h0M393.8 113h0M374.5 132.7h0M327.6 90.4h0M296.9 112.1h0M335.5 128.7h0M259.1 49.6h0M371.5 43.7h0M361.9 130.3h0M393.2 73.6h0M324.2 117h0M303.4 119.1h0M373.3 42.9h0M362.1 68.4h0M354.4 89.2h0M364.6 73.2h0M257.9 58.4h0M390.2 31.3h0M358.2 27.1h0M247.4 132.5h0" stroke="#dc961a" stroke-width="1.8" stroke-linecap="round"/>
<path d="M345.4 132.5h0M268 111h0M323.9 97.3h0M291.5 67.6h0M385.6 51.3h0M296.7 59.6h0M256.3 53.7h0M313.7 94h0M257 56.1h0M279.9 74.6h0M325 120.7h0M400.4 86.3h0M393.5 106.9h0M322 63.8h0M284.6 105.9h0M329.2 43.4h0" stroke="#3fe03f" stroke-width="1.8" stroke-linecap="round"/>
<path d="M313 72h0M264.9 52.1h0M359.2 55.6h0M375.6 55.2h0M398.1 97.4h0M295.5 37.3h0M292.3 47h0M327.9 45.4h0M327.9 114.5h0M334.5 57.7h0M330.7 125.9h0M352.8 66.4h0M316.5 110.1h0M310.9 88.5h0M289.5 41.3h0M396.4 108.4h0M363.5 50.8h0M389.2 102h0M277.6 119.6h0M276.3 93.8h0M255.5 91h0M272.2 58h0M350.2 110.8h0M332.6 33.2h0M311 105.1h0M401.7 70.8h0M340.5 62.4h0M340.1 125.6h0M393.2 101.1h0M285.9 39.9h0M330.2 97.4h0M304.7 98.2h0M294.7 86.8h0M372.5 50.3h0M367.8 124.2h0M276 79h0M341.3 34.3h0M377.6 49.6h0M372.9 54h0M286.4 50.1h0M287.1 90.4h0M321.3 40.9h0M294.1 107.1h0M370.2 95.2h0M385.6 86.5h0M392.7 99.8h0M260.3 60.3h0M296.2 40.7h0M323.3 120.4h0M315.2 56.1h0M249.7 56.4h0M277.3 92.4h0M392 56.7h0M323.6 82.7h0M311.5 60.7h0M279.8 81h0M353 81.7h0M319 69.1h0M360.3 82h0M306.9 81h0M395.9 120.1h0M325.5 103.5h0M326.2 96.2h0M342.7 83.6h0M309.8 42.7h0M399.9 113.6h0M295 98.7h0M299.3 94.6h0M364 35.7h0M302.9 60h0M272.3 97.6h0M364 130.7h0M287.4 50.6h0M262.8 107.8h0M312.9 103.8h0M361.6 54.7h0M327.4 50.4h0M262 60h0M301.8 47.2h0M384.6 105.4h0M391.6 50.2h0M337.3 132.6h0M325.5 71.2h0M351 68.6h0M357.2 57.4h0M254.8 52.1h0M283.6 80h0M357.1 92.6h0M310.1 76.2h0M330.8 108h0M299.9 63.7h0M389.7 66.7h0M384.5 122.4h0M366.8 109.9h0M338 32.8h0M343.5 62.8h0M353.9 127.4h0M357.1 108.5h0M379.3 50.8h0M346.4 78.9h0M311.5 44.4h0M252.4 55h0M276.3 100.3h0M358.9 64.5h0M362.4 51.4h0M348.2 55.7h0M333.6 75.5h0M341.2 96.4h0M292.7 72.3h0M393.1 102.7h0M335.6 49.5h0M363.8 92.5h0M301.2 82.9h0M366.6 128.9h0M351.9 112.5h0M341.3 61h0M299 52.9h0M349.6 125.6h0M376.2 37h0M348.1 40h0M350 112.5h0M381.3 57.4h0M397 126.3h0M354.6 34.5h0M290.9 68.8h0M366 51h0M351.6 69.9h0M377.6 110h0M377.9 62.6h0M336 34.8h0M385.7 126.6h0M374 69.6h0M296.4 62.9h0M270.4 92h0M338.8 47.7h0M259.1 51.2h0M260.5 84.2h0M396.8 69.8h0M328.3 120.4h0M334.6 108.9h0M374.9 119.9h0M347.9 106.7h0M329.4 65.5h0M279.4 90.7h0M281.1 41h0M313.8 127.1h0M260.1 102.1h0M310.3 59.9h0M351 132.3h0M361.7 73.7h0M372.4 83.3h0M376.1 104.9h0M255.5 62.9h0M343.6 83h0M288.5 115.5h0M342.8 49.5h0M302 39.9h0M350.5 43.5h0M340.6 59h0M321.9 80.7h0M359 65.8h0M351.1 71.2h0M327.9 74.4h0M341.3 83.1h0M302.1 119.4h0M394 121.2h0M336.2 86.5h0M313.6 102.8h0M330 82.3h0M386.6 130.4h0M394.7 74.4h0M295 91.4h0M288.4 39.3h0M402.5 95.2h0M356.8 52h0M363.8 99.7h0M386.4 43.7h0M294.9 66.7h0M307.5 89.6h0M389.5 108h0M356.7 78.7h0M329.7 80.5h0M338.9 103.6h0M336.6 39.6h0M311 109.7h0M386.3 73.8h0M339.6 82.9h0M261.9 87.1h0M313.9 77.7h0M364.3 87h0M351.5 46.4h0M287.2 53h0M356.3 80.5h0M330.4 100h0M374.8 74.2h0M268.2 90.7h0M396.3 117.2h0M280.5 85.2h0M353 121.1h0M295.1 77.1h0M392 102.9h0M287 97.3h0M353.8 51.8h0M299.1 74.5h0M381.3 70h0M275.2 47.8h0M307.5 65.4h0M350.7 78.4h0M354.5 100.3h0M312.2 34.4h0M339.5 119.6h0M254.1 59.8h0M300.5 78.5h0M378.5 108.8h0M345.4 117.5h0M254.3 90.8h0M309.2 40.6h0M290.2 57.5h0M346 74.5h0M300 73.6h0M341.4 120.6h0M367.5 99.3h0M382.9 120.8h0M354.8 104.1h0M378 124.3h0M295.8 75.5h0M370.4 115.4h0M348.9 33.8h0M314.6 62.3h0M373.7 50.5h0M325.2 39.9h0M338.1 37.4h0M345 89.2h0M294.5 100.8h0M324.3 68.4h0M296.7 94.9h0M363.8 82.4h0M296.9 121.4h0M382.3 52.2h0M344.5 56.6h0M367.8 104.1h0M255.8 66.9h0M321.1 71.5h0M253.3 57.3h0M371.7 87.3h0M387.3 47.5h0M300.3 82.1h0M278.5 50.2h0M362.2 99.2h0M335.7 100.7h0M265.3 76.2h0M338.8 91.3h0M364.8 66.4h0M330.1 34.1h0M333.7 90.5h0M336.7 122.4h0M317.9 107.9h0M255.4 61.2h0M279.4 86.5h0M286.7 65.6h0M328.3 78.7h0M314.4 79.6h0M360 73.2h0M282.3 100.6h0M293 55.2h0M377.7 131.1h0M380.7 64.7h0M403.6 114.5h0M309.8 119h0M281.9 86.6h0M385.7 56.4h0M371.2 45.6h0M382.6 129.4h0M265.2 81.3h0M267.9 84.2h0M347.3 84.8h0M367.6 107.6h0M302.4 111.1h0M328.2 122.6h0M384.1 57.7h0M327.2 129.7h0M266.4 51.1h0M264.1 95.7h0M291.8 97.5h0M379.2 40h0M272 55.5h0M283.6 76.4h0M399 122.4h0M280.6 88.3h0M357.1 73.6h0M263.1 50.1h0M312.7 117.7h0M382.2 113.9h0M371.5 48.6h0M278.9 61.5h0M305.7 46.2h0M354.9 105.9h0M287.8 60.5h0M319.8 82.9h0M376.8 93.9h0M295.3 110.5h0M340.3 103.6h0M397.4 119.9h0M279.5 75.7h0M306 83.3h0M275.6 39.8h0M318.7 118.8h0M339.8 100h0M280.8 44.6h0M266.1 78h0M328.8 77.4h0M355.1 109.9h0M386.9 111.3h0M373.9 122.5h0M343.2 106.4h0M364.6 114.5h0M346.8 60.5h0M264.1 49.7h0M312.9 36.9h0M296.4 70h0M303.8 85.8h0M251.5 56.1h0M320.7 68h0M328.2 62.8h0M356.3 60.8h0M341.2 35.6h0M330.3 51.5h0M297.2 82h0M321.2 94.5h0M375 68.8h0M355.8 91.5h0M299.1 36.7h0M350.7 101.2h0M356.4 93.9h0M271.3 101.6h0M358.5 123.4h0M377.4 70.3h0M287.4 66.6h0M269.2 60.3h0M342.3 123.1h0M361.1 65.6h0M328.3 52.5h0M345.2 108.9h0M250.3 58h0M323.8 112.7h0M339.8 55.4h0M396.1 79.8h0M385.7 46.1h0M298.8 41.9h0M360.8 89.1h0M396.5 101.2h0M357.9 115.9h0M402 85.3h0M389.4 48.1h0M328.1 44.3h0M338.3 40.6h0M347.1 68.2h0M261.1 55h0M266.9 48.4h0M354.5 52.9h0M398.3 92.2h0M364.3 100.7h0M394.3 108.7h0M295.1 73.5h0M360.2 113.4h0M267 95h0M327.5 91.9h0M342 113.9h0M322.8 40.7h0M315.9 128.3h0M314.2 34.5h0M368.8 99h0M380.1 73.2h0M362.6 48h0M372.4 85h0M270 100.3h0M370.3 110h0M355.9 42.3h0M338.8 129.9h0M317.5 46.3h0M329.8 74.2h0M332.4 82.6h0M255.5 92.4h0M367.5 74.9h0M374.1 65.4h0M296 38.6h0M267 56h0M352.1 101.7h0M343 51.5h0M293.6 64.7h0M348.9 86.4h0M368.7 52.1h0M281.4 114.6h0M285.6 56.1h0M346.7 47.3h0M400 107.6h0M258.7 97.7h0M260 63.9h0M304.8 43.1h0M394.7 86h0M363 91.6h0M275.7 86.9h0M310.1 95.7h0M324.9 78.1h0M361.6 86.2h0M295 35.3h0M370.5 52.5h0M263.2 90.7h0M339.6 42.7h0M263.7 71.2h0M305.2 45.2h0M364.6 69.3h0M250.6 55h0M304.7 110.1h0M266.6 82.3h0M294.2 95.1h0M338.4 54.5h0M262.8 92.7h0M337.7 60.1h0M387.4 127.4h0M392.5 111.4h0M317.5 51.3h0M298.6 114.1h0M284 72.1h0M339.1 65.8h0M379.3 87.9h0M323.9 102.2h0M325.5 45h0M344.5 68.4h0M363.1 63.2h0M273.6 58.5h0M302.9 52.5h0M374.5 81.9h0M357.4 89.1h0M370.7 100.1h0M308.6 115.1h0M343 128.8h0M364.6 108.6h0M383.9 41.7h0M395.7 70.3h0M372.3 86.1h0M373.9 90.9h0M355.1 114.2h0M276.6 49.3h0M289.3 126.3h0M295.3 51.2h0M337.5 53.7h0M395.4 125.3h0M252.8 80.1h0M337.2 89.4h0M357.7 75.8h0M305 78.1h0M305.2 91.5h0M313.9 40.9h0M371.1 67.8h0M346.5 108.9h0M377 112.5h0M264.5 47.8h0M322.6 131.2h0M372.5 96h0M274.5 73.6h0M360.9 126.5h0M357.7 93.7h0M386 99.1h0M334.7 132.8h0M335.3 130h0M402.4 72.4h0M375.3 62.1h0M377.3 40.1h0M288.3 49.7h0M324.6 48.1h0M312.6 77.9h0M319.8 104.7h0M341.9 73.1h0M324.9 54.2h0M392.5 112.7h0M309.1 83.5h0M333.5 32h0M372.7 103.7h0M263.5 62.2h0M379.6 61.5h0M267.7 87.5h0M344.4 96.5h0M345.6 90.9h0M283.4 51.9h0M285.5 43.2h0M356 47.8h0M266.2 88.4h0M247.8 61.5h0M334.6 115.5h0M268.8 110.2h0M292.8 76.4h0M357.5 119.5h0M316.6 49.2h0M281.5 112.7h0M291 98.8h0M270.7 94.9h0M261.8 56h0M395.4 87.1h0M290.5 125.8h0M280.2 111h0M309.1 98.1h0M391.3 92h0M353 92.4h0M396.6 68.4h0M378.8 84.4h0M324.5 119.2h0M322.9 74h0M361.9 128.3h0M351.7 109.4h0M341.7 65.8h0M266.7 108.2h0M325.7 115.7h0M373.6 109.2h0M250.9 70.4h0M350.2 109h0M310.1 44.7h0M283.7 97.5h0M314.4 117.5h0M302.9 65.5h0M366.3 36.9h0M325.4 107.6h0M287.4 54.6h0M273.2 102.7h0M376.8 63.1h0M312.5 55.8h0M295.6 118.7h0M322.5 109.9h0M358.2 61.7h0M283.9 124.7h0M259.9 54.7h0M360.8 105.9h0M265.7 106.9h0M400 87.7h0M336.5 54.7h0M362.5 34.3h0M403.6 93.8h0M324.5 72.1h0M357.2 40.4h0M400.5 127h0M282.5 58.1h0M398.8 100.9h0M312.6 58.4h0M336.3 59.4h0M346.6 35.3h0M371 94.1h0M307.9 105h0M307 49.5h0M323.4 125.2h0M281 56h0M365.6 128.2h0M348.8 104.2h0M308.3 43.9h0M343.8 40.7h0M348.3 45.8h0M267.8 34.5h0M328.6 27.9h0M253.5 100.8h0M243.7 131.5h0" stroke="#d41010" stroke-width="1.8" stroke-linecap="round"/>
<path d="M322.3 111.9h0M295.2 59.6h0M373.3 45.9h0M355.2 78.7h0M264 88h0M331 75.8h0M397.1 92.3h0M308 116.8h0M366.7 118.5h0M346.8 65.2h0M343.6 114.3h0M391.8 110.2h0M318.8 125.4h0M319.5 53.8h0M320.7 88.9h0M275.2 76.2h0M340.6 82.2h0M248.6 65.8h0M280.7 89.7h0M251.4 80.6h0M390.4 102.2h0M347 41.6h0M319.6 71.1h0M341.5 52.3h0M347.4 86.6h0M322 95.8h0M324.8 122.9h0M345.8 101.3h0M357.6 103.8h0M344.5 133h0M320.3 55.1h0M347.9 109.5h0M347.9 37.1h0M266.2 94.3h0M276.8 71.7h0M348.3 63.6h0M332.7 102.8h0M275 82.4h0M368.8 36.7h0M398.1 60.3h0M278.1 71.7h0M348.3 97.4h0M341.1 68.4h0M280.7 105.2h0M348 57.2h0M333.6 33.7h0M368.6 75.3h0M387.5 61.1h0M298.2 119.4h0M340 51h0M296.1 114.1h0M334.2 99.4h0M373.7 66.5h0M299.8 118.3h0M381.2 128.2h0M301.4 93.4h0M302.7 75.1h0M358.3 114.8h0M275 49.3h0M378.9 66.3h0M316.5 75.2h0M304.3 38.4h0M285.4 88h0M292.5 112.1h0M346.1 92.7h0M343.5 88.4h0M366.1 114h0M341.7 85.2h0M328.5 53.6h0M328 130.5h0M300.1 80.2h0M301.9 85.1h0M318.4 49.3h0M331.2 121.7h0M292.5 35.9h0M334.6 52.6h0M387.9 93.9h0M387.8 90.1h0M314.7 102.2h0M380.4 94.8h0M323.3 88.9h0M294.3 72h0M268.8 75.6h0M256.5 49.2h0M295.7 50h0M334.5 40.9h0M293.9 62.4h0M401.2 120.6h0M311.5 72.6h0M311.3 84.4h0M355.5 52.5h0M278 104.6h0M385.3 44.2h0M380.1 67.3h0M299 102.6h0M376.6 50.7h0M385.5 98.1h0M372.7 91.8h0M336.6 112.1h0M335.4 105.1h0M347 95.4h0M276.9 64.8h0M375.5 113.7h0M342.9 93.8h0M254.8 66.1h0M340.8 49.5h0M297.2 102.8h0M384.2 109.3h0M401.6 109.9h0M265.2 63.2h0M299.5 54.4h0M351 107.2h0M291.1 46.6h0M325.2 114.3h0M341 117.2h0M288.6 119.8h0M400.2 68.6h0M285.3 85.4h0M284 82.7h0M273.1 75.4h0M296.7 36.3h0M301.6 126.8h0M374.4 126.9h0M340.8 55.7h0M329.9 75.9h0M284.2 68.1h0M293.6 99.4h0M310.6 83.1h0M339.8 112.4h0M382.2 75.4h0M252.2 74.5h0M266.8 68.4h0M306.5 129.2h0M389 88.9h0M324.1 40.8h0M297.2 109.5h0M364.3 42.2h0M348.1 53.5h0M388.5 66.9h0M332.7 43.8h0M376.7 122.6h0M315.3 108h0M251.7 54h0M327.3 59.9h0M270.1 64.1h0M291.3 100.2h0M285.6 95h0M294.6 82.8h0M349.7 122.2h0M297.6 110.8h0M252.6 61.2h0M354.1 98.6h0M364.7 71.8h0M272.9 78.1h0M364.9 106.7h0M372.6 67.1h0M313.1 79.6h0M341.2 80.7h0M272.4 116.1h0M380.3 116.3h0M317.6 97.4h0M359.6 85.6h0M306.2 42.6h0M383.8 130h0M316.2 71.2h0M279.2 112.6h0M347.9 32.7h0M264.3 100.1h0M273 46.4h0M286.6 121.3h0M322.5 128.9h0M385 76.4h0M375.5 122.2h0M278.6 106.3h0M316.6 52.2h0M276.1 108.8h0M380.3 100.1h0M306 61h0M377.4 77.3h0M321.4 128h0M346.1 50h0M320.9 43.9h0M364.7 131.6h0M273.7 119h0M313.2 44.2h0M277.2 112.7h0M288.1 35.5h0M353.9 44.5h0M285.9 100.1h0M250.5 27.9h0M253.4 34.2h0M402.9 30.1h0M390.3 36.9h0M404 37.2h0M393.3 28.1h0M373.9 29.1h0M252.8 110.5h0M274.3 128.2h0M247 105.1h0M259.9 117.9h0M281.9 133.4h0M243.4 66.4h0M282.4 128.2h0" stroke="#1ab8cc" stroke-width="1.8" stroke-linecap="round"/>
<path d="M309.6 81.8h0M330.5 124.4h0M304.7 106.2h0M317.9 36.6h0M292.7 119.3h0M319.6 100.4h0M302.1 102.2h0M377.3 100.2h0M395.7 74.8h0M296.3 53.3h0M342.3 76.1h0M324.4 39.1h0M267.5 63.9h0M310.6 50.3h0M350.7 65.1h0M342 50.3h0" stroke="#3fe03f" stroke-width="1.8" stroke-linecap="round"/>
<path d="M306.4 110.3h0M357.4 42.4h0M333.3 132.9h0M302.3 80.2h0M296.8 75.8h0M313.6 42.9h0M260.9 81.8h0M338.8 67h0M311.2 129.6h0M329.2 119h0M281.5 122.9h0M287 36.1h0M298.1 46.4h0M257.6 94.2h0M399 85.9h0M279.6 51.3h0M360.6 51.7h0M282.1 109.1h0M315.3 75h0M353.7 111.6h0M309.4 96.7h0M340 63.6h0M380.1 52.6h0M374.9 59.9h0M290.5 94.8h0M401.2 81.1h0M367.9 45.8h0M368.1 56h0M352 102.8h0M313.7 46.3h0M369.5 55.9h0M374.5 92.6h0M377.6 86.3h0M398.1 118.5h0M303.9 76.9h0M388.7 109.8h0M402.8 90.6h0M283.7 69.3h0M328.5 55.4h0M369.7 57.3h0M395.6 68h0M328.1 128.7h0M263.7 83.5h0M340.3 102h0M378.2 82.3h0M394.3 89.6h0M374.8 108h0M312.8 112.3h0M260.2 103.8h0M367.5 121.8h0M308.1 125.5h0M339.3 131.9h0M265.2 93.5h0M283.9 63.5h0M344.8 87.9h0M375.9 111.7h0M316.1 38.6h0M276.5 46.5h0M308.9 101.9h0M304.7 68.3h0M388.6 105.8h0M275 65.2h0M306.9 108.1h0M373.4 98.7h0M302.4 103.7h0M354.3 85.8h0M374.6 83.3h0M300.2 53h0M354.6 102.3h0M337.3 104.6h0M274.4 57.1h0M383.7 116.5h0M338.2 42.9h0M307.6 50.5h0M318.6 92.3h0M374.2 72.2h0M381.3 125.2h0M311 40.9h0M361.9 49.1h0M296.1 128.2h0M267.7 114.7h0M350.7 116.8h0M364.7 120.1h0M269.1 97.6h0M309.8 122.9h0M249.2 62.4h0M383.6 113.8h0M289.7 77h0M316.4 111.7h0M328.7 103.9h0M353.2 129.1h0M370.4 107.7h0M283.9 110.9h0M265.1 96.9h0M305.6 44.1h0M320.8 81.2h0M322.7 89.7h0M282.9 47h0M256.6 74.3h0M296.4 50.9h0M305.2 51.4h0M322.5 61.3h0M364.1 57.9h0M341.1 71.9h0M267.1 92.5h0M369.4 74h0M344.4 84.5h0M291.8 88.8h0M325.1 100.1h0M268.6 73h0M362.7 108h0M374.5 51.5h0M293.7 42.5h0M285.8 71.3h0M315.7 67h0M265.1 83.9h0M386.1 114h0M397.1 105.4h0M382 100.8h0M401.1 106h0M315.7 79.6h0M315.8 53.8h0M326.6 37h0M308.9 112.6h0M373.1 119.5h0M368.2 105.9h0M305.6 100.7h0M257.4 52.4h0M296.4 105.7h0M298 58.8h0M331.8 67.2h0M318.6 124.2h0M295 109.3h0M366.7 65.6h0M279.1 58.2h0M296 108.3h0M339 128.3h0M376.5 131.3h0M276 73.1h0M289.6 67.5h0M287.5 88.9h0M383.8 100.1h0M334 101.2h0M372.8 72.4h0M279.8 123.3h0M368.8 108.9h0M318.2 38.3h0M300.1 85h0M272.7 88.7h0M292.8 122.9h0M268.9 54.3h0M397.6 107.6h0M280.5 69.2h0M352.8 132.9h0M358.3 118.7h0M281 77.8h0M288.6 123.8h0M287.1 122.5h0M268 81.8h0M353.8 88.3h0M335.8 52.6h0M295.4 106.5h0M369.8 38.6h0M269.2 101.2h0M349.8 104.8h0M260 69.7h0M317 85.7h0M261.9 88.7h0M278.1 70.3h0M296 56.6h0M344.3 128.8h0M299.1 40.6h0M374.6 56.2h0M290 106.7h0M327.3 106.3h0M394.7 100.1h0M269.1 70.4h0M335.2 63.7h0M268.9 99.9h0M346.2 70.7h0M367.5 37.5h0M344.5 51.7h0M380.7 63.5h0M334.6 119.8h0M305.5 105.1h0M272.4 52.6h0M265.5 41.9h0M297.4 69.7h0M285.2 123.2h0M312.7 101.6h0M287.3 47.2h0M257.5 92.8h0M255.6 58h0M402.9 115.6h0M385.7 123.8h0M369.1 40.5h0M271.8 105.8h0M290.6 112.6h0M295.1 62.4h0M267.4 105.2h0M294.1 85.5h0M312.6 66.4h0M384.8 93.7h0M290.9 119.7h0M313.1 130.9h0M376.6 46.8h0M266.2 64.3h0M305.4 64.1h0M357.6 45.2h0M349.5 41.7h0M376.9 67h0M386.4 119.8h0M326.8 75.6h0M389.1 124.9h0M305.2 104h0M350.2 37.6h0M376.1 45h0M300.7 62.7h0M249.1 75.3h0M387 106.2h0M269.3 78.1h0M360.8 101.4h0M347.8 126.6h0M368.6 43h0M340.2 48.2h0M248.9 69.5h0M305.4 79.2h0M292.5 74.4h0M307.3 101.6h0M366.2 42.4h0M303.1 98.2h0M269.7 86.2h0M271.6 66h0M393.2 98h0M267.4 71.1h0M346 89.1h0M386.4 50.2h0M260.8 65.6h0M316.8 113.4h0M302.7 56.8h0M252.7 48h0M308.4 118.5h0M342.4 81.9h0M363.2 52.6h0M370.4 50.5h0M301.5 33.8h0M321.1 124.9h0M290.2 92.5h0M279.3 47.3h0M276.6 41.9h0M330.5 114.2h0M359.3 86.7h0M341.8 69.4h0M315.8 125.8h0M271.8 83.4h0M253.5 70.1h0M281.6 43.8h0M290 53.9h0M366 95.8h0M365.8 71.3h0M373.1 94h0M325.7 61.2h0M320 73.1h0M318 119.8h0M293.3 83.9h0M346.1 104.9h0M365.3 112h0M391.8 85.3h0M257.8 51.2h0M314 113.1h0M394.9 103.4h0M337.9 115.9h0M337.5 118.7h0M372.7 101.7h0M310 129.6h0M310.9 32.4h0M360.3 76.5h0M311.1 96.5h0M353.4 103.7h0M306.7 107h0M314.6 125.8h0M352.9 71.2h0M285.3 77.1h0M376.1 84.9h0M392.8 59.7h0M318.9 31.1h0M383.9 69.4h0M343.4 53.2h0M369.1 59.8h0M328.9 39.4h0M290.5 43.1h0M378.7 42.2h0M292.7 52h0M372.2 70.8h0M272.3 41.5h0M263.3 106.1h0M306.6 69.1h0M347 117.5h0M318.6 56.9h0M308 69.7h0M346.9 110.9h0M309.9 115.7h0M391.5 74.3h0M401.4 114.8h0M264 56.9h0M325.1 88.8h0M310.5 37.9h0M336.7 128.4h0M300.4 57.7h0M264 64.7h0M401 77.2h0M389.8 109.9h0M379.5 57.2h0M294.5 102.3h0M276.4 53.2h0M315.6 83.3h0M350.7 126h0M367.4 133.4h0M376.9 92.7h0M381.2 72.2h0M382.3 92.1h0M289.9 85.6h0M332.2 115h0M301 107.9h0M323.1 66.5h0M345.8 78h0M365 53.8h0M285.7 93.8h0M357.1 101.5h0M332.2 63.9h0M280.2 122h0M378.8 112.3h0M343.4 124.4h0M321.3 42.7h0M378.5 106.4h0M305.9 49.3h0M372.3 82.1h0M310.6 98h0M265.6 86.3h0M302.4 49.8h0M283 83.2h0M339.3 95.8h0M273.7 103.9h0M331.3 43h0M371.8 66h0M324.4 99.3h0M265.6 85.1h0M392.5 129.4h0M387.5 67.3h0M340.4 122.6h0M266.2 54.1h0M263.8 109.1h0M299.2 46.9h0M361.7 85h0M403.8 109.8h0M386.5 61.8h0M384.2 88.9h0M372.6 114.8h0M402.9 108.3h0M315.5 73.5h0M296.6 88.7h0M270.2 66.4h0M281.8 69.2h0M272 90.8h0M306 124.4h0M365.4 115.3h0M386.8 123h0M276.9 121.7h0M310.9 115.1h0M317.8 96h0M294.1 79.1h0M293.9 110.7h0M342.8 48.2h0M352 65.5h0M296.7 46.5h0M325 111.6h0M247.9 74.8h0M317.9 65.6h0M321.2 69.1h0M269.9 46.9h0M316.5 50.4h0M314.1 119.6h0M382.6 46.3h0M327.4 99.2h0M348.5 125.8h0M386.9 95.6h0M364.7 36.5h0M347.3 131.1h0M315.9 34.2h0M329.5 91.3h0M287.9 87.1h0M403.7 106.3h0M332.3 85.7h0M292.8 110.7h0M306.9 86.6h0M336.1 104.1h0M313.4 74.5h0M374.8 116.1h0M345.7 102.7h0M251.3 75.8h0M249.7 63.7h0M364.1 47.5h0M291.4 86.9h0M312.4 47.4h0M340.1 41.3h0M402.4 83.4h0M324.6 132.1h0M288.7 111.7h0M377.2 99h0M393.6 79.4h0M402.9 127.1h0M253.9 49.9h0M267.4 83.2h0M325.8 62.8h0M266.6 89.5h0M320.4 122.1h0M396.8 81.3h0M362.7 79.7h0M348.3 130.9h0M360.9 70.6h0M373.3 58.5h0M381.6 93.2h0M376.7 74.4h0M401.6 104.9h0M371.6 38h0M383.3 83.5h0M273.2 50.9h0M354 54.7h0M371.7 106.6h0M353.4 80h0M294.8 68.4h0M318.7 103.6h0M319.4 121.2h0M338.6 46.6h0M300.4 61.5h0M344.7 35.1h0M339.1 106.4h0M344.2 91.2h0M310.4 36.4h0M331.2 55.7h0M339.4 121.5h0M254.1 74.2h0M284 94.7h0M397.9 75.6h0M388 130.6h0M362 122.1h0M291.6 51h0M339 108.3h0M298.3 72.6h0M265.8 116.2h0M359 67.2h0M269 88.7h0M355.2 84.7h0M275.3 66.2h0M361.2 62.5h0M286.8 68.1h0M382.5 55.4h0M390.8 53.6h0M324.4 37.4h0M342.1 109.8h0M258.3 71.4h0M272.8 112.5h0M320.9 36.6h0M394.5 52.5h0M379 71.7h0M280.9 101h0M378.9 128.2h0M301.2 45.1h0M293.9 120.6h0M359.8 41.8h0M261.8 97.9h0M334.7 86.1h0M269.5 69.4h0M275.1 46.1h0M375.5 124.3h0M288.1 70.9h0M301.7 87.7h0M255.5 81.1h0M312 122.1h0M346.8 87.7h0M367.5 76.4h0M364.3 74.3h0M338.7 84.8h0M278.3 64.1h0M331.9 122.5h0M259.2 61.5h0M306.3 111.5h0M384.6 118.7h0M335 88.8h0M378.5 39h0M361.3 76h0M398.1 83h0M360 108.7h0M310 39.6h0M337.7 67.5h0M377.4 56.9h0M284.2 89h0M329.4 92.9h0M345.2 115.6h0M290.1 71.6h0M323.6 111.4h0M302 58.9h0M253 68.7h0M396.3 62.6h0M335.4 98.6h0M381 105.6h0M317.2 101.1h0M332.9 51.9h0M348.9 61.9h0M344.4 126.8h0M333.5 121h0M359 91.8h0M361.4 132h0M361.5 118h0M279.8 52.4h0M250.1 60.1h0M334.9 61.1h0M294.2 52.1h0M367.8 120.1h0M285 114.6h0M383.2 93.1h0M381 126.4h0M283.5 57.7h0M380.7 114.1h0M290.1 83.1h0M291.3 90.4h0M374.4 121.2h0M299.7 52h0M368.4 47.2h0M370.1 108.9h0M334.9 34.8h0M316.7 90.2h0M358.7 121.4h0M269.3 39.9h0M369.4 125h0M321.3 45.1h0M343 113h0M370.1 118.8h0M379.7 85.7h0M280.8 59h0M333.4 70.9h0M250.8 79.5h0M288 55.8h0M346.2 106.9h0M371.3 49.8h0M320.5 120h0M285 61.5h0M371.2 109.3h0M326.3 116.6h0M312.8 62.1h0M299.4 96h0M372.3 77.3h0M286.5 94.5h0M316.8 65.7h0M398.3 84.6h0M338.2 27.6h0M265.4 123.2h0M270.6 132.2h0M268.3 129.5h0" stroke="#d41010" stroke-width="1.8" stroke-linecap="round"/>
<path d="M385.6 91h0M349.7 117.2h0M387 89h0M388.8 76.7h0M299 69h0M361.4 123.8h0M395.9 127.2h0M275.4 119.8h0M311.1 79.5h0M331.2 119.6h0M336.5 88.1h0M315.4 123.8h0M337.8 87.5h0M287.4 38.6h0M313.2 73.1h0M334.5 121.8h0M258.9 67.4h0M261.7 105.2h0M331.8 76.5h0M386.1 55.5h0M319.6 32.8h0M271.7 46.5h0M285.7 38.2h0M369.7 117.7h0M351.4 80.9h0M266.9 117.9h0M317 102.2h0M394 77h0M338 45.6h0M325.4 80.7h0M276.9 104.6h0M351.1 35.4h0M349.9 120.5h0M287.8 106.3h0M338 125.1h0M362.9 45.4h0M387.3 98.2h0M364.2 127.9h0M288.5 62.1h0M281.5 111.6h0M316.1 48.1h0M324.6 64.6h0M383.1 98.7h0M368 84.5h0M302.8 121.1h0M264 45.6h0M296.4 71.1h0M328.7 99.8h0M355.2 46.8h0M260.7 96.6h0M315.5 32.2h0M294.2 60.6h0M284.7 73.3h0M350.6 114.9h0M307.7 72.9h0M254.6 80.3h0M395.1 98.6h0M338.5 69.9h0M339.7 36.1h0M335.5 56.7h0M381.8 90.3h0M281.3 107.3h0M357.8 99.3h0M336.9 101.1h0M324.1 114.5h0M282.9 124h0M347.7 36h0M319.3 66.6h0M399 105.1h0M285.2 118.6h0M322.2 92.2h0M254.4 75.6h0M279 65h0M307.9 58h0M262.8 102h0M383.3 131.3h0M309.2 126.9h0M303.8 54.2h0M366.5 63.3h0M282 102.7h0M305.6 81.6h0M367 87.9h0M342.8 39.8h0M273.7 106.6h0M395.3 53.3h0M377.9 111.5h0M367.2 57.2h0M269.8 93.4h0M354.8 65.7h0M320.6 102.3h0M337.6 52.2h0M398.6 87.6h0M334.8 37.3h0M288.9 90.5h0M371.5 124h0M259.5 74.5h0M316.6 107.9h0M365.4 56.3h0M357.6 120.9h0M253.8 81.1h0M392.7 91.9h0M371.8 40h0M333.3 130.7h0M283.9 119.4h0M262.3 63.9h0M280.7 73.2h0M265.5 91.9h0M352.8 90.9h0M311.6 70h0M265.2 61.5h0M390.1 114.6h0M278.4 53h0M262.9 77.2h0M264.9 109.5h0M400.2 80.9h0M389.6 89.9h0M273.2 107.6h0M393.3 70.1h0M306.9 63h0M335.7 47.4h0M258.3 91.8h0M285 70.3h0M388 49.4h0M370.9 80.1h0M373.6 132.2h0M318.1 109.2h0M282.3 54.9h0M379 104.2h0M277.7 107h0M313.7 61.6h0M335 77.1h0M399.1 127.8h0M289.2 80.9h0M354.3 79.4h0M320.8 76.9h0M304.8 40.4h0M363.5 39.9h0M347.3 124.2h0M365 35.2h0M315.1 122.6h0M304.9 60.1h0M344.6 71.5h0M341.2 39.6h0M343.5 95.2h0M397.1 115.9h0M394.6 106.9h0M368.8 110.1h0M270.3 84.3h0M393.4 49.8h0M365.8 40.9h0M321.3 112.5h0M299.3 78.6h0M329.6 98.2h0M354.2 119.9h0M353.4 49.2h0M350.6 41.3h0M285.9 58.9h0M388.5 50.6h0M293.9 35.1h0M396.8 65.6h0M374.9 85.6h0M385.9 70.2h0M304.1 62.3h0M351.8 127.5h0M262.3 74.5h0M284.7 64.2h0M319.3 34.5h0M311.8 93.4h0M380.7 61.6h0M341.6 101.7h0M275.2 99.1h0M363.1 74.1h0M366.6 47h0M324.2 110.4h0M262.5 95.6h0M307.5 115.2h0M353.4 68h0M392.9 115.8h0M273.7 54.5h0M314.9 128.1h0M328.1 127.4h0M274.9 44.4h0M258.1 64.4h0M396.1 71.6h0M354.6 126h0M319.4 61.7h0M347.8 34.1h0M383.5 70.8h0M384.1 67.1h0M369.8 26.5h0M381.9 34h0M314.2 26.6h0M381.5 27.3h0M310.5 26.4h0M400.8 41.4h0M277.4 30h0M248.7 109.6h0M243.4 57.6h0M278.4 130.2h0M243 83.8h0M272.5 135.4h0M261.6 121.5h0" stroke="#1ab8cc" stroke-width="1.8" stroke-linecap="round"/>
<path d="M329.5 110.1h0M399.7 73.6h0M368.8 121.1h0M305 119.1h0M346.9 57.9h0M270.1 112.7h0M355.1 53.8h0M307 40.2h0M291.5 39.5h0M311.9 49.2h0M265.4 50.5h0M353.7 76.1h0M402.3 81h0M337.2 113.9h0M264.4 91.1h0M308.6 37.4h0M300.7 41.1h0M298.7 89.7h0M331.1 31.2h0M356.2 95h0M368.2 128.1h0M345.6 133.9h0M290.6 73.7h0M263.4 67.2h0M258.5 77.9h0M385.8 101.5h0M286.7 111.3h0M277.8 102.4h0M390.3 112h0M256.8 63.5h0M323.4 78.6h0M396.1 59.2h0M288.6 73.3h0M315.3 43.8h0M401.7 117.3h0M328.2 112.7h0M365.2 101.2h0M340.4 33h0M304.3 71.4h0M318.8 51.2h0M271.4 51.9h0M255.8 79.4h0M291.9 80.9h0M253.5 62.3h0M336 84.4h0M358.8 104.3h0M285.5 110.6h0M308.8 124h0M296.4 52h0M269.7 115.2h0M326.5 117.9h0M274.4 81.5h0M335.5 125.7h0M268.3 89.5h0M321.8 76.1h0M292.1 38.6h0M286.2 115.4h0M302.9 46.1h0M273.3 98.5h0M378.2 58h0M262.1 67.7h0M344.1 97.7h0M337.1 124.2h0M355.1 67h0M391 128.9h0M352.9 42.1h0M291.2 95.6h0M398 58.5h0M312.3 126.3h0M382.6 127.9h0M352 113.5h0M384 119.6h0M271 53.5h0M330.1 61.6h0M289.3 114.4h0M401.7 90.7h0M277.7 84.8h0M287.3 104h0M386.3 52.7h0M334.9 32.3h0M295.6 115.3h0M387 121h0M282.1 79.7h0M281.4 98.7h0M296.5 125.1h0M348.7 49.4h0M278.4 122.3h0M257.1 61h0M286.1 78.7h0M343.3 103.7h0M306.3 93h0M281.7 38.4h0M380.8 119.2h0M386.4 97.5h0M277.9 74.3h0M368.8 87.3h0M281.2 63h0M277.4 98.8h0M341.8 24.8h0M244.8 98.7h0" stroke="#dc961a" stroke-width="1.8" stroke-linecap="round"/>
<path d="M246 51L262 43L281 38L297 34.5L322 31L358 33.5L378 37.5L393 49" fill="none" stroke="#b8841a" stroke-width="1.6" stroke-opacity="0.75"/>
<path d="M248 80L252 92L257 100L266 118" fill="none" stroke="#b8841a" stroke-width="1.3" stroke-opacity="0.55"/>
<path d="M370 128L385 130L398 128L403 122" fill="none" stroke="#b8841a" stroke-width="4" stroke-opacity="0.75"/>
<path d="M381.3 125L256.1 57.8L257.9 54.4L244.5 54L252.2 65L254.1 61.5L379.3 128.8Z" fill="#fff"/>
<path d="M329.3 131.2L293.3 51.3L297 49.6L286 40.3L285.6 54.7L289.3 53.1L325.3 133Z" fill="#000"/>
<text x="371" y="143" text-anchor="middle" class="sb">2 nm</text>
<path d="M359.4 145.8H380.3" stroke="#000" stroke-width="2.5"/>
<path d="M491.9 90.6h0M512.3 98.1h0M552 30.3h0M457 127.5h0M495.2 51.5h0M609.3 81.3h0M584.7 82h0M554.1 41h0M553.4 131.4h0M536.1 115.4h0M559.1 30.1h0M572.5 96.5h0M501.7 25.9h0M589.2 81.6h0M566.4 132.7h0M565.7 138.1h0M516.2 122.9h0M523.9 139.9h0M591.2 34.3h0M476.1 49.3h0M604.6 77h0M552.1 59.9h0M533.6 70.6h0M509.4 95.7h0M545.6 135.9h0M560.7 139h0M587.7 146.9h0M559 42.6h0M588.4 143.5h0M595.2 93.7h0M565.6 48.6h0M583.9 94.3h0M499.2 30h0M468.7 122.9h0M518.6 41h0M500.6 118.9h0M590.3 27.6h0M550.3 27.7h0M566.4 63.7h0M591.5 145.6h0M533.3 147.8h0M503 31.7h0M548 26h0M485.6 73.4h0M549.6 41.7h0M461.6 131.3h0M503.6 142.8h0M594 69.6h0M526.4 87.5h0M554.8 97.1h0M541.7 100.1h0M600.8 85.9h0M521.8 112.8h0M491.8 59.9h0M606.6 87.7h0M540 23.4h0M519.4 95.1h0M458.1 99.6h0M552.2 80.7h0M560.3 66.4h0M564.6 115h0M458.4 29.6h0M559.8 143.4h0M493.9 79.5h0M546.9 62.3h0M511.4 61.4h0M501.6 69.5h0M574.7 25.4h0M543.2 114.6h0M503.1 50h0M579.6 52.1h0M484 76.8h0M563.2 34.8h0M504.9 64.1h0M584.2 77.2h0M587.6 43.3h0M507.2 103.9h0M592.2 78.8h0M489.9 37.2h0M537.1 46h0M580.1 127.6h0M483.5 57.1h0M580.1 102.9h0M580 65.5h0M475.1 58.8h0M578 56.2h0M508.7 74.5h0M520.1 73.6h0M597.7 41.7h0M455.7 140.9h0M522.3 141.7h0M598.7 50h0M570.6 127.4h0M557.8 87.4h0M499.8 65h0M490.3 30.6h0M546.2 58.2h0M580.6 27.7h0M595.1 109.4h0M598.2 135h0M457 115.9h0M481.6 59.8h0M519.1 140.3h0M549.9 65h0M494.1 130.6h0M529 120.6h0M509.5 46.9h0M537.9 124.9h0M481.6 121.8h0M597.9 123.6h0M582.6 22.9h0M462.7 56.2h0M496.6 88.4h0M520.6 81.6h0M575.4 22.2h0M463.5 38h0M474.3 30.6h0M606.1 129.7h0M468.3 85.3h0M504 61.6h0M509.4 103.5h0M545.9 67.5h0M484.6 63.4h0M474.2 92h0M566 69.9h0M467.4 44.5h0M576.3 69.9h0M579.2 100.5h0M521.9 68.9h0M531.9 110.6h0M520.2 109.5h0M526.4 52.9h0M538.1 109.6h0M466.1 75.5h0M521 132.8h0M600.2 69.2h0M594.2 121.7h0M474.1 124.5h0M557.7 133.8h0M577.8 106.1h0M568.7 93h0M471 96.1h0M455.8 40.1h0M575 27.6h0M469.2 34.5h0M591.5 44.6h0M473.8 128.3h0M559.4 127.4h0M602.6 95h0M578.8 26.6h0M573.9 86.4h0M565.8 35.4h0M571.1 139.8h0M464.5 62.9h0M542.4 126.3h0M492.5 44.7h0M493.7 99.6h0M571.8 71.6h0M512 72h0M605.8 74h0M570.8 42.2h0M562.1 117.3h0M530 103h0M594.1 40.8h0M469.9 116.3h0M597.1 87.2h0M485.9 95.8h0M562.1 142.1h0M500.9 110.9h0M519 129.6h0M545.6 55.7h0M488.7 24.9h0M529.3 70.2h0M481.7 67.4h0M504.9 119.5h0M477.3 146.9h0M529.3 97.5h0M527.5 127.2h0M582.4 92.2h0M529.6 112.8h0M587.8 72.4h0M568.7 143h0M527.4 50.9h0M491.4 112.4h0M587.4 52.5h0M484.4 54.6h0M484 110.8h0M588.1 135.4h0M503.6 75.3h0M568 32.8h0M469.4 127.1h0M500.2 66.9h0M544.9 107.1h0M456.1 64.2h0M522.6 83.2h0M603.1 71.3h0M539.4 37h0M497.6 105.8h0M472.4 133.8h0M595.9 34.2h0M574.7 117.4h0M500.8 107.2h0M556.4 123.6h0M496.2 117h0M604 106.8h0M531.6 66.4h0M566.3 107.5h0M542.8 44.9h0M555.1 101.5h0M482.8 134.1h0M556.6 37.5h0M599.4 39.8h0M506.4 112.8h0M547.6 91.9h0M555.4 79.7h0M503.4 44.2h0M465.6 112.2h0M571.9 90.4h0M569.6 67.3h0M496.2 70.3h0M533.2 53.1h0M574.2 66.6h0M506.6 72.8h0M538.9 119.2h0M509.7 128.7h0M472.4 56.1h0M470.4 36.2h0M575.7 113.6h0M483.7 45.8h0M519.6 115.7h0M581.4 116.3h0M546.7 40.5h0M516.8 46.4h0M536.8 93.6h0M486.3 53.5h0M579.5 134.3h0M540.7 95.5h0M553.2 145.1h0M561.4 59.7h0M548.2 113.6h0M455.4 119.1h0M557.6 84h0M536.2 80h0M485 88.7h0M460.7 85.1h0M542.7 142.8h0M462.8 67.3h0M538.5 139.2h0M505.1 131.7h0M562.7 38.9h0M588 97.7h0M598.7 112.2h0M580 139.4h0M588.5 77.1h0M572.3 83.1h0M471.9 27.4h0M467.1 47.2h0M479.9 84.6h0M563.4 89.7h0M520.4 103.8h0M502.2 80.5h0M512.5 88.7h0M547.5 50.2h0M455.4 48.3h0M576.4 40.1h0M526.3 46.6h0M487.4 43.5h0M517.6 43.2h0M459.3 35.9h0M464.3 24.8h0M524.4 73.4h0M564 28.4h0M517.5 72h0M459.1 143.7h0M488.9 33.9h0M528.6 42.8h0M474.2 28.5h0M567.8 56.7h0M577.1 80.6h0M599.6 59.9h0M493.7 55.5h0M508.4 33.8h0M546.8 22.5h0M459.7 33.4h0M481.4 26.6h0M463.4 104.4h0M594.5 47.3h0M605.9 82.1h0M600.7 26.3h0M502.2 98.5h0M601.7 33.1h0M500.5 129.1h0M472.8 71.1h0M506.8 107.7h0M598.9 44h0M569.7 114.5h0M584.5 91.7h0M598.1 67.7h0M519.3 50.9h0M575.8 82.6h0M496.8 43.4h0M566.7 98.3h0M530.5 41.4h0M565.2 24.9h0M527.4 117.6h0M560 34.2h0M491.8 128.3h0M594 114.3h0M506.7 68.6h0M466.2 72.3h0M603.1 35.2h0M543.2 35.9h0M467.5 103.8h0M492.3 28.2h0M478.7 103.2h0M490.6 143.9h0M489.1 92.9h0M520 120.4h0M548.7 121.4h0M482.5 32h0M583 36.2h0M485.9 134.6h0M468.3 80.6h0M489.5 126.5h0M550.4 102.9h0M573 131.8h0M508.6 98h0M524.1 36h0M584.5 96.9h0M581.3 48h0M538.6 80.5h0M508.7 83.1h0M466.1 91.6h0M569 75.3h0M488.2 66.2h0M609.3 64.2h0M521.8 32.6h0M549.9 139.3h0M538 74.8h0M601.9 135.8h0M602.2 83h0M574.9 73.3h0M609.6 138h0M500.3 139.7h0M483.6 34.1h0M567 59.1h0M535.5 102.5h0M461.3 115.9h0M497.8 76.5h0M508.4 115.5h0M570.8 58.2h0M471 59.7h0M518.7 31.8h0M478.7 118.1h0M563.6 145h0M606.8 132.4h0M512.8 42.3h0M536.5 90.3h0M499.2 80.4h0M592.5 123.7h0M501.1 52.6h0M580 23.3h0M475.4 88.9h0M538.1 42.9h0M462.8 47.7h0M574.3 80.7h0M606.8 121h0M606.8 26.4h0M483.7 23.7h0M522 64.6h0M462.9 90.8h0M469.5 61.3h0M493.3 123.1h0M519.8 54.8h0M461.8 76.1h0M552.3 107.1h0M493.3 39.1h0M572.5 121.5h0M533.9 126.7h0M540.5 57.2h0M481.2 24.1h0M554.7 135h0M595.5 80.9h0M558.2 139h0M581.2 97.9h0M519.2 87.3h0M481.5 45.1h0M561 147h0M539.8 73.4h0M509.5 79.3h0M579.5 79h0M603.7 41.6h0M503.8 87.8h0M583.3 139.3h0M544 91.3h0M530.6 57.3h0M470.9 106.3h0M593.8 143h0M554.8 46.6h0M514.4 126.4h0" stroke="#e4e4e4" stroke-width="1.0" stroke-linecap="round"/>
<path d="M473.4 41L489.7 30.5L515.4 25.8L543.5 27L566.8 31.7L585.5 41L597.2 52.7L599.5 66.7L597.2 90.1L585.5 101.8L566.8 113.5L552.8 120.5L520.1 127.5L496.7 132.1L473.4 136.8L461.7 136.8L460.5 118.1L461.7 90.1L466.4 66.7L469.9 48Z" fill="#6a9a98" fill-opacity="0.35"/>
<path d="M486.9 117.1h0M580.3 52.8h0M506.9 65.9h0M533.9 72.8h0M530.8 60.9h0M490.8 93.5h0M528.2 94.2h0M541.4 54.7h0M504.5 123.1h0" stroke="#3fe03f" stroke-width="2.85" stroke-linecap="round"/>
<path d="M504.6 69.4h0M480.8 92.4h0M472.8 97h0M515.3 85.7h0M541.5 117.2h0M592.3 78.7h0M489.9 110h0M571.7 64.1h0M487.8 93.1h0M475.3 125.5h0M512.7 65.9h0M593.8 73.6h0M550.7 79.7h0M505.3 71h0M477.9 114.6h0M484.5 134.1h0M581.9 74.9h0M491.3 34.5h0M530.6 92.4h0M559.3 110.5h0M498.3 49.4h0M469.5 132.4h0M555.4 107.1h0M475.6 99.2h0M528.8 83h0M495.9 113.2h0M519.8 111.7h0M490.7 95.2h0M485.6 79.2h0M475.9 118.4h0M472.6 98.8h0M546.8 90.6h0M512 115.3h0M507.8 120.6h0M557.8 113.8h0M494.1 80.5h0M529.9 58.8h0M542.7 122.2h0M516.4 126.1h0M520.2 74.1h0M472.3 136.1h0M527.1 28.3h0M494.3 72.3h0M589.4 81.9h0M473.6 86.6h0M489.4 121.5h0M541.2 71.9h0M477.5 130.5h0M534.6 30.1h0M470 104.3h0M503.6 126.4h0M496.2 60h0M583.2 100.6h0M510.2 95.4h0M522.6 100.6h0M521.7 113.7h0M482 112.6h0M489.1 83.7h0M563.9 93.8h0M485.9 118.9h0M562.3 46.3h0M472.8 109.8h0M548.7 78.3h0M466.5 128.8h0M564.9 104.9h0M558.9 75.6h0M517 108.7h0M525.3 97.2h0M490.8 119h0M579.3 84.3h0M566.8 106.7h0M486.5 128.6h0M506.4 122.4h0M531.1 98.9h0M529.2 77.8h0M474.9 70.6h0M592.2 95h0M532.9 124.7h0M539.8 115.6h0M471.1 102.2h0M520 67h0M502.8 86.1h0M560.9 45h0M491 97.3h0M542 78.9h0M562.9 109.8h0M550.5 32.8h0M572.4 35.8h0M474.5 95.1h0M530 94.8h0M521 65.7h0M502.3 130.6h0M541.3 58.1h0M460.9 109.2h0M482.1 96.6h0M544.6 119.8h0M554.6 139.2h0M548.7 126.8h0M537.1 133.3h0M497.1 142.1h0" stroke="#d41010" stroke-width="2.85" stroke-linecap="round"/>
<path d="M504.5 55.9h0M527.6 55.5h0M480.7 39.9h0M508.5 108.8h0M505.4 82h0M523.5 78.8h0M559.4 65.9h0M526.6 124.6h0M506.6 72.3h0M490.5 117.1h0M539 53h0M564.5 58.1h0M468.1 79.3h0M556 73.3h0M479.5 95.2h0M473.8 60.8h0M503.4 32.8h0M472.8 132.8h0M474.9 110.9h0M589.5 54h0M538 38.7h0M511.4 27h0M487.2 85.3h0M569.7 58.9h0M573.5 100.3h0M578.8 90.3h0M566.1 102h0M521 97.2h0M546.6 39.7h0M573.7 65.3h0M518.2 50.5h0M595.4 89.8h0M482.1 54.2h0M509.5 98.3h0M504.4 124.8h0M507.6 42.3h0M571.4 34.4h0M544.4 75.3h0M472.2 56.9h0M557.1 47.5h0M471.2 129h0M512.7 109.7h0M572.4 90.7h0M580.9 86.2h0M591.2 66h0M484.7 82.1h0M502.7 42.4h0M486.1 100h0M553.1 33.3h0M501 41.9h0M561.6 51.7h0M552.2 70.8h0M579.7 93.5h0M563.7 71.4h0M550.2 47.1h0M500.1 105.5h0M504.7 34.4h0M544.5 53.2h0M517.5 74.8h0M509.2 85.4h0M492.7 40.8h0M557.3 80h0M500.8 36.8h0M523.7 51.7h0M550.8 36h0M549 49.2h0M501.1 55.3h0M469 68.2h0M532.8 44.1h0M528.7 60.9h0M489.1 55.1h0M589.5 76.4h0M584.4 48.6h0M576.4 66h0M550 67.6h0M543.6 115.3h0M549 94h0M589.9 86.4h0M525.6 58.7h0M592.5 70.5h0M552.5 104.9h0M477.6 78.1h0M542.9 112.9h0M477.8 53.8h0M547.8 105.7h0M533.8 84.7h0M569.6 56.9h0M521.9 72.5h0M506.8 28.1h0M518.9 41.7h0M467.3 88.2h0M506.6 128.7h0M477.5 72.7h0M501 101.6h0M571.9 77.4h0M500.4 126.6h0M538 34.2h0M483.4 72.4h0M476.6 55.1h0M484.7 101.4h0M555.5 64.3h0M570.9 41.8h0M562.4 104.1h0M550.9 28.7h0M569.4 107.6h0M520.9 70.8h0M560.3 90.4h0M463.9 83.6h0M553.1 46.3h0M489.4 42h0M529 63.5h0M512 82.1h0M501.6 28.7h0M472.3 111.8h0M524 53.4h0M593.3 82.2h0M550.2 101.4h0M553.9 109.3h0M552.3 98.7h0M550.1 64.8h0M532.8 46.7h0M480.1 89.1h0M476.6 83.1h0M508.7 64.2h0M538.1 30.9h0M514.8 58.6h0M540.7 74.9h0M552.5 56.1h0M553 80h0M507.6 92.6h0M510.8 35.8h0M477.5 94.1h0M575.9 94.1h0M475.3 44.1h0M540.9 121.9h0M509.1 43.5h0M535.9 55.6h0M489.3 75h0M582.3 39.5h0M567.7 56.3h0M486 40.6h0M487.4 41.5h0M511.4 120.1h0M577.8 88.6h0M570.6 54.2h0M521.1 29.9h0M514.5 66.1h0M554.7 91.9h0M517.4 32.7h0M461.7 115.9h0M581.6 91.5h0M467.2 96.7h0M502 84h0M483.1 60.5h0M523.8 105h0M549.3 117.7h0M507 104.2h0M518.9 34.3h0M568 60.7h0M547.6 46.9h0M597.5 69.8h0M520.3 38.2h0M556.8 58.5h0M515.2 73.4h0M513.6 46.4h0M551.6 34.2h0M549.9 112.9h0M471.2 69.9h0M512.4 98.4h0M484.9 67.9h0M594.2 52.8h0M577 54h0M504.1 83.1h0M516.3 120.4h0M507.5 69.7h0M502.9 120.6h0M546.7 86h0M500.3 79h0M514.3 42.2h0M489.8 33.5h0M592.7 92.3h0M587.4 46.3h0M565.5 97.1h0M501 107.5h0M517.4 42.5h0M470.6 59.9h0M537.2 110.2h0M545.4 94.6h0M531.7 84.8h0M489.8 65.2h0M461.6 96.4h0M559.5 36.9h0M467.1 119.5h0M489.8 130.9h0M531.7 68.7h0M517.2 90.8h0M467.8 86.5h0M521.8 104.3h0M548.4 28.1h0M502.2 117h0M567.2 44.1h0M495.5 84.4h0M485.7 70.9h0M598.1 75.9h0M594.1 87h0M485.4 37.2h0M570.3 48.9h0M552.4 51.3h0M554.2 90.3h0M463.8 80h0M522.6 26.7h0M472.9 42.5h0M594.2 49.7h0M507.8 62.4h0M493.4 110.7h0M553.4 84.2h0M566.2 61.2h0M585.2 100.8h0M551 74.9h0M559.3 126.1h0M565.6 134.4h0M526.6 129.9h0M540.7 132.4h0M544.5 126.6h0M570 135.6h0" stroke="#1ab8cc" stroke-width="2.85" stroke-linecap="round"/>
<path d="M566.1 45.4h0M536.8 123.9h0M479 84.8h0M555.8 50.4h0M475.7 87.3h0M512.3 30.6h0M541.4 95h0M554.2 82.7h0M488.7 63.2h0M596.1 57.1h0M536 71h0M526.2 105.2h0M533.1 100.1h0M468.5 128h0M489.2 98.3h0M471.3 133.7h0M464.6 133.4h0M555.4 47.5h0M512.4 100.9h0M508.1 45.4h0M499.7 57.5h0M467.8 82.8h0M557.3 36.7h0M500.9 30.8h0M536.3 80.9h0M587.3 88.8h0M487.3 109.9h0M541.1 91.5h0M559.2 41h0M524.4 83.5h0M494.1 57.4h0M510.4 100h0M482.6 93.9h0M498.5 43.3h0M488.4 78.2h0M533.6 28.6h0M506.5 94.7h0M478.4 124.4h0M540.2 112.1h0M519.2 98h0M517.4 36.7h0M515.5 116.2h0M557.4 101.4h0M586.3 48h0M569.7 85.2h0M528.3 41.8h0M562.2 50h0M527.6 79h0M502.7 73.8h0M480.1 48.1h0M472.9 66.4h0M569 45.2h0M475 92.8h0M490.2 77.8h0M529.5 74.2h0M546.4 43.2h0M511.6 58.6h0M515.1 80h0M478.9 132.9h0M559.3 80.8h0M480.1 42.2h0M510.6 118.6h0M588.1 92.6h0M531.6 37h0M506.2 120.1h0M480.2 52.6h0M538.7 105h0M567.4 70.5h0M563.9 95.6h0M542.2 96.7h0M530.1 85.7h0M516.8 39.9h0M490 91.8h0M534.2 70.1h0M546.7 45.1h0M470.3 49.7h0M579.8 76.7h0M521.7 77.1h0M490.9 100.8h0M494.1 76.9h0M468.3 102.3h0M572.3 59.6h0M592.9 62.9h0M461.8 112.4h0M477.8 47.6h0M539.8 79.2h0M534.8 40.3h0M489.8 57.7h0M500 71.2h0M499.4 35.6h0M489 116.5h0M533 38.6h0M464.2 115.2h0M571 37.3h0M505.9 68.3h0M553.1 85.8h0M473.5 113.3h0M486.1 46.1h0M510 73.4h0M535.9 62.3h0M491.1 41.6h0M483.3 66.8h0M478.8 40.1h0M482.5 69.9h0M549.4 103.3h0M568.3 76.1h0M494.2 54h0M532.1 42.4h0M549.9 54h0M482.5 101.2h0M564 78h0M598.6 63.9h0M482.9 130.7h0M464.9 92.6h0M569.9 105.5h0M466 113h0M559.9 30.7h0M497.6 76.2h0M492.2 76.6h0M493.7 121.1h0M505.5 114.9h0M469.1 53.7h0M501.2 51.4h0M483.9 127.4h0M471.4 93.2h0M493.8 107h0M588 55h0M587.7 124.2h0M569.9 115.1h0M500.1 134.5h0M603.3 121.7h0M518.2 136.8h0M574.4 117h0" stroke="#dc961a" stroke-width="2.85" stroke-linecap="round"/>
<path d="M471.5 51.3h0M534.4 122.9h0M464.2 129.6h0M528.6 90.1h0M566.3 87.1h0M539.9 82.5h0M482.5 134.6h0M570.9 81.3h0M463 131.2h0M581.6 64h0M476.4 122h0M550.8 76.7h0M510.1 59.4h0M491.8 113.8h0M517.3 92.6h0M525 36.6h0M547.3 83.6h0M526.1 93.9h0M537.7 100.8h0M542.9 119.4h0M500.6 117.6h0M509.4 75.8h0M510.5 111.7h0M494 129.6h0M542.2 98.5h0M471.9 89h0M477.6 135.1h0M485.3 89h0M501.3 70.2h0M470.7 106.6h0M556.4 75h0M479.3 63.1h0M529.6 81.4h0M496.9 114.5h0M466.1 115.8h0M519.3 30.4h0M527.2 117.3h0M551.4 118.2h0M513.5 63.6h0M483.3 102.9h0M468.3 133.5h0M533.6 97.9h0M564.7 72.9h0M460.9 124.6h0M560.9 105.1h0M598.2 73.8h0M549.1 88.8h0M477.2 109.5h0M500.1 88.5h0M523.1 70.8h0M559.9 113.6h0M495.4 52.1h0M587.4 50.6h0M576 59.5h0M494.6 94.9h0M503.6 31h0M568 58.5h0M553.5 67.3h0M496.2 123.4h0M541.4 102.2h0M488.7 90.7h0M489.7 52.2h0M512.8 39.7h0M567.2 72.6h0M463.4 95.9h0M529.8 117.2h0M471.3 131.7h0M508.9 87.5h0M576.8 44.1h0M560.3 108.9h0M567.7 68.9h0M560.3 57.5h0M566.7 85.2h0M511.1 83.5h0M464.7 128h0M473.8 117.4h0M513.9 99.9h0M487.1 74.8h0M482.8 115.2h0M467.8 125.2h0M501.3 103.6h0M501.6 67.7h0M471.2 77.6h0M551.6 66.6h0M577.5 72.2h0M509.9 125.5h0M579.2 80.6h0M547.4 114.5h0M467.7 136.7h0M461.8 98.2h0M546.1 115.5h0M577.5 40.7h0M527.5 81.6h0M537.3 69.6h0M522.9 98.8h0M495.2 131.6h0M539.4 127.4h0M590.4 113.5h0M551.2 123.4h0M566.4 139.6h0" stroke="#d41010" stroke-width="2.85" stroke-linecap="round"/>
<path d="M594 85.2h0M545.9 41.3h0M546.7 65.2h0M475.5 84.4h0M520.8 54.9h0M537.9 108.6h0M521.5 39.8h0M470 100.9h0M494.1 46h0M494.4 50.4h0M507 58.1h0M535.7 118.9h0M479.5 106.7h0M473.7 108.4h0M574.8 98.3h0M596.4 76.3h0M475.6 123.9h0M512.3 104.1h0M503.5 96.9h0M570.6 109.7h0M462.9 99.4h0M500.1 83.7h0M521.6 107.8h0M547.9 70.6h0M593 89.6h0M514.4 109.7h0M481.6 119.9h0M480.6 57.3h0M574.1 35.7h0M539.4 102.7h0M512.7 41.9h0M462 119.4h0M568 105.3h0M499.3 121.1h0M519.2 71h0M519.9 45.3h0M568.6 64.6h0M469 123.8h0M561.1 85.3h0M552 78.3h0M478 99.7h0M564.5 61.2h0M541.3 30.8h0M479.7 118.9h0M506.5 86.5h0M483 91.4h0M479.9 114.2h0M520.2 51.4h0M516.1 61.6h0M561.4 95.8h0M583 97.5h0M556.9 78.3h0M501.6 45.1h0M567.8 95.8h0M532.3 106.5h0M553.1 37.3h0M463.9 117.2h0M488.9 101.1h0M486.3 49.9h0M597.7 56h0M472.8 94.4h0M569.5 38h0M475.9 96.1h0M539 97h0M473.7 81h0M568.4 87.3h0M516.9 101.4h0M477.9 103.4h0M511.2 47.4h0M525.9 49.7h0M521.1 43.1h0M533.5 87.2h0M539.3 110.2h0M501.9 123.8h0M505.6 97.4h0M547.7 73.2h0M481.9 43.1h0M540.5 118.8h0M559 105.9h0M482.9 122.7h0M552.7 89.5h0M541.5 108.3h0M517.5 112.2h0M497.9 91.1h0M511.7 94.5h0M499.3 75.7h0M522.2 52.9h0M463.2 85.9h0M511.5 63.8h0M598.1 77.7h0M470.3 116.5h0M593.5 64.7h0M582.4 93.5h0M513.1 59.6h0M526.7 119.5h0M522.9 43.2h0M538.2 29.1h0M577.9 93.8h0M542.1 85.9h0M481.3 94.9h0M533.1 114.9h0M557.6 76.6h0M555.6 53.4h0M520.8 106h0M509 36.9h0M552.1 87.8h0M484.9 91.3h0M480.3 86.6h0M481.4 85h0M539.4 100.2h0M535.8 108.3h0M506.1 74h0M588.7 61.7h0M552 94.2h0M484.2 51.5h0M477 125.8h0M482.6 106.5h0M470.8 63.1h0M479.6 98.6h0M471 113.1h0M528.3 47.3h0M485.2 98.4h0M478.5 83.1h0M595.3 58.6h0M495.8 99.1h0M538.7 41.9h0M522.5 106.1h0M564.1 125.3h0M498.2 138.4h0M591.3 101.5h0M521.7 138.5h0M574.7 131.7h0M597.3 106.7h0" stroke="#dc961a" stroke-width="2.85" stroke-linecap="round"/>
<path d="M491.1 67h0M585.2 88.4h0M580.1 58.2h0M482.9 74.8h0M583.1 58.1h0M522.4 59.8h0M537.8 54.5h0M513.5 123.7h0M552.2 131.3h0" stroke="#3fe03f" stroke-width="2.85" stroke-linecap="round"/>
<path d="M499.7 40.4h0M536.4 31h0M509.5 127.4h0M522 85.1h0M512.4 61.1h0M597.6 84.5h0M516 67.2h0M500.4 46.9h0M533.3 89.5h0M587.5 69.9h0M557.7 49.7h0M495.2 103.2h0M581.2 83h0M572.3 54.4h0M569.6 69.2h0M540.1 86.4h0M477.5 81.2h0M548.1 35h0M527 67.8h0M590.8 51.3h0M503.7 99.6h0M496.7 34.5h0M542.1 40h0M559.4 48.3h0M528.4 30.7h0M493.7 104.7h0M497.4 66.7h0M532.3 57.5h0M533.5 54.4h0M585.2 70.3h0M466.9 103.9h0M593.7 55.5h0M524.9 99.1h0M547.8 95.2h0M478.7 87.4h0M506.7 118.3h0M530.8 56.2h0M565.7 64.7h0M467.8 73.5h0M512.5 84.6h0M561.2 76.4h0M469.1 61.2h0M536 112.6h0M475.5 57.4h0M579.3 66.7h0M543.4 79.9h0M466.2 125.4h0M523.2 103h0M556.6 112.6h0M562.2 37.7h0M538.1 27h0M516.3 128h0M569.1 100h0M463.9 110.6h0M557.3 85.1h0M591.4 77.3h0M499.1 32.9h0M576.7 103.9h0M485 66.2h0M571 83.4h0M576.7 42.3h0M550.4 52.4h0M514.4 35.3h0M593 51.4h0M503.8 116h0M545.8 63.7h0M526 71.3h0M531.3 88.7h0M559.3 70.8h0M522.4 117.6h0M502 38h0M562 78.4h0M544.2 69h0M492.2 43.3h0M467.3 123.5h0M580.8 69h0M514.7 118.8h0M580.3 43.4h0M560 53.4h0M492.9 35.2h0M580.2 45.7h0M508.5 71.1h0M553.5 103h0M480.7 37.6h0M524.4 73h0M469.7 94.1h0M486.8 65.9h0M528.2 118.8h0M544.8 114.1h0M479.3 44.1h0M531.6 95.4h0M517.4 71.8h0M587.9 81.1h0M533.5 92.4h0M580.1 89.1h0M559.1 68.8h0M579.8 91.6h0M467.7 60.2h0M541.1 43.7h0M547.8 87.3h0M564.1 56.4h0M495.7 76.4h0M538 79.6h0M513.8 56.4h0M517.2 115.8h0M558.5 34.1h0M564.3 35.1h0M489.4 40.2h0M508.6 40.9h0M505.8 33.1h0M525.1 56.2h0M481.9 73.5h0M552.5 112.1h0M530.7 108.7h0M565 88.4h0M496.1 79.9h0M474.2 50.7h0M515.1 51.7h0M553.7 41.7h0M548.6 111.1h0M550.6 69.5h0M541 51.4h0M509 56h0M492.2 52.7h0M568.3 34h0M486.4 35.2h0M565.6 40.7h0M495.5 32.2h0M475.2 102.4h0M540.4 49.1h0M509.5 27.1h0M554.1 60.5h0M504.7 121.3h0M544.5 48.9h0M514.7 126.8h0M534.3 104.3h0M557.8 90h0M584.6 53.5h0M569.1 67.4h0M508.1 112.2h0M511.1 102.8h0M540.1 98.7h0M590.1 58.1h0M592.7 48.6h0M570 101.7h0M530.4 71.8h0M589.4 55.7h0M481.1 100h0M550.7 38.2h0M462.8 105.7h0M478.2 97.5h0M527.9 85.8h0M533.1 49.7h0M518.7 65.7h0M573.8 103.3h0M475.3 47.8h0M512.5 71.7h0M492.8 102.6h0M501.6 57h0M488.6 36.7h0M531.4 48.7h0M562.8 31h0M570.5 92.8h0M500.4 122.8h0M517.9 88.4h0M576.8 98.6h0M573.1 80.5h0M503.2 102.6h0M526 51.8h0M582.3 49.2h0M552.7 74.6h0M545.8 101.6h0M558.2 30.4h0M581.4 97.5h0M557.4 111.1h0M535.4 26.7h0M466.4 71.7h0M528.4 69.8h0M510.3 41.2h0M550.5 58.1h0M497.1 121.8h0M538.9 62.8h0M505 80.3h0M574.7 96.6h0M531.3 64h0M512 45h0M571.1 107h0M506 76.3h0M561.4 68.4h0M496.7 94.9h0M464.1 121.2h0M562.5 48.1h0M485.4 57h0M581.4 56.3h0M497.8 65h0M598 59.6h0M535.1 97h0M507 53.1h0M571.5 62.4h0M548.2 81.1h0M583 78.1h0M498.8 80.5h0M566 113.8h0M565.4 52.7h0M510.3 71.2h0M487.4 79.6h0M558.6 103.4h0M578.2 62.9h0M590.1 47.8h0M476.7 74.4h0M560.1 49.9h0M463.7 103.8h0M570.3 65.1h0M494.1 126.2h0M533.7 74.4h0M548 118.9h0M555 45.8h0M533.9 41.7h0M580.7 38.7h0M593.7 120.6h0M507.7 136.4h0M513 142.9h0M588.8 104.6h0M530.1 138.9h0" stroke="#1ab8cc" stroke-width="2.85" stroke-linecap="round"/>
<path d="M525 85.5h0M502.3 81.9h0M487.5 122.5h0M497.8 125.6h0M562.7 64.7h0M564.8 50.8h0M563.3 79.6h0M503 107.7h0M472.4 124.3h0M484.1 62.2h0M484.8 114.1h0M533.2 80.3h0M586.2 99.3h0M538.5 59.5h0M493.4 116.7h0M500.6 113.2h0M495.5 127.1h0M577.7 77.2h0M572.8 39.9h0M549.5 114.7h0M562.2 61.9h0M539.4 107.9h0M539.4 114h0M574.3 74h0M462 91.7h0M522.6 121.1h0M475.5 106.3h0M579.4 73h0M504 130.5h0M467.1 111.6h0M578 102.5h0M510.4 110h0M559.5 44h0M473.3 72.8h0M511.9 127.5h0M523 56.9h0M496.8 45.6h0M499.2 101h0M487.3 57h0M587.5 87h0M538.8 118.9h0M502.2 115.2h0M497.1 131.2h0M493.1 86.5h0M472 71.5h0M557.4 51.8h0M526.3 107.9h0M486.3 76.7h0M537.5 48.3h0M485 93.3h0M505.8 108.5h0M512.5 73.4h0M537.7 92.1h0M497.2 117.9h0M476.3 63.2h0M463.2 134.4h0M531.9 123h0M541 76.7h0M535.1 76.9h0M478.9 122.2h0M501 73.7h0M586.6 85.4h0M508.6 54.2h0M518.5 55.8h0M519 89.7h0M542.2 82.6h0M594.9 74.8h0M564 103.2h0M543 107h0M545.3 105.8h0M498 104.7h0M468.7 106.8h0M548.3 68.8h0M467.2 114.4h0M550.9 95.4h0M475.5 132.1h0M465.4 89.4h0M546.2 74.3h0M561.3 98.3h0M462.3 110.8h0M473 134.5h0M549.8 30.8h0M490.6 107.9h0M498.2 110.2h0M545.3 112.2h0M478.2 45.4h0M584.9 72.8h0M551.2 81.3h0M592.4 86.2h0M581.1 66.7h0M526.8 111.3h0M534.6 45.8h0M544.1 64h0M512.9 128.9h0M502.8 55.4h0M508.3 117.8h0M578.1 140h0M597.1 118.9h0M559.7 141.5h0M541.1 138.8h0" stroke="#d41010" stroke-width="2.85" stroke-linecap="round"/>
<path d="M488.3 34.6h0M493.3 132.1h0M471.2 47.1h0M576.3 48.1h0M510.3 92.5h0M521.9 94.4h0M541.7 42h0M575 92.3h0M525.7 121h0M490 46.5h0M543.6 95.5h0M538.7 68.6h0M515.7 33.1h0M514.4 31h0M545.4 55h0M543.5 58h0M589 71.8h0M559.3 88h0M479.7 112h0M585.8 62.8h0M515.9 64.1h0M565.5 75.9h0M504.7 63.1h0M538.5 89.8h0M541.8 80.9h0M548.7 32.7h0M510.1 82.2h0M566 56.7h0M514 83.9h0M567.7 38.6h0M530 42.8h0M476.3 51.8h0M573.4 41.7h0M528.7 109.2h0M530.3 69.9h0M485.4 75h0M552 54.2h0M521.6 67.4h0M551.1 42.9h0M568.5 48.1h0M482.1 65.2h0M486.9 90.7h0M551 73h0M590.1 63.1h0M478.3 55.7h0M531.2 78.1h0M484.8 95.3h0M492.4 126.8h0M585 97.9h0M543.4 34.6h0M521.5 45.5h0M571 66.7h0M559.4 39.1h0M497.1 36.9h0M551.4 30.9h0M573.7 62h0M539.1 40.2h0M498.5 108.1h0M477.5 117.2h0M525.3 62.8h0M504.8 54.1h0M565 91.5h0M596.9 62.7h0M579.5 41.9h0M550.7 97.6h0M510.6 121.8h0M518 68.6h0M573.9 78.9h0M491.9 30.5h0M471 80h0M506.8 84.9h0M480.5 60.8h0M554.6 81h0M487.4 59.4h0M508.8 35h0M468.8 75.2h0M484.6 122.2h0M500.7 90.7h0M475.8 49.8h0M488 38.4h0M506.3 61.6h0M518.5 78.1h0M584.7 51.1h0M582.5 43.1h0M465 135.2h0M524.8 118.2h0M491.5 81.9h0M520.3 84.1h0M522.9 61.9h0M486.2 61.9h0M541.6 88h0M555.4 42.5h0M563.9 45.1h0M553.9 51.9h0M590.7 71.9h0M533.3 31.7h0M594.7 62.6h0M472.9 49.6h0M542.4 27.9h0M578 64.6h0M473.9 100.8h0M558.9 97.2h0M488.7 66.5h0M582.6 52.4h0M543.6 100.2h0M574.5 52h0M595.4 51.6h0M485.6 42.6h0M480.3 45.9h0M577.9 69.4h0M524.4 33.7h0M480.9 115.6h0M490 115.2h0M556.8 68.3h0M502.9 53.5h0M569.7 98.2h0M546.3 104.2h0M517.2 34.5h0M479.4 50.9h0M474.5 42.2h0M484.7 45h0M482.1 68.2h0M560.5 106.8h0M574.1 108.3h0M474.8 79h0M473.1 47.8h0M527.7 100.4h0M576.2 51.1h0M476.8 90.1h0M485 59.1h0M494.5 124.4h0M566.4 100.3h0M550.2 84.5h0M483.4 89.3h0M588 63.4h0M478.3 59.4h0M546.5 69.4h0M520.8 27h0M527 115h0M548.6 65.9h0M530.8 66.1h0M497.8 96.6h0M538 45.1h0M472.8 129.5h0M569.6 103.8h0M513.1 75.5h0M565.6 81h0M533.5 52h0M555.6 79.6h0M537.9 50.1h0M553.3 95.3h0M499.3 97.2h0M507.2 82.3h0M519.2 116.7h0M520 58.3h0M498.6 92.9h0M586.1 58.8h0M506.8 102.2h0M467.1 65.1h0M562.7 59.5h0M553.8 53.8h0M477.6 106.5h0M491.1 63.2h0M464.8 105.2h0M519.6 69.3h0M469.6 136.7h0M551 40.9h0M528.3 37.6h0M582.5 65.6h0M555.3 30.2h0M481.8 58.9h0M498.7 114.2h0M501.8 62.7h0M569.7 43.6h0M468.5 71.8h0M530.6 50.2h0M502.5 65.3h0M549.5 56.6h0M465 77.7h0M487.2 87h0M476.2 65.2h0M481.3 90.5h0M584 46.7h0M526.8 90.8h0M551.5 45.2h0M506.9 55.2h0M547.3 97.1h0M524.2 94.1h0M473.7 58.1h0M565.4 83.2h0M474.7 74.6h0M588.3 85.5h0M557.6 99.1h0M545.2 27.5h0M508.4 110.5h0M481.4 78.7h0M527.5 57.5h0M556.8 40.9h0M463 113.7h0M586.2 53.1h0M490 68.4h0M488 94.8h0M560.3 33.5h0M552.7 96.9h0M521.6 78.8h0M530.5 44.5h0M526.7 69.7h0M591.5 90.2h0M569.8 33.2h0M467.1 126.8h0M545.6 72.7h0M468.7 66.1h0M534 112.3h0M568.1 92.5h0M504.2 72.7h0M475.3 59.2h0M530 37.5h0M573.1 44.2h0M513 86.4h0M597 130.1h0M587 137.9h0M547.8 131.9h0M483.8 139.9h0M594.3 110.5h0" stroke="#1ab8cc" stroke-width="2.85" stroke-linecap="round"/>
<path d="M567.4 82.2h0M502.6 112.3h0M483.8 84.9h0M554.3 69.8h0M472.6 126.6h0M496.9 70.2h0M527.9 122.1h0M591.8 69h0M597 134.1h0" stroke="#3fe03f" stroke-width="2.85" stroke-linecap="round"/>
<path d="M569.2 88.9h0M499.8 29.1h0M520.7 60.4h0M578.8 78.8h0M474.2 103.9h0M536.1 100h0M527.2 53.3h0M514.8 77.5h0M530.2 54.1h0M535.9 88h0M521.3 111h0M563.9 114.1h0M483.4 125.6h0M515.6 123.2h0M526.2 109.6h0M546.9 117.1h0M591.3 60.9h0M521.5 88.2h0M578.6 59.4h0M467.1 76.2h0M472.8 84.3h0M505.3 49.8h0M501.2 77.5h0M578.7 98h0M557.7 42.6h0M578.1 56.8h0M559.3 99.7h0M474.5 115.8h0M464.4 112.4h0M498.2 78.4h0M590 69.7h0M568.9 91h0M558.5 83.1h0M491.7 130.5h0M519.9 79.4h0M475.4 72.9h0M546.5 28.7h0M577.1 84.6h0M594.6 92h0M465.1 73.7h0M577.9 49.6h0M557.9 54.2h0M579.9 62.2h0M529 65.2h0M560.5 101.9h0M566.8 67.2h0M481.6 128.7h0M499.5 64.3h0M537 102.4h0M496.9 92.8h0M545.5 97.5h0M518.4 46.1h0M531.2 52.1h0M554.2 48.9h0M512.7 112.8h0M573.5 48.8h0M486.9 115.2h0M516.1 43.6h0M503.7 92.7h0M491.4 32.3h0M500.6 59.1h0M497.7 52.6h0M579.1 87.4h0M571.6 56.1h0M556.2 109.9h0M534.5 66.1h0M479.9 81.2h0M534 120h0M575.6 64.5h0M563.6 97.7h0M583.1 56.4h0M469.8 109.3h0M486.1 120.7h0M562.1 35.2h0M488.2 60.9h0M523.6 110.9h0M536.9 73.4h0M516.3 78.2h0M530.1 28.8h0M560.8 47.1h0M468 99h0M535.4 83.2h0M571.6 99.2h0M490.7 133h0M577.2 86.9h0M526 34h0M590.2 78.6h0M493.4 92.8h0M574.4 37.7h0M480.6 134h0M529.6 39.1h0M575.4 84.7h0M566.7 89.5h0M521.8 75h0M464.5 123h0M482.2 40.7h0M507.6 30.5h0M473.4 122.3h0M588.2 68.4h0M585.5 90.6h0M482.2 36.1h0M513.2 102.8h0M511 54.2h0M555.4 85.8h0M588.2 98.9h0M572.4 109.3h0M548.4 116.3h0M583.5 95.9h0M474.8 97.4h0M534.7 36.9h0M531.9 28.1h0M494.2 41.6h0M512.8 105.8h0M523.6 55h0M532.4 40.4h0M494.2 78.5h0M550.1 99.3h0M480.6 82.7h0M575.9 78.1h0M584.2 42.6h0M508.8 122h0M547.7 50.6h0M493.5 90.9h0M554.3 75.3h0M576.4 90.1h0M589.1 50.5h0M512.5 35.5h0M533.3 136.1h0M582.8 107.3h0M524.8 140h0M558.4 134.5h0M603.9 128.5h0" stroke="#dc961a" stroke-width="2.85" stroke-linecap="round"/>
<path d="M549.8 106.6h0M503.7 61.5h0M477.4 69.1h0M507.4 116.1h0M524.4 114.5h0M551.9 83.4h0M592.9 80.3h0M469.9 111.1h0M576.3 120.7h0" stroke="#3fe03f" stroke-width="2.85" stroke-linecap="round"/>
<path d="M578.4 45.7h0M555.4 39.2h0M513.9 120.3h0M583.5 85.9h0M498 82.3h0M583.4 41.1h0M502.3 59.7h0M496.4 78.3h0M466.1 107.2h0M519.9 32h0M527.6 39.2h0M552.6 29h0M521.4 69.1h0M520.2 100.2h0M482.9 121h0M473 53.5h0M513.9 53.7h0M559.4 92.9h0M481.7 109.9h0M502.9 47.8h0M498.5 95h0M557.3 64.1h0M575.3 39.1h0M509.2 52.2h0M533.7 33.8h0M539.5 92.8h0M510 62.4h0M571.8 103h0M554.4 55.4h0M538.3 71.4h0M520.9 116.4h0M473.6 120.6h0M570.3 78.4h0M512.7 125.3h0M491.8 109.4h0M524.1 29.7h0M569.1 94.3h0M572.7 72.3h0M517.2 117.9h0M519.9 92.3h0M556.3 60.8h0M566.2 78.1h0M518.3 114.2h0M524.2 31.4h0M515.5 90h0M493.4 123.2h0M563.1 32.7h0M566.9 79.6h0M501.4 128.8h0M598.5 62.1h0M494.9 43.7h0M568.9 53.3h0M577.8 37.3h0M545 108.3h0M494.8 30.3h0M578.2 82.2h0M545.7 99.5h0M572.8 89h0M572.7 105.5h0M581.4 59.7h0M519.2 95.3h0M595.8 85.1h0M486.6 54.5h0M505.1 51.6h0M482.6 47.3h0M547.3 79.3h0M491.3 80h0M479.7 79.4h0M512 52h0M553.6 116.9h0M527.9 51.4h0M538.6 94.6h0M508.6 106.8h0M566.1 108.5h0M536.3 46.8h0M489.4 102.7h0M541 62h0M580.2 103.7h0M483.5 49.8h0M557.9 57.2h0M524.6 26.6h0M550.5 50.6h0M483 104.9h0M558 72.2h0M566.4 59.2h0M547.4 76.8h0M562 108.1h0M574.5 86.8h0M528.4 107.2h0M507.8 99.7h0M524.3 64.2h0M506.5 63.7h0M538.5 84.7h0M560.5 35.4h0M536.4 67.6h0M491 87.3h0M581.2 42h0M566 42.8h0M533.4 118h0M549.4 109.3h0M539.7 60.7h0M472.1 105.5h0M525.7 79.2h0M538.7 120.8h0M529 87h0M470.6 127.5h0M464.1 97.5h0M492.4 95.3h0M508.8 83.7h0M470.1 90h0M502.2 100.3h0M566.5 74.3h0M596.9 86.3h0M505 65.6h0M473.2 62.7h0M511.8 69.8h0M497.2 61.5h0M551.5 63h0M468.1 105.1h0M550.7 48.8h0M595.8 64.1h0M525.7 54.4h0M528.5 71.6h0M534.5 81.6h0M575.7 36.6h0M496.1 115.9h0M526.1 37.9h0M604 116.1h0M574 138.8h0M589.1 120.3h0M604.1 134.7h0M547 141.2h0" stroke="#dc961a" stroke-width="2.85" stroke-linecap="round"/>
<path d="M533.6 108.3h0M480.5 126.3h0M596.7 53.1h0M483.8 55.3h0M498 39.5h0M470.1 73h0M471.8 61.4h0M576.2 46.2h0M535.4 57.4h0M465.7 81.2h0M522 32h0M504.9 106.3h0M498.9 60.7h0M588.5 48.3h0M572 68.9h0M507.6 47.6h0M461.2 104.4h0M544.1 29h0M501.2 120.7h0M502.7 49.8h0M551.5 91.7h0M575.9 56.9h0M501.6 34h0M488.2 132.1h0M508.2 32.9h0M500.2 53.5h0M583.5 90.9h0M533.2 67.2h0M566.7 110.2h0M542.5 64.4h0M493.4 97.3h0M525.9 103.4h0M513.2 80.8h0M541.3 33.5h0M471 120.3h0M478.4 42.3h0M586.3 64.8h0M474.1 89.8h0M512.3 96.6h0M479.1 68.6h0M502.7 122.3h0M537.1 64.5h0M588.1 97h0M525.9 82.2h0M584.5 55.3h0M488 76.3h0M523.6 90.9h0M502.9 51.8h0M496.7 100.7h0M495.9 42.4h0M530.5 40.7h0M505 101.4h0M510 89.3h0M496.1 86.3h0M559.3 56.1h0M567.1 52.9h0M595.7 88h0M513.7 68.5h0M479 74.1h0M518.6 93.8h0M500.2 66.4h0M509.8 114.1h0M527.2 64.5h0M550.7 119.8h0M562.8 74.6h0M492.5 61.3h0M500.7 109.4h0M535.8 60.1h0M470.1 98.6h0M530.3 121.4h0M567.7 42.4h0M548.7 43.2h0M584.7 77.3h0M589.5 88.8h0M493.7 55.7h0M510.5 65.7h0M494.6 89.7h0M496.1 88.6h0M495.6 121.1h0M507.2 51h0M581.3 95.2h0M483.6 41.8h0M587.3 79.2h0M545 88.9h0M471.9 114.6h0M595.2 82.5h0M557.5 62.3h0M490 72.7h0M555.3 67.3h0M483.9 78.9h0M556.2 81.8h0M474.2 67.5h0M532.6 75.8h0M552.2 39.5h0M479 129.7h0M502 87.9h0M565.9 55h0M517 84.2h0M540.9 65.9h0M505.9 30.3h0M485.3 125.1h0M588.2 83.3h0M466.2 69.7h0M475.1 76.3h0M563.2 52.6h0M476.3 104.1h0M471.9 44.1h0M565.4 32.7h0M503.9 76.8h0M506 112.8h0M481.6 80.7h0M509.1 29.7h0M540 47.5h0M535.7 52.3h0M470.4 64.8h0M512.1 117.9h0M553.1 44h0M478.3 38h0M480.7 117.4h0M532 71.1h0M563 67.9h0M546.6 53.8h0M597.3 82.1h0M546.9 48.5h0M492.9 59.1h0M505.4 103.6h0M493.7 100.6h0M480.5 131.2h0M596.1 80.3h0M530.2 31.9h0M549.4 59.7h0M587.5 77.5h0M547.8 41h0M538.8 73.4h0M514.8 39.5h0M508.1 80.7h0M550.5 71.3h0M508.5 60.7h0M518.9 26.7h0M472.6 64.3h0M470 81.4h0M574.1 58.6h0M570.1 50.6h0M536.8 58.7h0M474.7 40.5h0M585.3 44.1h0M478 64.2h0M527.3 48.6h0M544.3 61.8h0M517.1 98.7h0M498.1 41.2h0M539.5 57.6h0M505.6 44.3h0M518.5 61.5h0M530.6 26.7h0M475.7 108.2h0M529.7 119.5h0M491.8 65.3h0M520.4 81.7h0M534.2 78.8h0M492.1 45.1h0M526 87.1h0M518.6 102.3h0M565.6 62.9h0M569 72h0M482.4 45.2h0M474.3 126.9h0M583.9 64.3h0M523.4 119.1h0M535.9 85.8h0M478.1 111.3h0M485.4 39h0M545 65.9h0M520.2 76.3h0M518.9 72.7h0M516.4 59.8h0M580.6 71.8h0M513.1 34h0M496.4 58.2h0M521.2 102.5h0M552.8 76.7h0M513.8 70.3h0M547.9 58.1h0M566.1 94.2h0M494.6 66h0M504.5 111.7h0M530.3 62.4h0M528.2 125.3h0M502.1 75.8h0M476.5 115.7h0M571 88.9h0M473 118.9h0M516.2 29.4h0M514.8 97.8h0M528.9 96.3h0M575.3 41.3h0M533.8 60.9h0M534.8 32.4h0M543 30.4h0M563.7 69.7h0M480.5 64.3h0M529.1 52.7h0M572.5 92.9h0M593.4 75.6h0M494.6 74.9h0M509.8 77.6h0M518.3 76.3h0M507.1 39.8h0M509.7 120.3h0M532.1 93.8h0M545.6 76.6h0M560.7 79.8h0M552.4 69h0M558.3 60.9h0M519.2 36.2h0M465.4 96h0M503.4 88.9h0M587.7 94.3h0M555.4 37.3h0M578.6 126.2h0M571.7 120.6h0M595.8 124.4h0M559.4 130.7h0M595.3 115.3h0" stroke="#1ab8cc" stroke-width="2.85" stroke-linecap="round"/>
<path d="M488.6 31.7h0M521.1 36.6h0M497.1 102.8h0M562.3 90.6h0M484.5 69.6h0M505.9 110.4h0M499.6 103.3h0M583.3 88.5h0M501.9 118.8h0M528.1 112.2h0M546.7 110.9h0M570.3 61.2h0M513.1 88h0M509.2 124h0M548.3 120.6h0M470.7 91.5h0M475.2 134.2h0M534 58.3h0M543.9 77.3h0M591.3 84.6h0M526 122.7h0M524.8 125.3h0M514.8 105.9h0M497.8 55.3h0M560 61.4h0M585.5 82.8h0M478.9 127.3h0M470.3 135.2h0M463.5 93.5h0M491.1 54.1h0M506.8 125h0M564.3 111.4h0M535.3 117h0M500.8 92.8h0M528.2 43.9h0M552.6 119.9h0M511 107.1h0M498.8 89.7h0M554.1 77.7h0M525.7 46.2h0M581.7 79.5h0M501.1 86h0M587.7 57.8h0M576 79.8h0M469.1 91.6h0M507.5 89.9h0M504.5 119.2h0M562.1 100.7h0M539.1 88.2h0M544.1 83.6h0M555.5 116.6h0M547.4 93.4h0M566.7 48.5h0M588.4 59.6h0M538.2 36.6h0M484.2 86.5h0M508.5 94.4h0M520.9 125.4h0M586 68.7h0M485.3 103.9h0M518.8 38.9h0M545 121.6h0M491.7 128.8h0M586.8 73.1h0M526.2 74.3h0M469.4 125.7h0M489.7 80.5h0M462.5 125.9h0M484.6 111.2h0M546.3 119h0M558.9 86h0M545.3 33.7h0M544.2 46.9h0M554.7 104.5h0M526.6 99h0M476.5 79.7h0M481.1 62.6h0M486.2 130.8h0M544.6 118h0M530.8 82.7h0M543.7 41.8h0M563.8 49.2h0M573.6 76.7h0M473.1 102.3h0M541.9 48h0M527.7 77h0M591.5 57.2h0M573.3 70.1h0M579.1 70.5h0M553.8 99.5h0M467.6 81.1h0M476.7 42.1h0M533.5 56.3h0M493.4 88.2h0M519.3 106.9h0M548.6 74.7h0M589.5 130h0M579.3 114.6h0M554 127.6h0M603.3 111h0" stroke="#d41010" stroke-width="2.85" stroke-linecap="round"/>
<path d="M462.4 122.3h0M547.9 99h0M485.2 53.6h0M462 101.1h0M564 81.8h0M552.6 107.4h0M466.6 132.8h0M496.2 65.5h0M564.9 66.2h0M586.2 55.3h0M536.2 79h0M558.5 108.4h0M527.9 75h0M545.9 51.2h0M472.1 116.8h0M524.6 39.2h0M488.9 107.9h0M492.6 118.8h0M507.8 78.6h0M587.3 66.5h0M508.7 49.4h0M489.4 86.4h0M503.6 95.2h0M514.1 48.1h0M556.3 102.8h0M466.2 121.2h0M537.7 77h0M529.1 33.8h0M464.3 124.8h0M538.4 116.7h0M476.5 127.6h0M548.9 63.2h0M518.1 63.3h0M465.8 87.5h0M475.9 67.7h0M541.9 114.8h0M516.8 52.8h0M531 104.8h0M497.9 85h0M484.5 116.4h0M503.5 66.9h0M541.8 52.9h0M466.6 90.7h0M498.9 73h0M523.7 46h0M497.4 119.8h0M505.8 92.6h0M539.1 43.6h0M468.1 94.7h0M480.5 76.8h0M497.8 129.5h0M576.2 88.3h0M467.5 67.5h0M561.5 32.1h0M544.7 36.4h0M522.8 86.8h0M523 108.9h0M594.7 79.4h0M589.1 45.5h0M510.8 43.7h0M467.5 117.6h0M575.8 62.6h0M477.4 91.8h0M468.9 84.8h0M597.1 89.3h0M525 111.9h0M490.8 89.3h0M476.2 45.5h0M491.4 121.7h0M519.6 53.2h0M562.7 106.4h0M492.3 38.9h0M564.2 107.4h0M521.4 33.6h0M508 113.8h0M574.5 90.1h0M502.8 105.7h0M501.2 111.3h0M562.2 43.9h0M474.9 136.4h0M547 32.9h0M509.3 67.3h0M490.3 48.5h0M555.7 44.2h0M527.1 36.3h0M579.1 39.5h0M569.2 63h0M478.5 105.1h0M521.7 50.4h0M499.7 38.4h0M515.2 37h0M497.7 71.9h0M476.6 120.1h0M524.5 77.2h0M545.3 84.8h0M540.8 104.3h0M523.8 58.6h0M584.5 66.9h0M575.3 55.2h0M558.9 51h0M498.9 31.1h0M557 96.2h0M583.6 102.3h0M523.7 49.7h0M486.4 52.2h0M525.3 116.5h0M537.2 121.7h0M537.1 43.3h0M535.2 44h0M568.5 110.6h0M472.7 79.7h0M527.3 59.8h0M573.6 68.5h0M536 28.9h0M565.3 70.8h0M465.5 101.3h0M573.1 97.5h0M556.2 71.2h0M518.1 96.6h0M546.7 121.5h0M507.6 67.9h0M537.3 32.6h0M507.4 75.3h0M557.1 107.1h0M479.1 116.5h0M558.1 74.1h0M500.2 43.4h0M601 136.3h0M605.3 124.9h0M598 139.6h0M493.6 135.8h0M600.5 124.4h0" stroke="#dc961a" stroke-width="2.85" stroke-linecap="round"/>
<path d="M577 95.9h0M554.3 97.6h0M527.9 103.9h0M596.5 71.2h0M530.1 107.1h0M511.5 49.6h0M587.4 74.8h0M498.6 69h0M533.9 48.3h0M516.3 69h0M527.7 45.6h0M487.8 71.1h0M488.2 50.5h0M563.1 42.4h0M553.3 62.1h0M539.6 55.3h0M467.2 100.7h0M474.1 45.6h0M480.7 49.7h0M515.9 82.1h0M540.5 28.5h0M489.8 105.2h0M543.1 70.7h0M523.7 88.6h0M537.4 66.1h0M520.1 103.7h0M483.5 117.6h0M542.4 75.6h0M462.2 88.5h0M488.4 44.6h0M557.5 87.7h0M542.8 32.7h0M559.3 58.9h0M479.5 70.5h0M516.1 27h0M535.2 49.8h0M478.1 49.7h0M495.9 110.4h0M575.4 69.9h0M542.5 56.3h0M561.2 82.2h0M546.3 58.6h0M556.2 114.4h0M548.7 37.1h0M547.8 55.7h0M523.4 67.5h0M543.3 91.4h0M561.2 70.1h0M564.2 99.6h0M562.3 54.6h0M568.4 40.5h0M522.6 123.3h0M522.3 38.3h0M583.9 83.5h0M512 55.9h0M546.1 30.3h0M547.5 102.4h0M470.9 53.8h0M492.5 89.6h0M491.8 99.1h0M526.6 31h0M466.5 93.9h0M493.6 33.1h0M581.5 77.3h0M571.4 44.1h0M569.1 74h0M568.5 79.6h0M526.9 95.8h0M534.7 102.4h0M496.1 50.1h0M483.5 129.2h0M591.3 53.8h0M495.1 114.6h0M485.6 48.2h0M593.9 59.5h0M572.7 38.2h0M533.4 35.6h0M595.4 69.7h0M518.1 59.4h0M497.9 63.1h0M525.9 76.4h0M585.7 41.7h0M580.7 50.3h0M514.3 44.6h0M486.4 80.9h0M530.5 114.7h0M542.6 67.5h0M539.8 35.4h0M537.2 41.2h0M511.4 67.6h0M544 86.6h0M517.7 27.9h0M499.6 82h0M570.5 52.2h0M569.4 83.1h0M488.5 129.9h0M485.8 127h0M516.8 49h0M496.4 74.9h0M529.3 49.1h0M542.9 50.9h0M464.1 90.5h0M477.9 57.5h0M511.3 87.4h0M549.4 91.9h0M495 119.5h0M542.7 46h0M526.4 61.5h0M561.1 65.4h0M513.3 26.5h0M570.3 87.3h0M503.3 109.5h0M469.2 96.5h0M528.7 92.5h0M567.1 32.8h0M495.7 63.7h0M465.1 99.1h0M515.6 75.6h0M591.7 88.3h0M561.1 115.6h0M562.3 40.9h0M487.1 105.3h0M532 112.6h0M579.2 95.3h0M469.4 112.7h0M529.5 35.8h0M551 89.6h0M468.6 58.1h0M574.9 43.7h0M505.6 40.4h0M579.6 55.6h0M593.4 67.4h0M549.2 76.3h0M469.5 77.4h0M554.3 57.5h0M529.6 79.4h0M522.3 35.2h0M589.8 90.8h0M478.8 61.2h0M553.6 64.3h0M497.4 48h0M551.3 61.1h0M545.1 82h0M554.6 118.4h0M495.7 106.7h0M567.9 103h0M591.2 75h0M579.4 48h0M477.8 75.9h0M531.6 110.3h0M515.6 103.7h0M510.9 123.5h0M520.6 63.8h0M486.9 102.6h0M599.1 66.8h0M489.1 96.4h0M598.7 71.5h0M498.6 117h0M483.8 64.4h0M476.6 85.6h0M480.2 54.7h0M529.3 105h0M470.5 66.5h0M516.2 87.9h0M529.1 57.2h0M524.2 41.4h0M516.1 56.9h0M493.1 37.3h0M514.9 102.2h0M539.7 45.1h0M498 87.8h0M461.6 132.8h0M494 98.9h0M497.7 29.4h0M562.4 113.1h0M578.8 104.6h0M547 37.8h0M524.4 69h0M574.3 71.7h0M511.4 37.5h0M564.2 63.8h0M558 91.8h0M543 38.6h0M556.5 65.9h0M568.4 51.5h0M511.2 91h0M487.3 126.2h0M595.8 73.3h0M568.1 84.2h0M506.6 106.7h0M561.8 71.7h0M557.9 66.9h0M504.4 37.6h0M513.4 49.9h0M562 57.6h0M557.4 70h0M467.2 62.8h0M510.4 45.6h0M470.7 124.3h0M484.3 35h0M548.6 85.8h0M526.1 113.5h0M474.4 83h0M520.1 109.6h0M486.2 108h0M477.1 133.5h0M490.1 127.9h0M526.4 26.7h0M582.9 76.3h0M496.1 108.5h0M498.7 59h0M517.2 124.3h0M531.3 102.6h0M564 54.2h0M555.2 59h0M580 74.7h0M561.4 39.2h0M518.2 54.1h0M515.4 50.1h0M489.3 139h0M572.8 126.5h0M581 132.8h0M519.3 131.3h0M551.4 136h0" stroke="#1ab8cc" stroke-width="2.85" stroke-linecap="round"/>
<path d="M555.8 84.1h0M472.1 74.8h0M553.7 93.4h0M535.5 121.6h0M488.5 81.9h0M512.3 122.4h0M532.5 62.2h0M507.8 73.6h0M500.6 130.8h0M484.2 119.9h0M532.8 103.3h0M557.6 94.4h0M487.5 106.9h0M499.1 124.3h0M482.2 86.5h0M527 83.5h0M531.5 100.8h0M523.7 96.3h0M542.2 105.5h0M582.5 70.3h0M526.5 41.9h0M504.2 87h0M468.8 115.1h0M531.6 80.9h0M519.1 119.1h0M544.2 31.7h0M477 70.9h0M571.8 49.6h0M498.6 99.2h0M537.7 112.4h0M465 118.9h0M550 82.6h0M480.5 103.6h0M505.3 116.9h0M477.1 40.4h0M587.5 43.8h0M486.2 134.1h0M524.3 107.4h0M503.8 35.9h0M493.7 64.2h0M509 103.9h0M572.6 85.6h0M545.5 79.2h0M484.6 106.7h0M467.5 130.2h0M490.2 125.9h0M556.2 97.9h0M572.8 82.9h0M500.1 119.3h0M470.2 83.2h0M465.9 79.5h0M543.3 110.3h0M519.3 86.5h0M509.6 129.1h0M490.1 59.6h0M537.3 83.1h0M496.2 54.8h0M528.9 26.4h0M480.7 108.2h0M482.7 108.5h0M576.4 106.9h0M510.9 29h0M543.3 104.1h0M531.6 116.3h0M555.3 94.9h0M572.9 66.7h0M561.3 111.2h0M487 83.1h0M555 61.9h0M522.7 126.8h0M491.8 115.7h0M551.3 110.3h0M523.4 116h0M486.2 33.1h0M516.8 122h0M483.6 76.4h0M509.8 117.1h0M531 97h0M506.1 99.9h0M494.9 34.6h0M470.2 57.4h0M461.7 94.4h0M496.2 72.7h0M471.7 100.2h0M502.2 80.2h0M484.3 46.9h0M477.5 67.2h0M491.4 104.3h0M486.4 44.4h0M542.8 44.2h0M562.1 93.8h0M538 81.5h0M476.7 101.5h0M497.4 106.9h0M541.1 89.7h0M504.9 57.5h0M515.9 140.7h0M504 134.4h0M565.4 119.9h0" stroke="#d41010" stroke-width="2.85" stroke-linecap="round"/>
<path d="M499.6 51.8h0M557.8 32.1h0M590.9 92.8h0M594 77.5h0M495.3 97.5h0M505.2 42.3h0M515.2 93.7h0M489.3 88.4h0M600.5 116.9h0" stroke="#3fe03f" stroke-width="2.85" stroke-linecap="round"/>
<path d="M468.8 120.6h0M488.6 69.3h0M507.8 38.1h0M527 88.8h0M484.1 96.9h0M474.4 128.7h0M564 84.7h0M550.9 108.4h0M575.8 72.7h0M495.4 39.6h0M529.4 75.9h0M578.2 75.2h0M501.3 95.2h0M487.6 89.1h0M547.3 60.7h0M518.7 108.5h0M505 90.1h0M594 71.4h0M574.8 67.2h0M498.6 127.1h0M494 109h0M586.1 95.2h0M551.2 103.5h0M516.7 46.4h0M494.2 83.4h0M492.3 56.6h0M564.5 47.3h0M517.8 44.4h0M560.8 42.2h0M518.7 82.6h0M500.7 49h0M539.6 33h0M567.8 97.5h0M491.8 111h0M536.6 36.4h0M546.3 71h0M589.2 73.6h0M472.1 68.3h0M531.6 30.2h0M538.9 122.5h0M503.4 58.1h0M554.2 72.7h0M468.2 90.1h0M481.2 124h0M548.5 52.9h0M474.9 53.6h0M567.5 54.5h0M581.2 99.8h0M514 95h0M507 35.5h0M578.2 92h0M533.4 64.5h0M522.6 64.5h0M539 75.7h0M546.4 35.9h0M529.9 123.8h0M513.3 78.6h0M553.4 30.8h0M547.9 108.3h0M483.8 80.6h0M487 98h0M461.5 107.3h0M482.2 83.4h0M523.7 74.9h0M465.3 131.3h0M502 97.7h0M544 72.4h0M512.9 90.6h0M572.4 95.8h0M481.1 122h0M559.9 94.7h0M504.9 94h0M554.2 113.6h0M585.9 93.6h0M492.1 106h0M557.1 105.3h0M486.2 112.9h0M581.6 102.3h0M583.8 59.9h0M583.8 80.3h0M575.3 82.8h0M571.8 57.8h0M465.9 83.4h0M480.9 72h0M499.9 115.8h0M486.6 68.8h0M481.8 132.5h0M543 93.3h0M510.2 105.1h0M530.9 90.4h0M492.1 84.6h0M523.7 81.9h0M535.2 110.2h0M493.8 70h0M515.8 95.4h0M529.8 112.3h0M559 116.4h0M496.3 128.5h0M589.7 94.4h0M581.6 87.8h0M487.4 111.6h0M490 43.8h0M473.3 55.5h0M475 130.3h0M469.5 51.6h0M470 118.9h0M577 38.8h0M595.6 60.6h0M561.2 60.3h0M505.6 126.3h0M572.9 51.3h0M464 87.9h0M548.1 100.8h0M568.1 108.9h0M463.6 81.9h0M537.6 51.8h0M571.9 101h0M514.6 87.4h0M524.9 80.8h0M539.9 26.9h0M591.6 64h0M509.8 31.4h0M509.5 91.1h0M574.4 60.2h0M499.3 128.6h0M524.7 61.1h0M488.2 46.3h0M580.2 119.4h0M486.8 142.5h0M607.7 136.6h0M597.2 102.7h0M566.3 129.5h0" stroke="#dc961a" stroke-width="2.85" stroke-linecap="round"/>
<path d="M546.3 80.8h0M530.3 46.2h0M508.8 57.7h0M521 56.9h0M473.2 77.5h0M525 66.9h0M471.3 96h0M482.1 38.9h0" stroke="#3fe03f" stroke-width="2.85" stroke-linecap="round"/>
<path d="M470.1 55.5h0M513.7 37.7h0M504 28.2h0M535.6 74.8h0M507.9 97.4h0M520.4 122.1h0M582.8 67.8h0M531.6 73.8h0M502 125.7h0M491.1 74.9h0M560.1 63.4h0M540.6 37.7h0M483.5 99.9h0M544.4 43.7h0M492.5 72h0M566.4 92.6h0M502.9 78.3h0M491 51.1h0M504.4 75h0M495.3 48.4h0M476.3 60.9h0M590.8 49.6h0M490.6 36.9h0M500.8 99h0M535.1 64.4h0M596 55.4h0M566.1 69.3h0M541.7 60.3h0M519.1 124.3h0M489.3 113h0M519.7 28.5h0M574.8 105.1h0M557.8 45.4h0M494.8 61.7h0M556 90h0M518.4 120.6h0M583.2 72h0M575.3 75.5h0M472.9 91.4h0M495 36.3h0M535.6 38.6h0M596.9 67.3h0M574.2 93.9h0M514.1 28.7h0M593.6 57.3h0M503.7 45.7h0M556.5 55.9h0M551.7 64.8h0M535.8 34.1h0M570.6 76.3h0M476.4 113.8h0M557.2 118.2h0M511.3 75.5h0M573.3 46h0M597.7 65.3h0M560.6 73.5h0M505.4 78.1h0M529.3 98.2h0M539.5 65h0M590.7 46.2h0M514.7 60.5h0M586.7 61.1h0M511.7 77.3h0M471.7 108.6h0M482.2 51.2h0M548.1 30.7h0M537.7 86.4h0M472.3 81.9h0M496 91.3h0M492.9 74.7h0M509.2 101.2h0M562.1 88.8h0M481.3 98h0M484 132.4h0M588.1 52.8h0M469.2 69.9h0M535.4 93.1h0M582.9 62h0M537.7 56.5h0M467.1 109.1h0M535.5 42.3h0M555.1 87.6h0M535.2 106.3h0M479.1 91.3h0M556.2 33.1h0M514.8 91.7h0M478.8 66h0M530.8 34.6h0M529.9 68h0M524.9 101.1h0M556.6 92.8h0M465.3 75.5h0M506 38.4h0M547.2 112.8h0M579.8 64.5h0M563.6 39.5h0M544.8 39.4h0M549.9 44.8h0M466.1 85.9h0M516.8 55.1h0M474 65.1h0M509.8 69.6h0M469 63.7h0M575.1 49.5h0M592.1 59.2h0M521.3 48.5h0M461.7 128.1h0M571 47.1h0M469.2 88.1h0M555.5 76.6h0M492 91.8h0M540.5 67.7h0M517.8 110.3h0M543.9 102.2h0M514.8 71.7h0M465.2 103h0M521.4 90.8h0M536.5 114.3h0M564.8 38h0M562.9 87h0M500.1 61.9h0M569.2 35.8h0M573.2 56.1h0M523.3 92.6h0M522.6 28.5h0M579.9 101.9h0M542.3 69.2h0M470.5 75.4h0M462.2 103.1h0M555.9 100.1h0M479.7 101.1h0M497.4 32.6h0M517.1 30.8h0M534.7 114h0M515.9 41.5h0M511.1 32.8h0M555.6 35.4h0M553.8 34.8h0M474.9 62.1h0M490.6 70.4h0M489.4 124.2h0M504.1 113.6h0M542.5 36.4h0M533.6 27h0M519.2 126.6h0M552 59.2h0M549.5 39.5h0M561.3 92.2h0M521.9 83.2h0M472 59.1h0M532.5 83h0M571 74.1h0M499.4 45.4h0M531.5 86.6h0M535.1 68.8h0M517.4 79.7h0M591.1 81.7h0M478.8 120.5h0M598 57.9h0M585.6 45.8h0M541.3 99.9h0M540.1 70.6h0M524.9 92.3h0M550.2 87.5h0M524 47.7h0M599.2 69.2h0M495.9 82.7h0M527.5 33h0M581.8 54.5h0M577.2 67.7h0M517.3 86.2h0M574.7 46.9h0M503.4 90.9h0M485.6 84.8h0M480.5 66.3h0M582.4 46h0M487.8 118.9h0M531.8 59.2h0M464.9 94.4h0M544.5 59.7h0M531.5 33h0M552.5 49.3h0M505 47.2h0M550.6 116.4h0M537 117.7h0M498.1 57.4h0M564.2 89.9h0M495.7 68h0M595.4 65.8h0M486.2 64.3h0M544.7 56.7h0M460.5 118.2h0M570.1 40.1h0M480.9 105.6h0M483.7 39.9h0M475.8 81.5h0M498.1 74.6h0M517.7 103.9h0M522.5 41.4h0M583.5 44.8h0M460.7 114h0M592.6 72.4h0M568.5 49.8h0M510 79.5h0M482.2 56.6h0M469.3 129.9h0M492 49.5h0M495.6 56.5h0M489.9 62h0M546.8 62.3h0M506.1 59.6h0M549.1 61.3h0M503.8 104.4h0M496.1 105.1h0M467.5 92.2h0M557.5 39.3h0M518.1 57.7h0M473.5 106.6h0M593.6 132.8h0M548.4 137.8h0M597.4 98h0M586.2 133.7h0M508.2 140.3h0M591.7 135.7h0" stroke="#1ab8cc" stroke-width="2.85" stroke-linecap="round"/>
<path d="M567 36.1h0M527.2 72.7h0M484.9 109.2h0M522.6 80.5h0M483.7 37h0M536.1 90.8h0M572.5 75.2h0M561.3 56h0M488.4 128.2h0M532.2 119.7h0M567 112h0M503 39.5h0M570.7 95h0M491.9 124.2h0M536.5 95.5h0M545.6 67.5h0M493.8 67.6h0M495.1 117.3h0M512.8 92.7h0M470.6 86.3h0M534.5 95.5h0M590 67.5h0M494.5 59.7h0M566.7 51.1h0M499.2 112.4h0M486 72.8h0M513.9 115.6h0M516.4 97.1h0M577 61.4h0M492.2 47.1h0M515.5 113.2h0M529.7 102.1h0M465.1 109.3h0M471.3 122.3h0M504.4 59.6h0M502.9 71.4h0M581.7 81.3h0M528.7 114.8h0M487.5 47.9h0M517.7 105.6h0M549.1 96.6h0M492.4 78.2h0M492.3 69h0M486.5 95.7h0M510 39h0M463.2 108h0M584.3 93.9h0M552 114.7h0M514.1 111.6h0M558.7 78.2h0M525 44.6h0M577.9 100.8h0M504.6 84.9h0M467.1 134.7h0M590.3 96.9h0M554.2 111.1h0M479 109.2h0M575.8 101.3h0M519.4 48h0M584.5 75.3h0M483.2 58.1h0M536.9 105.5h0M493.5 112.5h0M590.1 83.4h0M571 70.8h0M533.5 110h0M531.3 118.3h0M462.3 136.2h0M521 119.2h0M508 126.5h0M553.8 101.3h0M578.4 52.8h0M585.5 79.6h0M514.5 107.6h0M504.8 127.8h0M514.6 128.4h0M518.5 100.5h0M545.7 92h0M520.2 114.8h0M589 65.6h0M497.2 111.8h0M541 84.8h0M585 57.6h0M524.1 122.4h0M507.2 88h0M546.6 107.1h0M477.1 88.4h0M461.4 130.5h0M512.6 107.7h0M540.4 106.5h0M536.7 98h0M499.4 86.1h0M597.8 80.1h0M525.3 89.7h0M525.8 29.5h0M493.4 114.9h0M574.8 113.3h0M605.5 107.8h0M577.3 111h0" stroke="#d41010" stroke-width="2.85" stroke-linecap="round"/>
<path d="M463 137L478 128L495 119L510 113L530 110L545 108.5L560 103L572 97L582 85L590 70" fill="none" stroke="#d08c1a" stroke-width="4" stroke-opacity="0.9" stroke-linejoin="round"/>
<path d="M483.9 124L557.6 44.8L560.6 47.6L565.6 33.8L552.2 39.8L555.2 42.5L481.5 121.6Z" fill="#fff"/>
<path d="M547.4 104.8L494.3 50.4L497.2 47.6L483.6 42.7L488.2 56.4L491 53.6L544.2 108Z" fill="#000"/>
<text x="574.4" y="143.8" text-anchor="middle" class="sb">2 nm</text>
<path d="M556.3 146.4H590.2" stroke="#000" stroke-width="2.6"/>
<circle cx="626.9" cy="43.9" r="7.9" fill="#2ccad8"/>
<circle cx="664.9" cy="42.1" r="7.9" fill="#f50000"/>
<circle cx="628.5" cy="87.3" r="7.9" fill="#62f040"/>
<circle cx="664.9" cy="87.3" r="7.9" fill="#1268c8"/>
<circle cx="628.5" cy="125.3" r="7.9" fill="#f8aa30"/>
<circle cx="666.5" cy="124" r="7.9" fill="#d6d6d6"/>
<text x="616.2" y="62.8" class="lgd">CoO<tspan dy="2.2" style="font-size:8.5px">x</tspan></text>
<text x="653" y="62.8" class="lgd">CrO<tspan dy="2.2" style="font-size:8.5px">y</tspan></text>
<text x="630.2" y="108.8" text-anchor="middle" class="lgd">OD</text>
<text x="666.5" y="108.8" text-anchor="middle" class="lgd">K</text>
<text x="629.5" y="145.8" text-anchor="middle" class="lgd">O</text>
<text x="667.5" y="145.8" text-anchor="middle" class="lgd">Ni</text>
</svg></body></html>
